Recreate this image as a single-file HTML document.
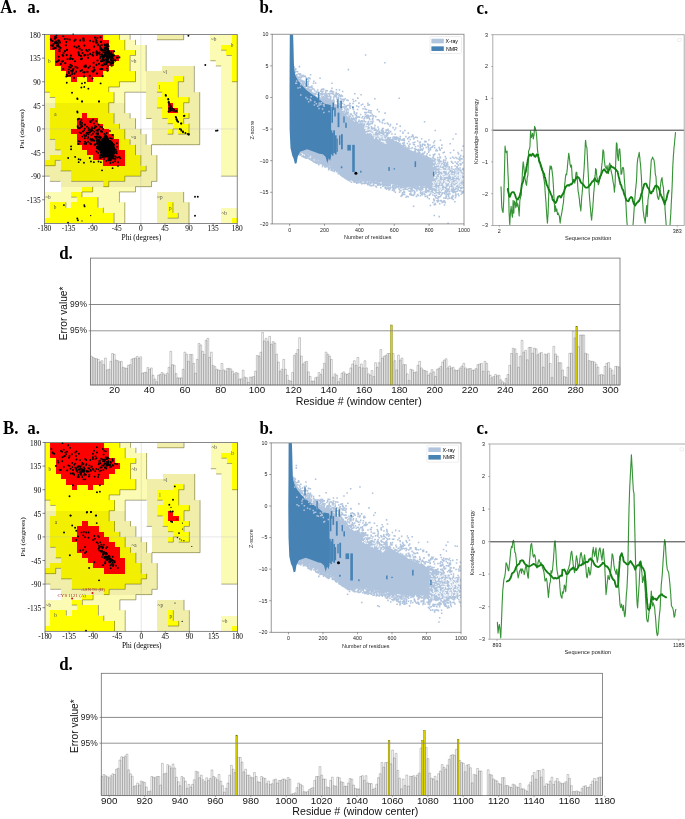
<!DOCTYPE html>
<html><head><meta charset="utf-8"><style>
html,body{margin:0;padding:0;background:#fff;width:685px;height:819px;overflow:hidden}
svg{display:block;will-change:transform}
</style></head><body>
<svg width="685" height="819" viewBox="0 0 685 819">
<rect width="685" height="819" fill="#fff"/>
<text transform="translate(0.20,13.40) scale(0.965,1.1)" font-size="17.5" font-family='"Liberation Serif", serif' font-weight="bold" fill="#000">A.</text>
<text transform="translate(27.20,13.30) scale(0.965,1.1)" font-size="17.5" font-family='"Liberation Serif", serif' font-weight="bold" fill="#000">a.</text>
<text transform="translate(259.40,13.10) scale(0.965,1.1)" font-size="17.5" font-family='"Liberation Serif", serif' font-weight="bold" fill="#000">b.</text>
<text transform="translate(476.60,13.50) scale(0.965,1.1)" font-size="17.5" font-family='"Liberation Serif", serif' font-weight="bold" fill="#000">c.</text>
<text transform="translate(59.20,258.80) scale(0.965,1.1)" font-size="17.5" font-family='"Liberation Serif", serif' font-weight="bold" fill="#000">d.</text>
<text transform="translate(3.00,433.80) scale(0.965,1.1)" font-size="17.5" font-family='"Liberation Serif", serif' font-weight="bold" fill="#000">B.</text>
<text transform="translate(27.20,433.80) scale(0.965,1.1)" font-size="17.5" font-family='"Liberation Serif", serif' font-weight="bold" fill="#000">a.</text>
<text transform="translate(259.40,433.60) scale(0.965,1.1)" font-size="17.5" font-family='"Liberation Serif", serif' font-weight="bold" fill="#000">b.</text>
<text transform="translate(476.60,433.70) scale(0.965,1.1)" font-size="17.5" font-family='"Liberation Serif", serif' font-weight="bold" fill="#000">c.</text>
<text transform="translate(59.20,669.90) scale(0.965,1.1)" font-size="17.5" font-family='"Liberation Serif", serif' font-weight="bold" fill="#000">d.</text>
<g transform="translate(44.50,34.50)">
<g shape-rendering="crispEdges">
<rect x="0.00" y="0.00" width="5.40" height="5.30" fill="#ffff00"/>
<rect x="5.35" y="0.00" width="53.58" height="5.30" fill="#ff0000"/>
<rect x="58.88" y="0.00" width="16.11" height="5.30" fill="#ffff00"/>
<rect x="74.94" y="0.00" width="10.76" height="5.30" fill="#fcfbb4"/>
<rect x="112.41" y="0.00" width="26.81" height="5.30" fill="#f0eea8"/>
<rect x="165.94" y="0.00" width="21.46" height="5.30" fill="#fcfbb4"/>
<rect x="187.35" y="0.00" width="5.40" height="5.30" fill="#ffff00"/>
<rect x="0.00" y="5.25" width="5.40" height="5.30" fill="#ffff00"/>
<rect x="5.35" y="5.25" width="58.93" height="5.30" fill="#ff0000"/>
<rect x="64.23" y="5.25" width="16.11" height="5.30" fill="#ffff00"/>
<rect x="80.29" y="5.25" width="10.76" height="5.30" fill="#fcfbb4"/>
<rect x="165.94" y="5.25" width="21.46" height="5.30" fill="#fcfbb4"/>
<rect x="187.35" y="5.25" width="5.40" height="5.30" fill="#ffff00"/>
<rect x="0.00" y="10.49" width="5.40" height="5.30" fill="#ffff00"/>
<rect x="5.35" y="10.49" width="58.93" height="5.30" fill="#ff0000"/>
<rect x="64.23" y="10.49" width="16.11" height="5.30" fill="#ffff00"/>
<rect x="80.29" y="10.49" width="21.46" height="5.30" fill="#fcfbb4"/>
<rect x="165.94" y="10.49" width="10.76" height="5.30" fill="#fcfbb4"/>
<rect x="176.64" y="10.49" width="16.11" height="5.30" fill="#ffff00"/>
<rect x="0.00" y="15.74" width="10.76" height="5.30" fill="#ffff00"/>
<rect x="10.71" y="15.74" width="58.93" height="5.30" fill="#ff0000"/>
<rect x="69.59" y="15.74" width="21.46" height="5.30" fill="#ffff00"/>
<rect x="91.00" y="15.74" width="10.76" height="5.30" fill="#fcfbb4"/>
<rect x="165.94" y="15.74" width="16.11" height="5.30" fill="#fcfbb4"/>
<rect x="181.99" y="15.74" width="10.76" height="5.30" fill="#ffff00"/>
<rect x="0.00" y="20.99" width="10.76" height="5.30" fill="#ffff00"/>
<rect x="10.71" y="20.99" width="64.28" height="5.30" fill="#ff0000"/>
<rect x="74.94" y="20.99" width="10.76" height="5.30" fill="#ffff00"/>
<rect x="85.64" y="20.99" width="16.11" height="5.30" fill="#fcfbb4"/>
<rect x="165.94" y="20.99" width="21.46" height="5.30" fill="#fcfbb4"/>
<rect x="187.35" y="20.99" width="5.40" height="5.30" fill="#ffff00"/>
<rect x="0.00" y="26.24" width="10.76" height="5.30" fill="#ffff00"/>
<rect x="10.71" y="26.24" width="58.93" height="5.30" fill="#ff0000"/>
<rect x="69.59" y="26.24" width="16.11" height="5.30" fill="#ffff00"/>
<rect x="85.64" y="26.24" width="16.11" height="5.30" fill="#fcfbb4"/>
<rect x="171.29" y="26.24" width="16.11" height="5.30" fill="#fcfbb4"/>
<rect x="187.35" y="26.24" width="5.40" height="5.30" fill="#ffff00"/>
<rect x="0.00" y="31.48" width="16.11" height="5.30" fill="#ffff00"/>
<rect x="16.06" y="31.48" width="48.22" height="5.30" fill="#ff0000"/>
<rect x="64.23" y="31.48" width="21.46" height="5.30" fill="#ffff00"/>
<rect x="85.64" y="31.48" width="16.11" height="5.30" fill="#fcfbb4"/>
<rect x="117.76" y="31.48" width="32.17" height="5.30" fill="#f0eea8"/>
<rect x="176.64" y="31.48" width="10.76" height="5.30" fill="#fcfbb4"/>
<rect x="187.35" y="31.48" width="5.40" height="5.30" fill="#ffff00"/>
<rect x="0.00" y="36.73" width="21.46" height="5.30" fill="#ffff00"/>
<rect x="21.41" y="36.73" width="37.52" height="5.30" fill="#ff0000"/>
<rect x="58.88" y="36.73" width="32.17" height="5.30" fill="#ffff00"/>
<rect x="91.00" y="36.73" width="10.76" height="5.30" fill="#fcfbb4"/>
<rect x="101.70" y="36.73" width="48.22" height="5.30" fill="#f0eea8"/>
<rect x="176.64" y="36.73" width="10.76" height="5.30" fill="#fcfbb4"/>
<rect x="187.35" y="36.73" width="5.40" height="5.30" fill="#ffff00"/>
<rect x="0.00" y="41.98" width="26.81" height="5.30" fill="#ffff00"/>
<rect x="26.76" y="41.98" width="5.40" height="5.30" fill="#ff0000"/>
<rect x="32.12" y="41.98" width="10.76" height="5.30" fill="#ffff00"/>
<rect x="42.82" y="41.98" width="5.40" height="5.30" fill="#ff0000"/>
<rect x="48.17" y="41.98" width="42.87" height="5.30" fill="#ffff00"/>
<rect x="91.00" y="41.98" width="10.76" height="5.30" fill="#fcfbb4"/>
<rect x="101.70" y="41.98" width="26.81" height="5.30" fill="#f0eea8"/>
<rect x="128.47" y="41.98" width="10.76" height="5.30" fill="#ffff00"/>
<rect x="139.17" y="41.98" width="10.76" height="5.30" fill="#f0eea8"/>
<rect x="176.64" y="41.98" width="10.76" height="5.30" fill="#fcfbb4"/>
<rect x="187.35" y="41.98" width="5.40" height="5.30" fill="#ffff00"/>
<rect x="0.00" y="47.23" width="74.99" height="5.30" fill="#ffff00"/>
<rect x="74.94" y="47.23" width="26.81" height="5.30" fill="#fcfbb4"/>
<rect x="101.70" y="47.23" width="10.76" height="5.30" fill="#f0eea8"/>
<rect x="112.41" y="47.23" width="21.46" height="5.30" fill="#ffff00"/>
<rect x="133.82" y="47.23" width="16.11" height="5.30" fill="#f0eea8"/>
<rect x="176.64" y="47.23" width="16.11" height="5.30" fill="#fcfbb4"/>
<rect x="0.00" y="52.47" width="64.28" height="5.30" fill="#ffff00"/>
<rect x="64.23" y="52.47" width="37.52" height="5.30" fill="#fcfbb4"/>
<rect x="101.70" y="52.47" width="10.76" height="5.30" fill="#f0eea8"/>
<rect x="112.41" y="52.47" width="21.46" height="5.30" fill="#ffff00"/>
<rect x="133.82" y="52.47" width="16.11" height="5.30" fill="#f0eea8"/>
<rect x="176.64" y="52.47" width="16.11" height="5.30" fill="#fcfbb4"/>
<rect x="0.00" y="57.72" width="5.40" height="5.30" fill="#fcfbb4"/>
<rect x="5.35" y="57.72" width="64.28" height="5.30" fill="#ffff00"/>
<rect x="69.59" y="57.72" width="10.76" height="5.30" fill="#fcfbb4"/>
<rect x="101.70" y="57.72" width="16.11" height="5.30" fill="#f0eea8"/>
<rect x="117.76" y="57.72" width="16.11" height="5.30" fill="#ffff00"/>
<rect x="133.82" y="57.72" width="21.46" height="5.30" fill="#f0eea8"/>
<rect x="176.64" y="57.72" width="16.11" height="5.30" fill="#fcfbb4"/>
<rect x="0.00" y="62.97" width="10.76" height="5.30" fill="#fcfbb4"/>
<rect x="10.71" y="62.97" width="58.93" height="5.30" fill="#ffff00"/>
<rect x="69.59" y="62.97" width="10.76" height="5.30" fill="#fcfbb4"/>
<rect x="101.70" y="62.97" width="10.76" height="5.30" fill="#f0eea8"/>
<rect x="112.41" y="62.97" width="32.17" height="5.30" fill="#ffff00"/>
<rect x="144.53" y="62.97" width="10.76" height="5.30" fill="#f0eea8"/>
<rect x="176.64" y="62.97" width="16.11" height="5.30" fill="#fcfbb4"/>
<rect x="0.00" y="68.21" width="10.76" height="5.30" fill="#f0eea8"/>
<rect x="10.71" y="68.21" width="53.58" height="5.30" fill="#f2f000"/>
<rect x="64.23" y="68.21" width="16.11" height="5.30" fill="#f0eea8"/>
<rect x="101.70" y="68.21" width="10.76" height="5.30" fill="#f0eea8"/>
<rect x="112.41" y="68.21" width="10.76" height="5.30" fill="#ffff00"/>
<rect x="123.11" y="68.21" width="5.40" height="5.30" fill="#ff0000"/>
<rect x="128.47" y="68.21" width="10.76" height="5.30" fill="#ffff00"/>
<rect x="139.17" y="68.21" width="16.11" height="5.30" fill="#f0eea8"/>
<rect x="176.64" y="68.21" width="16.11" height="5.30" fill="#fcfbb4"/>
<rect x="0.00" y="73.46" width="5.40" height="5.30" fill="#f0eea8"/>
<rect x="5.35" y="73.46" width="58.93" height="5.30" fill="#f2f000"/>
<rect x="64.23" y="73.46" width="16.11" height="5.30" fill="#f0eea8"/>
<rect x="101.70" y="73.46" width="16.11" height="5.30" fill="#f0eea8"/>
<rect x="117.76" y="73.46" width="5.40" height="5.30" fill="#ffff00"/>
<rect x="123.11" y="73.46" width="10.76" height="5.30" fill="#ff0000"/>
<rect x="133.82" y="73.46" width="5.40" height="5.30" fill="#ffff00"/>
<rect x="139.17" y="73.46" width="16.11" height="5.30" fill="#f0eea8"/>
<rect x="176.64" y="73.46" width="16.11" height="5.30" fill="#fcfbb4"/>
<rect x="0.00" y="78.71" width="5.40" height="5.30" fill="#f0eea8"/>
<rect x="5.35" y="78.71" width="32.17" height="5.30" fill="#f2f000"/>
<rect x="37.47" y="78.71" width="5.40" height="5.30" fill="#f80000"/>
<rect x="42.82" y="78.71" width="26.81" height="5.30" fill="#f2f000"/>
<rect x="69.59" y="78.71" width="16.11" height="5.30" fill="#f0eea8"/>
<rect x="101.70" y="78.71" width="16.11" height="5.30" fill="#f0eea8"/>
<rect x="117.76" y="78.71" width="26.81" height="5.30" fill="#ffff00"/>
<rect x="144.53" y="78.71" width="10.76" height="5.30" fill="#f0eea8"/>
<rect x="176.64" y="78.71" width="16.11" height="5.30" fill="#fcfbb4"/>
<rect x="0.00" y="83.96" width="5.40" height="5.30" fill="#f0eea8"/>
<rect x="5.35" y="83.96" width="26.81" height="5.30" fill="#f2f000"/>
<rect x="32.12" y="83.96" width="21.46" height="5.30" fill="#f80000"/>
<rect x="53.53" y="83.96" width="16.11" height="5.30" fill="#f2f000"/>
<rect x="69.59" y="83.96" width="21.46" height="5.30" fill="#f0eea8"/>
<rect x="107.06" y="83.96" width="16.11" height="5.30" fill="#f0eea8"/>
<rect x="123.11" y="83.96" width="16.11" height="5.30" fill="#ffff00"/>
<rect x="139.17" y="83.96" width="16.11" height="5.30" fill="#f0eea8"/>
<rect x="176.64" y="83.96" width="16.11" height="5.30" fill="#fcfbb4"/>
<rect x="0.00" y="89.20" width="5.40" height="5.30" fill="#f0eea8"/>
<rect x="5.35" y="89.20" width="26.81" height="5.30" fill="#f2f000"/>
<rect x="32.12" y="89.20" width="26.81" height="5.30" fill="#f80000"/>
<rect x="58.88" y="89.20" width="16.11" height="5.30" fill="#f2f000"/>
<rect x="74.94" y="89.20" width="16.11" height="5.30" fill="#f0eea8"/>
<rect x="107.06" y="89.20" width="21.46" height="5.30" fill="#f0eea8"/>
<rect x="128.47" y="89.20" width="16.11" height="5.30" fill="#ffff00"/>
<rect x="144.53" y="89.20" width="10.76" height="5.30" fill="#f0eea8"/>
<rect x="176.64" y="89.20" width="16.11" height="5.30" fill="#fcfbb4"/>
<rect x="0.00" y="94.45" width="5.40" height="5.30" fill="#f0eea8"/>
<rect x="5.35" y="94.45" width="21.46" height="5.30" fill="#f2f000"/>
<rect x="26.76" y="94.45" width="37.52" height="5.30" fill="#f80000"/>
<rect x="64.23" y="94.45" width="16.11" height="5.30" fill="#f2f000"/>
<rect x="80.29" y="94.45" width="16.11" height="5.30" fill="#f0eea8"/>
<rect x="107.06" y="94.45" width="16.11" height="5.30" fill="#f0eea8"/>
<rect x="123.11" y="94.45" width="5.40" height="5.30" fill="#ffff00"/>
<rect x="128.47" y="94.45" width="5.40" height="5.30" fill="#f0eea8"/>
<rect x="133.82" y="94.45" width="10.76" height="5.30" fill="#ffff00"/>
<rect x="144.53" y="94.45" width="10.76" height="5.30" fill="#f0eea8"/>
<rect x="176.64" y="94.45" width="16.11" height="5.30" fill="#fcfbb4"/>
<rect x="0.00" y="99.70" width="5.40" height="5.30" fill="#f0eea8"/>
<rect x="5.35" y="99.70" width="26.81" height="5.30" fill="#f2f000"/>
<rect x="32.12" y="99.70" width="37.52" height="5.30" fill="#f80000"/>
<rect x="69.59" y="99.70" width="10.76" height="5.30" fill="#f2f000"/>
<rect x="80.29" y="99.70" width="21.46" height="5.30" fill="#f0eea8"/>
<rect x="107.06" y="99.70" width="48.22" height="5.30" fill="#f0eea8"/>
<rect x="176.64" y="99.70" width="16.11" height="5.30" fill="#fcfbb4"/>
<rect x="0.00" y="104.94" width="10.76" height="5.30" fill="#f0eea8"/>
<rect x="10.71" y="104.94" width="21.46" height="5.30" fill="#f2f000"/>
<rect x="32.12" y="104.94" width="42.87" height="5.30" fill="#f80000"/>
<rect x="74.94" y="104.94" width="10.76" height="5.30" fill="#f2f000"/>
<rect x="85.64" y="104.94" width="16.11" height="5.30" fill="#f0eea8"/>
<rect x="107.06" y="104.94" width="48.22" height="5.30" fill="#f0eea8"/>
<rect x="176.64" y="104.94" width="16.11" height="5.30" fill="#fcfbb4"/>
<rect x="0.00" y="110.19" width="10.76" height="5.30" fill="#f0eea8"/>
<rect x="10.71" y="110.19" width="26.81" height="5.30" fill="#f2f000"/>
<rect x="37.47" y="110.19" width="37.52" height="5.30" fill="#f80000"/>
<rect x="74.94" y="110.19" width="16.11" height="5.30" fill="#f2f000"/>
<rect x="91.00" y="110.19" width="16.11" height="5.30" fill="#f0eea8"/>
<rect x="176.64" y="110.19" width="16.11" height="5.30" fill="#fcfbb4"/>
<rect x="0.00" y="115.44" width="16.11" height="5.30" fill="#f0eea8"/>
<rect x="16.06" y="115.44" width="26.81" height="5.30" fill="#f2f000"/>
<rect x="42.82" y="115.44" width="37.52" height="5.30" fill="#f80000"/>
<rect x="80.29" y="115.44" width="10.76" height="5.30" fill="#f2f000"/>
<rect x="91.00" y="115.44" width="16.11" height="5.30" fill="#f0eea8"/>
<rect x="176.64" y="115.44" width="16.11" height="5.30" fill="#fcfbb4"/>
<rect x="0.00" y="120.69" width="5.40" height="5.30" fill="#f0eea8"/>
<rect x="5.35" y="120.69" width="42.87" height="5.30" fill="#f2f000"/>
<rect x="48.17" y="120.69" width="32.17" height="5.30" fill="#f80000"/>
<rect x="80.29" y="120.69" width="16.11" height="5.30" fill="#f2f000"/>
<rect x="96.35" y="120.69" width="16.11" height="5.30" fill="#f0eea8"/>
<rect x="176.64" y="120.69" width="16.11" height="5.30" fill="#fcfbb4"/>
<rect x="0.00" y="125.93" width="10.76" height="5.30" fill="#f2f000"/>
<rect x="10.71" y="125.93" width="5.40" height="5.30" fill="#f0eea8"/>
<rect x="16.06" y="125.93" width="42.87" height="5.30" fill="#f2f000"/>
<rect x="58.88" y="125.93" width="21.46" height="5.30" fill="#f80000"/>
<rect x="80.29" y="125.93" width="16.11" height="5.30" fill="#f2f000"/>
<rect x="96.35" y="125.93" width="16.11" height="5.30" fill="#f0eea8"/>
<rect x="176.64" y="125.93" width="16.11" height="5.30" fill="#fcfbb4"/>
<rect x="0.00" y="131.18" width="16.11" height="5.30" fill="#f0eea8"/>
<rect x="16.06" y="131.18" width="85.69" height="5.30" fill="#f2f000"/>
<rect x="101.70" y="131.18" width="10.76" height="5.30" fill="#f0eea8"/>
<rect x="176.64" y="131.18" width="16.11" height="5.30" fill="#fcfbb4"/>
<rect x="0.00" y="136.43" width="26.81" height="5.30" fill="#f0eea8"/>
<rect x="26.76" y="136.43" width="69.64" height="5.30" fill="#f2f000"/>
<rect x="96.35" y="136.43" width="16.11" height="5.30" fill="#f0eea8"/>
<rect x="176.64" y="136.43" width="16.11" height="5.30" fill="#fcfbb4"/>
<rect x="5.35" y="141.68" width="21.46" height="5.30" fill="#f0eea8"/>
<rect x="26.76" y="141.68" width="53.58" height="5.30" fill="#f2f000"/>
<rect x="80.29" y="141.68" width="32.17" height="5.30" fill="#f0eea8"/>
<rect x="16.06" y="146.92" width="42.87" height="5.30" fill="#f0eea8"/>
<rect x="58.88" y="146.92" width="5.40" height="5.30" fill="#f2f000"/>
<rect x="64.23" y="146.92" width="42.87" height="5.30" fill="#f0eea8"/>
<rect x="16.06" y="152.17" width="21.46" height="5.30" fill="#fcfbb4"/>
<rect x="37.47" y="152.17" width="10.76" height="5.30" fill="#ffff00"/>
<rect x="48.17" y="152.17" width="42.87" height="5.30" fill="#fcfbb4"/>
<rect x="0.00" y="157.42" width="26.81" height="5.30" fill="#fcfbb4"/>
<rect x="26.76" y="157.42" width="10.76" height="5.30" fill="#ffff00"/>
<rect x="37.47" y="157.42" width="37.52" height="5.30" fill="#fcfbb4"/>
<rect x="112.41" y="157.42" width="26.81" height="5.30" fill="#f0eea8"/>
<rect x="0.00" y="162.66" width="32.17" height="5.30" fill="#fcfbb4"/>
<rect x="32.12" y="162.66" width="21.46" height="5.30" fill="#ffff00"/>
<rect x="53.53" y="162.66" width="21.46" height="5.30" fill="#fcfbb4"/>
<rect x="112.41" y="162.66" width="26.81" height="5.30" fill="#f0eea8"/>
<rect x="0.00" y="167.91" width="5.40" height="5.30" fill="#fcfbb4"/>
<rect x="5.35" y="167.91" width="16.11" height="5.30" fill="#ffff00"/>
<rect x="21.41" y="167.91" width="5.40" height="5.30" fill="#fcfbb4"/>
<rect x="26.76" y="167.91" width="26.81" height="5.30" fill="#ffff00"/>
<rect x="53.53" y="167.91" width="26.81" height="5.30" fill="#fcfbb4"/>
<rect x="112.41" y="167.91" width="10.76" height="5.30" fill="#f0eea8"/>
<rect x="123.11" y="167.91" width="5.40" height="5.30" fill="#ffff00"/>
<rect x="128.47" y="167.91" width="16.11" height="5.30" fill="#f0eea8"/>
<rect x="0.00" y="173.16" width="5.40" height="5.30" fill="#fcfbb4"/>
<rect x="5.35" y="173.16" width="53.58" height="5.30" fill="#ffff00"/>
<rect x="58.88" y="173.16" width="21.46" height="5.30" fill="#fcfbb4"/>
<rect x="112.41" y="173.16" width="10.76" height="5.30" fill="#f0eea8"/>
<rect x="123.11" y="173.16" width="5.40" height="5.30" fill="#ffff00"/>
<rect x="128.47" y="173.16" width="16.11" height="5.30" fill="#f0eea8"/>
<rect x="176.64" y="173.16" width="16.11" height="5.30" fill="#fcfbb4"/>
<rect x="0.00" y="178.41" width="5.40" height="5.30" fill="#fcfbb4"/>
<rect x="5.35" y="178.41" width="64.28" height="5.30" fill="#ffff00"/>
<rect x="69.59" y="178.41" width="10.76" height="5.30" fill="#fcfbb4"/>
<rect x="112.41" y="178.41" width="10.76" height="5.30" fill="#f0eea8"/>
<rect x="123.11" y="178.41" width="10.76" height="5.30" fill="#ffff00"/>
<rect x="133.82" y="178.41" width="10.76" height="5.30" fill="#f0eea8"/>
<rect x="176.64" y="178.41" width="16.11" height="5.30" fill="#fcfbb4"/>
<rect x="0.00" y="183.65" width="69.64" height="5.30" fill="#ffff00"/>
<rect x="69.59" y="183.65" width="10.76" height="5.30" fill="#fcfbb4"/>
<rect x="112.41" y="183.65" width="32.17" height="5.30" fill="#f0eea8"/>
<rect x="176.64" y="183.65" width="10.76" height="5.30" fill="#fcfbb4"/>
<rect x="187.35" y="183.65" width="5.40" height="5.30" fill="#ffff00"/>
</g>
<path d="M74.94 0.00V5.25M85.64 0.00V5.25M139.17 0.00V5.25M80.29 5.25V10.49M91.00 5.25V10.49M80.29 10.49V15.74M101.70 10.49V15.74M91.00 15.74V20.99M101.70 15.74V20.99M85.64 20.99V26.24M101.70 20.99V26.24M85.64 26.24V31.48M101.70 26.24V31.48M85.64 31.48V36.73M101.70 31.48V36.73M149.88 31.48V36.73M91.00 36.73V41.98M149.88 36.73V41.98M91.00 41.98V47.23M139.17 41.98V47.23M149.88 41.98V47.23M74.94 47.23V52.47M133.82 47.23V52.47M149.88 47.23V52.47M64.23 52.47V57.72M133.82 52.47V57.72M149.88 52.47V57.72M69.59 57.72V62.97M80.29 57.72V62.97M133.82 57.72V62.97M155.23 57.72V62.97M69.59 62.97V68.21M80.29 62.97V68.21M144.53 62.97V68.21M155.23 62.97V68.21M64.23 68.21V73.46M80.29 68.21V73.46M139.17 68.21V73.46M155.23 68.21V73.46M64.23 73.46V78.71M80.29 73.46V78.71M139.17 73.46V78.71M155.23 73.46V78.71M69.59 78.71V83.96M85.64 78.71V83.96M144.53 78.71V83.96M155.23 78.71V83.96M69.59 83.96V89.20M91.00 83.96V89.20M139.17 83.96V89.20M155.23 83.96V89.20M74.94 89.20V94.45M91.00 89.20V94.45M144.53 89.20V94.45M155.23 89.20V94.45M80.29 94.45V99.70M96.35 94.45V99.70M128.47 94.45V99.70M144.53 94.45V99.70M155.23 94.45V99.70M80.29 99.70V104.94M101.70 99.70V104.94M155.23 99.70V104.94M85.64 104.94V110.19M101.70 104.94V110.19M155.23 104.94V110.19M91.00 110.19V115.44M107.06 110.19V115.44M91.00 115.44V120.69M107.06 115.44V120.69M96.35 120.69V125.93M112.41 120.69V125.93M10.71 125.93V131.18M96.35 125.93V131.18M112.41 125.93V131.18M101.70 131.18V136.43M112.41 131.18V136.43M96.35 136.43V141.68M112.41 136.43V141.68M80.29 141.68V146.92M112.41 141.68V146.92M64.23 146.92V152.17M107.06 146.92V152.17M48.17 152.17V157.42M91.00 152.17V157.42M37.47 157.42V162.66M74.94 157.42V162.66M139.17 157.42V162.66M53.53 162.66V167.91M74.94 162.66V167.91M139.17 162.66V167.91M21.41 167.91V173.16M53.53 167.91V173.16M80.29 167.91V173.16M128.47 167.91V173.16M144.53 167.91V173.16M58.88 173.16V178.41M80.29 173.16V178.41M128.47 173.16V178.41M144.53 173.16V178.41M69.59 178.41V183.65M80.29 178.41V183.65M133.82 178.41V183.65M144.53 178.41V183.65M69.59 183.65V188.90M80.29 183.65V188.90M144.53 183.65V188.90M112.41 5.25H117.76M117.76 5.25H123.11M123.11 5.25H128.47M128.47 5.25H133.82M133.82 5.25H139.17M176.64 15.74H181.99M85.64 20.99H91.00M181.99 20.99H187.35M165.94 26.24H171.29M171.29 31.48H176.64M74.94 47.23H80.29M80.29 47.23H85.64M85.64 47.23H91.00M133.82 47.23H139.17M187.35 47.23H192.70M64.23 52.47H69.59M69.59 52.47H74.94M0.00 57.72H5.35M80.29 57.72H85.64M85.64 57.72H91.00M91.00 57.72H96.35M96.35 57.72H101.70M112.41 57.72H117.76M5.35 62.97H10.71M64.23 68.21H69.59M139.17 68.21H144.53M112.41 73.46H117.76M101.70 83.96H107.06M117.76 83.96H123.11M139.17 83.96H144.53M123.11 89.20H128.47M128.47 94.45H133.82M123.11 99.70H128.47M133.82 99.70H139.17M139.17 99.70H144.53M5.35 104.94H10.71M107.06 110.19H112.41M112.41 110.19H117.76M117.76 110.19H123.11M123.11 110.19H128.47M128.47 110.19H133.82M133.82 110.19H139.17M139.17 110.19H144.53M144.53 110.19H149.88M149.88 110.19H155.23M10.71 115.44H16.06M10.71 125.93H16.06M0.00 131.18H5.35M5.35 131.18H10.71M16.06 136.43H21.41M21.41 136.43H26.76M96.35 136.43H101.70M0.00 141.68H5.35M80.29 141.68H85.64M85.64 141.68H91.00M91.00 141.68H96.35M176.64 141.68H181.99M181.99 141.68H187.35M187.35 141.68H192.70M5.35 146.92H10.71M10.71 146.92H16.06M26.76 146.92H32.12M32.12 146.92H37.47M37.47 146.92H42.82M42.82 146.92H48.17M48.17 146.92H53.53M53.53 146.92H58.88M64.23 146.92H69.59M69.59 146.92H74.94M74.94 146.92H80.29M107.06 146.92H112.41M58.88 152.17H64.23M91.00 152.17H96.35M96.35 152.17H101.70M101.70 152.17H107.06M37.47 157.42H42.82M42.82 157.42H48.17M74.94 157.42H80.29M80.29 157.42H85.64M85.64 157.42H91.00M26.76 162.66H32.12M123.11 183.65H128.47M128.47 183.65H133.82" fill="none" stroke="#5a5826" stroke-width="0.60" stroke-opacity="0.85"/>
<text x="4.8" y="28.5" font-size="5.2" font-family='"Liberation Serif", serif' fill="#4a4a4a" text-anchor="middle">b</text>
<text x="89.2" y="28.8" font-size="5.2" font-family='"Liberation Serif", serif' fill="#4a4a4a" text-anchor="middle">~b</text>
<text x="10.8" y="81.3" font-size="5.2" font-family='"Liberation Serif", serif' fill="#4a4a4a" text-anchor="middle">a</text>
<text x="89.1" y="104.6" font-size="5.2" font-family='"Liberation Serif", serif' fill="#4a4a4a" text-anchor="middle">~a</text>
<text x="120.4" y="39.0" font-size="5.2" font-family='"Liberation Serif", serif' fill="#4a4a4a" text-anchor="middle">~l</text>
<text x="115.1" y="54.2" font-size="5.2" font-family='"Liberation Serif", serif' fill="#4a4a4a" text-anchor="middle">l</text>
<text x="115.3" y="164.9" font-size="5.2" font-family='"Liberation Serif", serif' fill="#4a4a4a" text-anchor="middle">~p</text>
<text x="125.9" y="175.4" font-size="5.2" font-family='"Liberation Serif", serif' fill="#4a4a4a" text-anchor="middle">p</text>
<text x="179.7" y="180.7" font-size="5.2" font-family='"Liberation Serif", serif' fill="#4a4a4a" text-anchor="middle">~b</text>
<text x="169.1" y="6.9" font-size="5.2" font-family='"Liberation Serif", serif' fill="#4a4a4a" text-anchor="middle">~b</text>
<text x="187.5" y="12.3" font-size="5.2" font-family='"Liberation Serif", serif' fill="#4a4a4a" text-anchor="middle">b</text>
<text x="3.5" y="164.8" font-size="5.2" font-family='"Liberation Serif", serif' fill="#4a4a4a" text-anchor="middle">~b</text>
<text x="10.5" y="174.8" font-size="5.2" font-family='"Liberation Serif", serif' fill="#4a4a4a" text-anchor="middle">b</text>
<text x="10.0" y="4.8" font-size="5.2" font-family='"Liberation Serif", serif' fill="#4a4a4a" text-anchor="middle">B</text>
<line x1="96.35" y1="0" x2="96.35" y2="188.90" stroke="#bdbdbd" stroke-width="0.5" stroke-opacity="0.7"/>
<line x1="0" y1="94.45" x2="192.70" y2="94.45" stroke="#bdbdbd" stroke-width="0.5" stroke-opacity="0.7"/>
<g shape-rendering="crispEdges"><rect x="5.35" y="0.00" width="53.58" height="5.30" fill="#ff0000"/>
<rect x="5.35" y="5.25" width="58.93" height="5.30" fill="#ff0000"/>
<rect x="5.35" y="10.49" width="58.93" height="5.30" fill="#ff0000"/>
<rect x="10.71" y="15.74" width="58.93" height="5.30" fill="#ff0000"/>
<rect x="10.71" y="20.99" width="64.28" height="5.30" fill="#ff0000"/>
<rect x="10.71" y="26.24" width="58.93" height="5.30" fill="#ff0000"/>
<rect x="16.06" y="31.48" width="48.22" height="5.30" fill="#ff0000"/>
<rect x="21.41" y="36.73" width="37.52" height="5.30" fill="#ff0000"/>
<rect x="26.76" y="41.98" width="5.40" height="5.30" fill="#ff0000"/>
<rect x="42.82" y="41.98" width="5.40" height="5.30" fill="#ff0000"/>
<rect x="123.11" y="68.21" width="5.40" height="5.30" fill="#ff0000"/>
<rect x="123.11" y="73.46" width="10.76" height="5.30" fill="#ff0000"/>
<rect x="37.47" y="78.71" width="5.40" height="5.30" fill="#f80000"/>
<rect x="32.12" y="83.96" width="21.46" height="5.30" fill="#f80000"/>
<rect x="32.12" y="89.20" width="26.81" height="5.30" fill="#f80000"/>
<rect x="26.76" y="94.45" width="37.52" height="5.30" fill="#f80000"/>
<rect x="32.12" y="99.70" width="37.52" height="5.30" fill="#f80000"/>
<rect x="32.12" y="104.94" width="42.87" height="5.30" fill="#f80000"/>
<rect x="37.47" y="110.19" width="37.52" height="5.30" fill="#f80000"/>
<rect x="42.82" y="115.44" width="37.52" height="5.30" fill="#f80000"/>
<rect x="48.17" y="120.69" width="32.17" height="5.30" fill="#f80000"/>
<rect x="58.88" y="125.93" width="21.46" height="5.30" fill="#f80000"/></g>
<polygon points="61.2,99.0 63.2,102.2 65.2,106.2 67.6,107.8 70.0,111.8 70.8,115.8 70.0,119.1 69.2,123.1 67.6,125.5 65.2,124.3 62.8,122.3 59.6,123.1 57.2,121.5 55.6,118.3 54.0,115.8 51.6,114.2 52.4,111.0 54.8,108.6 57.2,106.2 58.8,103.0 60.0,100.6" fill="#000"/>
<circle cx="22.27" cy="48.30" r="0.95" fill="#000"/>
<circle cx="37.46" cy="48.89" r="0.95" fill="#000"/>
<circle cx="40.38" cy="48.30" r="0.95" fill="#000"/>
<circle cx="36.87" cy="52.97" r="0.95" fill="#000"/>
<circle cx="39.79" cy="52.39" r="0.95" fill="#000"/>
<circle cx="43.88" cy="54.14" r="0.95" fill="#000"/>
<circle cx="56.14" cy="48.89" r="0.95" fill="#000"/>
<circle cx="27.53" cy="58.23" r="0.95" fill="#000"/>
<circle cx="32.78" cy="64.07" r="0.95" fill="#000"/>
<circle cx="37.46" cy="66.99" r="0.95" fill="#000"/>
<circle cx="54.39" cy="66.99" r="0.95" fill="#000"/>
<circle cx="28.70" cy="-0.16" r="0.95" fill="#000"/>
<circle cx="32.78" cy="76.92" r="0.95" fill="#000"/>
<circle cx="8.99" cy="9.70" r="1.08" fill="#000"/>
<circle cx="28.25" cy="24.58" r="1.08" fill="#000"/>
<circle cx="23.21" cy="41.35" r="1.08" fill="#000"/>
<circle cx="65.36" cy="19.56" r="1.08" fill="#000"/>
<circle cx="60.18" cy="10.15" r="1.08" fill="#000"/>
<circle cx="59.95" cy="20.99" r="1.08" fill="#000"/>
<circle cx="14.74" cy="7.42" r="1.08" fill="#000"/>
<circle cx="62.05" cy="29.57" r="1.08" fill="#000"/>
<circle cx="52.75" cy="18.47" r="1.08" fill="#000"/>
<circle cx="64.54" cy="27.58" r="1.08" fill="#000"/>
<circle cx="63.25" cy="31.54" r="1.08" fill="#000"/>
<circle cx="52.88" cy="3.54" r="1.08" fill="#000"/>
<circle cx="14.85" cy="15.02" r="1.08" fill="#000"/>
<circle cx="32.88" cy="33.40" r="1.08" fill="#000"/>
<circle cx="63.75" cy="19.09" r="1.08" fill="#000"/>
<circle cx="22.34" cy="40.25" r="1.08" fill="#000"/>
<circle cx="24.20" cy="37.47" r="1.08" fill="#000"/>
<circle cx="60.20" cy="19.98" r="1.08" fill="#000"/>
<circle cx="22.88" cy="4.62" r="1.08" fill="#000"/>
<circle cx="42.94" cy="37.39" r="1.08" fill="#000"/>
<circle cx="26.15" cy="33.03" r="1.08" fill="#000"/>
<circle cx="59.05" cy="15.75" r="1.08" fill="#000"/>
<circle cx="18.48" cy="26.74" r="1.08" fill="#000"/>
<circle cx="62.46" cy="18.04" r="1.08" fill="#000"/>
<circle cx="63.24" cy="11.99" r="1.08" fill="#000"/>
<circle cx="57.31" cy="19.75" r="1.08" fill="#000"/>
<circle cx="65.05" cy="21.36" r="1.08" fill="#000"/>
<circle cx="67.30" cy="21.16" r="1.08" fill="#000"/>
<circle cx="39.92" cy="11.10" r="1.08" fill="#000"/>
<circle cx="62.67" cy="23.17" r="1.08" fill="#000"/>
<circle cx="52.53" cy="18.04" r="1.08" fill="#000"/>
<circle cx="64.87" cy="20.28" r="1.08" fill="#000"/>
<circle cx="18.75" cy="1.76" r="1.08" fill="#000"/>
<circle cx="48.64" cy="21.22" r="1.08" fill="#000"/>
<circle cx="57.15" cy="26.82" r="1.08" fill="#000"/>
<circle cx="62.25" cy="25.57" r="1.08" fill="#000"/>
<circle cx="38.13" cy="18.50" r="1.08" fill="#000"/>
<circle cx="47.88" cy="20.44" r="1.08" fill="#000"/>
<circle cx="64.60" cy="16.81" r="1.08" fill="#000"/>
<circle cx="25.79" cy="23.91" r="1.08" fill="#000"/>
<circle cx="65.77" cy="18.98" r="1.08" fill="#000"/>
<circle cx="53.19" cy="18.88" r="1.08" fill="#000"/>
<circle cx="57.87" cy="21.78" r="1.08" fill="#000"/>
<circle cx="12.66" cy="8.13" r="1.08" fill="#000"/>
<circle cx="72.58" cy="23.18" r="1.08" fill="#000"/>
<circle cx="54.96" cy="17.77" r="1.08" fill="#000"/>
<circle cx="36.04" cy="36.48" r="1.08" fill="#000"/>
<circle cx="65.40" cy="22.56" r="1.08" fill="#000"/>
<circle cx="14.30" cy="25.88" r="1.08" fill="#000"/>
<circle cx="13.65" cy="11.83" r="1.08" fill="#000"/>
<circle cx="66.94" cy="17.56" r="1.08" fill="#000"/>
<circle cx="66.58" cy="25.71" r="1.08" fill="#000"/>
<circle cx="67.61" cy="20.81" r="1.08" fill="#000"/>
<circle cx="25.62" cy="40.98" r="1.08" fill="#000"/>
<circle cx="62.67" cy="34.03" r="1.08" fill="#000"/>
<circle cx="68.68" cy="25.80" r="1.08" fill="#000"/>
<circle cx="24.76" cy="32.40" r="1.08" fill="#000"/>
<circle cx="74.85" cy="22.93" r="1.08" fill="#000"/>
<circle cx="6.84" cy="6.03" r="1.08" fill="#000"/>
<circle cx="65.61" cy="23.02" r="1.08" fill="#000"/>
<circle cx="59.86" cy="21.29" r="1.08" fill="#000"/>
<circle cx="21.40" cy="10.83" r="1.08" fill="#000"/>
<circle cx="48.86" cy="7.12" r="1.08" fill="#000"/>
<circle cx="43.09" cy="16.78" r="1.08" fill="#000"/>
<circle cx="62.11" cy="28.41" r="1.08" fill="#000"/>
<circle cx="49.82" cy="35.81" r="1.08" fill="#000"/>
<circle cx="64.63" cy="22.57" r="1.08" fill="#000"/>
<circle cx="28.56" cy="35.37" r="1.08" fill="#000"/>
<circle cx="25.54" cy="24.39" r="1.08" fill="#000"/>
<circle cx="66.80" cy="25.44" r="1.08" fill="#000"/>
<circle cx="61.61" cy="18.49" r="1.08" fill="#000"/>
<circle cx="62.34" cy="12.14" r="1.08" fill="#000"/>
<circle cx="57.25" cy="30.71" r="1.08" fill="#000"/>
<circle cx="41.32" cy="32.21" r="1.08" fill="#000"/>
<circle cx="14.70" cy="6.26" r="1.08" fill="#000"/>
<circle cx="13.18" cy="26.80" r="1.08" fill="#000"/>
<circle cx="62.67" cy="14.10" r="1.08" fill="#000"/>
<circle cx="67.57" cy="28.12" r="1.08" fill="#000"/>
<circle cx="62.62" cy="10.07" r="1.08" fill="#000"/>
<circle cx="21.84" cy="41.97" r="1.08" fill="#000"/>
<circle cx="56.21" cy="22.44" r="1.08" fill="#000"/>
<circle cx="55.28" cy="20.23" r="1.08" fill="#000"/>
<circle cx="36.60" cy="24.65" r="1.08" fill="#000"/>
<circle cx="63.26" cy="25.85" r="1.08" fill="#000"/>
<circle cx="49.89" cy="35.13" r="1.08" fill="#000"/>
<circle cx="62.56" cy="11.29" r="1.08" fill="#000"/>
<circle cx="45.47" cy="31.74" r="1.08" fill="#000"/>
<circle cx="62.13" cy="21.58" r="1.08" fill="#000"/>
<circle cx="52.13" cy="16.77" r="1.08" fill="#000"/>
<circle cx="66.73" cy="28.03" r="1.08" fill="#000"/>
<circle cx="51.94" cy="30.41" r="1.08" fill="#000"/>
<circle cx="57.79" cy="34.47" r="1.08" fill="#000"/>
<circle cx="66.43" cy="19.67" r="1.08" fill="#000"/>
<circle cx="52.51" cy="39.05" r="1.08" fill="#000"/>
<circle cx="56.51" cy="26.74" r="1.08" fill="#000"/>
<circle cx="66.26" cy="22.10" r="1.08" fill="#000"/>
<circle cx="25.12" cy="5.13" r="1.08" fill="#000"/>
<circle cx="51.29" cy="5.29" r="1.08" fill="#000"/>
<circle cx="60.30" cy="18.06" r="1.08" fill="#000"/>
<circle cx="55.45" cy="11.93" r="1.08" fill="#000"/>
<circle cx="56.05" cy="2.75" r="1.08" fill="#000"/>
<circle cx="27.55" cy="39.49" r="1.08" fill="#000"/>
<circle cx="31.03" cy="32.33" r="1.08" fill="#000"/>
<circle cx="10.90" cy="7.52" r="1.08" fill="#000"/>
<circle cx="56.27" cy="7.31" r="1.08" fill="#000"/>
<circle cx="65.47" cy="22.02" r="1.08" fill="#000"/>
<circle cx="15.03" cy="16.65" r="1.08" fill="#000"/>
<circle cx="13.77" cy="9.54" r="1.08" fill="#000"/>
<circle cx="11.76" cy="8.66" r="1.08" fill="#000"/>
<circle cx="61.64" cy="14.49" r="1.08" fill="#000"/>
<circle cx="64.13" cy="20.46" r="1.08" fill="#000"/>
<circle cx="22.44" cy="15.44" r="1.08" fill="#000"/>
<circle cx="28.24" cy="36.34" r="1.08" fill="#000"/>
<circle cx="47.88" cy="36.73" r="1.08" fill="#000"/>
<circle cx="26.64" cy="36.22" r="1.08" fill="#000"/>
<circle cx="62.97" cy="36.18" r="1.08" fill="#000"/>
<circle cx="52.02" cy="18.33" r="1.08" fill="#000"/>
<circle cx="31.59" cy="37.14" r="1.08" fill="#000"/>
<circle cx="39.15" cy="6.36" r="1.08" fill="#000"/>
<circle cx="58.89" cy="22.10" r="1.08" fill="#000"/>
<circle cx="60.91" cy="15.13" r="1.08" fill="#000"/>
<circle cx="59.03" cy="22.95" r="1.08" fill="#000"/>
<circle cx="64.29" cy="19.44" r="1.08" fill="#000"/>
<circle cx="54.43" cy="29.26" r="1.08" fill="#000"/>
<circle cx="57.46" cy="16.25" r="1.08" fill="#000"/>
<circle cx="57.13" cy="10.49" r="1.08" fill="#000"/>
<circle cx="12.84" cy="10.80" r="1.08" fill="#000"/>
<circle cx="58.85" cy="23.68" r="1.08" fill="#000"/>
<circle cx="27.34" cy="31.41" r="1.08" fill="#000"/>
<circle cx="40.13" cy="37.86" r="1.08" fill="#000"/>
<circle cx="50.44" cy="3.10" r="1.08" fill="#000"/>
<circle cx="54.81" cy="19.00" r="1.08" fill="#000"/>
<circle cx="64.66" cy="17.98" r="1.08" fill="#000"/>
<circle cx="45.49" cy="6.25" r="1.08" fill="#000"/>
<circle cx="14.60" cy="12.14" r="1.08" fill="#000"/>
<circle cx="57.73" cy="26.38" r="1.08" fill="#000"/>
<circle cx="61.02" cy="18.22" r="1.08" fill="#000"/>
<circle cx="62.45" cy="11.77" r="1.08" fill="#000"/>
<circle cx="61.43" cy="24.92" r="1.08" fill="#000"/>
<circle cx="43.15" cy="20.61" r="1.08" fill="#000"/>
<circle cx="24.30" cy="34.99" r="1.08" fill="#000"/>
<circle cx="26.35" cy="23.97" r="1.08" fill="#000"/>
<circle cx="29.99" cy="39.08" r="1.08" fill="#000"/>
<circle cx="34.22" cy="11.83" r="1.08" fill="#000"/>
<circle cx="66.66" cy="28.66" r="1.08" fill="#000"/>
<circle cx="68.03" cy="20.18" r="1.08" fill="#000"/>
<circle cx="30.48" cy="26.75" r="1.08" fill="#000"/>
<circle cx="61.55" cy="12.89" r="1.08" fill="#000"/>
<circle cx="11.97" cy="27.37" r="1.08" fill="#000"/>
<circle cx="8.05" cy="6.46" r="1.08" fill="#000"/>
<circle cx="68.17" cy="21.49" r="1.08" fill="#000"/>
<circle cx="15.61" cy="13.54" r="1.08" fill="#000"/>
<circle cx="55.79" cy="13.53" r="1.08" fill="#000"/>
<circle cx="40.87" cy="31.93" r="1.08" fill="#000"/>
<circle cx="62.75" cy="10.03" r="1.08" fill="#000"/>
<circle cx="6.98" cy="10.93" r="1.08" fill="#000"/>
<circle cx="58.24" cy="26.04" r="1.08" fill="#000"/>
<circle cx="25.92" cy="30.41" r="1.08" fill="#000"/>
<circle cx="34.36" cy="19.68" r="1.08" fill="#000"/>
<circle cx="38.87" cy="37.72" r="1.08" fill="#000"/>
<circle cx="59.39" cy="28.77" r="1.08" fill="#000"/>
<circle cx="60.62" cy="20.45" r="1.08" fill="#000"/>
<circle cx="60.92" cy="19.73" r="1.08" fill="#000"/>
<circle cx="30.98" cy="5.19" r="1.08" fill="#000"/>
<circle cx="39.04" cy="4.89" r="1.08" fill="#000"/>
<circle cx="15.95" cy="13.42" r="1.08" fill="#000"/>
<circle cx="15.50" cy="7.98" r="1.08" fill="#000"/>
<circle cx="63.58" cy="24.47" r="1.08" fill="#000"/>
<circle cx="58.88" cy="21.21" r="1.08" fill="#000"/>
<circle cx="63.68" cy="17.31" r="1.08" fill="#000"/>
<circle cx="52.31" cy="8.04" r="1.08" fill="#000"/>
<circle cx="63.09" cy="24.28" r="1.08" fill="#000"/>
<circle cx="49.24" cy="32.90" r="1.08" fill="#000"/>
<circle cx="43.51" cy="23.35" r="1.08" fill="#000"/>
<circle cx="11.67" cy="2.99" r="1.08" fill="#000"/>
<circle cx="32.14" cy="12.96" r="1.08" fill="#000"/>
<circle cx="68.24" cy="21.52" r="1.08" fill="#000"/>
<circle cx="11.24" cy="13.52" r="1.08" fill="#000"/>
<circle cx="62.57" cy="23.13" r="1.08" fill="#000"/>
<circle cx="22.20" cy="20.61" r="1.08" fill="#000"/>
<circle cx="45.68" cy="19.45" r="1.08" fill="#000"/>
<circle cx="63.75" cy="20.97" r="1.08" fill="#000"/>
<circle cx="59.23" cy="25.82" r="1.08" fill="#000"/>
<circle cx="62.11" cy="22.18" r="1.08" fill="#000"/>
<circle cx="61.38" cy="18.43" r="1.08" fill="#000"/>
<circle cx="11.85" cy="1.02" r="1.08" fill="#000"/>
<circle cx="18.71" cy="21.32" r="1.08" fill="#000"/>
<circle cx="13.80" cy="5.92" r="1.08" fill="#000"/>
<circle cx="63.76" cy="18.52" r="1.08" fill="#000"/>
<circle cx="44.01" cy="33.29" r="1.08" fill="#000"/>
<circle cx="35.64" cy="5.89" r="1.08" fill="#000"/>
<circle cx="21.84" cy="7.62" r="1.08" fill="#000"/>
<circle cx="58.34" cy="22.36" r="1.08" fill="#000"/>
<circle cx="69.57" cy="16.74" r="1.08" fill="#000"/>
<circle cx="52.96" cy="26.09" r="1.08" fill="#000"/>
<circle cx="49.61" cy="12.18" r="1.08" fill="#000"/>
<circle cx="61.31" cy="15.62" r="1.08" fill="#000"/>
<circle cx="68.38" cy="28.63" r="1.08" fill="#000"/>
<circle cx="37.16" cy="15.70" r="1.08" fill="#000"/>
<circle cx="66.38" cy="19.50" r="1.08" fill="#000"/>
<circle cx="53.40" cy="10.58" r="1.08" fill="#000"/>
<circle cx="23.08" cy="24.55" r="1.08" fill="#000"/>
<circle cx="59.99" cy="25.92" r="1.08" fill="#000"/>
<circle cx="55.66" cy="34.75" r="1.08" fill="#000"/>
<circle cx="63.17" cy="21.81" r="1.08" fill="#000"/>
<circle cx="63.24" cy="9.77" r="1.08" fill="#000"/>
<circle cx="57.00" cy="34.23" r="1.08" fill="#000"/>
<circle cx="27.50" cy="37.58" r="1.08" fill="#000"/>
<circle cx="48.85" cy="18.07" r="1.08" fill="#000"/>
<circle cx="53.57" cy="9.96" r="1.08" fill="#000"/>
<circle cx="55.48" cy="23.80" r="1.08" fill="#000"/>
<circle cx="64.04" cy="11.74" r="1.08" fill="#000"/>
<circle cx="64.65" cy="23.02" r="1.08" fill="#000"/>
<circle cx="11.52" cy="6.89" r="1.08" fill="#000"/>
<circle cx="60.49" cy="30.04" r="1.08" fill="#000"/>
<circle cx="29.96" cy="11.97" r="1.08" fill="#000"/>
<circle cx="63.20" cy="17.79" r="1.08" fill="#000"/>
<circle cx="67.14" cy="31.18" r="1.08" fill="#000"/>
<circle cx="62.58" cy="20.97" r="1.08" fill="#000"/>
<circle cx="64.20" cy="19.17" r="1.08" fill="#000"/>
<circle cx="18.77" cy="34.53" r="1.08" fill="#000"/>
<circle cx="61.75" cy="27.37" r="1.08" fill="#000"/>
<circle cx="67.57" cy="22.80" r="1.08" fill="#000"/>
<circle cx="47.97" cy="44.06" r="1.08" fill="#000"/>
<circle cx="35.12" cy="14.17" r="1.08" fill="#000"/>
<circle cx="8.84" cy="14.13" r="1.08" fill="#000"/>
<circle cx="63.84" cy="23.26" r="1.08" fill="#000"/>
<circle cx="57.66" cy="20.53" r="1.08" fill="#000"/>
<circle cx="17.32" cy="27.19" r="1.08" fill="#000"/>
<circle cx="12.75" cy="11.42" r="1.08" fill="#000"/>
<circle cx="24.33" cy="38.47" r="1.08" fill="#000"/>
<circle cx="39.49" cy="41.94" r="1.08" fill="#000"/>
<circle cx="10.00" cy="13.44" r="1.08" fill="#000"/>
<circle cx="59.88" cy="21.14" r="1.08" fill="#000"/>
<circle cx="6.34" cy="4.81" r="1.08" fill="#000"/>
<circle cx="10.37" cy="8.39" r="1.08" fill="#000"/>
<circle cx="63.54" cy="15.86" r="1.08" fill="#000"/>
<circle cx="39.69" cy="32.11" r="1.08" fill="#000"/>
<circle cx="20.79" cy="28.66" r="1.08" fill="#000"/>
<circle cx="57.59" cy="15.16" r="1.08" fill="#000"/>
<circle cx="28.91" cy="34.23" r="1.08" fill="#000"/>
<circle cx="66.11" cy="29.37" r="1.08" fill="#000"/>
<circle cx="16.26" cy="29.61" r="1.08" fill="#000"/>
<circle cx="45.20" cy="41.45" r="1.08" fill="#000"/>
<circle cx="60.51" cy="10.91" r="1.08" fill="#000"/>
<circle cx="60.22" cy="13.64" r="1.08" fill="#000"/>
<circle cx="61.32" cy="17.09" r="1.08" fill="#000"/>
<circle cx="60.45" cy="16.12" r="1.08" fill="#000"/>
<circle cx="18.14" cy="20.67" r="1.08" fill="#000"/>
<circle cx="63.78" cy="14.48" r="1.08" fill="#000"/>
<circle cx="56.53" cy="13.83" r="1.08" fill="#000"/>
<circle cx="39.64" cy="20.93" r="1.08" fill="#000"/>
<circle cx="14.30" cy="22.26" r="1.08" fill="#000"/>
<circle cx="56.63" cy="7.39" r="1.08" fill="#000"/>
<circle cx="44.84" cy="15.35" r="1.08" fill="#000"/>
<circle cx="20.43" cy="16.65" r="1.08" fill="#000"/>
<circle cx="58.97" cy="17.72" r="1.08" fill="#000"/>
<circle cx="52.30" cy="20.50" r="1.08" fill="#000"/>
<circle cx="26.40" cy="21.12" r="1.08" fill="#000"/>
<circle cx="56.08" cy="15.22" r="1.08" fill="#000"/>
<circle cx="48.77" cy="37.18" r="1.08" fill="#000"/>
<circle cx="36.44" cy="21.43" r="1.08" fill="#000"/>
<circle cx="51.99" cy="6.25" r="1.08" fill="#000"/>
<circle cx="58.43" cy="30.76" r="1.08" fill="#000"/>
<circle cx="38.89" cy="3.95" r="1.08" fill="#000"/>
<circle cx="60.19" cy="22.08" r="1.08" fill="#000"/>
<circle cx="70.74" cy="26.10" r="1.08" fill="#000"/>
<circle cx="57.86" cy="24.83" r="1.08" fill="#000"/>
<circle cx="40.47" cy="20.61" r="1.08" fill="#000"/>
<circle cx="41.14" cy="30.81" r="1.08" fill="#000"/>
<circle cx="19.13" cy="18.47" r="1.08" fill="#000"/>
<circle cx="58.17" cy="41.56" r="1.08" fill="#000"/>
<circle cx="29.40" cy="43.44" r="1.08" fill="#000"/>
<circle cx="62.06" cy="20.33" r="1.08" fill="#000"/>
<circle cx="34.00" cy="17.81" r="1.08" fill="#000"/>
<circle cx="10.34" cy="4.15" r="1.08" fill="#000"/>
<circle cx="70.69" cy="25.75" r="1.08" fill="#000"/>
<circle cx="63.99" cy="27.44" r="1.08" fill="#000"/>
<circle cx="49.10" cy="28.30" r="1.08" fill="#000"/>
<circle cx="20.25" cy="4.51" r="1.08" fill="#000"/>
<circle cx="37.36" cy="35.50" r="1.08" fill="#000"/>
<circle cx="13.13" cy="11.16" r="1.08" fill="#000"/>
<circle cx="13.20" cy="11.21" r="1.08" fill="#000"/>
<circle cx="10.58" cy="2.34" r="1.08" fill="#000"/>
<circle cx="69.48" cy="20.80" r="1.08" fill="#000"/>
<circle cx="62.74" cy="15.21" r="1.08" fill="#000"/>
<circle cx="34.56" cy="20.70" r="1.08" fill="#000"/>
<circle cx="29.89" cy="6.33" r="1.08" fill="#000"/>
<circle cx="8.31" cy="11.45" r="1.08" fill="#000"/>
<circle cx="68.60" cy="23.96" r="1.08" fill="#000"/>
<circle cx="64.54" cy="18.73" r="1.08" fill="#000"/>
<circle cx="63.28" cy="27.19" r="1.08" fill="#000"/>
<circle cx="68.88" cy="27.84" r="1.08" fill="#000"/>
<circle cx="67.17" cy="26.89" r="1.08" fill="#000"/>
<circle cx="51.51" cy="8.11" r="1.08" fill="#000"/>
<circle cx="41.79" cy="15.70" r="1.08" fill="#000"/>
<circle cx="66.65" cy="24.49" r="1.08" fill="#000"/>
<circle cx="62.86" cy="17.27" r="1.08" fill="#000"/>
<circle cx="57.61" cy="20.55" r="1.08" fill="#000"/>
<circle cx="37.35" cy="24.15" r="1.08" fill="#000"/>
<circle cx="33.02" cy="64.59" r="0.95" fill="#000"/>
<circle cx="37.69" cy="66.92" r="0.95" fill="#000"/>
<circle cx="54.62" cy="66.92" r="0.95" fill="#000"/>
<circle cx="33.02" cy="78.02" r="0.95" fill="#000"/>
<circle cx="26.59" cy="111.89" r="0.95" fill="#000"/>
<circle cx="26.59" cy="114.81" r="0.95" fill="#000"/>
<circle cx="23.68" cy="123.57" r="0.95" fill="#000"/>
<circle cx="30.68" cy="122.40" r="0.95" fill="#000"/>
<circle cx="34.19" cy="124.73" r="0.95" fill="#000"/>
<circle cx="35.94" cy="125.32" r="0.95" fill="#000"/>
<circle cx="34.19" cy="127.65" r="0.95" fill="#000"/>
<circle cx="39.44" cy="128.24" r="0.95" fill="#000"/>
<circle cx="45.28" cy="123.57" r="0.95" fill="#000"/>
<circle cx="46.45" cy="127.07" r="0.95" fill="#000"/>
<circle cx="49.37" cy="127.65" r="0.95" fill="#000"/>
<circle cx="54.04" cy="127.07" r="0.95" fill="#000"/>
<circle cx="56.38" cy="127.65" r="0.95" fill="#000"/>
<circle cx="57.54" cy="135.83" r="0.95" fill="#000"/>
<circle cx="40.61" cy="107.22" r="0.95" fill="#000"/>
<circle cx="34.19" cy="109.55" r="0.95" fill="#000"/>
<circle cx="51.95" cy="109.16" r="0.95" fill="#000"/>
<circle cx="62.69" cy="107.11" r="0.95" fill="#000"/>
<circle cx="62.54" cy="115.64" r="0.95" fill="#000"/>
<circle cx="54.49" cy="108.60" r="0.95" fill="#000"/>
<circle cx="66.88" cy="121.41" r="0.95" fill="#000"/>
<circle cx="50.08" cy="109.98" r="0.95" fill="#000"/>
<circle cx="68.09" cy="100.38" r="0.95" fill="#000"/>
<circle cx="58.03" cy="105.65" r="0.95" fill="#000"/>
<circle cx="61.77" cy="114.60" r="0.95" fill="#000"/>
<circle cx="55.20" cy="113.25" r="0.95" fill="#000"/>
<circle cx="65.74" cy="103.63" r="0.95" fill="#000"/>
<circle cx="63.08" cy="106.82" r="0.95" fill="#000"/>
<circle cx="55.57" cy="102.40" r="0.95" fill="#000"/>
<circle cx="66.94" cy="113.14" r="0.95" fill="#000"/>
<circle cx="60.93" cy="104.81" r="0.95" fill="#000"/>
<circle cx="59.86" cy="116.62" r="0.95" fill="#000"/>
<circle cx="59.46" cy="117.45" r="0.95" fill="#000"/>
<circle cx="59.33" cy="107.85" r="0.95" fill="#000"/>
<circle cx="53.20" cy="95.52" r="0.95" fill="#000"/>
<circle cx="52.66" cy="108.69" r="0.95" fill="#000"/>
<circle cx="63.73" cy="109.09" r="0.95" fill="#000"/>
<circle cx="65.90" cy="108.47" r="0.95" fill="#000"/>
<circle cx="52.81" cy="107.43" r="0.95" fill="#000"/>
<circle cx="68.13" cy="122.48" r="0.95" fill="#000"/>
<circle cx="61.16" cy="120.38" r="0.95" fill="#000"/>
<circle cx="65.30" cy="117.84" r="0.95" fill="#000"/>
<circle cx="63.85" cy="117.18" r="0.95" fill="#000"/>
<circle cx="62.69" cy="121.81" r="0.95" fill="#000"/>
<circle cx="52.70" cy="108.95" r="0.95" fill="#000"/>
<circle cx="62.18" cy="121.65" r="0.95" fill="#000"/>
<circle cx="54.72" cy="107.63" r="0.95" fill="#000"/>
<circle cx="55.13" cy="112.01" r="0.95" fill="#000"/>
<circle cx="58.29" cy="112.05" r="0.95" fill="#000"/>
<circle cx="56.12" cy="110.86" r="0.95" fill="#000"/>
<circle cx="59.97" cy="113.93" r="0.95" fill="#000"/>
<circle cx="63.19" cy="113.37" r="0.95" fill="#000"/>
<circle cx="53.63" cy="118.50" r="0.95" fill="#000"/>
<circle cx="56.85" cy="110.71" r="0.95" fill="#000"/>
<circle cx="57.50" cy="120.40" r="0.95" fill="#000"/>
<circle cx="58.42" cy="108.80" r="0.95" fill="#000"/>
<circle cx="64.95" cy="109.33" r="0.95" fill="#000"/>
<circle cx="64.52" cy="108.68" r="0.95" fill="#000"/>
<circle cx="49.79" cy="106.19" r="0.95" fill="#000"/>
<circle cx="67.29" cy="120.27" r="0.95" fill="#000"/>
<circle cx="63.78" cy="115.99" r="0.95" fill="#000"/>
<circle cx="58.15" cy="117.97" r="0.95" fill="#000"/>
<circle cx="62.41" cy="119.96" r="0.95" fill="#000"/>
<circle cx="65.13" cy="119.28" r="0.95" fill="#000"/>
<circle cx="50.47" cy="102.10" r="0.95" fill="#000"/>
<circle cx="64.61" cy="120.54" r="0.95" fill="#000"/>
<circle cx="61.63" cy="110.07" r="0.95" fill="#000"/>
<circle cx="58.24" cy="111.05" r="0.95" fill="#000"/>
<circle cx="62.71" cy="113.45" r="0.95" fill="#000"/>
<circle cx="66.54" cy="122.79" r="0.95" fill="#000"/>
<circle cx="75.01" cy="122.51" r="0.95" fill="#000"/>
<circle cx="71.41" cy="122.57" r="0.95" fill="#000"/>
<circle cx="62.77" cy="113.64" r="0.95" fill="#000"/>
<circle cx="58.30" cy="113.17" r="0.95" fill="#000"/>
<circle cx="58.91" cy="113.53" r="0.95" fill="#000"/>
<circle cx="68.96" cy="122.86" r="0.95" fill="#000"/>
<circle cx="52.41" cy="112.97" r="0.95" fill="#000"/>
<circle cx="59.89" cy="113.28" r="0.95" fill="#000"/>
<circle cx="53.77" cy="107.65" r="0.95" fill="#000"/>
<circle cx="57.44" cy="97.52" r="0.95" fill="#000"/>
<circle cx="72.44" cy="108.70" r="0.95" fill="#000"/>
<circle cx="61.08" cy="113.02" r="0.95" fill="#000"/>
<circle cx="66.70" cy="122.19" r="0.95" fill="#000"/>
<circle cx="60.74" cy="114.65" r="0.95" fill="#000"/>
<circle cx="66.28" cy="106.82" r="0.95" fill="#000"/>
<circle cx="72.01" cy="116.93" r="0.95" fill="#000"/>
<circle cx="60.88" cy="110.68" r="0.95" fill="#000"/>
<circle cx="63.22" cy="105.82" r="0.95" fill="#000"/>
<circle cx="59.99" cy="103.10" r="0.95" fill="#000"/>
<circle cx="71.01" cy="118.01" r="0.95" fill="#000"/>
<circle cx="63.56" cy="105.26" r="0.95" fill="#000"/>
<circle cx="56.48" cy="109.50" r="0.95" fill="#000"/>
<circle cx="62.68" cy="102.67" r="0.95" fill="#000"/>
<circle cx="64.25" cy="124.61" r="0.95" fill="#000"/>
<circle cx="58.10" cy="108.57" r="0.95" fill="#000"/>
<circle cx="73.54" cy="127.79" r="0.95" fill="#000"/>
<circle cx="52.64" cy="112.16" r="0.95" fill="#000"/>
<circle cx="64.77" cy="106.85" r="0.95" fill="#000"/>
<circle cx="66.28" cy="125.54" r="0.95" fill="#000"/>
<circle cx="57.58" cy="109.27" r="0.95" fill="#000"/>
<circle cx="59.96" cy="99.38" r="0.95" fill="#000"/>
<circle cx="63.01" cy="104.35" r="0.95" fill="#000"/>
<circle cx="51.34" cy="103.81" r="0.95" fill="#000"/>
<circle cx="59.46" cy="116.02" r="0.95" fill="#000"/>
<circle cx="64.18" cy="118.07" r="0.95" fill="#000"/>
<circle cx="60.89" cy="104.43" r="0.95" fill="#000"/>
<circle cx="56.29" cy="121.34" r="0.95" fill="#000"/>
<circle cx="69.37" cy="124.12" r="0.95" fill="#000"/>
<circle cx="56.27" cy="120.73" r="0.95" fill="#000"/>
<circle cx="58.17" cy="108.85" r="0.95" fill="#000"/>
<circle cx="58.90" cy="122.19" r="0.95" fill="#000"/>
<circle cx="50.62" cy="110.30" r="0.95" fill="#000"/>
<circle cx="62.53" cy="110.91" r="0.95" fill="#000"/>
<circle cx="54.26" cy="102.93" r="0.95" fill="#000"/>
<circle cx="69.99" cy="113.94" r="0.95" fill="#000"/>
<circle cx="62.52" cy="117.77" r="0.95" fill="#000"/>
<circle cx="54.33" cy="106.75" r="0.95" fill="#000"/>
<circle cx="60.42" cy="108.46" r="0.95" fill="#000"/>
<circle cx="68.65" cy="110.18" r="0.95" fill="#000"/>
<circle cx="58.16" cy="116.47" r="0.95" fill="#000"/>
<circle cx="70.42" cy="121.61" r="0.95" fill="#000"/>
<circle cx="59.07" cy="114.74" r="0.95" fill="#000"/>
<circle cx="51.89" cy="102.37" r="0.95" fill="#000"/>
<circle cx="61.16" cy="120.13" r="0.95" fill="#000"/>
<circle cx="58.66" cy="104.13" r="0.95" fill="#000"/>
<circle cx="65.08" cy="113.68" r="0.95" fill="#000"/>
<circle cx="69.68" cy="115.15" r="0.95" fill="#000"/>
<circle cx="63.39" cy="106.08" r="0.95" fill="#000"/>
<circle cx="61.75" cy="105.54" r="0.95" fill="#000"/>
<circle cx="63.36" cy="113.80" r="0.95" fill="#000"/>
<circle cx="64.63" cy="119.32" r="0.95" fill="#000"/>
<circle cx="68.81" cy="118.92" r="0.95" fill="#000"/>
<circle cx="59.83" cy="114.73" r="0.95" fill="#000"/>
<circle cx="57.32" cy="108.89" r="0.95" fill="#000"/>
<circle cx="61.09" cy="111.72" r="0.95" fill="#000"/>
<circle cx="73.42" cy="131.42" r="0.95" fill="#000"/>
<circle cx="60.49" cy="119.29" r="0.95" fill="#000"/>
<circle cx="58.33" cy="108.86" r="0.95" fill="#000"/>
<circle cx="58.03" cy="115.80" r="0.95" fill="#000"/>
<circle cx="64.27" cy="124.32" r="0.95" fill="#000"/>
<circle cx="55.22" cy="123.51" r="0.95" fill="#000"/>
<circle cx="62.95" cy="112.54" r="0.95" fill="#000"/>
<circle cx="64.90" cy="113.34" r="0.95" fill="#000"/>
<circle cx="63.32" cy="114.58" r="0.95" fill="#000"/>
<circle cx="53.13" cy="101.77" r="0.95" fill="#000"/>
<circle cx="57.41" cy="96.83" r="0.95" fill="#000"/>
<circle cx="61.90" cy="115.29" r="0.95" fill="#000"/>
<circle cx="56.89" cy="108.53" r="0.95" fill="#000"/>
<circle cx="74.61" cy="122.40" r="0.95" fill="#000"/>
<circle cx="67.03" cy="110.69" r="0.95" fill="#000"/>
<circle cx="48.91" cy="105.58" r="0.95" fill="#000"/>
<circle cx="56.68" cy="111.17" r="0.95" fill="#000"/>
<circle cx="60.91" cy="109.08" r="0.95" fill="#000"/>
<circle cx="68.10" cy="133.65" r="0.95" fill="#000"/>
<circle cx="63.11" cy="112.91" r="0.95" fill="#000"/>
<circle cx="65.61" cy="111.38" r="0.95" fill="#000"/>
<circle cx="61.90" cy="126.41" r="0.95" fill="#000"/>
<circle cx="61.17" cy="114.45" r="0.95" fill="#000"/>
<circle cx="56.44" cy="117.61" r="0.95" fill="#000"/>
<circle cx="46.80" cy="105.05" r="0.95" fill="#000"/>
<circle cx="64.18" cy="116.13" r="0.95" fill="#000"/>
<circle cx="52.08" cy="117.03" r="0.95" fill="#000"/>
<circle cx="57.51" cy="111.70" r="0.95" fill="#000"/>
<circle cx="53.71" cy="105.18" r="0.95" fill="#000"/>
<circle cx="66.18" cy="116.72" r="0.95" fill="#000"/>
<circle cx="63.89" cy="112.08" r="0.95" fill="#000"/>
<circle cx="60.29" cy="108.97" r="0.95" fill="#000"/>
<circle cx="64.25" cy="112.43" r="0.95" fill="#000"/>
<circle cx="60.99" cy="112.76" r="0.95" fill="#000"/>
<circle cx="58.69" cy="113.09" r="0.95" fill="#000"/>
<circle cx="70.66" cy="126.75" r="0.95" fill="#000"/>
<circle cx="72.71" cy="112.35" r="0.95" fill="#000"/>
<circle cx="59.47" cy="124.45" r="0.95" fill="#000"/>
<circle cx="67.41" cy="116.26" r="0.95" fill="#000"/>
<circle cx="72.98" cy="123.28" r="0.95" fill="#000"/>
<circle cx="59.17" cy="119.77" r="0.95" fill="#000"/>
<circle cx="60.32" cy="106.94" r="0.95" fill="#000"/>
<circle cx="59.02" cy="117.81" r="0.95" fill="#000"/>
<circle cx="58.97" cy="111.10" r="0.95" fill="#000"/>
<circle cx="63.39" cy="112.89" r="0.95" fill="#000"/>
<circle cx="55.74" cy="112.99" r="0.95" fill="#000"/>
<circle cx="72.23" cy="118.68" r="0.95" fill="#000"/>
<circle cx="65.79" cy="110.77" r="0.95" fill="#000"/>
<circle cx="65.90" cy="114.90" r="0.95" fill="#000"/>
<circle cx="60.04" cy="117.27" r="0.95" fill="#000"/>
<circle cx="67.77" cy="115.21" r="0.95" fill="#000"/>
<circle cx="67.37" cy="104.22" r="0.95" fill="#000"/>
<circle cx="75.73" cy="123.85" r="0.95" fill="#000"/>
<circle cx="70.89" cy="124.82" r="0.95" fill="#000"/>
<circle cx="58.27" cy="111.70" r="0.95" fill="#000"/>
<circle cx="59.85" cy="107.54" r="0.95" fill="#000"/>
<circle cx="64.52" cy="111.78" r="0.95" fill="#000"/>
<circle cx="65.45" cy="96.40" r="0.95" fill="#000"/>
<circle cx="68.51" cy="127.84" r="0.95" fill="#000"/>
<circle cx="65.83" cy="116.68" r="0.95" fill="#000"/>
<circle cx="61.74" cy="115.09" r="0.95" fill="#000"/>
<circle cx="57.97" cy="113.44" r="0.95" fill="#000"/>
<circle cx="62.23" cy="114.19" r="0.95" fill="#000"/>
<circle cx="59.17" cy="116.36" r="0.95" fill="#000"/>
<circle cx="62.12" cy="113.19" r="0.95" fill="#000"/>
<circle cx="59.15" cy="118.52" r="0.95" fill="#000"/>
<circle cx="67.19" cy="114.25" r="0.95" fill="#000"/>
<circle cx="62.04" cy="117.43" r="0.95" fill="#000"/>
<circle cx="59.33" cy="110.16" r="0.95" fill="#000"/>
<circle cx="70.51" cy="115.41" r="0.95" fill="#000"/>
<circle cx="58.63" cy="112.94" r="0.95" fill="#000"/>
<circle cx="63.79" cy="115.14" r="0.95" fill="#000"/>
<circle cx="55.98" cy="108.20" r="0.95" fill="#000"/>
<circle cx="64.32" cy="111.33" r="0.95" fill="#000"/>
<circle cx="53.94" cy="106.77" r="0.95" fill="#000"/>
<circle cx="58.15" cy="118.08" r="0.95" fill="#000"/>
<circle cx="63.61" cy="113.18" r="0.95" fill="#000"/>
<circle cx="57.19" cy="113.81" r="0.95" fill="#000"/>
<circle cx="60.23" cy="113.11" r="0.95" fill="#000"/>
<circle cx="59.29" cy="116.44" r="0.95" fill="#000"/>
<circle cx="58.04" cy="122.61" r="0.95" fill="#000"/>
<circle cx="61.30" cy="111.84" r="0.95" fill="#000"/>
<circle cx="62.13" cy="120.16" r="0.95" fill="#000"/>
<circle cx="61.06" cy="117.40" r="0.95" fill="#000"/>
<circle cx="71.31" cy="115.19" r="0.95" fill="#000"/>
<circle cx="62.46" cy="109.73" r="0.95" fill="#000"/>
<circle cx="63.11" cy="105.51" r="0.95" fill="#000"/>
<circle cx="65.58" cy="120.82" r="0.95" fill="#000"/>
<circle cx="60.09" cy="105.02" r="0.95" fill="#000"/>
<circle cx="69.82" cy="118.83" r="0.95" fill="#000"/>
<circle cx="56.55" cy="121.03" r="0.95" fill="#000"/>
<circle cx="65.73" cy="106.45" r="0.95" fill="#000"/>
<circle cx="62.87" cy="103.33" r="0.95" fill="#000"/>
<circle cx="70.65" cy="124.09" r="0.95" fill="#000"/>
<circle cx="63.76" cy="120.78" r="0.95" fill="#000"/>
<circle cx="57.69" cy="105.19" r="0.95" fill="#000"/>
<circle cx="61.00" cy="111.78" r="0.95" fill="#000"/>
<circle cx="63.28" cy="117.75" r="0.95" fill="#000"/>
<circle cx="64.16" cy="113.61" r="0.95" fill="#000"/>
<circle cx="69.53" cy="110.20" r="0.95" fill="#000"/>
<circle cx="63.48" cy="115.75" r="0.95" fill="#000"/>
<circle cx="58.55" cy="112.59" r="0.95" fill="#000"/>
<circle cx="66.46" cy="121.51" r="0.95" fill="#000"/>
<circle cx="56.20" cy="106.83" r="0.95" fill="#000"/>
<circle cx="59.52" cy="112.78" r="0.95" fill="#000"/>
<circle cx="60.17" cy="121.79" r="0.95" fill="#000"/>
<circle cx="63.88" cy="115.98" r="0.95" fill="#000"/>
<circle cx="58.47" cy="105.27" r="0.95" fill="#000"/>
<circle cx="63.62" cy="111.63" r="0.95" fill="#000"/>
<circle cx="61.72" cy="109.62" r="0.95" fill="#000"/>
<circle cx="52.25" cy="103.80" r="0.95" fill="#000"/>
<circle cx="68.53" cy="116.54" r="0.95" fill="#000"/>
<circle cx="59.25" cy="113.81" r="0.95" fill="#000"/>
<circle cx="56.26" cy="123.18" r="0.95" fill="#000"/>
<circle cx="62.22" cy="106.79" r="0.95" fill="#000"/>
<circle cx="59.42" cy="118.79" r="0.95" fill="#000"/>
<circle cx="62.24" cy="98.55" r="0.95" fill="#000"/>
<circle cx="58.49" cy="115.34" r="0.95" fill="#000"/>
<circle cx="65.75" cy="112.00" r="0.95" fill="#000"/>
<circle cx="58.69" cy="94.49" r="0.95" fill="#000"/>
<circle cx="55.28" cy="120.93" r="0.95" fill="#000"/>
<circle cx="56.64" cy="120.68" r="0.95" fill="#000"/>
<circle cx="66.89" cy="119.81" r="0.95" fill="#000"/>
<circle cx="65.99" cy="128.56" r="0.95" fill="#000"/>
<circle cx="66.21" cy="111.46" r="0.95" fill="#000"/>
<circle cx="56.92" cy="109.90" r="0.95" fill="#000"/>
<circle cx="60.38" cy="110.69" r="0.95" fill="#000"/>
<circle cx="60.59" cy="105.24" r="0.95" fill="#000"/>
<circle cx="63.73" cy="116.42" r="0.95" fill="#000"/>
<circle cx="65.52" cy="124.54" r="0.95" fill="#000"/>
<circle cx="63.42" cy="122.31" r="0.95" fill="#000"/>
<circle cx="55.94" cy="120.81" r="0.95" fill="#000"/>
<circle cx="61.66" cy="114.55" r="0.95" fill="#000"/>
<circle cx="57.75" cy="110.70" r="0.95" fill="#000"/>
<circle cx="57.73" cy="111.82" r="0.95" fill="#000"/>
<circle cx="52.72" cy="99.64" r="0.95" fill="#000"/>
<circle cx="57.95" cy="110.21" r="0.95" fill="#000"/>
<circle cx="58.06" cy="106.33" r="0.95" fill="#000"/>
<circle cx="63.10" cy="118.47" r="0.95" fill="#000"/>
<circle cx="66.02" cy="107.76" r="0.95" fill="#000"/>
<circle cx="68.60" cy="117.97" r="0.95" fill="#000"/>
<circle cx="56.47" cy="97.06" r="0.95" fill="#000"/>
<circle cx="39.60" cy="95.84" r="0.95" fill="#000"/>
<circle cx="46.11" cy="87.67" r="0.95" fill="#000"/>
<circle cx="36.06" cy="87.23" r="0.95" fill="#000"/>
<circle cx="40.22" cy="94.30" r="0.95" fill="#000"/>
<circle cx="40.09" cy="90.11" r="0.95" fill="#000"/>
<circle cx="35.17" cy="97.89" r="0.95" fill="#000"/>
<circle cx="53.61" cy="99.53" r="0.95" fill="#000"/>
<circle cx="47.00" cy="100.57" r="0.95" fill="#000"/>
<circle cx="37.95" cy="102.11" r="0.95" fill="#000"/>
<circle cx="44.32" cy="97.94" r="0.95" fill="#000"/>
<circle cx="48.05" cy="95.91" r="0.95" fill="#000"/>
<circle cx="40.63" cy="90.08" r="0.95" fill="#000"/>
<circle cx="38.45" cy="97.02" r="0.95" fill="#000"/>
<circle cx="42.42" cy="98.91" r="0.95" fill="#000"/>
<circle cx="33.31" cy="92.92" r="0.95" fill="#000"/>
<circle cx="54.16" cy="89.99" r="0.95" fill="#000"/>
<circle cx="46.67" cy="96.48" r="0.95" fill="#000"/>
<circle cx="40.00" cy="109.23" r="0.95" fill="#000"/>
<circle cx="40.27" cy="103.70" r="0.95" fill="#000"/>
<circle cx="36.91" cy="85.57" r="0.95" fill="#000"/>
<circle cx="54.39" cy="95.16" r="0.95" fill="#000"/>
<circle cx="34.54" cy="93.82" r="0.95" fill="#000"/>
<circle cx="43.81" cy="102.75" r="0.95" fill="#000"/>
<circle cx="35.70" cy="89.64" r="0.95" fill="#000"/>
<circle cx="56.55" cy="102.84" r="0.95" fill="#000"/>
<circle cx="36.81" cy="92.52" r="0.95" fill="#000"/>
<circle cx="41.66" cy="101.21" r="0.95" fill="#000"/>
<circle cx="48.13" cy="105.70" r="0.95" fill="#000"/>
<circle cx="53.16" cy="97.16" r="0.95" fill="#000"/>
<circle cx="51.14" cy="102.96" r="0.95" fill="#000"/>
<circle cx="51.65" cy="96.07" r="0.95" fill="#000"/>
<circle cx="52.27" cy="102.06" r="0.95" fill="#000"/>
<circle cx="51.80" cy="98.91" r="0.95" fill="#000"/>
<circle cx="45.23" cy="108.59" r="0.95" fill="#000"/>
<circle cx="47.05" cy="94.60" r="0.95" fill="#000"/>
<circle cx="52.24" cy="106.28" r="0.95" fill="#000"/>
<circle cx="47.91" cy="93.61" r="0.95" fill="#000"/>
<circle cx="44.11" cy="95.62" r="0.95" fill="#000"/>
<circle cx="50.75" cy="91.38" r="0.95" fill="#000"/>
<circle cx="42.60" cy="98.13" r="0.95" fill="#000"/>
<circle cx="42.45" cy="92.13" r="0.95" fill="#000"/>
<circle cx="52.32" cy="105.69" r="0.95" fill="#000"/>
<circle cx="45.27" cy="95.27" r="0.95" fill="#000"/>
<circle cx="37.54" cy="91.67" r="0.95" fill="#000"/>
<circle cx="36.57" cy="98.64" r="0.95" fill="#000"/>
<circle cx="47.28" cy="86.12" r="0.95" fill="#000"/>
<circle cx="55.59" cy="92.18" r="0.95" fill="#000"/>
<circle cx="53.70" cy="105.39" r="0.95" fill="#000"/>
<circle cx="43.48" cy="107.25" r="0.95" fill="#000"/>
<circle cx="33.28" cy="85.08" r="0.95" fill="#000"/>
<circle cx="46.87" cy="96.64" r="0.95" fill="#000"/>
<circle cx="55.59" cy="103.73" r="0.95" fill="#000"/>
<circle cx="46.23" cy="109.51" r="0.95" fill="#000"/>
<circle cx="45.71" cy="97.15" r="0.95" fill="#000"/>
<circle cx="49.82" cy="93.87" r="0.95" fill="#000"/>
<circle cx="41.79" cy="99.14" r="0.95" fill="#000"/>
<circle cx="41.63" cy="108.21" r="0.95" fill="#000"/>
<circle cx="49.61" cy="97.35" r="0.95" fill="#000"/>
<circle cx="35.45" cy="93.48" r="0.95" fill="#000"/>
<circle cx="42.85" cy="98.28" r="0.95" fill="#000"/>
<circle cx="47.10" cy="106.46" r="0.95" fill="#000"/>
<circle cx="56.67" cy="96.36" r="0.95" fill="#000"/>
<circle cx="43.81" cy="99.91" r="0.95" fill="#000"/>
<circle cx="57.45" cy="92.68" r="0.95" fill="#000"/>
<circle cx="46.02" cy="104.82" r="0.95" fill="#000"/>
<circle cx="37.21" cy="92.03" r="0.95" fill="#000"/>
<circle cx="57.01" cy="105.08" r="0.95" fill="#000"/>
<circle cx="45.59" cy="86.70" r="0.95" fill="#000"/>
<circle cx="54.96" cy="101.58" r="0.95" fill="#000"/>
<circle cx="53.14" cy="109.30" r="0.95" fill="#000"/>
<circle cx="54.80" cy="94.67" r="0.95" fill="#000"/>
<circle cx="36.85" cy="91.31" r="0.95" fill="#000"/>
<circle cx="45.57" cy="96.83" r="0.95" fill="#000"/>
<circle cx="37.63" cy="88.54" r="0.95" fill="#000"/>
<circle cx="48.47" cy="99.35" r="0.95" fill="#000"/>
<circle cx="41.68" cy="109.39" r="0.95" fill="#000"/>
<circle cx="48.63" cy="84.94" r="0.95" fill="#000"/>
<circle cx="43.11" cy="104.09" r="0.95" fill="#000"/>
<circle cx="40.54" cy="101.60" r="0.95" fill="#000"/>
<circle cx="33.11" cy="91.68" r="0.95" fill="#000"/>
<circle cx="53.67" cy="98.92" r="0.95" fill="#000"/>
<circle cx="49.40" cy="88.91" r="0.95" fill="#000"/>
<circle cx="45.23" cy="98.07" r="0.95" fill="#000"/>
<circle cx="39.54" cy="100.48" r="0.95" fill="#000"/>
<circle cx="46.05" cy="109.48" r="0.95" fill="#000"/>
<circle cx="47.11" cy="94.42" r="0.95" fill="#000"/>
<circle cx="36.00" cy="87.89" r="0.95" fill="#000"/>
<circle cx="51.65" cy="86.60" r="0.95" fill="#000"/>
<circle cx="35.47" cy="88.24" r="0.95" fill="#000"/>
<circle cx="45.83" cy="105.01" r="0.95" fill="#000"/>
<circle cx="48.05" cy="104.58" r="0.95" fill="#000"/>
<circle cx="34.54" cy="84.18" r="0.95" fill="#000"/>
<circle cx="51.92" cy="92.15" r="0.95" fill="#000"/>
<circle cx="50.57" cy="92.95" r="0.95" fill="#000"/>
<circle cx="37.17" cy="90.71" r="0.95" fill="#000"/>
<circle cx="35.46" cy="107.08" r="0.95" fill="#000"/>
<circle cx="47.30" cy="92.82" r="0.95" fill="#000"/>
<circle cx="44.05" cy="93.77" r="0.95" fill="#000"/>
<circle cx="34.36" cy="106.74" r="0.95" fill="#000"/>
<circle cx="121.40" cy="61.18" r="0.95" fill="#000"/>
<circle cx="123.85" cy="65.09" r="0.95" fill="#000"/>
<circle cx="124.34" cy="67.53" r="0.95" fill="#000"/>
<circle cx="124.83" cy="69.00" r="0.95" fill="#000"/>
<circle cx="125.31" cy="70.47" r="0.95" fill="#000"/>
<circle cx="125.80" cy="72.42" r="0.95" fill="#000"/>
<circle cx="126.29" cy="74.38" r="0.95" fill="#000"/>
<circle cx="127.27" cy="75.84" r="0.95" fill="#000"/>
<circle cx="128.74" cy="76.33" r="0.95" fill="#000"/>
<circle cx="130.69" cy="76.82" r="0.95" fill="#000"/>
<circle cx="131.67" cy="83.17" r="0.95" fill="#000"/>
<circle cx="132.16" cy="84.64" r="0.95" fill="#000"/>
<circle cx="132.65" cy="86.11" r="0.95" fill="#000"/>
<circle cx="133.62" cy="87.08" r="0.95" fill="#000"/>
<circle cx="136.56" cy="89.04" r="0.95" fill="#000"/>
<circle cx="136.56" cy="94.90" r="0.95" fill="#000"/>
<circle cx="138.51" cy="97.84" r="0.95" fill="#000"/>
<circle cx="144.38" cy="99.79" r="0.95" fill="#000"/>
<circle cx="139.98" cy="81.22" r="0.95" fill="#000"/>
<circle cx="125.80" cy="76.33" r="0.95" fill="#000"/>
<circle cx="124.83" cy="75.35" r="0.95" fill="#000"/>
<circle cx="121.15" cy="60.51" r="0.95" fill="#000"/>
<circle cx="123.72" cy="64.52" r="0.95" fill="#000"/>
<circle cx="124.04" cy="68.06" r="0.95" fill="#000"/>
<circle cx="124.84" cy="70.47" r="0.95" fill="#000"/>
<circle cx="125.65" cy="72.87" r="0.95" fill="#000"/>
<circle cx="127.57" cy="73.68" r="0.95" fill="#000"/>
<circle cx="129.66" cy="75.28" r="0.95" fill="#000"/>
<circle cx="132.07" cy="76.57" r="0.95" fill="#000"/>
<circle cx="125.65" cy="75.28" r="0.95" fill="#000"/>
<circle cx="124.04" cy="76.89" r="0.95" fill="#000"/>
<circle cx="126.61" cy="71.75" r="0.95" fill="#000"/>
<circle cx="128.54" cy="74.48" r="0.95" fill="#000"/>
<circle cx="124.68" cy="73.68" r="0.95" fill="#000"/>
<circle cx="131.27" cy="82.51" r="0.95" fill="#000"/>
<circle cx="132.07" cy="84.92" r="0.95" fill="#000"/>
<circle cx="132.87" cy="86.52" r="0.95" fill="#000"/>
<circle cx="133.68" cy="87.33" r="0.95" fill="#000"/>
<circle cx="136.89" cy="88.93" r="0.95" fill="#000"/>
<circle cx="139.30" cy="81.39" r="0.95" fill="#000"/>
<circle cx="135.28" cy="94.55" r="0.95" fill="#000"/>
<circle cx="136.89" cy="96.16" r="0.95" fill="#000"/>
<circle cx="138.50" cy="96.96" r="0.95" fill="#000"/>
<circle cx="140.90" cy="98.57" r="0.95" fill="#000"/>
<circle cx="144.12" cy="100.17" r="0.95" fill="#000"/>
<circle cx="143.31" cy="99.37" r="0.95" fill="#000"/>
<circle cx="143.90" cy="1.20" r="0.95" fill="#000"/>
<circle cx="160.80" cy="30.50" r="0.95" fill="#000"/>
<circle cx="173.00" cy="96.00" r="0.95" fill="#000"/>
<circle cx="171.50" cy="96.30" r="0.95" fill="#000"/>
<circle cx="150.50" cy="162.20" r="0.95" fill="#000"/>
<circle cx="153.30" cy="162.20" r="0.95" fill="#000"/>
<circle cx="150.50" cy="181.20" r="0.95" fill="#000"/>
<circle cx="19.40" cy="170.60" r="0.95" fill="#000"/>
<circle cx="39.80" cy="170.60" r="0.95" fill="#000"/>
<circle cx="40.10" cy="171.90" r="0.95" fill="#000"/>
<circle cx="32.80" cy="184.00" r="0.95" fill="#000"/>
<circle cx="33.40" cy="185.80" r="0.95" fill="#000"/>
<circle cx="37.50" cy="186.40" r="0.60" fill="#000"/>
<circle cx="46.20" cy="181.10" r="0.70" fill="#000"/>
<circle cx="23.50" cy="188.10" r="0.95" fill="#000"/>
<circle cx="53.88" cy="107.21" r="1.26" fill="#000"/>
<circle cx="59.81" cy="110.90" r="1.03" fill="#000"/>
<circle cx="68.21" cy="109.36" r="1.19" fill="#000"/>
<circle cx="67.13" cy="108.04" r="1.18" fill="#000"/>
<circle cx="54.50" cy="105.88" r="1.30" fill="#000"/>
<circle cx="64.35" cy="112.34" r="1.23" fill="#000"/>
<circle cx="61.30" cy="110.03" r="1.19" fill="#000"/>
<circle cx="64.74" cy="109.44" r="1.48" fill="#000"/>
<circle cx="61.89" cy="116.58" r="1.22" fill="#000"/>
<circle cx="65.53" cy="125.79" r="1.17" fill="#000"/>
<circle cx="60.15" cy="112.57" r="1.32" fill="#000"/>
<circle cx="59.05" cy="116.85" r="1.04" fill="#000"/>
<circle cx="66.61" cy="120.04" r="1.21" fill="#000"/>
<circle cx="61.87" cy="116.76" r="1.17" fill="#000"/>
<circle cx="61.88" cy="114.83" r="1.40" fill="#000"/>
<circle cx="60.66" cy="115.94" r="1.42" fill="#000"/>
<circle cx="64.18" cy="115.68" r="1.50" fill="#000"/>
<circle cx="64.51" cy="117.39" r="1.50" fill="#000"/>
<circle cx="62.52" cy="110.73" r="1.21" fill="#000"/>
<circle cx="61.20" cy="108.71" r="1.58" fill="#000"/>
<circle cx="64.10" cy="125.35" r="1.30" fill="#000"/>
<circle cx="62.36" cy="118.93" r="1.08" fill="#000"/>
<circle cx="61.04" cy="109.76" r="1.54" fill="#000"/>
<circle cx="58.86" cy="111.00" r="1.15" fill="#000"/>
<circle cx="59.86" cy="111.33" r="1.52" fill="#000"/>
<circle cx="64.90" cy="117.68" r="1.33" fill="#000"/>
<circle cx="61.01" cy="122.02" r="1.23" fill="#000"/>
<circle cx="59.24" cy="108.09" r="1.19" fill="#000"/>
<circle cx="60.62" cy="114.85" r="1.11" fill="#000"/>
<circle cx="63.68" cy="109.96" r="1.40" fill="#000"/>
<circle cx="65.38" cy="117.56" r="1.22" fill="#000"/>
<circle cx="58.78" cy="113.49" r="1.04" fill="#000"/>
<circle cx="60.83" cy="116.82" r="1.08" fill="#000"/>
<circle cx="61.19" cy="109.52" r="1.24" fill="#000"/>
<circle cx="67.03" cy="108.82" r="1.53" fill="#000"/>
<circle cx="63.03" cy="111.46" r="1.17" fill="#000"/>
<circle cx="67.14" cy="114.89" r="1.40" fill="#000"/>
<circle cx="59.59" cy="117.65" r="1.40" fill="#000"/>
<circle cx="60.95" cy="109.91" r="1.51" fill="#000"/>
<circle cx="58.77" cy="119.14" r="1.11" fill="#000"/>
<circle cx="67.76" cy="120.81" r="1.44" fill="#000"/>
<circle cx="61.56" cy="112.10" r="1.02" fill="#000"/>
<circle cx="63.06" cy="116.33" r="1.18" fill="#000"/>
<circle cx="61.05" cy="114.46" r="1.19" fill="#000"/>
<circle cx="60.34" cy="111.10" r="1.50" fill="#000"/>
<circle cx="56.63" cy="110.11" r="1.15" fill="#000"/>
<circle cx="56.78" cy="116.52" r="1.21" fill="#000"/>
<circle cx="68.63" cy="113.56" r="1.47" fill="#000"/>
<circle cx="61.56" cy="114.94" r="1.51" fill="#000"/>
<circle cx="60.92" cy="112.53" r="1.15" fill="#000"/>

<rect x="0" y="0" width="192.70" height="188.90" fill="none" stroke="#555" stroke-width="0.7"/>
<line x1="-2.5" y1="0.00" x2="0" y2="0.00" stroke="#333" stroke-width="0.6"/>
<text transform="translate(-3.90,3.30) scale(1,1.100)" font-size="7.40" text-anchor="end" font-family='"Liberation Serif", serif' font-weight="normal" fill="#000" >180</text>
<line x1="-2.5" y1="23.61" x2="0" y2="23.61" stroke="#333" stroke-width="0.6"/>
<text transform="translate(-3.90,26.91) scale(1,1.100)" font-size="7.40" text-anchor="end" font-family='"Liberation Serif", serif' font-weight="normal" fill="#000" >135</text>
<line x1="-2.5" y1="47.23" x2="0" y2="47.23" stroke="#333" stroke-width="0.6"/>
<text transform="translate(-3.90,50.52) scale(1,1.100)" font-size="7.40" text-anchor="end" font-family='"Liberation Serif", serif' font-weight="normal" fill="#000" >90</text>
<line x1="-2.5" y1="70.84" x2="0" y2="70.84" stroke="#333" stroke-width="0.6"/>
<text transform="translate(-3.90,74.14) scale(1,1.100)" font-size="7.40" text-anchor="end" font-family='"Liberation Serif", serif' font-weight="normal" fill="#000" >45</text>
<line x1="-2.5" y1="94.45" x2="0" y2="94.45" stroke="#333" stroke-width="0.6"/>
<text transform="translate(-3.90,97.75) scale(1,1.100)" font-size="7.40" text-anchor="end" font-family='"Liberation Serif", serif' font-weight="normal" fill="#000" >0</text>
<line x1="-2.5" y1="118.06" x2="0" y2="118.06" stroke="#333" stroke-width="0.6"/>
<text transform="translate(-3.90,121.36) scale(1,1.100)" font-size="7.40" text-anchor="end" font-family='"Liberation Serif", serif' font-weight="normal" fill="#000" >-45</text>
<line x1="-2.5" y1="141.68" x2="0" y2="141.68" stroke="#333" stroke-width="0.6"/>
<text transform="translate(-3.90,144.98) scale(1,1.100)" font-size="7.40" text-anchor="end" font-family='"Liberation Serif", serif' font-weight="normal" fill="#000" >-90</text>
<line x1="-2.5" y1="165.29" x2="0" y2="165.29" stroke="#333" stroke-width="0.6"/>
<text transform="translate(-3.90,168.59) scale(1,1.100)" font-size="7.40" text-anchor="end" font-family='"Liberation Serif", serif' font-weight="normal" fill="#000" >-135</text>
<line x1="0.00" y1="188.90" x2="0.00" y2="191.40" stroke="#333" stroke-width="0.6"/>
<text transform="translate(0.00,196.30) scale(1,1.100)" font-size="7.40" text-anchor="middle" font-family='"Liberation Serif", serif' font-weight="normal" fill="#000" >-180</text>
<line x1="24.09" y1="188.90" x2="24.09" y2="191.40" stroke="#333" stroke-width="0.6"/>
<text transform="translate(24.09,196.30) scale(1,1.100)" font-size="7.40" text-anchor="middle" font-family='"Liberation Serif", serif' font-weight="normal" fill="#000" >-135</text>
<line x1="48.17" y1="188.90" x2="48.17" y2="191.40" stroke="#333" stroke-width="0.6"/>
<text transform="translate(48.17,196.30) scale(1,1.100)" font-size="7.40" text-anchor="middle" font-family='"Liberation Serif", serif' font-weight="normal" fill="#000" >-90</text>
<line x1="72.26" y1="188.90" x2="72.26" y2="191.40" stroke="#333" stroke-width="0.6"/>
<text transform="translate(72.26,196.30) scale(1,1.100)" font-size="7.40" text-anchor="middle" font-family='"Liberation Serif", serif' font-weight="normal" fill="#000" >-45</text>
<line x1="96.35" y1="188.90" x2="96.35" y2="191.40" stroke="#333" stroke-width="0.6"/>
<text transform="translate(96.35,196.30) scale(1,1.100)" font-size="7.40" text-anchor="middle" font-family='"Liberation Serif", serif' font-weight="normal" fill="#000" >0</text>
<line x1="120.44" y1="188.90" x2="120.44" y2="191.40" stroke="#333" stroke-width="0.6"/>
<text transform="translate(120.44,196.30) scale(1,1.100)" font-size="7.40" text-anchor="middle" font-family='"Liberation Serif", serif' font-weight="normal" fill="#000" >45</text>
<line x1="144.52" y1="188.90" x2="144.52" y2="191.40" stroke="#333" stroke-width="0.6"/>
<text transform="translate(144.52,196.30) scale(1,1.100)" font-size="7.40" text-anchor="middle" font-family='"Liberation Serif", serif' font-weight="normal" fill="#000" >90</text>
<line x1="168.61" y1="188.90" x2="168.61" y2="191.40" stroke="#333" stroke-width="0.6"/>
<text transform="translate(168.61,196.30) scale(1,1.100)" font-size="7.40" text-anchor="middle" font-family='"Liberation Serif", serif' font-weight="normal" fill="#000" >135</text>
<line x1="192.70" y1="188.90" x2="192.70" y2="191.40" stroke="#333" stroke-width="0.6"/>
<text transform="translate(192.70,196.30) scale(1,1.100)" font-size="7.40" text-anchor="middle" font-family='"Liberation Serif", serif' font-weight="normal" fill="#000" >180</text>
<text transform="translate(96.85,205.80) scale(1,1.100)" font-size="7.50" text-anchor="middle" font-family='"Liberation Serif", serif' font-weight="normal" fill="#000" >Phi (degrees)</text>
<text transform="translate(-20.3,94.45) rotate(-90) scale(1.15,1)" font-size="6.6" text-anchor="middle" font-family='"Liberation Serif", serif'>Psi (degrees)</text>
</g>
<g transform="translate(45.00,442.50)">
<g shape-rendering="crispEdges">
<rect x="0.00" y="0.00" width="5.40" height="5.29" fill="#ffff00"/>
<rect x="5.35" y="0.00" width="53.52" height="5.29" fill="#ff0000"/>
<rect x="58.82" y="0.00" width="16.09" height="5.29" fill="#ffff00"/>
<rect x="74.86" y="0.00" width="10.74" height="5.29" fill="#fcfbb4"/>
<rect x="112.29" y="0.00" width="26.79" height="5.29" fill="#f0eea8"/>
<rect x="165.76" y="0.00" width="21.44" height="5.29" fill="#fcfbb4"/>
<rect x="187.15" y="0.00" width="5.40" height="5.29" fill="#ffff00"/>
<rect x="0.00" y="5.24" width="5.40" height="5.29" fill="#ffff00"/>
<rect x="5.35" y="5.24" width="58.87" height="5.29" fill="#ff0000"/>
<rect x="64.17" y="5.24" width="16.09" height="5.29" fill="#ffff00"/>
<rect x="80.21" y="5.24" width="10.74" height="5.29" fill="#fcfbb4"/>
<rect x="165.76" y="5.24" width="21.44" height="5.29" fill="#fcfbb4"/>
<rect x="187.15" y="5.24" width="5.40" height="5.29" fill="#ffff00"/>
<rect x="0.00" y="10.49" width="5.40" height="5.29" fill="#ffff00"/>
<rect x="5.35" y="10.49" width="58.87" height="5.29" fill="#ff0000"/>
<rect x="64.17" y="10.49" width="16.09" height="5.29" fill="#ffff00"/>
<rect x="80.21" y="10.49" width="21.44" height="5.29" fill="#fcfbb4"/>
<rect x="165.76" y="10.49" width="10.74" height="5.29" fill="#fcfbb4"/>
<rect x="176.46" y="10.49" width="16.09" height="5.29" fill="#ffff00"/>
<rect x="0.00" y="15.73" width="10.74" height="5.29" fill="#ffff00"/>
<rect x="10.69" y="15.73" width="58.87" height="5.29" fill="#ff0000"/>
<rect x="69.51" y="15.73" width="21.44" height="5.29" fill="#ffff00"/>
<rect x="90.90" y="15.73" width="10.74" height="5.29" fill="#fcfbb4"/>
<rect x="165.76" y="15.73" width="16.09" height="5.29" fill="#fcfbb4"/>
<rect x="181.81" y="15.73" width="10.74" height="5.29" fill="#ffff00"/>
<rect x="0.00" y="20.98" width="10.74" height="5.29" fill="#ffff00"/>
<rect x="10.69" y="20.98" width="64.22" height="5.29" fill="#ff0000"/>
<rect x="74.86" y="20.98" width="10.74" height="5.29" fill="#ffff00"/>
<rect x="85.56" y="20.98" width="16.09" height="5.29" fill="#fcfbb4"/>
<rect x="165.76" y="20.98" width="21.44" height="5.29" fill="#fcfbb4"/>
<rect x="187.15" y="20.98" width="5.40" height="5.29" fill="#ffff00"/>
<rect x="0.00" y="26.22" width="10.74" height="5.29" fill="#ffff00"/>
<rect x="10.69" y="26.22" width="58.87" height="5.29" fill="#ff0000"/>
<rect x="69.51" y="26.22" width="16.09" height="5.29" fill="#ffff00"/>
<rect x="85.56" y="26.22" width="16.09" height="5.29" fill="#fcfbb4"/>
<rect x="171.11" y="26.22" width="16.09" height="5.29" fill="#fcfbb4"/>
<rect x="187.15" y="26.22" width="5.40" height="5.29" fill="#ffff00"/>
<rect x="0.00" y="31.47" width="16.09" height="5.29" fill="#ffff00"/>
<rect x="16.04" y="31.47" width="48.17" height="5.29" fill="#ff0000"/>
<rect x="64.17" y="31.47" width="21.44" height="5.29" fill="#ffff00"/>
<rect x="85.56" y="31.47" width="16.09" height="5.29" fill="#fcfbb4"/>
<rect x="117.64" y="31.47" width="32.13" height="5.29" fill="#f0eea8"/>
<rect x="176.46" y="31.47" width="10.74" height="5.29" fill="#fcfbb4"/>
<rect x="187.15" y="31.47" width="5.40" height="5.29" fill="#ffff00"/>
<rect x="0.00" y="36.71" width="21.44" height="5.29" fill="#ffff00"/>
<rect x="21.39" y="36.71" width="37.48" height="5.29" fill="#ff0000"/>
<rect x="58.82" y="36.71" width="32.13" height="5.29" fill="#ffff00"/>
<rect x="90.90" y="36.71" width="10.74" height="5.29" fill="#fcfbb4"/>
<rect x="101.60" y="36.71" width="48.17" height="5.29" fill="#f0eea8"/>
<rect x="176.46" y="36.71" width="10.74" height="5.29" fill="#fcfbb4"/>
<rect x="187.15" y="36.71" width="5.40" height="5.29" fill="#ffff00"/>
<rect x="0.00" y="41.96" width="26.79" height="5.29" fill="#ffff00"/>
<rect x="26.74" y="41.96" width="5.40" height="5.29" fill="#ff0000"/>
<rect x="32.08" y="41.96" width="10.74" height="5.29" fill="#ffff00"/>
<rect x="42.78" y="41.96" width="5.40" height="5.29" fill="#ff0000"/>
<rect x="48.12" y="41.96" width="42.83" height="5.29" fill="#ffff00"/>
<rect x="90.90" y="41.96" width="10.74" height="5.29" fill="#fcfbb4"/>
<rect x="101.60" y="41.96" width="26.79" height="5.29" fill="#f0eea8"/>
<rect x="128.33" y="41.96" width="10.74" height="5.29" fill="#ffff00"/>
<rect x="139.03" y="41.96" width="10.74" height="5.29" fill="#f0eea8"/>
<rect x="176.46" y="41.96" width="10.74" height="5.29" fill="#fcfbb4"/>
<rect x="187.15" y="41.96" width="5.40" height="5.29" fill="#ffff00"/>
<rect x="0.00" y="47.20" width="74.91" height="5.29" fill="#ffff00"/>
<rect x="74.86" y="47.20" width="26.79" height="5.29" fill="#fcfbb4"/>
<rect x="101.60" y="47.20" width="10.74" height="5.29" fill="#f0eea8"/>
<rect x="112.29" y="47.20" width="21.44" height="5.29" fill="#ffff00"/>
<rect x="133.68" y="47.20" width="16.09" height="5.29" fill="#f0eea8"/>
<rect x="176.46" y="47.20" width="16.09" height="5.29" fill="#fcfbb4"/>
<rect x="0.00" y="52.44" width="64.22" height="5.29" fill="#ffff00"/>
<rect x="64.17" y="52.44" width="37.48" height="5.29" fill="#fcfbb4"/>
<rect x="101.60" y="52.44" width="10.74" height="5.29" fill="#f0eea8"/>
<rect x="112.29" y="52.44" width="21.44" height="5.29" fill="#ffff00"/>
<rect x="133.68" y="52.44" width="16.09" height="5.29" fill="#f0eea8"/>
<rect x="176.46" y="52.44" width="16.09" height="5.29" fill="#fcfbb4"/>
<rect x="0.00" y="57.69" width="5.40" height="5.29" fill="#fcfbb4"/>
<rect x="5.35" y="57.69" width="64.22" height="5.29" fill="#ffff00"/>
<rect x="69.51" y="57.69" width="10.74" height="5.29" fill="#fcfbb4"/>
<rect x="101.60" y="57.69" width="16.09" height="5.29" fill="#f0eea8"/>
<rect x="117.64" y="57.69" width="16.09" height="5.29" fill="#ffff00"/>
<rect x="133.68" y="57.69" width="21.44" height="5.29" fill="#f0eea8"/>
<rect x="176.46" y="57.69" width="16.09" height="5.29" fill="#fcfbb4"/>
<rect x="0.00" y="62.93" width="10.74" height="5.29" fill="#fcfbb4"/>
<rect x="10.69" y="62.93" width="58.87" height="5.29" fill="#ffff00"/>
<rect x="69.51" y="62.93" width="10.74" height="5.29" fill="#fcfbb4"/>
<rect x="101.60" y="62.93" width="10.74" height="5.29" fill="#f0eea8"/>
<rect x="112.29" y="62.93" width="32.13" height="5.29" fill="#ffff00"/>
<rect x="144.38" y="62.93" width="10.74" height="5.29" fill="#f0eea8"/>
<rect x="176.46" y="62.93" width="16.09" height="5.29" fill="#fcfbb4"/>
<rect x="0.00" y="68.18" width="10.74" height="5.29" fill="#f0eea8"/>
<rect x="10.69" y="68.18" width="53.52" height="5.29" fill="#f2f000"/>
<rect x="64.17" y="68.18" width="16.09" height="5.29" fill="#f0eea8"/>
<rect x="101.60" y="68.18" width="10.74" height="5.29" fill="#f0eea8"/>
<rect x="112.29" y="68.18" width="10.74" height="5.29" fill="#ffff00"/>
<rect x="122.99" y="68.18" width="5.40" height="5.29" fill="#ff0000"/>
<rect x="128.33" y="68.18" width="10.74" height="5.29" fill="#ffff00"/>
<rect x="139.03" y="68.18" width="16.09" height="5.29" fill="#f0eea8"/>
<rect x="176.46" y="68.18" width="16.09" height="5.29" fill="#fcfbb4"/>
<rect x="0.00" y="73.42" width="5.40" height="5.29" fill="#f0eea8"/>
<rect x="5.35" y="73.42" width="58.87" height="5.29" fill="#f2f000"/>
<rect x="64.17" y="73.42" width="16.09" height="5.29" fill="#f0eea8"/>
<rect x="101.60" y="73.42" width="16.09" height="5.29" fill="#f0eea8"/>
<rect x="117.64" y="73.42" width="5.40" height="5.29" fill="#ffff00"/>
<rect x="122.99" y="73.42" width="10.74" height="5.29" fill="#ff0000"/>
<rect x="133.68" y="73.42" width="5.40" height="5.29" fill="#ffff00"/>
<rect x="139.03" y="73.42" width="16.09" height="5.29" fill="#f0eea8"/>
<rect x="176.46" y="73.42" width="16.09" height="5.29" fill="#fcfbb4"/>
<rect x="0.00" y="78.67" width="5.40" height="5.29" fill="#f0eea8"/>
<rect x="5.35" y="78.67" width="32.13" height="5.29" fill="#f2f000"/>
<rect x="37.43" y="78.67" width="5.40" height="5.29" fill="#f80000"/>
<rect x="42.78" y="78.67" width="26.79" height="5.29" fill="#f2f000"/>
<rect x="69.51" y="78.67" width="16.09" height="5.29" fill="#f0eea8"/>
<rect x="101.60" y="78.67" width="16.09" height="5.29" fill="#f0eea8"/>
<rect x="117.64" y="78.67" width="26.79" height="5.29" fill="#ffff00"/>
<rect x="144.38" y="78.67" width="10.74" height="5.29" fill="#f0eea8"/>
<rect x="176.46" y="78.67" width="16.09" height="5.29" fill="#fcfbb4"/>
<rect x="0.00" y="83.91" width="5.40" height="5.29" fill="#f0eea8"/>
<rect x="5.35" y="83.91" width="26.79" height="5.29" fill="#f2f000"/>
<rect x="32.08" y="83.91" width="21.44" height="5.29" fill="#f80000"/>
<rect x="53.47" y="83.91" width="16.09" height="5.29" fill="#f2f000"/>
<rect x="69.51" y="83.91" width="21.44" height="5.29" fill="#f0eea8"/>
<rect x="106.94" y="83.91" width="16.09" height="5.29" fill="#f0eea8"/>
<rect x="122.99" y="83.91" width="16.09" height="5.29" fill="#ffff00"/>
<rect x="139.03" y="83.91" width="16.09" height="5.29" fill="#f0eea8"/>
<rect x="176.46" y="83.91" width="16.09" height="5.29" fill="#fcfbb4"/>
<rect x="0.00" y="89.16" width="5.40" height="5.29" fill="#f0eea8"/>
<rect x="5.35" y="89.16" width="26.79" height="5.29" fill="#f2f000"/>
<rect x="32.08" y="89.16" width="26.79" height="5.29" fill="#f80000"/>
<rect x="58.82" y="89.16" width="16.09" height="5.29" fill="#f2f000"/>
<rect x="74.86" y="89.16" width="16.09" height="5.29" fill="#f0eea8"/>
<rect x="106.94" y="89.16" width="21.44" height="5.29" fill="#f0eea8"/>
<rect x="128.33" y="89.16" width="16.09" height="5.29" fill="#ffff00"/>
<rect x="144.38" y="89.16" width="10.74" height="5.29" fill="#f0eea8"/>
<rect x="176.46" y="89.16" width="16.09" height="5.29" fill="#fcfbb4"/>
<rect x="0.00" y="94.40" width="5.40" height="5.29" fill="#f0eea8"/>
<rect x="5.35" y="94.40" width="21.44" height="5.29" fill="#f2f000"/>
<rect x="26.74" y="94.40" width="37.48" height="5.29" fill="#f80000"/>
<rect x="64.17" y="94.40" width="16.09" height="5.29" fill="#f2f000"/>
<rect x="80.21" y="94.40" width="16.09" height="5.29" fill="#f0eea8"/>
<rect x="106.94" y="94.40" width="16.09" height="5.29" fill="#f0eea8"/>
<rect x="122.99" y="94.40" width="5.40" height="5.29" fill="#ffff00"/>
<rect x="128.33" y="94.40" width="5.40" height="5.29" fill="#f0eea8"/>
<rect x="133.68" y="94.40" width="10.74" height="5.29" fill="#ffff00"/>
<rect x="144.38" y="94.40" width="10.74" height="5.29" fill="#f0eea8"/>
<rect x="176.46" y="94.40" width="16.09" height="5.29" fill="#fcfbb4"/>
<rect x="0.00" y="99.64" width="5.40" height="5.29" fill="#f0eea8"/>
<rect x="5.35" y="99.64" width="26.79" height="5.29" fill="#f2f000"/>
<rect x="32.08" y="99.64" width="37.48" height="5.29" fill="#f80000"/>
<rect x="69.51" y="99.64" width="10.74" height="5.29" fill="#f2f000"/>
<rect x="80.21" y="99.64" width="21.44" height="5.29" fill="#f0eea8"/>
<rect x="106.94" y="99.64" width="48.17" height="5.29" fill="#f0eea8"/>
<rect x="176.46" y="99.64" width="16.09" height="5.29" fill="#fcfbb4"/>
<rect x="0.00" y="104.89" width="10.74" height="5.29" fill="#f0eea8"/>
<rect x="10.69" y="104.89" width="21.44" height="5.29" fill="#f2f000"/>
<rect x="32.08" y="104.89" width="42.83" height="5.29" fill="#f80000"/>
<rect x="74.86" y="104.89" width="10.74" height="5.29" fill="#f2f000"/>
<rect x="85.56" y="104.89" width="16.09" height="5.29" fill="#f0eea8"/>
<rect x="106.94" y="104.89" width="48.17" height="5.29" fill="#f0eea8"/>
<rect x="176.46" y="104.89" width="16.09" height="5.29" fill="#fcfbb4"/>
<rect x="0.00" y="110.13" width="10.74" height="5.29" fill="#f0eea8"/>
<rect x="10.69" y="110.13" width="26.79" height="5.29" fill="#f2f000"/>
<rect x="37.43" y="110.13" width="37.48" height="5.29" fill="#f80000"/>
<rect x="74.86" y="110.13" width="16.09" height="5.29" fill="#f2f000"/>
<rect x="90.90" y="110.13" width="16.09" height="5.29" fill="#f0eea8"/>
<rect x="176.46" y="110.13" width="16.09" height="5.29" fill="#fcfbb4"/>
<rect x="0.00" y="115.38" width="16.09" height="5.29" fill="#f0eea8"/>
<rect x="16.04" y="115.38" width="26.79" height="5.29" fill="#f2f000"/>
<rect x="42.78" y="115.38" width="37.48" height="5.29" fill="#f80000"/>
<rect x="80.21" y="115.38" width="10.74" height="5.29" fill="#f2f000"/>
<rect x="90.90" y="115.38" width="16.09" height="5.29" fill="#f0eea8"/>
<rect x="176.46" y="115.38" width="16.09" height="5.29" fill="#fcfbb4"/>
<rect x="0.00" y="120.62" width="5.40" height="5.29" fill="#f0eea8"/>
<rect x="5.35" y="120.62" width="42.83" height="5.29" fill="#f2f000"/>
<rect x="48.12" y="120.62" width="32.13" height="5.29" fill="#f80000"/>
<rect x="80.21" y="120.62" width="16.09" height="5.29" fill="#f2f000"/>
<rect x="96.25" y="120.62" width="16.09" height="5.29" fill="#f0eea8"/>
<rect x="176.46" y="120.62" width="16.09" height="5.29" fill="#fcfbb4"/>
<rect x="0.00" y="125.87" width="10.74" height="5.29" fill="#f2f000"/>
<rect x="10.69" y="125.87" width="5.40" height="5.29" fill="#f0eea8"/>
<rect x="16.04" y="125.87" width="42.83" height="5.29" fill="#f2f000"/>
<rect x="58.82" y="125.87" width="21.44" height="5.29" fill="#f80000"/>
<rect x="80.21" y="125.87" width="16.09" height="5.29" fill="#f2f000"/>
<rect x="96.25" y="125.87" width="16.09" height="5.29" fill="#f0eea8"/>
<rect x="176.46" y="125.87" width="16.09" height="5.29" fill="#fcfbb4"/>
<rect x="0.00" y="131.11" width="16.09" height="5.29" fill="#f0eea8"/>
<rect x="16.04" y="131.11" width="85.61" height="5.29" fill="#f2f000"/>
<rect x="101.60" y="131.11" width="10.74" height="5.29" fill="#f0eea8"/>
<rect x="176.46" y="131.11" width="16.09" height="5.29" fill="#fcfbb4"/>
<rect x="0.00" y="136.36" width="26.79" height="5.29" fill="#f0eea8"/>
<rect x="26.74" y="136.36" width="69.56" height="5.29" fill="#f2f000"/>
<rect x="96.25" y="136.36" width="16.09" height="5.29" fill="#f0eea8"/>
<rect x="176.46" y="136.36" width="16.09" height="5.29" fill="#fcfbb4"/>
<rect x="5.35" y="141.60" width="21.44" height="5.29" fill="#f0eea8"/>
<rect x="26.74" y="141.60" width="53.52" height="5.29" fill="#f2f000"/>
<rect x="80.21" y="141.60" width="32.13" height="5.29" fill="#f0eea8"/>
<rect x="16.04" y="146.84" width="42.83" height="5.29" fill="#f0eea8"/>
<rect x="58.82" y="146.84" width="5.40" height="5.29" fill="#f2f000"/>
<rect x="64.17" y="146.84" width="42.83" height="5.29" fill="#f0eea8"/>
<rect x="16.04" y="152.09" width="21.44" height="5.29" fill="#fcfbb4"/>
<rect x="37.43" y="152.09" width="10.74" height="5.29" fill="#ffff00"/>
<rect x="48.12" y="152.09" width="42.83" height="5.29" fill="#fcfbb4"/>
<rect x="0.00" y="157.33" width="26.79" height="5.29" fill="#fcfbb4"/>
<rect x="26.74" y="157.33" width="10.74" height="5.29" fill="#ffff00"/>
<rect x="37.43" y="157.33" width="37.48" height="5.29" fill="#fcfbb4"/>
<rect x="112.29" y="157.33" width="26.79" height="5.29" fill="#f0eea8"/>
<rect x="0.00" y="162.58" width="32.13" height="5.29" fill="#fcfbb4"/>
<rect x="32.08" y="162.58" width="21.44" height="5.29" fill="#ffff00"/>
<rect x="53.47" y="162.58" width="21.44" height="5.29" fill="#fcfbb4"/>
<rect x="112.29" y="162.58" width="26.79" height="5.29" fill="#f0eea8"/>
<rect x="0.00" y="167.82" width="5.40" height="5.29" fill="#fcfbb4"/>
<rect x="5.35" y="167.82" width="16.09" height="5.29" fill="#ffff00"/>
<rect x="21.39" y="167.82" width="5.40" height="5.29" fill="#fcfbb4"/>
<rect x="26.74" y="167.82" width="26.79" height="5.29" fill="#ffff00"/>
<rect x="53.47" y="167.82" width="26.79" height="5.29" fill="#fcfbb4"/>
<rect x="112.29" y="167.82" width="10.74" height="5.29" fill="#f0eea8"/>
<rect x="122.99" y="167.82" width="5.40" height="5.29" fill="#ffff00"/>
<rect x="128.33" y="167.82" width="16.09" height="5.29" fill="#f0eea8"/>
<rect x="0.00" y="173.07" width="5.40" height="5.29" fill="#fcfbb4"/>
<rect x="5.35" y="173.07" width="53.52" height="5.29" fill="#ffff00"/>
<rect x="58.82" y="173.07" width="21.44" height="5.29" fill="#fcfbb4"/>
<rect x="112.29" y="173.07" width="10.74" height="5.29" fill="#f0eea8"/>
<rect x="122.99" y="173.07" width="5.40" height="5.29" fill="#ffff00"/>
<rect x="128.33" y="173.07" width="16.09" height="5.29" fill="#f0eea8"/>
<rect x="176.46" y="173.07" width="16.09" height="5.29" fill="#fcfbb4"/>
<rect x="0.00" y="178.31" width="5.40" height="5.29" fill="#fcfbb4"/>
<rect x="5.35" y="178.31" width="64.22" height="5.29" fill="#ffff00"/>
<rect x="69.51" y="178.31" width="10.74" height="5.29" fill="#fcfbb4"/>
<rect x="112.29" y="178.31" width="10.74" height="5.29" fill="#f0eea8"/>
<rect x="122.99" y="178.31" width="10.74" height="5.29" fill="#ffff00"/>
<rect x="133.68" y="178.31" width="10.74" height="5.29" fill="#f0eea8"/>
<rect x="176.46" y="178.31" width="16.09" height="5.29" fill="#fcfbb4"/>
<rect x="0.00" y="183.56" width="69.56" height="5.29" fill="#ffff00"/>
<rect x="69.51" y="183.56" width="10.74" height="5.29" fill="#fcfbb4"/>
<rect x="112.29" y="183.56" width="32.13" height="5.29" fill="#f0eea8"/>
<rect x="176.46" y="183.56" width="10.74" height="5.29" fill="#fcfbb4"/>
<rect x="187.15" y="183.56" width="5.40" height="5.29" fill="#ffff00"/>
</g>
<path d="M74.86 0.00V5.24M85.56 0.00V5.24M139.03 0.00V5.24M80.21 5.24V10.49M90.90 5.24V10.49M80.21 10.49V15.73M101.60 10.49V15.73M90.90 15.73V20.98M101.60 15.73V20.98M85.56 20.98V26.22M101.60 20.98V26.22M85.56 26.22V31.47M101.60 26.22V31.47M85.56 31.47V36.71M101.60 31.47V36.71M149.72 31.47V36.71M90.90 36.71V41.96M149.72 36.71V41.96M90.90 41.96V47.20M139.03 41.96V47.20M149.72 41.96V47.20M74.86 47.20V52.44M133.68 47.20V52.44M149.72 47.20V52.44M64.17 52.44V57.69M133.68 52.44V57.69M149.72 52.44V57.69M69.51 57.69V62.93M80.21 57.69V62.93M133.68 57.69V62.93M155.07 57.69V62.93M69.51 62.93V68.18M80.21 62.93V68.18M144.38 62.93V68.18M155.07 62.93V68.18M64.17 68.18V73.42M80.21 68.18V73.42M139.03 68.18V73.42M155.07 68.18V73.42M64.17 73.42V78.67M80.21 73.42V78.67M139.03 73.42V78.67M155.07 73.42V78.67M69.51 78.67V83.91M85.56 78.67V83.91M144.38 78.67V83.91M155.07 78.67V83.91M69.51 83.91V89.16M90.90 83.91V89.16M139.03 83.91V89.16M155.07 83.91V89.16M74.86 89.16V94.40M90.90 89.16V94.40M144.38 89.16V94.40M155.07 89.16V94.40M80.21 94.40V99.64M96.25 94.40V99.64M128.33 94.40V99.64M144.38 94.40V99.64M155.07 94.40V99.64M80.21 99.64V104.89M101.60 99.64V104.89M155.07 99.64V104.89M85.56 104.89V110.13M101.60 104.89V110.13M155.07 104.89V110.13M90.90 110.13V115.38M106.94 110.13V115.38M90.90 115.38V120.62M106.94 115.38V120.62M96.25 120.62V125.87M112.29 120.62V125.87M10.69 125.87V131.11M96.25 125.87V131.11M112.29 125.87V131.11M101.60 131.11V136.36M112.29 131.11V136.36M96.25 136.36V141.60M112.29 136.36V141.60M80.21 141.60V146.84M112.29 141.60V146.84M64.17 146.84V152.09M106.94 146.84V152.09M48.12 152.09V157.33M90.90 152.09V157.33M37.43 157.33V162.58M74.86 157.33V162.58M139.03 157.33V162.58M53.47 162.58V167.82M74.86 162.58V167.82M139.03 162.58V167.82M21.39 167.82V173.07M53.47 167.82V173.07M80.21 167.82V173.07M128.33 167.82V173.07M144.38 167.82V173.07M58.82 173.07V178.31M80.21 173.07V178.31M128.33 173.07V178.31M144.38 173.07V178.31M69.51 178.31V183.56M80.21 178.31V183.56M133.68 178.31V183.56M144.38 178.31V183.56M69.51 183.56V188.80M80.21 183.56V188.80M144.38 183.56V188.80M112.29 5.24H117.64M117.64 5.24H122.99M122.99 5.24H128.33M128.33 5.24H133.68M133.68 5.24H139.03M176.46 15.73H181.81M85.56 20.98H90.90M181.81 20.98H187.15M165.76 26.22H171.11M171.11 31.47H176.46M74.86 47.20H80.21M80.21 47.20H85.56M85.56 47.20H90.90M133.68 47.20H139.03M187.15 47.20H192.50M64.17 52.44H69.51M69.51 52.44H74.86M0.00 57.69H5.35M80.21 57.69H85.56M85.56 57.69H90.90M90.90 57.69H96.25M96.25 57.69H101.60M112.29 57.69H117.64M5.35 62.93H10.69M64.17 68.18H69.51M139.03 68.18H144.38M112.29 73.42H117.64M101.60 83.91H106.94M117.64 83.91H122.99M139.03 83.91H144.38M122.99 89.16H128.33M128.33 94.40H133.68M122.99 99.64H128.33M133.68 99.64H139.03M139.03 99.64H144.38M5.35 104.89H10.69M106.94 110.13H112.29M112.29 110.13H117.64M117.64 110.13H122.99M122.99 110.13H128.33M128.33 110.13H133.68M133.68 110.13H139.03M139.03 110.13H144.38M144.38 110.13H149.72M149.72 110.13H155.07M10.69 115.38H16.04M10.69 125.87H16.04M0.00 131.11H5.35M5.35 131.11H10.69M16.04 136.36H21.39M21.39 136.36H26.74M96.25 136.36H101.60M0.00 141.60H5.35M80.21 141.60H85.56M85.56 141.60H90.90M90.90 141.60H96.25M176.46 141.60H181.81M181.81 141.60H187.15M187.15 141.60H192.50M5.35 146.84H10.69M10.69 146.84H16.04M26.74 146.84H32.08M32.08 146.84H37.43M37.43 146.84H42.78M42.78 146.84H48.12M48.12 146.84H53.47M53.47 146.84H58.82M64.17 146.84H69.51M69.51 146.84H74.86M74.86 146.84H80.21M106.94 146.84H112.29M58.82 152.09H64.17M90.90 152.09H96.25M96.25 152.09H101.60M101.60 152.09H106.94M37.43 157.33H42.78M42.78 157.33H48.12M74.86 157.33H80.21M80.21 157.33H85.56M85.56 157.33H90.90M26.74 162.58H32.08M122.99 183.56H128.33M128.33 183.56H133.68" fill="none" stroke="#5a5826" stroke-width="0.60" stroke-opacity="0.85"/>
<text x="4.8" y="28.5" font-size="5.2" font-family='"Liberation Serif", serif' fill="#4a4a4a" text-anchor="middle">b</text>
<text x="89.2" y="28.8" font-size="5.2" font-family='"Liberation Serif", serif' fill="#4a4a4a" text-anchor="middle">~b</text>
<text x="10.8" y="81.3" font-size="5.2" font-family='"Liberation Serif", serif' fill="#4a4a4a" text-anchor="middle">a</text>
<text x="89.1" y="104.6" font-size="5.2" font-family='"Liberation Serif", serif' fill="#4a4a4a" text-anchor="middle">~a</text>
<text x="120.4" y="39.0" font-size="5.2" font-family='"Liberation Serif", serif' fill="#4a4a4a" text-anchor="middle">~l</text>
<text x="115.1" y="54.2" font-size="5.2" font-family='"Liberation Serif", serif' fill="#4a4a4a" text-anchor="middle">l</text>
<text x="115.3" y="164.9" font-size="5.2" font-family='"Liberation Serif", serif' fill="#4a4a4a" text-anchor="middle">~p</text>
<text x="125.9" y="175.4" font-size="5.2" font-family='"Liberation Serif", serif' fill="#4a4a4a" text-anchor="middle">p</text>
<text x="179.7" y="180.7" font-size="5.2" font-family='"Liberation Serif", serif' fill="#4a4a4a" text-anchor="middle">~b</text>
<text x="169.1" y="6.9" font-size="5.2" font-family='"Liberation Serif", serif' fill="#4a4a4a" text-anchor="middle">~b</text>
<text x="187.5" y="12.3" font-size="5.2" font-family='"Liberation Serif", serif' fill="#4a4a4a" text-anchor="middle">b</text>
<text x="3.5" y="164.8" font-size="5.2" font-family='"Liberation Serif", serif' fill="#4a4a4a" text-anchor="middle">~b</text>
<text x="10.5" y="174.8" font-size="5.2" font-family='"Liberation Serif", serif' fill="#4a4a4a" text-anchor="middle">b</text>
<text x="10.0" y="4.8" font-size="5.2" font-family='"Liberation Serif", serif' fill="#4a4a4a" text-anchor="middle">B</text>
<line x1="96.25" y1="0" x2="96.25" y2="188.80" stroke="#bdbdbd" stroke-width="0.5" stroke-opacity="0.7"/>
<line x1="0" y1="94.40" x2="192.50" y2="94.40" stroke="#bdbdbd" stroke-width="0.5" stroke-opacity="0.7"/>
<g shape-rendering="crispEdges"><rect x="5.35" y="0.00" width="53.52" height="5.29" fill="#ff0000"/>
<rect x="5.35" y="5.24" width="58.87" height="5.29" fill="#ff0000"/>
<rect x="5.35" y="10.49" width="58.87" height="5.29" fill="#ff0000"/>
<rect x="10.69" y="15.73" width="58.87" height="5.29" fill="#ff0000"/>
<rect x="10.69" y="20.98" width="64.22" height="5.29" fill="#ff0000"/>
<rect x="10.69" y="26.22" width="58.87" height="5.29" fill="#ff0000"/>
<rect x="16.04" y="31.47" width="48.17" height="5.29" fill="#ff0000"/>
<rect x="21.39" y="36.71" width="37.48" height="5.29" fill="#ff0000"/>
<rect x="26.74" y="41.96" width="5.40" height="5.29" fill="#ff0000"/>
<rect x="42.78" y="41.96" width="5.40" height="5.29" fill="#ff0000"/>
<rect x="122.99" y="68.18" width="5.40" height="5.29" fill="#ff0000"/>
<rect x="122.99" y="73.42" width="10.74" height="5.29" fill="#ff0000"/>
<rect x="37.43" y="78.67" width="5.40" height="5.29" fill="#f80000"/>
<rect x="32.08" y="83.91" width="21.44" height="5.29" fill="#f80000"/>
<rect x="32.08" y="89.16" width="26.79" height="5.29" fill="#f80000"/>
<rect x="26.74" y="94.40" width="37.48" height="5.29" fill="#f80000"/>
<rect x="32.08" y="99.64" width="37.48" height="5.29" fill="#f80000"/>
<rect x="32.08" y="104.89" width="42.83" height="5.29" fill="#f80000"/>
<rect x="37.43" y="110.13" width="37.48" height="5.29" fill="#f80000"/>
<rect x="42.78" y="115.38" width="37.48" height="5.29" fill="#f80000"/>
<rect x="48.12" y="120.62" width="32.13" height="5.29" fill="#f80000"/>
<rect x="58.82" y="125.87" width="21.44" height="5.29" fill="#f80000"/></g>
<circle cx="17.52" cy="0.67" r="0.95" fill="#000"/>
<circle cx="6.42" cy="6.51" r="0.95" fill="#000"/>
<circle cx="7.59" cy="10.01" r="0.95" fill="#000"/>
<circle cx="9.34" cy="11.18" r="0.95" fill="#000"/>
<circle cx="18.69" cy="7.09" r="0.95" fill="#000"/>
<circle cx="20.44" cy="10.01" r="0.95" fill="#000"/>
<circle cx="21.02" cy="11.76" r="0.95" fill="#000"/>
<circle cx="25.11" cy="5.34" r="0.95" fill="#000"/>
<circle cx="24.53" cy="13.51" r="0.95" fill="#000"/>
<circle cx="23.94" cy="15.27" r="0.95" fill="#000"/>
<circle cx="26.86" cy="11.76" r="0.95" fill="#000"/>
<circle cx="30.36" cy="10.01" r="0.95" fill="#000"/>
<circle cx="31.53" cy="8.84" r="0.95" fill="#000"/>
<circle cx="33.87" cy="11.18" r="0.95" fill="#000"/>
<circle cx="30.95" cy="13.51" r="0.95" fill="#000"/>
<circle cx="31.53" cy="17.02" r="0.95" fill="#000"/>
<circle cx="35.04" cy="17.60" r="0.95" fill="#000"/>
<circle cx="40.29" cy="16.43" r="0.95" fill="#000"/>
<circle cx="40.88" cy="22.86" r="0.95" fill="#000"/>
<circle cx="47.88" cy="11.18" r="0.95" fill="#000"/>
<circle cx="49.05" cy="8.26" r="0.95" fill="#000"/>
<circle cx="51.97" cy="10.01" r="0.95" fill="#000"/>
<circle cx="47.88" cy="14.68" r="0.95" fill="#000"/>
<circle cx="57.81" cy="6.51" r="0.95" fill="#000"/>
<circle cx="58.98" cy="8.26" r="0.95" fill="#000"/>
<circle cx="60.73" cy="8.84" r="0.95" fill="#000"/>
<circle cx="54.89" cy="18.19" r="0.95" fill="#000"/>
<circle cx="53.72" cy="21.69" r="0.95" fill="#000"/>
<circle cx="60.73" cy="14.68" r="0.95" fill="#000"/>
<circle cx="61.90" cy="16.43" r="0.95" fill="#000"/>
<circle cx="63.07" cy="15.85" r="0.95" fill="#000"/>
<circle cx="60.73" cy="21.11" r="0.95" fill="#000"/>
<circle cx="63.65" cy="22.27" r="0.95" fill="#000"/>
<circle cx="67.74" cy="18.19" r="0.95" fill="#000"/>
<circle cx="64.82" cy="24.61" r="0.95" fill="#000"/>
<circle cx="58.39" cy="27.53" r="0.95" fill="#000"/>
<circle cx="56.06" cy="28.11" r="0.95" fill="#000"/>
<circle cx="51.39" cy="26.36" r="0.95" fill="#000"/>
<circle cx="50.22" cy="28.70" r="0.95" fill="#000"/>
<circle cx="46.72" cy="24.03" r="0.95" fill="#000"/>
<circle cx="44.38" cy="22.86" r="0.95" fill="#000"/>
<circle cx="45.55" cy="27.53" r="0.95" fill="#000"/>
<circle cx="42.04" cy="28.70" r="0.95" fill="#000"/>
<circle cx="38.54" cy="27.53" r="0.95" fill="#000"/>
<circle cx="35.04" cy="26.36" r="0.95" fill="#000"/>
<circle cx="32.70" cy="24.03" r="0.95" fill="#000"/>
<circle cx="30.36" cy="25.19" r="0.95" fill="#000"/>
<circle cx="28.03" cy="27.53" r="0.95" fill="#000"/>
<circle cx="29.20" cy="32.20" r="0.95" fill="#000"/>
<circle cx="25.69" cy="31.03" r="0.95" fill="#000"/>
<circle cx="23.36" cy="22.86" r="0.95" fill="#000"/>
<circle cx="24.53" cy="23.44" r="0.95" fill="#000"/>
<circle cx="15.77" cy="27.53" r="0.95" fill="#000"/>
<circle cx="12.85" cy="18.19" r="0.95" fill="#000"/>
<circle cx="13.43" cy="19.94" r="0.95" fill="#000"/>
<circle cx="19.85" cy="13.51" r="0.95" fill="#000"/>
<circle cx="17.52" cy="14.68" r="0.95" fill="#000"/>
<circle cx="36.20" cy="31.62" r="0.95" fill="#000"/>
<circle cx="37.37" cy="34.54" r="0.95" fill="#000"/>
<circle cx="38.54" cy="36.87" r="0.95" fill="#000"/>
<circle cx="40.29" cy="36.87" r="0.95" fill="#000"/>
<circle cx="33.87" cy="34.54" r="0.95" fill="#000"/>
<circle cx="32.70" cy="29.86" r="0.95" fill="#000"/>
<circle cx="36.20" cy="29.86" r="0.95" fill="#000"/>
<circle cx="44.38" cy="32.20" r="0.95" fill="#000"/>
<circle cx="40.88" cy="32.20" r="0.95" fill="#000"/>
<circle cx="53.72" cy="32.20" r="0.95" fill="#000"/>
<circle cx="53.14" cy="34.54" r="0.95" fill="#000"/>
<circle cx="54.89" cy="42.71" r="0.95" fill="#000"/>
<circle cx="51.97" cy="49.72" r="0.95" fill="#000"/>
<circle cx="54.89" cy="49.14" r="0.95" fill="#000"/>
<circle cx="24.53" cy="53.81" r="0.95" fill="#000"/>
<circle cx="28.03" cy="42.71" r="0.95" fill="#000"/>
<circle cx="42.04" cy="69.57" r="0.95" fill="#000"/>
<circle cx="46.13" cy="69.57" r="0.95" fill="#000"/>
<circle cx="25.69" cy="73.08" r="0.95" fill="#000"/>
<circle cx="50.80" cy="73.08" r="0.95" fill="#000"/>
<circle cx="37.37" cy="20.52" r="0.95" fill="#000"/>
<circle cx="35.04" cy="24.03" r="0.95" fill="#000"/>
<circle cx="38.54" cy="24.61" r="0.95" fill="#000"/>
<circle cx="30.36" cy="21.11" r="0.95" fill="#000"/>
<circle cx="27.45" cy="24.61" r="0.95" fill="#000"/>
<circle cx="41.46" cy="21.69" r="0.95" fill="#000"/>
<circle cx="29.20" cy="22.27" r="0.95" fill="#000"/>
<circle cx="33.87" cy="26.95" r="0.95" fill="#000"/>
<circle cx="36.79" cy="26.36" r="0.95" fill="#000"/>
<circle cx="39.71" cy="26.36" r="0.95" fill="#000"/>
<circle cx="61.90" cy="19.35" r="0.95" fill="#000"/>
<circle cx="63.65" cy="20.52" r="0.95" fill="#000"/>
<circle cx="60.15" cy="17.02" r="0.95" fill="#000"/>
<circle cx="35.04" cy="28.70" r="0.95" fill="#000"/>
<circle cx="37.37" cy="28.70" r="0.95" fill="#000"/>
<circle cx="31.53" cy="27.53" r="0.95" fill="#000"/>
<circle cx="47.88" cy="26.36" r="0.95" fill="#000"/>
<circle cx="43.21" cy="25.78" r="0.95" fill="#000"/>
<circle cx="34.86" cy="29.62" r="0.95" fill="#000"/>
<circle cx="35.02" cy="26.24" r="0.95" fill="#000"/>
<circle cx="31.32" cy="26.66" r="0.95" fill="#000"/>
<circle cx="42.05" cy="29.26" r="0.95" fill="#000"/>
<circle cx="41.65" cy="28.55" r="0.95" fill="#000"/>
<circle cx="38.28" cy="28.29" r="0.95" fill="#000"/>
<circle cx="27.45" cy="31.03" r="0.95" fill="#000"/>
<circle cx="38.87" cy="29.57" r="0.95" fill="#000"/>
<circle cx="27.32" cy="20.40" r="0.95" fill="#000"/>
<circle cx="31.53" cy="25.62" r="0.95" fill="#000"/>
<circle cx="37.81" cy="27.34" r="0.95" fill="#000"/>
<circle cx="38.94" cy="24.90" r="0.95" fill="#000"/>
<circle cx="37.83" cy="29.14" r="0.95" fill="#000"/>
<circle cx="32.73" cy="34.55" r="0.95" fill="#000"/>
<circle cx="39.13" cy="32.42" r="0.95" fill="#000"/>
<circle cx="32.94" cy="24.51" r="0.95" fill="#000"/>
<circle cx="34.40" cy="27.09" r="0.95" fill="#000"/>
<circle cx="39.53" cy="28.54" r="0.95" fill="#000"/>
<circle cx="33.85" cy="23.62" r="0.95" fill="#000"/>
<circle cx="33.47" cy="32.52" r="0.95" fill="#000"/>
<circle cx="31.96" cy="28.53" r="0.95" fill="#000"/>
<circle cx="38.45" cy="21.44" r="0.95" fill="#000"/>
<circle cx="36.46" cy="32.87" r="0.95" fill="#000"/>
<circle cx="25.62" cy="26.21" r="0.95" fill="#000"/>
<circle cx="35.65" cy="24.19" r="0.95" fill="#000"/>
<circle cx="38.82" cy="27.27" r="0.95" fill="#000"/>
<circle cx="28.51" cy="30.91" r="0.95" fill="#000"/>
<circle cx="39.72" cy="31.40" r="0.95" fill="#000"/>
<circle cx="43.78" cy="29.01" r="0.95" fill="#000"/>
<circle cx="36.83" cy="22.22" r="0.95" fill="#000"/>
<circle cx="63.60" cy="15.78" r="0.95" fill="#000"/>
<circle cx="58.62" cy="11.97" r="0.95" fill="#000"/>
<circle cx="56.21" cy="16.25" r="0.95" fill="#000"/>
<circle cx="53.92" cy="20.75" r="0.95" fill="#000"/>
<circle cx="67.47" cy="22.73" r="0.95" fill="#000"/>
<circle cx="51.85" cy="4.65" r="0.95" fill="#000"/>
<circle cx="62.40" cy="15.05" r="0.95" fill="#000"/>
<circle cx="55.50" cy="25.06" r="0.95" fill="#000"/>
<circle cx="65.88" cy="20.27" r="0.95" fill="#000"/>
<circle cx="61.88" cy="21.89" r="0.95" fill="#000"/>
<circle cx="68.18" cy="22.97" r="0.95" fill="#000"/>
<circle cx="63.15" cy="22.55" r="0.95" fill="#000"/>
<circle cx="53.40" cy="26.84" r="0.95" fill="#000"/>
<circle cx="65.19" cy="22.45" r="0.95" fill="#000"/>
<circle cx="51.51" cy="15.65" r="0.95" fill="#000"/>
<circle cx="59.87" cy="25.31" r="0.95" fill="#000"/>
<circle cx="54.60" cy="28.76" r="0.95" fill="#000"/>
<circle cx="63.31" cy="18.48" r="0.95" fill="#000"/>
<circle cx="62.25" cy="23.15" r="0.95" fill="#000"/>
<circle cx="61.29" cy="26.04" r="0.95" fill="#000"/>
<circle cx="57.64" cy="16.93" r="0.95" fill="#000"/>
<circle cx="65.60" cy="19.51" r="0.95" fill="#000"/>
<circle cx="56.62" cy="24.88" r="0.95" fill="#000"/>
<circle cx="67.58" cy="16.76" r="0.95" fill="#000"/>
<circle cx="54.28" cy="18.57" r="0.95" fill="#000"/>
<circle cx="60.03" cy="17.61" r="0.95" fill="#000"/>
<circle cx="57.05" cy="23.04" r="0.95" fill="#000"/>
<circle cx="66.00" cy="24.37" r="0.95" fill="#000"/>
<circle cx="62.34" cy="20.19" r="0.95" fill="#000"/>
<circle cx="61.44" cy="22.71" r="0.95" fill="#000"/>
<circle cx="59.91" cy="20.97" r="0.95" fill="#000"/>
<circle cx="63.41" cy="19.36" r="0.95" fill="#000"/>
<circle cx="64.30" cy="22.66" r="0.95" fill="#000"/>
<circle cx="70.12" cy="21.25" r="0.95" fill="#000"/>
<circle cx="58.73" cy="17.18" r="0.95" fill="#000"/>
<circle cx="60.67" cy="24.75" r="0.95" fill="#000"/>
<circle cx="59.16" cy="21.61" r="0.95" fill="#000"/>
<circle cx="55.48" cy="20.78" r="0.95" fill="#000"/>
<circle cx="62.59" cy="20.75" r="0.95" fill="#000"/>
<circle cx="58.72" cy="23.18" r="0.95" fill="#000"/>
<circle cx="62.05" cy="16.31" r="0.95" fill="#000"/>
<circle cx="72.08" cy="21.43" r="0.95" fill="#000"/>
<circle cx="58.14" cy="18.77" r="0.95" fill="#000"/>
<circle cx="59.68" cy="18.99" r="0.95" fill="#000"/>
<circle cx="47.99" cy="16.51" r="0.95" fill="#000"/>
<circle cx="46.33" cy="24.60" r="0.95" fill="#000"/>
<circle cx="18.90" cy="13.83" r="0.95" fill="#000"/>
<circle cx="14.62" cy="27.08" r="0.95" fill="#000"/>
<circle cx="31.27" cy="27.31" r="0.95" fill="#000"/>
<circle cx="22.02" cy="9.13" r="0.95" fill="#000"/>
<circle cx="43.97" cy="34.04" r="0.95" fill="#000"/>
<circle cx="45.84" cy="28.20" r="0.95" fill="#000"/>
<circle cx="44.28" cy="26.03" r="0.95" fill="#000"/>
<circle cx="17.33" cy="18.76" r="0.95" fill="#000"/>
<circle cx="23.20" cy="2.78" r="0.95" fill="#000"/>
<circle cx="8.28" cy="10.97" r="0.95" fill="#000"/>
<circle cx="18.81" cy="24.48" r="0.95" fill="#000"/>
<circle cx="50.57" cy="16.46" r="0.95" fill="#000"/>
<circle cx="49.69" cy="34.15" r="0.95" fill="#000"/>
<circle cx="50.51" cy="13.76" r="0.95" fill="#000"/>
<circle cx="17.05" cy="9.25" r="0.95" fill="#000"/>
<circle cx="15.97" cy="8.52" r="0.95" fill="#000"/>
<circle cx="35.43" cy="31.28" r="0.95" fill="#000"/>
<circle cx="45.29" cy="17.51" r="0.95" fill="#000"/>
<circle cx="36.75" cy="27.98" r="0.95" fill="#000"/>
<circle cx="10.87" cy="23.44" r="0.95" fill="#000"/>
<circle cx="48.45" cy="27.42" r="0.95" fill="#000"/>
<circle cx="41.17" cy="17.47" r="0.95" fill="#000"/>
<circle cx="15.14" cy="27.64" r="0.95" fill="#000"/>
<circle cx="22.15" cy="28.02" r="0.95" fill="#000"/>
<circle cx="25.44" cy="73.01" r="0.95" fill="#000"/>
<circle cx="41.79" cy="70.09" r="0.95" fill="#000"/>
<circle cx="45.88" cy="69.51" r="0.95" fill="#000"/>
<circle cx="51.13" cy="73.01" r="0.95" fill="#000"/>
<circle cx="51.72" cy="80.60" r="0.95" fill="#000"/>
<circle cx="27.19" cy="82.94" r="0.95" fill="#000"/>
<circle cx="30.11" cy="85.27" r="0.95" fill="#000"/>
<circle cx="31.28" cy="88.19" r="0.95" fill="#000"/>
<circle cx="19.01" cy="89.95" r="0.95" fill="#000"/>
<circle cx="36.53" cy="89.95" r="0.95" fill="#000"/>
<circle cx="38.87" cy="89.36" r="0.95" fill="#000"/>
<circle cx="41.20" cy="89.95" r="0.95" fill="#000"/>
<circle cx="43.54" cy="89.95" r="0.95" fill="#000"/>
<circle cx="38.28" cy="92.86" r="0.95" fill="#000"/>
<circle cx="40.04" cy="94.62" r="0.95" fill="#000"/>
<circle cx="43.54" cy="95.20" r="0.95" fill="#000"/>
<circle cx="49.38" cy="93.45" r="0.95" fill="#000"/>
<circle cx="49.96" cy="96.37" r="0.95" fill="#000"/>
<circle cx="52.88" cy="93.45" r="0.95" fill="#000"/>
<circle cx="54.05" cy="94.62" r="0.95" fill="#000"/>
<circle cx="31.28" cy="97.54" r="0.95" fill="#000"/>
<circle cx="33.03" cy="94.03" r="0.95" fill="#000"/>
<circle cx="48.21" cy="97.54" r="0.95" fill="#000"/>
<circle cx="51.72" cy="99.87" r="0.95" fill="#000"/>
<circle cx="52.88" cy="101.04" r="0.95" fill="#000"/>
<circle cx="55.22" cy="99.87" r="0.95" fill="#000"/>
<circle cx="56.39" cy="102.21" r="0.95" fill="#000"/>
<circle cx="54.05" cy="103.38" r="0.95" fill="#000"/>
<circle cx="56.97" cy="103.96" r="0.95" fill="#000"/>
<circle cx="58.72" cy="102.21" r="0.95" fill="#000"/>
<circle cx="61.06" cy="105.71" r="0.95" fill="#000"/>
<circle cx="62.23" cy="104.54" r="0.95" fill="#000"/>
<circle cx="40.04" cy="104.54" r="0.95" fill="#000"/>
<circle cx="38.28" cy="107.46" r="0.95" fill="#000"/>
<circle cx="35.36" cy="108.05" r="0.95" fill="#000"/>
<circle cx="40.04" cy="110.38" r="0.95" fill="#000"/>
<circle cx="41.20" cy="109.22" r="0.95" fill="#000"/>
<circle cx="24.85" cy="112.72" r="0.95" fill="#000"/>
<circle cx="49.38" cy="119.73" r="0.95" fill="#000"/>
<circle cx="44.12" cy="125.57" r="0.95" fill="#000"/>
<circle cx="58.14" cy="122.65" r="0.95" fill="#000"/>
<circle cx="54.05" cy="137.83" r="0.95" fill="#000"/>
<circle cx="65.17" cy="119.65" r="0.95" fill="#000"/>
<circle cx="58.08" cy="104.66" r="0.95" fill="#000"/>
<circle cx="60.93" cy="115.33" r="0.95" fill="#000"/>
<circle cx="64.20" cy="116.35" r="0.95" fill="#000"/>
<circle cx="65.46" cy="122.89" r="0.95" fill="#000"/>
<circle cx="68.37" cy="118.36" r="0.95" fill="#000"/>
<circle cx="66.68" cy="121.71" r="0.95" fill="#000"/>
<circle cx="61.46" cy="110.56" r="0.95" fill="#000"/>
<circle cx="62.81" cy="115.42" r="0.95" fill="#000"/>
<circle cx="66.45" cy="121.68" r="0.95" fill="#000"/>
<circle cx="54.08" cy="105.31" r="0.95" fill="#000"/>
<circle cx="57.50" cy="105.87" r="0.95" fill="#000"/>
<circle cx="62.26" cy="117.18" r="0.95" fill="#000"/>
<circle cx="63.56" cy="114.04" r="0.95" fill="#000"/>
<circle cx="64.65" cy="113.86" r="0.95" fill="#000"/>
<circle cx="63.73" cy="113.57" r="0.95" fill="#000"/>
<circle cx="69.74" cy="119.79" r="0.95" fill="#000"/>
<circle cx="61.47" cy="111.05" r="0.95" fill="#000"/>
<circle cx="54.32" cy="107.99" r="0.95" fill="#000"/>
<circle cx="57.56" cy="105.10" r="0.95" fill="#000"/>
<circle cx="58.18" cy="109.60" r="0.95" fill="#000"/>
<circle cx="61.55" cy="114.24" r="0.95" fill="#000"/>
<circle cx="60.67" cy="112.16" r="0.95" fill="#000"/>
<circle cx="68.16" cy="122.95" r="0.95" fill="#000"/>
<circle cx="65.60" cy="116.24" r="0.95" fill="#000"/>
<circle cx="59.52" cy="115.65" r="0.95" fill="#000"/>
<circle cx="62.17" cy="111.34" r="0.95" fill="#000"/>
<circle cx="55.87" cy="108.45" r="0.95" fill="#000"/>
<circle cx="66.82" cy="118.60" r="0.95" fill="#000"/>
<circle cx="63.57" cy="114.15" r="0.95" fill="#000"/>
<circle cx="60.84" cy="117.17" r="0.95" fill="#000"/>
<circle cx="56.07" cy="108.86" r="0.95" fill="#000"/>
<circle cx="64.32" cy="119.81" r="0.95" fill="#000"/>
<circle cx="58.01" cy="111.95" r="0.95" fill="#000"/>
<circle cx="57.03" cy="108.39" r="0.95" fill="#000"/>
<circle cx="58.96" cy="109.39" r="0.95" fill="#000"/>
<circle cx="55.04" cy="104.20" r="0.95" fill="#000"/>
<circle cx="56.95" cy="114.48" r="0.95" fill="#000"/>
<circle cx="64.15" cy="118.59" r="0.95" fill="#000"/>
<circle cx="53.50" cy="106.18" r="0.95" fill="#000"/>
<circle cx="62.43" cy="116.88" r="0.95" fill="#000"/>
<circle cx="66.00" cy="117.64" r="0.95" fill="#000"/>
<circle cx="64.94" cy="117.63" r="0.95" fill="#000"/>
<circle cx="67.67" cy="120.20" r="0.95" fill="#000"/>
<circle cx="60.29" cy="119.49" r="0.95" fill="#000"/>
<circle cx="67.30" cy="117.50" r="0.95" fill="#000"/>
<circle cx="60.49" cy="114.29" r="0.95" fill="#000"/>
<circle cx="65.70" cy="125.72" r="0.95" fill="#000"/>
<circle cx="67.72" cy="114.30" r="0.95" fill="#000"/>
<circle cx="60.32" cy="110.13" r="0.95" fill="#000"/>
<circle cx="68.20" cy="123.57" r="0.95" fill="#000"/>
<circle cx="65.54" cy="116.49" r="0.95" fill="#000"/>
<circle cx="59.12" cy="111.14" r="0.95" fill="#000"/>
<circle cx="64.53" cy="115.39" r="0.95" fill="#000"/>
<circle cx="61.79" cy="115.13" r="0.95" fill="#000"/>
<circle cx="58.32" cy="110.96" r="0.95" fill="#000"/>
<circle cx="65.31" cy="118.89" r="0.95" fill="#000"/>
<circle cx="58.06" cy="112.25" r="0.95" fill="#000"/>
<circle cx="72.81" cy="125.56" r="0.95" fill="#000"/>
<circle cx="60.07" cy="120.91" r="0.95" fill="#000"/>
<circle cx="65.04" cy="117.25" r="0.95" fill="#000"/>
<circle cx="68.43" cy="122.03" r="0.95" fill="#000"/>
<circle cx="62.86" cy="114.15" r="0.95" fill="#000"/>
<circle cx="57.56" cy="105.22" r="0.95" fill="#000"/>
<circle cx="62.14" cy="117.32" r="0.95" fill="#000"/>
<circle cx="69.52" cy="118.82" r="0.95" fill="#000"/>
<circle cx="56.55" cy="109.61" r="0.95" fill="#000"/>
<circle cx="63.48" cy="116.13" r="0.95" fill="#000"/>
<circle cx="59.33" cy="114.42" r="0.95" fill="#000"/>
<circle cx="70.86" cy="123.25" r="0.95" fill="#000"/>
<circle cx="129.80" cy="43.90" r="0.95" fill="#000"/>
<circle cx="128.00" cy="57.30" r="0.95" fill="#000"/>
<circle cx="124.30" cy="62.30" r="0.95" fill="#000"/>
<circle cx="126.00" cy="64.90" r="0.60" fill="#000"/>
<circle cx="125.40" cy="69.00" r="0.95" fill="#000"/>
<circle cx="127.80" cy="69.00" r="0.95" fill="#000"/>
<circle cx="126.00" cy="78.90" r="0.95" fill="#000"/>
<circle cx="127.20" cy="79.50" r="0.95" fill="#000"/>
<circle cx="131.90" cy="76.50" r="0.60" fill="#000"/>
<circle cx="137.50" cy="80.60" r="0.60" fill="#000"/>
<circle cx="137.50" cy="86.50" r="0.60" fill="#000"/>
<circle cx="134.00" cy="90.60" r="0.95" fill="#000"/>
<circle cx="132.40" cy="95.20" r="0.60" fill="#000"/>
<circle cx="134.80" cy="96.40" r="0.60" fill="#000"/>
<circle cx="136.50" cy="97.50" r="0.60" fill="#000"/>
<circle cx="138.90" cy="98.20" r="0.60" fill="#000"/>
<circle cx="146.80" cy="104.00" r="0.60" fill="#000"/>
<circle cx="130.00" cy="160.50" r="0.60" fill="#000"/>
<circle cx="137.20" cy="178.90" r="0.60" fill="#000"/>
<circle cx="41.00" cy="188.20" r="0.95" fill="#000"/>
<circle cx="47.5" cy="150.4" r="1.0" fill="#d01010"/><circle cx="27.1" cy="156.1" r="1.0" fill="#d01010"/><text x="36.3" y="148.7" font-size="4.9" font-family='"Liberation Serif", serif' fill="#b03020">ASN 91 (B)</text><text x="12.6" y="154.8" font-size="4.9" font-family='"Liberation Serif", serif' fill="#9a2530">CYS 1121 (A)</text>
<rect x="0" y="0" width="192.50" height="188.80" fill="none" stroke="#555" stroke-width="0.7"/>
<line x1="-2.5" y1="0.00" x2="0" y2="0.00" stroke="#333" stroke-width="0.6"/>
<text transform="translate(-3.90,3.30) scale(1,1.100)" font-size="7.40" text-anchor="end" font-family='"Liberation Serif", serif' font-weight="normal" fill="#000" >180</text>
<line x1="-2.5" y1="23.60" x2="0" y2="23.60" stroke="#333" stroke-width="0.6"/>
<text transform="translate(-3.90,26.90) scale(1,1.100)" font-size="7.40" text-anchor="end" font-family='"Liberation Serif", serif' font-weight="normal" fill="#000" >135</text>
<line x1="-2.5" y1="47.20" x2="0" y2="47.20" stroke="#333" stroke-width="0.6"/>
<text transform="translate(-3.90,50.50) scale(1,1.100)" font-size="7.40" text-anchor="end" font-family='"Liberation Serif", serif' font-weight="normal" fill="#000" >90</text>
<line x1="-2.5" y1="70.80" x2="0" y2="70.80" stroke="#333" stroke-width="0.6"/>
<text transform="translate(-3.90,74.10) scale(1,1.100)" font-size="7.40" text-anchor="end" font-family='"Liberation Serif", serif' font-weight="normal" fill="#000" >45</text>
<line x1="-2.5" y1="94.40" x2="0" y2="94.40" stroke="#333" stroke-width="0.6"/>
<text transform="translate(-3.90,97.70) scale(1,1.100)" font-size="7.40" text-anchor="end" font-family='"Liberation Serif", serif' font-weight="normal" fill="#000" >0</text>
<line x1="-2.5" y1="118.00" x2="0" y2="118.00" stroke="#333" stroke-width="0.6"/>
<text transform="translate(-3.90,121.30) scale(1,1.100)" font-size="7.40" text-anchor="end" font-family='"Liberation Serif", serif' font-weight="normal" fill="#000" >-45</text>
<line x1="-2.5" y1="141.60" x2="0" y2="141.60" stroke="#333" stroke-width="0.6"/>
<text transform="translate(-3.90,144.90) scale(1,1.100)" font-size="7.40" text-anchor="end" font-family='"Liberation Serif", serif' font-weight="normal" fill="#000" >-90</text>
<line x1="-2.5" y1="165.20" x2="0" y2="165.20" stroke="#333" stroke-width="0.6"/>
<text transform="translate(-3.90,168.50) scale(1,1.100)" font-size="7.40" text-anchor="end" font-family='"Liberation Serif", serif' font-weight="normal" fill="#000" >-135</text>
<line x1="0.00" y1="188.80" x2="0.00" y2="191.30" stroke="#333" stroke-width="0.6"/>
<text transform="translate(0.00,196.20) scale(1,1.100)" font-size="7.40" text-anchor="middle" font-family='"Liberation Serif", serif' font-weight="normal" fill="#000" >-180</text>
<line x1="24.06" y1="188.80" x2="24.06" y2="191.30" stroke="#333" stroke-width="0.6"/>
<text transform="translate(24.06,196.20) scale(1,1.100)" font-size="7.40" text-anchor="middle" font-family='"Liberation Serif", serif' font-weight="normal" fill="#000" >-135</text>
<line x1="48.12" y1="188.80" x2="48.12" y2="191.30" stroke="#333" stroke-width="0.6"/>
<text transform="translate(48.12,196.20) scale(1,1.100)" font-size="7.40" text-anchor="middle" font-family='"Liberation Serif", serif' font-weight="normal" fill="#000" >-90</text>
<line x1="72.19" y1="188.80" x2="72.19" y2="191.30" stroke="#333" stroke-width="0.6"/>
<text transform="translate(72.19,196.20) scale(1,1.100)" font-size="7.40" text-anchor="middle" font-family='"Liberation Serif", serif' font-weight="normal" fill="#000" >-45</text>
<line x1="96.25" y1="188.80" x2="96.25" y2="191.30" stroke="#333" stroke-width="0.6"/>
<text transform="translate(96.25,196.20) scale(1,1.100)" font-size="7.40" text-anchor="middle" font-family='"Liberation Serif", serif' font-weight="normal" fill="#000" >0</text>
<line x1="120.31" y1="188.80" x2="120.31" y2="191.30" stroke="#333" stroke-width="0.6"/>
<text transform="translate(120.31,196.20) scale(1,1.100)" font-size="7.40" text-anchor="middle" font-family='"Liberation Serif", serif' font-weight="normal" fill="#000" >45</text>
<line x1="144.38" y1="188.80" x2="144.38" y2="191.30" stroke="#333" stroke-width="0.6"/>
<text transform="translate(144.38,196.20) scale(1,1.100)" font-size="7.40" text-anchor="middle" font-family='"Liberation Serif", serif' font-weight="normal" fill="#000" >90</text>
<line x1="168.44" y1="188.80" x2="168.44" y2="191.30" stroke="#333" stroke-width="0.6"/>
<text transform="translate(168.44,196.20) scale(1,1.100)" font-size="7.40" text-anchor="middle" font-family='"Liberation Serif", serif' font-weight="normal" fill="#000" >135</text>
<line x1="192.50" y1="188.80" x2="192.50" y2="191.30" stroke="#333" stroke-width="0.6"/>
<text transform="translate(192.50,196.20) scale(1,1.100)" font-size="7.40" text-anchor="middle" font-family='"Liberation Serif", serif' font-weight="normal" fill="#000" >180</text>
<text transform="translate(96.75,205.70) scale(1,1.100)" font-size="7.50" text-anchor="middle" font-family='"Liberation Serif", serif' font-weight="normal" fill="#000" >Phi (degrees)</text>
<text transform="translate(-20.3,94.40) rotate(-90) scale(1.15,1)" font-size="6.6" text-anchor="middle" font-family='"Liberation Serif", serif'>Psi (degrees)</text>
</g>
<g transform="translate(272.20,34.25)">
<defs><clipPath id="cp3"><rect x="0" y="0" width="191.80" height="189.65"/></clipPath></defs>
<g clip-path="url(#cp3)">
<polygon points="20.9,50.6 34.9,60.1 47.8,65.1 58.2,65.7 62.8,69.5 68.0,74.6 72.9,79.7 77.6,84.1 82.3,87.2 92.8,91.7 107.4,99.3 122.1,106.2 136.5,115.1 151.2,121.4 165.8,128.3 173.1,131.5 180.5,135.9 191.8,135.9 191.8,151.7 180.5,153.6 173.1,154.9 165.8,156.8 151.2,151.7 136.5,153.0 122.1,150.5 107.4,147.9 92.8,145.4 80.0,144.8 71.3,142.9 65.6,135.9 58.2,132.1 50.9,129.0 43.6,124.5 36.3,120.1 24.6,116.3 20.9,115.1" fill="#b0c4de"/>
<path d="M60.8 63.9h1.55v1.55h-1.55zM83.4 78.6h1.55v1.55h-1.55zM22.4 42.5h1.55v1.55h-1.55zM64.5 70.2h1.55v1.55h-1.55zM190.3 121.4h1.55v1.55h-1.55zM101.5 95.2h1.55v1.55h-1.55zM128.6 105.0h1.55v1.55h-1.55zM146.8 118.9h1.55v1.55h-1.55zM149.7 118.5h1.55v1.55h-1.55zM25.4 44.7h1.55v1.55h-1.55zM100.9 80.8h1.55v1.55h-1.55zM142.2 114.0h1.55v1.55h-1.55zM157.0 110.0h1.55v1.55h-1.55zM43.4 62.3h1.55v1.55h-1.55zM185.1 127.0h1.55v1.55h-1.55zM71.6 73.0h1.55v1.55h-1.55zM86.1 85.2h1.55v1.55h-1.55zM120.1 92.6h1.55v1.55h-1.55zM136.7 101.9h1.55v1.55h-1.55zM189.5 134.4h1.55v1.55h-1.55zM167.2 115.1h1.55v1.55h-1.55zM117.4 102.7h1.55v1.55h-1.55zM162.2 124.6h1.55v1.55h-1.55zM31.0 48.9h1.55v1.55h-1.55zM156.9 123.2h1.55v1.55h-1.55zM70.4 66.4h1.55v1.55h-1.55zM170.7 125.1h1.55v1.55h-1.55zM33.3 54.3h1.55v1.55h-1.55zM25.5 52.8h1.55v1.55h-1.55zM89.9 81.4h1.55v1.55h-1.55zM46.8 64.2h1.55v1.55h-1.55zM184.0 131.8h1.55v1.55h-1.55zM98.8 88.5h1.55v1.55h-1.55zM130.2 105.2h1.55v1.55h-1.55zM126.1 103.8h1.55v1.55h-1.55zM93.8 80.5h1.55v1.55h-1.55zM60.7 66.4h1.55v1.55h-1.55zM187.2 128.7h1.55v1.55h-1.55zM22.1 48.6h1.55v1.55h-1.55zM125.4 107.8h1.55v1.55h-1.55zM127.3 101.4h1.55v1.55h-1.55zM80.4 74.4h1.55v1.55h-1.55zM30.5 51.5h1.55v1.55h-1.55zM98.1 86.5h1.55v1.55h-1.55zM74.8 78.3h1.55v1.55h-1.55zM73.6 77.1h1.55v1.55h-1.55zM84.6 74.4h1.55v1.55h-1.55zM24.7 48.7h1.55v1.55h-1.55zM58.2 58.5h1.55v1.55h-1.55zM60.9 67.3h1.55v1.55h-1.55zM94.5 81.6h1.55v1.55h-1.55zM37.5 59.2h1.55v1.55h-1.55zM77.2 68.7h1.55v1.55h-1.55zM95.1 77.3h1.55v1.55h-1.55zM49.1 63.0h1.55v1.55h-1.55zM131.3 107.6h1.55v1.55h-1.55zM58.6 65.7h1.55v1.55h-1.55zM158.0 123.5h1.55v1.55h-1.55zM67.7 63.8h1.55v1.55h-1.55zM129.8 108.3h1.55v1.55h-1.55zM42.3 61.4h1.55v1.55h-1.55zM79.3 80.6h1.55v1.55h-1.55zM91.9 86.7h1.55v1.55h-1.55zM20.9 39.1h1.55v1.55h-1.55zM170.5 126.2h1.55v1.55h-1.55zM182.5 133.9h1.55v1.55h-1.55zM147.5 111.9h1.55v1.55h-1.55zM78.4 82.9h1.55v1.55h-1.55zM31.8 53.5h1.55v1.55h-1.55zM69.2 64.6h1.55v1.55h-1.55zM27.8 46.1h1.55v1.55h-1.55zM138.7 101.8h1.55v1.55h-1.55zM173.9 131.6h1.55v1.55h-1.55zM71.4 69.6h1.55v1.55h-1.55zM109.8 85.3h1.55v1.55h-1.55zM63.3 60.1h1.55v1.55h-1.55zM101.7 93.1h1.55v1.55h-1.55zM53.9 61.4h1.55v1.55h-1.55zM155.4 112.5h1.55v1.55h-1.55zM127.6 109.2h1.55v1.55h-1.55zM66.5 71.8h1.55v1.55h-1.55zM110.2 95.9h1.55v1.55h-1.55zM29.5 55.9h1.55v1.55h-1.55zM41.4 62.1h1.55v1.55h-1.55zM186.7 134.9h1.55v1.55h-1.55zM73.9 77.6h1.55v1.55h-1.55zM130.7 108.6h1.55v1.55h-1.55zM52.8 63.3h1.55v1.55h-1.55zM41.3 58.6h1.55v1.55h-1.55zM142.5 117.0h1.55v1.55h-1.55zM50.7 62.8h1.55v1.55h-1.55zM123.4 104.1h1.55v1.55h-1.55zM157.0 120.3h1.55v1.55h-1.55zM83.8 81.4h1.55v1.55h-1.55zM140.2 107.7h1.55v1.55h-1.55zM98.9 92.9h1.55v1.55h-1.55zM111.7 100.7h1.55v1.55h-1.55zM92.7 86.8h1.55v1.55h-1.55zM170.5 127.1h1.55v1.55h-1.55zM173.6 129.9h1.55v1.55h-1.55zM99.5 94.3h1.55v1.55h-1.55zM159.1 112.2h1.55v1.55h-1.55zM155.6 114.2h1.55v1.55h-1.55zM44.7 57.0h1.55v1.55h-1.55zM27.7 54.8h1.55v1.55h-1.55zM37.1 51.9h1.55v1.55h-1.55zM50.8 64.5h1.55v1.55h-1.55zM164.4 115.8h1.55v1.55h-1.55zM182.9 122.5h1.55v1.55h-1.55zM26.3 47.1h1.55v1.55h-1.55zM107.5 98.6h1.55v1.55h-1.55zM148.1 119.5h1.55v1.55h-1.55zM75.5 75.0h1.55v1.55h-1.55zM50.9 63.7h1.55v1.55h-1.55zM125.4 105.1h1.55v1.55h-1.55zM82.9 83.0h1.55v1.55h-1.55zM80.0 81.0h1.55v1.55h-1.55zM34.4 56.2h1.55v1.55h-1.55zM186.4 123.9h1.55v1.55h-1.55zM47.6 58.8h1.55v1.55h-1.55zM149.3 115.5h1.55v1.55h-1.55zM102.8 81.6h1.55v1.55h-1.55zM45.7 63.7h1.55v1.55h-1.55zM148.0 114.8h1.55v1.55h-1.55zM95.9 81.9h1.55v1.55h-1.55zM51.9 63.7h1.55v1.55h-1.55zM54.2 60.8h1.55v1.55h-1.55zM73.9 79.2h1.55v1.55h-1.55zM138.2 113.5h1.55v1.55h-1.55zM140.7 104.0h1.55v1.55h-1.55zM57.3 64.9h1.55v1.55h-1.55zM102.1 95.3h1.55v1.55h-1.55zM81.7 83.8h1.55v1.55h-1.55zM189.5 127.6h1.55v1.55h-1.55zM100.1 81.6h1.55v1.55h-1.55zM160.5 121.2h1.55v1.55h-1.55zM143.3 114.4h1.55v1.55h-1.55zM145.5 114.5h1.55v1.55h-1.55zM59.4 65.8h1.55v1.55h-1.55zM142.8 102.3h1.55v1.55h-1.55zM52.5 63.8h1.55v1.55h-1.55zM52.1 59.1h1.55v1.55h-1.55zM166.9 127.0h1.55v1.55h-1.55zM92.5 79.4h1.55v1.55h-1.55zM34.8 59.4h1.55v1.55h-1.55zM81.1 78.2h1.55v1.55h-1.55zM77.4 79.0h1.55v1.55h-1.55zM120.1 102.2h1.55v1.55h-1.55zM67.1 66.4h1.55v1.55h-1.55zM39.4 53.0h1.55v1.55h-1.55zM181.0 123.2h1.55v1.55h-1.55zM135.6 102.6h1.55v1.55h-1.55zM65.5 63.6h1.55v1.55h-1.55zM184.4 129.0h1.55v1.55h-1.55zM39.5 58.5h1.55v1.55h-1.55zM80.3 74.0h1.55v1.55h-1.55zM136.1 113.6h1.55v1.55h-1.55zM130.5 110.3h1.55v1.55h-1.55zM172.2 130.3h1.55v1.55h-1.55zM76.8 71.9h1.55v1.55h-1.55zM122.2 99.3h1.55v1.55h-1.55zM98.4 91.8h1.55v1.55h-1.55zM50.3 64.4h1.55v1.55h-1.55zM142.5 111.8h1.55v1.55h-1.55zM146.5 117.5h1.55v1.55h-1.55zM85.7 71.7h1.55v1.55h-1.55zM27.3 51.5h1.55v1.55h-1.55zM62.4 61.4h1.55v1.55h-1.55zM80.7 82.9h1.55v1.55h-1.55zM89.1 82.7h1.55v1.55h-1.55zM152.0 110.1h1.55v1.55h-1.55zM39.3 60.3h1.55v1.55h-1.55zM37.2 60.3h1.55v1.55h-1.55zM153.3 121.2h1.55v1.55h-1.55zM52.5 62.5h1.55v1.55h-1.55zM147.2 109.9h1.55v1.55h-1.55zM88.2 88.2h1.55v1.55h-1.55zM110.3 99.3h1.55v1.55h-1.55zM62.9 61.5h1.55v1.55h-1.55zM25.3 45.6h1.55v1.55h-1.55zM172.4 127.8h1.55v1.55h-1.55zM114.6 95.3h1.55v1.55h-1.55zM187.1 133.0h1.55v1.55h-1.55zM167.1 122.0h1.55v1.55h-1.55zM151.8 117.0h1.55v1.55h-1.55zM109.6 99.0h1.55v1.55h-1.55zM105.7 93.9h1.55v1.55h-1.55zM116.9 90.9h1.55v1.55h-1.55zM43.3 56.4h1.55v1.55h-1.55zM81.6 85.0h1.55v1.55h-1.55zM33.4 55.2h1.55v1.55h-1.55zM168.9 128.8h1.55v1.55h-1.55zM166.8 114.3h1.55v1.55h-1.55zM142.5 114.8h1.55v1.55h-1.55zM158.0 112.4h1.55v1.55h-1.55zM94.8 80.2h1.55v1.55h-1.55zM27.4 54.6h1.55v1.55h-1.55zM54.4 64.4h1.55v1.55h-1.55zM105.1 92.0h1.55v1.55h-1.55zM92.3 81.5h1.55v1.55h-1.55zM72.2 74.3h1.55v1.55h-1.55zM149.5 119.5h1.55v1.55h-1.55zM173.8 128.8h1.55v1.55h-1.55zM83.5 80.5h1.55v1.55h-1.55zM20.6 49.4h1.55v1.55h-1.55zM98.7 93.4h1.55v1.55h-1.55zM55.9 64.4h1.55v1.55h-1.55zM89.1 88.8h1.55v1.55h-1.55zM24.8 52.8h1.55v1.55h-1.55zM48.9 61.5h1.55v1.55h-1.55zM30.3 56.7h1.55v1.55h-1.55zM96.7 89.4h1.55v1.55h-1.55zM89.1 85.7h1.55v1.55h-1.55zM24.7 42.1h1.55v1.55h-1.55zM57.6 64.9h1.55v1.55h-1.55zM41.3 62.1h1.55v1.55h-1.55zM154.8 109.1h1.55v1.55h-1.55zM71.5 76.8h1.55v1.55h-1.55zM65.6 62.4h1.55v1.55h-1.55zM36.2 54.6h1.55v1.55h-1.55zM185.8 135.1h1.55v1.55h-1.55zM25.3 53.2h1.55v1.55h-1.55zM49.2 64.4h1.55v1.55h-1.55zM29.4 51.1h1.55v1.55h-1.55zM186.6 122.3h1.55v1.55h-1.55zM176.9 133.4h1.55v1.55h-1.55zM72.2 71.5h1.55v1.55h-1.55zM70.3 64.2h1.55v1.55h-1.55zM39.7 59.6h1.55v1.55h-1.55zM77.2 73.3h1.55v1.55h-1.55zM146.6 107.6h1.55v1.55h-1.55zM114.7 99.8h1.55v1.55h-1.55zM91.0 89.0h1.55v1.55h-1.55zM153.3 120.5h1.55v1.55h-1.55zM49.1 58.5h1.55v1.55h-1.55zM123.6 104.2h1.55v1.55h-1.55zM99.9 83.6h1.55v1.55h-1.55zM60.7 59.1h1.55v1.55h-1.55zM129.9 98.2h1.55v1.55h-1.55zM97.0 77.4h1.55v1.55h-1.55zM83.4 87.1h1.55v1.55h-1.55zM88.4 70.0h1.55v1.55h-1.55zM38.1 57.0h1.55v1.55h-1.55zM39.0 61.1h1.55v1.55h-1.55zM28.5 55.1h1.55v1.55h-1.55zM130.3 110.9h1.55v1.55h-1.55zM59.4 56.3h1.55v1.55h-1.55zM57.8 61.6h1.55v1.55h-1.55zM91.8 77.4h1.55v1.55h-1.55zM123.4 101.9h1.55v1.55h-1.55zM52.3 64.2h1.55v1.55h-1.55zM33.7 51.0h1.55v1.55h-1.55zM39.4 61.3h1.55v1.55h-1.55zM99.6 93.6h1.55v1.55h-1.55zM161.9 119.0h1.55v1.55h-1.55zM150.2 118.3h1.55v1.55h-1.55zM123.2 106.3h1.55v1.55h-1.55zM162.9 115.7h1.55v1.55h-1.55zM55.3 61.5h1.55v1.55h-1.55zM99.5 84.1h1.55v1.55h-1.55zM33.3 57.1h1.55v1.55h-1.55zM114.6 98.9h1.55v1.55h-1.55zM130.9 110.3h1.55v1.55h-1.55zM80.0 64.5h1.55v1.55h-1.55zM77.4 79.2h1.55v1.55h-1.55zM34.5 58.7h1.55v1.55h-1.55zM48.4 55.0h1.55v1.55h-1.55zM144.3 102.4h1.55v1.55h-1.55zM124.7 102.6h1.55v1.55h-1.55zM91.7 71.8h1.55v1.55h-1.55zM174.5 127.3h1.55v1.55h-1.55zM152.3 106.3h1.55v1.55h-1.55zM36.5 54.2h1.55v1.55h-1.55zM70.4 71.8h1.55v1.55h-1.55zM94.0 89.0h1.55v1.55h-1.55zM146.9 117.5h1.55v1.55h-1.55zM37.8 59.5h1.55v1.55h-1.55zM90.4 90.0h1.55v1.55h-1.55zM46.3 57.5h1.55v1.55h-1.55zM139.8 100.1h1.55v1.55h-1.55zM169.9 129.0h1.55v1.55h-1.55zM73.4 75.4h1.55v1.55h-1.55zM110.0 97.5h1.55v1.55h-1.55zM99.3 79.4h1.55v1.55h-1.55zM61.6 60.3h1.55v1.55h-1.55zM21.9 50.6h1.55v1.55h-1.55zM110.9 99.8h1.55v1.55h-1.55zM28.7 55.0h1.55v1.55h-1.55zM151.7 106.6h1.55v1.55h-1.55zM154.4 122.4h1.55v1.55h-1.55zM51.8 64.6h1.55v1.55h-1.55zM94.0 89.1h1.55v1.55h-1.55zM28.9 52.2h1.55v1.55h-1.55zM36.2 58.8h1.55v1.55h-1.55zM62.4 60.8h1.55v1.55h-1.55zM91.6 88.9h1.55v1.55h-1.55zM27.7 52.5h1.55v1.55h-1.55zM127.4 95.9h1.55v1.55h-1.55zM43.3 56.9h1.55v1.55h-1.55zM155.1 111.8h1.55v1.55h-1.55zM49.0 64.4h1.55v1.55h-1.55zM130.0 97.3h1.55v1.55h-1.55zM100.0 86.0h1.55v1.55h-1.55zM178.8 127.1h1.55v1.55h-1.55zM91.0 84.0h1.55v1.55h-1.55zM49.3 64.0h1.55v1.55h-1.55zM137.0 109.1h1.55v1.55h-1.55zM89.9 86.8h1.55v1.55h-1.55zM97.9 80.9h1.55v1.55h-1.55zM97.5 75.7h1.55v1.55h-1.55zM46.7 62.9h1.55v1.55h-1.55zM109.3 87.3h1.55v1.55h-1.55zM161.6 119.4h1.55v1.55h-1.55zM25.4 49.2h1.55v1.55h-1.55zM114.1 100.4h1.55v1.55h-1.55zM141.4 116.4h1.55v1.55h-1.55zM134.4 108.4h1.55v1.55h-1.55zM173.2 123.5h1.55v1.55h-1.55zM53.5 55.8h1.55v1.55h-1.55zM51.1 62.7h1.55v1.55h-1.55zM66.4 59.6h1.55v1.55h-1.55zM87.2 86.7h1.55v1.55h-1.55zM42.6 61.8h1.55v1.55h-1.55zM59.4 66.0h1.55v1.55h-1.55zM33.7 55.5h1.55v1.55h-1.55zM147.1 112.4h1.55v1.55h-1.55zM68.4 60.2h1.55v1.55h-1.55zM32.0 56.8h1.55v1.55h-1.55zM60.5 56.9h1.55v1.55h-1.55zM44.8 54.9h1.55v1.55h-1.55zM50.5 54.1h1.55v1.55h-1.55zM135.4 113.6h1.55v1.55h-1.55zM29.5 49.6h1.55v1.55h-1.55zM50.2 64.0h1.55v1.55h-1.55zM160.7 125.4h1.55v1.55h-1.55zM184.3 131.8h1.55v1.55h-1.55zM38.4 59.1h1.55v1.55h-1.55zM42.6 62.3h1.55v1.55h-1.55zM41.8 60.8h1.55v1.55h-1.55zM52.9 55.4h1.55v1.55h-1.55zM190.5 133.6h1.55v1.55h-1.55zM80.7 66.5h1.55v1.55h-1.55zM103.0 94.4h1.55v1.55h-1.55zM23.8 50.5h1.55v1.55h-1.55zM148.0 113.9h1.55v1.55h-1.55zM99.4 88.5h1.55v1.55h-1.55zM95.7 86.4h1.55v1.55h-1.55zM121.7 94.8h1.55v1.55h-1.55zM50.8 54.7h1.55v1.55h-1.55zM65.6 71.4h1.55v1.55h-1.55zM29.2 45.6h1.55v1.55h-1.55zM90.1 73.7h1.55v1.55h-1.55zM39.7 61.5h1.55v1.55h-1.55zM168.8 113.1h1.55v1.55h-1.55zM137.3 104.5h1.55v1.55h-1.55zM36.0 56.4h1.55v1.55h-1.55zM95.5 92.1h1.55v1.55h-1.55zM106.7 96.3h1.55v1.55h-1.55zM81.4 77.8h1.55v1.55h-1.55zM187.7 120.6h1.55v1.55h-1.55zM41.2 59.2h1.55v1.55h-1.55zM185.4 130.1h1.55v1.55h-1.55zM111.0 84.6h1.55v1.55h-1.55zM110.4 93.4h1.55v1.55h-1.55zM32.0 55.5h1.55v1.55h-1.55zM165.0 127.4h1.55v1.55h-1.55zM166.2 112.6h1.55v1.55h-1.55zM82.8 85.7h1.55v1.55h-1.55zM113.9 98.4h1.55v1.55h-1.55zM168.4 126.4h1.55v1.55h-1.55zM71.5 73.0h1.55v1.55h-1.55zM88.3 85.8h1.55v1.55h-1.55zM131.5 105.5h1.55v1.55h-1.55zM45.1 62.9h1.55v1.55h-1.55zM83.5 78.4h1.55v1.55h-1.55zM44.0 63.0h1.55v1.55h-1.55zM74.9 79.5h1.55v1.55h-1.55zM25.2 49.5h1.55v1.55h-1.55zM177.6 123.3h1.55v1.55h-1.55zM161.7 112.7h1.55v1.55h-1.55zM95.6 82.7h1.55v1.55h-1.55zM40.8 53.9h1.55v1.55h-1.55zM84.8 82.3h1.55v1.55h-1.55zM52.6 57.3h1.55v1.55h-1.55zM24.9 51.3h1.55v1.55h-1.55zM21.4 41.8h1.55v1.55h-1.55zM51.5 63.6h1.55v1.55h-1.55zM86.6 82.3h1.55v1.55h-1.55zM94.0 83.1h1.55v1.55h-1.55zM132.9 112.3h1.55v1.55h-1.55zM187.5 134.9h1.55v1.55h-1.55zM95.6 80.8h1.55v1.55h-1.55zM21.8 47.6h1.55v1.55h-1.55zM92.3 74.0h1.55v1.55h-1.55zM91.7 82.9h1.55v1.55h-1.55zM87.1 88.6h1.55v1.55h-1.55zM179.9 128.2h1.55v1.55h-1.55zM34.7 58.7h1.55v1.55h-1.55zM100.2 81.0h1.55v1.55h-1.55zM188.0 129.1h1.55v1.55h-1.55zM54.7 63.6h1.55v1.55h-1.55zM111.0 98.0h1.55v1.55h-1.55zM151.5 109.6h1.55v1.55h-1.55zM30.4 54.3h1.55v1.55h-1.55zM73.5 79.2h1.55v1.55h-1.55zM160.7 125.2h1.55v1.55h-1.55zM176.3 132.0h1.55v1.55h-1.55zM52.0 64.6h1.55v1.55h-1.55zM105.4 84.8h1.55v1.55h-1.55zM88.7 85.7h1.55v1.55h-1.55zM50.5 63.7h1.55v1.55h-1.55zM65.1 64.6h1.55v1.55h-1.55zM78.3 83.9h1.55v1.55h-1.55zM57.8 62.9h1.55v1.55h-1.55zM134.8 112.9h1.55v1.55h-1.55zM148.5 114.7h1.55v1.55h-1.55zM122.3 102.7h1.55v1.55h-1.55zM29.7 49.3h1.55v1.55h-1.55zM167.0 122.4h1.55v1.55h-1.55zM66.0 60.7h1.55v1.55h-1.55zM159.8 122.8h1.55v1.55h-1.55zM190.3 134.3h1.55v1.55h-1.55zM145.3 118.1h1.55v1.55h-1.55zM110.4 95.9h1.55v1.55h-1.55zM112.3 97.4h1.55v1.55h-1.55zM104.3 84.8h1.55v1.55h-1.55zM54.9 64.7h1.55v1.55h-1.55zM150.2 118.7h1.55v1.55h-1.55zM172.6 125.3h1.55v1.55h-1.55zM189.0 123.9h1.55v1.55h-1.55zM69.9 76.6h1.55v1.55h-1.55zM136.1 111.8h1.55v1.55h-1.55zM102.0 94.5h1.55v1.55h-1.55zM139.4 112.8h1.55v1.55h-1.55zM38.9 57.5h1.55v1.55h-1.55zM74.8 70.4h1.55v1.55h-1.55zM49.6 62.5h1.55v1.55h-1.55zM53.7 62.7h1.55v1.55h-1.55zM29.5 53.3h1.55v1.55h-1.55zM54.6 61.8h1.55v1.55h-1.55zM48.7 64.3h1.55v1.55h-1.55zM112.0 88.5h1.55v1.55h-1.55zM108.2 99.1h1.55v1.55h-1.55zM67.4 72.1h1.55v1.55h-1.55zM182.1 130.9h1.55v1.55h-1.55zM65.0 58.7h1.55v1.55h-1.55zM51.9 60.8h1.55v1.55h-1.55zM58.2 55.4h1.55v1.55h-1.55zM155.3 110.1h1.55v1.55h-1.55zM37.0 54.7h1.55v1.55h-1.55zM98.2 75.8h1.55v1.55h-1.55zM76.0 70.2h1.55v1.55h-1.55zM48.4 59.2h1.55v1.55h-1.55zM66.2 68.5h1.55v1.55h-1.55zM83.8 70.9h1.55v1.55h-1.55zM147.4 111.4h1.55v1.55h-1.55zM93.2 77.6h1.55v1.55h-1.55zM64.1 66.4h1.55v1.55h-1.55zM120.2 104.9h1.55v1.55h-1.55zM49.2 59.7h1.55v1.55h-1.55zM56.3 58.7h1.55v1.55h-1.55zM106.4 85.6h1.55v1.55h-1.55zM144.4 118.0h1.55v1.55h-1.55zM115.3 89.1h1.55v1.55h-1.55zM54.8 64.4h1.55v1.55h-1.55zM187.7 130.0h1.55v1.55h-1.55zM113.1 95.1h1.55v1.55h-1.55zM47.7 64.1h1.55v1.55h-1.55zM126.9 108.4h1.55v1.55h-1.55zM21.4 50.5h1.55v1.55h-1.55zM154.3 118.7h1.55v1.55h-1.55zM190.0 133.4h1.55v1.55h-1.55zM68.3 66.6h1.55v1.55h-1.55zM49.3 64.5h1.55v1.55h-1.55zM157.2 113.4h1.55v1.55h-1.55zM96.2 83.5h1.55v1.55h-1.55zM76.0 81.1h1.55v1.55h-1.55zM97.5 80.7h1.55v1.55h-1.55zM79.1 83.4h1.55v1.55h-1.55zM91.2 90.2h1.55v1.55h-1.55zM74.1 73.7h1.55v1.55h-1.55zM113.4 100.0h1.55v1.55h-1.55zM24.4 52.7h1.55v1.55h-1.55zM78.1 83.0h1.55v1.55h-1.55zM150.3 113.3h1.55v1.55h-1.55zM145.8 115.2h1.55v1.55h-1.55zM72.8 79.4h1.55v1.55h-1.55zM155.9 123.0h1.55v1.55h-1.55zM178.5 126.5h1.55v1.55h-1.55zM95.1 92.0h1.55v1.55h-1.55zM82.7 65.7h1.55v1.55h-1.55zM41.0 59.1h1.55v1.55h-1.55zM178.1 134.2h1.55v1.55h-1.55zM141.2 102.9h1.55v1.55h-1.55zM28.3 50.1h1.55v1.55h-1.55zM72.2 74.2h1.55v1.55h-1.55zM71.5 76.1h1.55v1.55h-1.55zM42.8 58.5h1.55v1.55h-1.55zM35.3 49.4h1.55v1.55h-1.55zM27.6 44.8h1.55v1.55h-1.55zM52.9 64.6h1.55v1.55h-1.55zM147.4 109.6h1.55v1.55h-1.55zM107.0 98.5h1.55v1.55h-1.55zM135.3 98.1h1.55v1.55h-1.55zM21.2 50.4h1.55v1.55h-1.55zM135.7 110.6h1.55v1.55h-1.55zM141.6 113.8h1.55v1.55h-1.55zM99.7 87.3h1.55v1.55h-1.55zM25.1 51.8h1.55v1.55h-1.55zM81.3 76.4h1.55v1.55h-1.55zM147.2 115.1h1.55v1.55h-1.55zM54.8 63.4h1.55v1.55h-1.55zM30.1 55.8h1.55v1.55h-1.55zM120.0 103.7h1.55v1.55h-1.55zM51.2 64.4h1.55v1.55h-1.55zM50.7 61.5h1.55v1.55h-1.55zM63.7 59.9h1.55v1.55h-1.55zM93.8 91.8h1.55v1.55h-1.55zM145.4 115.9h1.55v1.55h-1.55zM57.7 64.4h1.55v1.55h-1.55zM53.8 60.5h1.55v1.55h-1.55zM129.9 110.4h1.55v1.55h-1.55zM151.1 118.3h1.55v1.55h-1.55zM106.1 97.3h1.55v1.55h-1.55zM87.6 79.5h1.55v1.55h-1.55zM142.4 116.3h1.55v1.55h-1.55zM172.4 121.6h1.55v1.55h-1.55zM152.8 121.4h1.55v1.55h-1.55zM121.8 104.1h1.55v1.55h-1.55zM166.3 124.5h1.55v1.55h-1.55zM45.0 62.9h1.55v1.55h-1.55zM161.9 124.1h1.55v1.55h-1.55zM95.8 75.5h1.55v1.55h-1.55zM63.5 70.2h1.55v1.55h-1.55zM86.0 68.1h1.55v1.55h-1.55zM68.3 74.8h1.55v1.55h-1.55zM58.0 56.2h1.55v1.55h-1.55zM59.3 57.5h1.55v1.55h-1.55zM77.1 81.1h1.55v1.55h-1.55zM57.0 61.6h1.55v1.55h-1.55zM115.9 98.3h1.55v1.55h-1.55zM71.1 65.0h1.55v1.55h-1.55zM179.7 121.9h1.55v1.55h-1.55zM32.2 57.1h1.55v1.55h-1.55zM55.0 64.5h1.55v1.55h-1.55zM185.6 119.0h1.55v1.55h-1.55zM93.1 91.4h1.55v1.55h-1.55zM69.4 61.1h1.55v1.55h-1.55zM54.4 55.8h1.55v1.55h-1.55zM73.3 70.9h1.55v1.55h-1.55zM38.4 52.3h1.55v1.55h-1.55zM88.3 86.2h1.55v1.55h-1.55zM132.0 110.6h1.55v1.55h-1.55zM41.4 58.4h1.55v1.55h-1.55zM24.4 43.6h1.55v1.55h-1.55zM78.9 83.8h1.55v1.55h-1.55zM76.2 82.3h1.55v1.55h-1.55zM74.3 74.4h1.55v1.55h-1.55zM89.7 87.0h1.55v1.55h-1.55zM69.8 71.9h1.55v1.55h-1.55zM153.2 112.4h1.55v1.55h-1.55zM49.2 56.5h1.55v1.55h-1.55zM102.0 90.6h1.55v1.55h-1.55zM164.7 124.9h1.55v1.55h-1.55zM82.7 86.9h1.55v1.55h-1.55zM113.2 97.1h1.55v1.55h-1.55zM97.3 88.6h1.55v1.55h-1.55zM33.5 55.2h1.55v1.55h-1.55zM163.5 114.4h1.55v1.55h-1.55zM84.9 87.5h1.55v1.55h-1.55zM149.2 111.1h1.55v1.55h-1.55zM156.1 115.7h1.55v1.55h-1.55zM169.7 129.4h1.55v1.55h-1.55zM34.8 51.6h1.55v1.55h-1.55zM68.1 67.2h1.55v1.55h-1.55zM25.0 52.4h1.55v1.55h-1.55zM107.4 97.8h1.55v1.55h-1.55zM140.6 109.4h1.55v1.55h-1.55zM151.1 120.9h1.55v1.55h-1.55zM52.9 61.3h1.55v1.55h-1.55zM164.8 122.6h1.55v1.55h-1.55zM144.7 106.0h1.55v1.55h-1.55zM68.2 73.7h1.55v1.55h-1.55zM48.3 55.5h1.55v1.55h-1.55zM95.0 88.8h1.55v1.55h-1.55zM109.1 97.5h1.55v1.55h-1.55zM77.6 71.0h1.55v1.55h-1.55zM32.7 48.6h1.55v1.55h-1.55zM144.8 115.1h1.55v1.55h-1.55zM184.0 133.9h1.55v1.55h-1.55zM37.3 58.9h1.55v1.55h-1.55zM122.8 92.9h1.55v1.55h-1.55zM131.2 103.8h1.55v1.55h-1.55zM123.0 102.3h1.55v1.55h-1.55zM109.5 88.0h1.55v1.55h-1.55zM52.9 57.9h1.55v1.55h-1.55zM71.1 64.7h1.55v1.55h-1.55zM32.6 55.2h1.55v1.55h-1.55zM95.8 82.1h1.55v1.55h-1.55zM54.7 63.9h1.55v1.55h-1.55zM42.9 59.3h1.55v1.55h-1.55zM50.5 64.0h1.55v1.55h-1.55zM183.7 128.3h1.55v1.55h-1.55zM69.6 68.4h1.55v1.55h-1.55zM159.1 124.7h1.55v1.55h-1.55zM95.2 87.1h1.55v1.55h-1.55zM27.8 47.9h1.55v1.55h-1.55zM74.6 79.1h1.55v1.55h-1.55zM127.0 104.5h1.55v1.55h-1.55zM167.0 126.0h1.55v1.55h-1.55zM31.1 53.5h1.55v1.55h-1.55zM82.3 79.8h1.55v1.55h-1.55zM79.5 85.1h1.55v1.55h-1.55zM26.6 53.8h1.55v1.55h-1.55zM36.2 51.9h1.55v1.55h-1.55zM141.6 116.7h1.55v1.55h-1.55zM69.0 74.3h1.55v1.55h-1.55zM167.5 122.6h1.55v1.55h-1.55zM45.6 61.5h1.55v1.55h-1.55zM177.5 117.7h1.55v1.55h-1.55zM139.5 100.1h1.55v1.55h-1.55zM65.8 70.7h1.55v1.55h-1.55zM41.2 61.6h1.55v1.55h-1.55zM147.3 106.9h1.55v1.55h-1.55zM149.9 109.2h1.55v1.55h-1.55zM27.4 53.7h1.55v1.55h-1.55zM83.1 82.5h1.55v1.55h-1.55zM134.7 103.8h1.55v1.55h-1.55zM178.8 131.7h1.55v1.55h-1.55zM106.9 86.8h1.55v1.55h-1.55zM83.4 83.9h1.55v1.55h-1.55zM131.0 110.5h1.55v1.55h-1.55zM117.6 89.5h1.55v1.55h-1.55zM171.3 117.3h1.55v1.55h-1.55zM161.5 110.5h1.55v1.55h-1.55zM149.9 119.5h1.55v1.55h-1.55zM149.5 109.4h1.55v1.55h-1.55zM81.1 83.7h1.55v1.55h-1.55zM174.7 129.1h1.55v1.55h-1.55zM115.9 95.9h1.55v1.55h-1.55zM187.5 123.6h1.55v1.55h-1.55zM67.7 73.5h1.55v1.55h-1.55zM145.1 110.9h1.55v1.55h-1.55zM56.6 59.3h1.55v1.55h-1.55zM109.5 93.5h1.55v1.55h-1.55zM96.8 84.4h1.55v1.55h-1.55zM148.6 119.5h1.55v1.55h-1.55zM117.7 96.6h1.55v1.55h-1.55zM119.2 104.4h1.55v1.55h-1.55zM155.6 117.2h1.55v1.55h-1.55zM73.2 72.0h1.55v1.55h-1.55zM41.6 59.1h1.55v1.55h-1.55zM64.2 59.1h1.55v1.55h-1.55zM157.6 114.7h1.55v1.55h-1.55zM85.9 81.7h1.55v1.55h-1.55zM47.7 56.2h1.55v1.55h-1.55zM150.7 120.6h1.55v1.55h-1.55zM116.7 103.2h1.55v1.55h-1.55zM92.2 74.2h1.55v1.55h-1.55zM159.3 112.0h1.55v1.55h-1.55zM88.6 89.3h1.55v1.55h-1.55zM63.4 62.0h1.55v1.55h-1.55zM39.8 58.1h1.55v1.55h-1.55zM166.9 126.0h1.55v1.55h-1.55zM149.7 114.6h1.55v1.55h-1.55zM89.8 69.3h1.55v1.55h-1.55zM53.7 64.0h1.55v1.55h-1.55zM49.1 57.8h1.55v1.55h-1.55zM49.0 54.2h1.55v1.55h-1.55zM98.0 78.0h1.55v1.55h-1.55zM154.4 121.5h1.55v1.55h-1.55zM28.0 49.5h1.55v1.55h-1.55zM96.1 92.8h1.55v1.55h-1.55zM80.0 68.5h1.55v1.55h-1.55zM60.6 62.3h1.55v1.55h-1.55zM67.6 61.8h1.55v1.55h-1.55zM30.5 48.4h1.55v1.55h-1.55zM126.4 106.2h1.55v1.55h-1.55zM32.0 57.4h1.55v1.55h-1.55zM39.0 54.5h1.55v1.55h-1.55zM170.2 117.8h1.55v1.55h-1.55zM115.0 94.3h1.55v1.55h-1.55zM115.4 102.6h1.55v1.55h-1.55zM35.5 58.9h1.55v1.55h-1.55zM98.9 94.0h1.55v1.55h-1.55zM186.0 124.1h1.55v1.55h-1.55zM171.6 128.8h1.55v1.55h-1.55zM41.6 55.6h1.55v1.55h-1.55zM172.2 127.3h1.55v1.55h-1.55zM60.2 64.9h1.55v1.55h-1.55zM160.1 110.9h1.55v1.55h-1.55zM100.5 93.3h1.55v1.55h-1.55zM171.2 130.1h1.55v1.55h-1.55zM31.8 56.7h1.55v1.55h-1.55zM24.8 51.8h1.55v1.55h-1.55zM141.5 109.6h1.55v1.55h-1.55zM166.1 119.3h1.55v1.55h-1.55zM85.8 86.5h1.55v1.55h-1.55zM46.8 60.6h1.55v1.55h-1.55zM55.0 58.8h1.55v1.55h-1.55zM74.9 74.2h1.55v1.55h-1.55zM113.5 101.2h1.55v1.55h-1.55zM63.9 63.9h1.55v1.55h-1.55zM56.6 59.9h1.55v1.55h-1.55zM185.0 117.5h1.55v1.55h-1.55zM125.1 103.0h1.55v1.55h-1.55zM148.8 119.1h1.55v1.55h-1.55zM108.6 95.2h1.55v1.55h-1.55zM132.9 101.6h1.55v1.55h-1.55zM140.3 101.5h1.55v1.55h-1.55zM20.6 49.6h1.55v1.55h-1.55zM186.9 125.0h1.55v1.55h-1.55zM121.3 102.1h1.55v1.55h-1.55zM116.2 98.0h1.55v1.55h-1.55zM141.8 107.3h1.55v1.55h-1.55zM185.4 133.5h1.55v1.55h-1.55zM99.5 94.5h1.55v1.55h-1.55zM59.6 58.7h1.55v1.55h-1.55zM141.7 116.2h1.55v1.55h-1.55zM38.6 59.2h1.55v1.55h-1.55zM104.9 95.6h1.55v1.55h-1.55zM146.1 117.1h1.55v1.55h-1.55zM27.4 51.9h1.55v1.55h-1.55zM109.0 96.7h1.55v1.55h-1.55zM179.0 134.1h1.55v1.55h-1.55zM21.0 38.8h1.55v1.55h-1.55zM90.4 89.8h1.55v1.55h-1.55zM50.5 59.0h1.55v1.55h-1.55zM50.3 62.7h1.55v1.55h-1.55zM135.8 106.4h1.55v1.55h-1.55zM182.2 126.9h1.55v1.55h-1.55zM129.6 104.4h1.55v1.55h-1.55zM104.0 96.1h1.55v1.55h-1.55zM142.1 117.0h1.55v1.55h-1.55zM63.2 57.4h1.55v1.55h-1.55zM34.2 51.5h1.55v1.55h-1.55zM178.0 133.6h1.55v1.55h-1.55zM89.0 88.9h1.55v1.55h-1.55zM32.7 58.1h1.55v1.55h-1.55zM75.3 77.3h1.55v1.55h-1.55zM114.4 87.9h1.55v1.55h-1.55zM78.3 78.9h1.55v1.55h-1.55zM49.9 56.8h1.55v1.55h-1.55zM74.1 65.1h1.55v1.55h-1.55zM160.6 123.3h1.55v1.55h-1.55zM37.5 52.2h1.55v1.55h-1.55zM95.8 90.0h1.55v1.55h-1.55zM50.3 63.8h1.55v1.55h-1.55zM114.9 97.6h1.55v1.55h-1.55zM106.0 97.3h1.55v1.55h-1.55zM160.4 119.8h1.55v1.55h-1.55zM63.1 59.0h1.55v1.55h-1.55zM54.6 64.4h1.55v1.55h-1.55zM127.1 103.3h1.55v1.55h-1.55zM38.9 51.1h1.55v1.55h-1.55zM46.8 62.7h1.55v1.55h-1.55zM189.0 123.7h1.55v1.55h-1.55zM33.1 50.2h1.55v1.55h-1.55zM88.5 89.4h1.55v1.55h-1.55zM155.0 122.7h1.55v1.55h-1.55zM97.7 77.8h1.55v1.55h-1.55zM77.0 81.0h1.55v1.55h-1.55zM153.2 106.7h1.55v1.55h-1.55zM166.4 119.6h1.55v1.55h-1.55zM53.4 59.4h1.55v1.55h-1.55zM119.0 99.0h1.55v1.55h-1.55zM72.3 78.1h1.55v1.55h-1.55zM176.0 132.6h1.55v1.55h-1.55zM187.0 125.8h1.55v1.55h-1.55zM78.1 83.5h1.55v1.55h-1.55zM76.9 68.6h1.55v1.55h-1.55zM66.9 60.8h1.55v1.55h-1.55zM72.2 63.8h1.55v1.55h-1.55zM50.7 62.1h1.55v1.55h-1.55zM42.2 62.1h1.55v1.55h-1.55zM109.4 94.4h1.55v1.55h-1.55zM57.1 63.7h1.55v1.55h-1.55zM75.1 65.5h1.55v1.55h-1.55zM34.0 56.9h1.55v1.55h-1.55zM166.1 126.7h1.55v1.55h-1.55zM43.5 63.0h1.55v1.55h-1.55zM95.2 77.3h1.55v1.55h-1.55zM68.4 73.4h1.55v1.55h-1.55zM23.1 46.1h1.55v1.55h-1.55zM35.2 56.2h1.55v1.55h-1.55zM44.9 59.4h1.55v1.55h-1.55zM165.6 126.3h1.55v1.55h-1.55zM126.7 108.6h1.55v1.55h-1.55zM61.1 66.0h1.55v1.55h-1.55zM174.8 131.0h1.55v1.55h-1.55zM33.5 58.6h1.55v1.55h-1.55zM57.0 56.8h1.55v1.55h-1.55zM91.3 85.8h1.55v1.55h-1.55zM184.1 123.4h1.55v1.55h-1.55zM61.2 66.5h1.55v1.55h-1.55zM79.5 83.8h1.55v1.55h-1.55zM61.4 61.2h1.55v1.55h-1.55zM123.2 102.8h1.55v1.55h-1.55zM125.0 107.7h1.55v1.55h-1.55zM164.3 124.9h1.55v1.55h-1.55zM183.9 132.3h1.55v1.55h-1.55zM24.3 50.0h1.55v1.55h-1.55zM95.3 89.2h1.55v1.55h-1.55zM36.8 56.4h1.55v1.55h-1.55zM63.7 62.3h1.55v1.55h-1.55zM161.3 125.6h1.55v1.55h-1.55zM68.0 74.5h1.55v1.55h-1.55zM93.6 74.5h1.55v1.55h-1.55zM180.8 134.5h1.55v1.55h-1.55zM61.1 67.3h1.55v1.55h-1.55zM83.8 78.0h1.55v1.55h-1.55zM23.9 49.1h1.55v1.55h-1.55zM92.9 81.5h1.55v1.55h-1.55zM161.4 119.5h1.55v1.55h-1.55zM66.6 69.6h1.55v1.55h-1.55zM108.0 98.3h1.55v1.55h-1.55zM62.7 60.6h1.55v1.55h-1.55zM79.8 84.2h1.55v1.55h-1.55zM68.8 140.3h1.55v1.55h-1.55zM88.3 145.3h1.55v1.55h-1.55zM75.3 143.3h1.55v1.55h-1.55zM106.4 149.6h1.55v1.55h-1.55zM35.4 121.5h1.55v1.55h-1.55zM72.7 143.5h1.55v1.55h-1.55zM180.4 153.1h1.55v1.55h-1.55zM139.1 153.9h1.55v1.55h-1.55zM39.2 125.4h1.55v1.55h-1.55zM175.4 161.7h1.55v1.55h-1.55zM128.9 160.0h1.55v1.55h-1.55zM115.1 152.0h1.55v1.55h-1.55zM131.7 159.4h1.55v1.55h-1.55zM166.4 157.7h1.55v1.55h-1.55zM55.7 132.0h1.55v1.55h-1.55zM120.9 150.9h1.55v1.55h-1.55zM167.2 165.8h1.55v1.55h-1.55zM137.5 156.2h1.55v1.55h-1.55zM139.0 152.7h1.55v1.55h-1.55zM158.2 154.1h1.55v1.55h-1.55zM174.5 159.4h1.55v1.55h-1.55zM67.5 138.6h1.55v1.55h-1.55zM122.6 152.1h1.55v1.55h-1.55zM139.2 152.2h1.55v1.55h-1.55zM169.7 158.2h1.55v1.55h-1.55zM95.3 148.4h1.55v1.55h-1.55zM123.7 152.2h1.55v1.55h-1.55zM70.2 141.7h1.55v1.55h-1.55zM25.5 116.5h1.55v1.55h-1.55zM161.3 155.1h1.55v1.55h-1.55zM34.8 123.0h1.55v1.55h-1.55zM84.0 145.8h1.55v1.55h-1.55zM120.5 153.6h1.55v1.55h-1.55zM74.6 144.1h1.55v1.55h-1.55zM20.2 116.3h1.55v1.55h-1.55zM73.1 143.2h1.55v1.55h-1.55zM72.0 142.8h1.55v1.55h-1.55zM84.4 146.2h1.55v1.55h-1.55zM75.0 144.5h1.55v1.55h-1.55zM152.9 152.6h1.55v1.55h-1.55zM149.4 159.8h1.55v1.55h-1.55zM60.7 133.3h1.55v1.55h-1.55zM179.2 163.1h1.55v1.55h-1.55zM42.3 126.4h1.55v1.55h-1.55zM179.1 154.2h1.55v1.55h-1.55zM153.5 153.5h1.55v1.55h-1.55zM154.7 156.1h1.55v1.55h-1.55zM100.9 146.3h1.55v1.55h-1.55zM131.6 157.2h1.55v1.55h-1.55zM69.8 141.2h1.55v1.55h-1.55zM35.6 120.0h1.55v1.55h-1.55zM190.4 157.0h1.55v1.55h-1.55zM173.2 161.8h1.55v1.55h-1.55zM43.0 124.8h1.55v1.55h-1.55zM182.5 160.4h1.55v1.55h-1.55zM189.6 158.2h1.55v1.55h-1.55zM141.6 158.6h1.55v1.55h-1.55zM176.5 156.4h1.55v1.55h-1.55zM25.8 116.8h1.55v1.55h-1.55zM22.4 115.5h1.55v1.55h-1.55zM120.9 150.5h1.55v1.55h-1.55zM62.5 134.1h1.55v1.55h-1.55zM81.4 145.5h1.55v1.55h-1.55zM121.1 156.0h1.55v1.55h-1.55zM32.2 118.8h1.55v1.55h-1.55zM33.3 122.9h1.55v1.55h-1.55zM128.1 155.5h1.55v1.55h-1.55zM159.2 154.0h1.55v1.55h-1.55zM174.5 155.8h1.55v1.55h-1.55zM127.6 152.9h1.55v1.55h-1.55zM147.6 152.6h1.55v1.55h-1.55zM67.6 138.7h1.55v1.55h-1.55zM144.0 154.4h1.55v1.55h-1.55zM46.7 126.9h1.55v1.55h-1.55zM117.2 150.3h1.55v1.55h-1.55zM121.4 155.0h1.55v1.55h-1.55zM129.5 157.8h1.55v1.55h-1.55zM72.0 142.9h1.55v1.55h-1.55zM180.9 156.5h1.55v1.55h-1.55zM24.1 115.7h1.55v1.55h-1.55zM149.6 158.7h1.55v1.55h-1.55zM143.9 155.0h1.55v1.55h-1.55zM112.5 148.3h1.55v1.55h-1.55zM122.4 157.2h1.55v1.55h-1.55zM55.3 132.1h1.55v1.55h-1.55zM165.5 162.8h1.55v1.55h-1.55zM80.1 144.4h1.55v1.55h-1.55zM145.3 160.4h1.55v1.55h-1.55zM170.1 157.7h1.55v1.55h-1.55zM147.4 158.3h1.55v1.55h-1.55zM84.3 147.0h1.55v1.55h-1.55zM86.1 144.7h1.55v1.55h-1.55zM20.2 115.8h1.55v1.55h-1.55zM148.7 151.1h1.55v1.55h-1.55zM30.7 118.5h1.55v1.55h-1.55zM55.7 132.9h1.55v1.55h-1.55zM52.6 130.9h1.55v1.55h-1.55zM114.3 149.6h1.55v1.55h-1.55zM166.2 159.3h1.55v1.55h-1.55zM107.6 150.3h1.55v1.55h-1.55zM89.3 144.8h1.55v1.55h-1.55zM183.0 158.9h1.55v1.55h-1.55zM113.4 150.4h1.55v1.55h-1.55zM125.6 151.6h1.55v1.55h-1.55zM32.6 120.2h1.55v1.55h-1.55zM173.9 154.1h1.55v1.55h-1.55zM187.8 153.5h1.55v1.55h-1.55zM190.7 157.2h1.55v1.55h-1.55zM66.7 137.6h1.55v1.55h-1.55zM171.9 166.5h1.55v1.55h-1.55zM157.7 158.4h1.55v1.55h-1.55zM113.0 152.5h1.55v1.55h-1.55zM160.7 163.9h1.55v1.55h-1.55zM69.4 141.2h1.55v1.55h-1.55zM183.1 156.5h1.55v1.55h-1.55zM21.7 115.0h1.55v1.55h-1.55zM131.4 154.0h1.55v1.55h-1.55zM177.0 158.9h1.55v1.55h-1.55zM139.7 152.4h1.55v1.55h-1.55zM109.8 151.1h1.55v1.55h-1.55zM176.8 163.1h1.55v1.55h-1.55zM65.2 136.7h1.55v1.55h-1.55zM187.4 151.8h1.55v1.55h-1.55zM32.2 118.6h1.55v1.55h-1.55zM145.1 153.1h1.55v1.55h-1.55zM141.1 159.6h1.55v1.55h-1.55zM158.3 153.7h1.55v1.55h-1.55zM137.8 159.8h1.55v1.55h-1.55zM140.2 160.4h1.55v1.55h-1.55zM159.9 159.9h1.55v1.55h-1.55zM168.1 160.3h1.55v1.55h-1.55zM38.6 121.9h1.55v1.55h-1.55zM179.5 154.8h1.55v1.55h-1.55zM100.7 150.5h1.55v1.55h-1.55zM137.3 159.8h1.55v1.55h-1.55zM100.5 147.9h1.55v1.55h-1.55zM33.3 119.0h1.55v1.55h-1.55zM47.2 127.9h1.55v1.55h-1.55zM110.1 147.8h1.55v1.55h-1.55zM128.6 151.2h1.55v1.55h-1.55zM86.1 144.3h1.55v1.55h-1.55zM101.3 146.5h1.55v1.55h-1.55zM180.8 154.7h1.55v1.55h-1.55zM161.8 158.4h1.55v1.55h-1.55zM76.0 145.1h1.55v1.55h-1.55zM67.1 138.6h1.55v1.55h-1.55zM129.4 160.4h1.55v1.55h-1.55zM140.4 151.9h1.55v1.55h-1.55zM98.1 150.6h1.55v1.55h-1.55zM166.2 158.5h1.55v1.55h-1.55zM42.1 123.9h1.55v1.55h-1.55zM149.5 151.6h1.55v1.55h-1.55zM172.5 155.6h1.55v1.55h-1.55zM137.9 158.2h1.55v1.55h-1.55zM61.5 134.7h1.55v1.55h-1.55zM127.5 151.9h1.55v1.55h-1.55zM111.1 150.8h1.55v1.55h-1.55zM183.7 153.5h1.55v1.55h-1.55zM49.8 129.3h1.55v1.55h-1.55zM122.1 152.1h1.55v1.55h-1.55zM176.1 154.4h1.55v1.55h-1.55zM107.0 148.9h1.55v1.55h-1.55zM54.0 130.9h1.55v1.55h-1.55zM97.5 146.7h1.55v1.55h-1.55zM152.3 161.4h1.55v1.55h-1.55zM185.7 152.7h1.55v1.55h-1.55zM83.7 148.1h1.55v1.55h-1.55zM34.3 119.1h1.55v1.55h-1.55zM31.2 122.3h1.55v1.55h-1.55zM106.5 148.6h1.55v1.55h-1.55zM37.0 124.3h1.55v1.55h-1.55zM189.8 156.4h1.55v1.55h-1.55zM176.0 158.2h1.55v1.55h-1.55zM73.3 142.8h1.55v1.55h-1.55zM72.1 142.5h1.55v1.55h-1.55zM83.1 144.2h1.55v1.55h-1.55zM27.1 120.1h1.55v1.55h-1.55zM165.1 166.0h1.55v1.55h-1.55zM80.3 145.1h1.55v1.55h-1.55zM112.9 152.5h1.55v1.55h-1.55zM72.0 142.6h1.55v1.55h-1.55zM114.0 153.2h1.55v1.55h-1.55zM79.8 144.0h1.55v1.55h-1.55zM89.2 148.4h1.55v1.55h-1.55zM50.0 129.9h1.55v1.55h-1.55zM42.8 124.3h1.55v1.55h-1.55zM126.9 150.9h1.55v1.55h-1.55zM97.7 147.9h1.55v1.55h-1.55zM86.5 147.2h1.55v1.55h-1.55zM164.8 157.7h1.55v1.55h-1.55zM150.1 157.0h1.55v1.55h-1.55zM122.0 152.9h1.55v1.55h-1.55zM117.2 153.0h1.55v1.55h-1.55zM138.2 153.4h1.55v1.55h-1.55zM131.2 157.2h1.55v1.55h-1.55zM99.1 150.4h1.55v1.55h-1.55zM73.9 143.4h1.55v1.55h-1.55zM117.3 151.9h1.55v1.55h-1.55zM51.6 130.8h1.55v1.55h-1.55zM40.0 123.8h1.55v1.55h-1.55zM97.2 148.5h1.55v1.55h-1.55zM166.7 168.8h1.55v1.55h-1.55zM59.4 135.5h1.55v1.55h-1.55zM100.8 148.0h1.55v1.55h-1.55zM27.1 119.9h1.55v1.55h-1.55zM59.2 132.7h1.55v1.55h-1.55zM72.3 142.5h1.55v1.55h-1.55zM69.5 140.9h1.55v1.55h-1.55zM111.2 149.1h1.55v1.55h-1.55zM149.4 159.6h1.55v1.55h-1.55zM179.4 155.1h1.55v1.55h-1.55zM136.8 158.9h1.55v1.55h-1.55zM144.0 153.9h1.55v1.55h-1.55zM53.0 131.9h1.55v1.55h-1.55zM132.3 153.5h1.55v1.55h-1.55zM134.0 152.0h1.55v1.55h-1.55zM154.1 161.1h1.55v1.55h-1.55zM186.0 152.1h1.55v1.55h-1.55zM138.3 159.4h1.55v1.55h-1.55zM44.3 126.6h1.55v1.55h-1.55zM52.5 129.5h1.55v1.55h-1.55zM24.9 116.4h1.55v1.55h-1.55zM165.3 161.8h1.55v1.55h-1.55zM156.3 163.7h1.55v1.55h-1.55zM46.0 128.9h1.55v1.55h-1.55zM173.2 160.2h1.55v1.55h-1.55zM77.2 143.7h1.55v1.55h-1.55zM95.2 146.2h1.55v1.55h-1.55zM64.7 136.8h1.55v1.55h-1.55zM128.7 152.0h1.55v1.55h-1.55zM49.6 129.1h1.55v1.55h-1.55zM141.6 157.2h1.55v1.55h-1.55zM129.7 159.1h1.55v1.55h-1.55zM149.6 153.6h1.55v1.55h-1.55zM147.6 156.3h1.55v1.55h-1.55zM78.4 144.0h1.55v1.55h-1.55zM84.6 146.8h1.55v1.55h-1.55zM148.4 152.6h1.55v1.55h-1.55zM112.7 148.3h1.55v1.55h-1.55zM122.3 151.9h1.55v1.55h-1.55zM151.3 159.0h1.55v1.55h-1.55zM29.1 121.4h1.55v1.55h-1.55zM49.5 131.4h1.55v1.55h-1.55zM188.5 152.2h1.55v1.55h-1.55zM70.0 141.4h1.55v1.55h-1.55zM175.7 161.1h1.55v1.55h-1.55zM185.2 159.1h1.55v1.55h-1.55zM81.6 146.8h1.55v1.55h-1.55zM81.0 144.7h1.55v1.55h-1.55zM92.9 147.7h1.55v1.55h-1.55zM74.2 143.5h1.55v1.55h-1.55zM117.1 153.5h1.55v1.55h-1.55zM100.5 147.4h1.55v1.55h-1.55zM115.1 150.5h1.55v1.55h-1.55zM145.1 151.7h1.55v1.55h-1.55zM50.5 128.4h1.55v1.55h-1.55zM90.7 148.3h1.55v1.55h-1.55zM122.6 153.5h1.55v1.55h-1.55zM180.0 160.6h1.55v1.55h-1.55zM70.2 141.7h1.55v1.55h-1.55zM112.0 148.7h1.55v1.55h-1.55zM122.0 149.9h1.55v1.55h-1.55zM86.9 147.1h1.55v1.55h-1.55zM63.7 134.7h1.55v1.55h-1.55zM148.0 151.8h1.55v1.55h-1.55zM174.2 159.4h1.55v1.55h-1.55zM172.0 158.8h1.55v1.55h-1.55zM103.7 147.3h1.55v1.55h-1.55zM30.1 121.7h1.55v1.55h-1.55zM57.6 131.5h1.55v1.55h-1.55zM179.5 156.9h1.55v1.55h-1.55zM119.4 155.3h1.55v1.55h-1.55zM145.2 152.6h1.55v1.55h-1.55zM68.5 140.2h1.55v1.55h-1.55zM136.4 153.2h1.55v1.55h-1.55zM62.8 135.2h1.55v1.55h-1.55zM30.3 120.8h1.55v1.55h-1.55zM132.5 152.1h1.55v1.55h-1.55zM119.2 152.2h1.55v1.55h-1.55zM35.3 120.6h1.55v1.55h-1.55zM155.5 155.8h1.55v1.55h-1.55zM144.4 152.5h1.55v1.55h-1.55zM190.7 156.0h1.55v1.55h-1.55zM115.5 148.7h1.55v1.55h-1.55zM80.9 144.1h1.55v1.55h-1.55zM95.2 145.5h1.55v1.55h-1.55zM61.9 134.2h1.55v1.55h-1.55zM44.8 125.5h1.55v1.55h-1.55zM106.2 147.3h1.55v1.55h-1.55zM115.9 154.7h1.55v1.55h-1.55zM143.4 161.2h1.55v1.55h-1.55zM38.7 123.7h1.55v1.55h-1.55zM61.3 136.4h1.55v1.55h-1.55zM104.9 150.2h1.55v1.55h-1.55zM152.8 152.2h1.55v1.55h-1.55zM37.3 123.9h1.55v1.55h-1.55zM160.1 157.6h1.55v1.55h-1.55zM24.3 115.7h1.55v1.55h-1.55zM157.0 159.6h1.55v1.55h-1.55zM84.0 146.5h1.55v1.55h-1.55zM158.2 153.6h1.55v1.55h-1.55zM147.5 160.7h1.55v1.55h-1.55zM168.7 166.0h1.55v1.55h-1.55zM95.3 147.5h1.55v1.55h-1.55zM39.6 125.1h1.55v1.55h-1.55zM132.9 154.2h1.55v1.55h-1.55zM28.6 117.4h1.55v1.55h-1.55zM88.8 148.6h1.55v1.55h-1.55zM100.7 150.4h1.55v1.55h-1.55zM52.1 129.5h1.55v1.55h-1.55zM60.5 133.4h1.55v1.55h-1.55zM156.0 155.1h1.55v1.55h-1.55zM74.8 144.0h1.55v1.55h-1.55zM96.5 149.7h1.55v1.55h-1.55zM139.0 160.1h1.55v1.55h-1.55zM93.2 146.0h1.55v1.55h-1.55zM97.4 150.7h1.55v1.55h-1.55zM181.5 156.8h1.55v1.55h-1.55zM104.5 146.9h1.55v1.55h-1.55zM166.7 161.7h1.55v1.55h-1.55zM90.5 144.8h1.55v1.55h-1.55zM100.6 149.2h1.55v1.55h-1.55zM66.1 137.0h1.55v1.55h-1.55zM107.5 149.2h1.55v1.55h-1.55zM21.3 114.7h1.55v1.55h-1.55zM84.1 146.7h1.55v1.55h-1.55zM85.4 144.3h1.55v1.55h-1.55zM61.7 133.8h1.55v1.55h-1.55zM150.7 152.0h1.55v1.55h-1.55zM187.8 152.8h1.55v1.55h-1.55zM50.9 128.5h1.55v1.55h-1.55zM104.1 148.6h1.55v1.55h-1.55zM153.6 157.5h1.55v1.55h-1.55zM112.9 148.3h1.55v1.55h-1.55zM178.6 154.2h1.55v1.55h-1.55zM60.2 133.0h1.55v1.55h-1.55zM120.6 153.1h1.55v1.55h-1.55zM74.1 143.0h1.55v1.55h-1.55zM22.0 116.3h1.55v1.55h-1.55zM141.8 152.0h1.55v1.55h-1.55zM61.3 135.5h1.55v1.55h-1.55zM141.5 152.2h1.55v1.55h-1.55zM189.0 157.0h1.55v1.55h-1.55zM142.4 153.3h1.55v1.55h-1.55zM185.3 154.6h1.55v1.55h-1.55zM129.0 160.1h1.55v1.55h-1.55zM162.8 156.0h1.55v1.55h-1.55zM42.4 123.9h1.55v1.55h-1.55zM40.6 126.2h1.55v1.55h-1.55zM112.9 150.1h1.55v1.55h-1.55zM83.2 145.5h1.55v1.55h-1.55zM94.8 148.2h1.55v1.55h-1.55zM91.2 148.5h1.55v1.55h-1.55zM164.7 166.9h1.55v1.55h-1.55zM148.3 151.7h1.55v1.55h-1.55zM92.2 148.5h1.55v1.55h-1.55zM81.0 145.7h1.55v1.55h-1.55zM56.3 133.6h1.55v1.55h-1.55zM77.1 144.1h1.55v1.55h-1.55zM159.8 154.4h1.55v1.55h-1.55zM21.3 115.4h1.55v1.55h-1.55zM96.2 145.5h1.55v1.55h-1.55zM87.2 147.4h1.55v1.55h-1.55zM171.1 165.7h1.55v1.55h-1.55zM156.0 153.0h1.55v1.55h-1.55zM82.6 145.3h1.55v1.55h-1.55zM24.9 118.5h1.55v1.55h-1.55zM67.7 139.7h1.55v1.55h-1.55zM135.6 153.5h1.55v1.55h-1.55zM78.6 144.8h1.55v1.55h-1.55zM53.5 129.6h1.55v1.55h-1.55zM92.2 145.1h1.55v1.55h-1.55zM63.6 136.8h1.55v1.55h-1.55zM147.0 153.6h1.55v1.55h-1.55zM24.4 118.2h1.55v1.55h-1.55zM65.1 135.6h1.55v1.55h-1.55zM148.7 159.4h1.55v1.55h-1.55zM63.9 135.9h1.55v1.55h-1.55zM171.8 158.7h1.55v1.55h-1.55zM79.8 144.2h1.55v1.55h-1.55zM24.9 119.1h1.55v1.55h-1.55zM158.8 154.6h1.55v1.55h-1.55zM130.4 152.0h1.55v1.55h-1.55zM147.8 153.2h1.55v1.55h-1.55zM139.1 155.9h1.55v1.55h-1.55zM34.2 120.9h1.55v1.55h-1.55zM131.9 151.6h1.55v1.55h-1.55zM26.4 116.9h1.55v1.55h-1.55zM143.5 161.5h1.55v1.55h-1.55zM96.5 149.5h1.55v1.55h-1.55zM141.5 153.0h1.55v1.55h-1.55zM96.3 149.4h1.55v1.55h-1.55zM102.6 148.3h1.55v1.55h-1.55zM143.5 152.0h1.55v1.55h-1.55zM98.7 147.7h1.55v1.55h-1.55zM117.1 152.6h1.55v1.55h-1.55zM66.5 137.8h1.55v1.55h-1.55zM98.9 145.9h1.55v1.55h-1.55zM154.6 162.5h1.55v1.55h-1.55zM115.8 150.3h1.55v1.55h-1.55zM83.3 145.4h1.55v1.55h-1.55zM83.4 144.7h1.55v1.55h-1.55zM182.2 154.5h1.55v1.55h-1.55zM56.5 132.9h1.55v1.55h-1.55zM21.1 115.1h1.55v1.55h-1.55zM116.0 153.5h1.55v1.55h-1.55zM71.9 142.4h1.55v1.55h-1.55zM185.5 151.9h1.55v1.55h-1.55zM91.6 146.3h1.55v1.55h-1.55zM188.9 153.2h1.55v1.55h-1.55zM61.5 133.9h1.55v1.55h-1.55zM84.3 144.4h1.55v1.55h-1.55zM173.9 158.1h1.55v1.55h-1.55zM145.6 152.6h1.55v1.55h-1.55zM134.0 161.3h1.55v1.55h-1.55zM59.5 135.8h1.55v1.55h-1.55zM68.8 140.6h1.55v1.55h-1.55zM181.1 155.7h1.55v1.55h-1.55zM179.3 155.4h1.55v1.55h-1.55zM94.8 149.7h1.55v1.55h-1.55zM123.1 150.1h1.55v1.55h-1.55zM45.7 127.1h1.55v1.55h-1.55zM78.2 143.8h1.55v1.55h-1.55zM159.3 156.0h1.55v1.55h-1.55zM174.6 156.1h1.55v1.55h-1.55zM51.5 129.7h1.55v1.55h-1.55zM161.4 165.6h1.55v1.55h-1.55zM116.3 149.5h1.55v1.55h-1.55zM110.3 148.5h1.55v1.55h-1.55zM81.9 144.1h1.55v1.55h-1.55zM23.3 118.6h1.55v1.55h-1.55zM151.2 152.3h1.55v1.55h-1.55zM125.3 150.4h1.55v1.55h-1.55zM161.7 160.7h1.55v1.55h-1.55zM143.2 154.3h1.55v1.55h-1.55zM94.4 148.8h1.55v1.55h-1.55zM74.5 143.0h1.55v1.55h-1.55zM39.8 126.0h1.55v1.55h-1.55zM67.6 138.6h1.55v1.55h-1.55zM116.8 149.1h1.55v1.55h-1.55zM93.0 148.2h1.55v1.55h-1.55zM60.0 133.6h1.55v1.55h-1.55zM179.4 161.5h1.55v1.55h-1.55zM168.6 155.2h1.55v1.55h-1.55zM186.4 155.7h1.55v1.55h-1.55zM45.8 129.6h1.55v1.55h-1.55zM41.2 127.2h1.55v1.55h-1.55zM25.4 116.1h1.55v1.55h-1.55zM100.9 148.6h1.55v1.55h-1.55zM120.2 154.4h1.55v1.55h-1.55zM38.6 124.1h1.55v1.55h-1.55zM75.0 144.8h1.55v1.55h-1.55zM127.1 155.5h1.55v1.55h-1.55zM42.8 127.6h1.55v1.55h-1.55zM69.6 141.0h1.55v1.55h-1.55zM92.0 148.0h1.55v1.55h-1.55zM75.3 143.7h1.55v1.55h-1.55zM123.4 150.9h1.55v1.55h-1.55zM40.4 123.4h1.55v1.55h-1.55zM141.9 157.4h1.55v1.55h-1.55zM56.4 132.8h1.55v1.55h-1.55zM163.0 162.9h1.55v1.55h-1.55zM51.4 128.8h1.55v1.55h-1.55zM188.6 157.0h1.55v1.55h-1.55zM66.9 138.9h1.55v1.55h-1.55zM119.3 152.6h1.55v1.55h-1.55zM81.5 146.2h1.55v1.55h-1.55zM85.5 145.3h1.55v1.55h-1.55zM75.6 144.5h1.55v1.55h-1.55zM167.1 157.3h1.55v1.55h-1.55zM32.9 119.0h1.55v1.55h-1.55zM149.3 152.9h1.55v1.55h-1.55zM22.0 117.3h1.55v1.55h-1.55zM94.4 145.1h1.55v1.55h-1.55zM147.8 154.5h1.55v1.55h-1.55zM165.0 166.4h1.55v1.55h-1.55zM160.9 164.9h1.55v1.55h-1.55zM85.8 147.5h1.55v1.55h-1.55zM104.7 149.6h1.55v1.55h-1.55zM57.2 133.0h1.55v1.55h-1.55zM32.7 122.2h1.55v1.55h-1.55zM50.6 129.9h1.55v1.55h-1.55zM164.0 165.7h1.55v1.55h-1.55zM166.3 159.2h1.55v1.55h-1.55zM32.2 122.8h1.55v1.55h-1.55zM72.3 143.1h1.55v1.55h-1.55zM90.2 145.8h1.55v1.55h-1.55zM112.7 150.6h1.55v1.55h-1.55zM153.4 156.4h1.55v1.55h-1.55zM48.8 128.8h1.55v1.55h-1.55zM36.3 123.7h1.55v1.55h-1.55zM50.2 129.0h1.55v1.55h-1.55zM121.0 150.9h1.55v1.55h-1.55zM173.0 162.6h1.55v1.55h-1.55zM77.0 144.2h1.55v1.55h-1.55zM146.3 154.7h1.55v1.55h-1.55zM128.9 152.6h1.55v1.55h-1.55zM117.4 151.9h1.55v1.55h-1.55zM173.9 156.1h1.55v1.55h-1.55zM156.9 154.2h1.55v1.55h-1.55zM69.8 141.2h1.55v1.55h-1.55zM178.9 153.2h1.55v1.55h-1.55zM69.3 140.8h1.55v1.55h-1.55zM141.5 157.2h1.55v1.55h-1.55zM40.9 123.6h1.55v1.55h-1.55zM143.2 152.0h1.55v1.55h-1.55zM41.0 126.0h1.55v1.55h-1.55zM20.2 114.3h1.55v1.55h-1.55zM52.2 131.9h1.55v1.55h-1.55zM79.7 145.0h1.55v1.55h-1.55zM112.6 153.3h1.55v1.55h-1.55zM27.1 116.9h1.55v1.55h-1.55zM88.8 146.8h1.55v1.55h-1.55zM42.9 125.0h1.55v1.55h-1.55zM117.3 149.1h1.55v1.55h-1.55zM76.8 143.5h1.55v1.55h-1.55zM175.8 153.5h1.55v1.55h-1.55zM47.4 128.4h1.55v1.55h-1.55zM59.5 133.9h1.55v1.55h-1.55zM78.5 147.2h1.55v1.55h-1.55zM117.3 150.2h1.55v1.55h-1.55zM51.0 129.7h1.55v1.55h-1.55zM152.3 157.5h1.55v1.55h-1.55zM140.7 155.5h1.55v1.55h-1.55zM179.9 155.3h1.55v1.55h-1.55zM113.6 154.2h1.55v1.55h-1.55zM155.1 155.9h1.55v1.55h-1.55zM156.1 160.3h1.55v1.55h-1.55zM70.3 141.9h1.55v1.55h-1.55zM149.5 153.0h1.55v1.55h-1.55zM80.1 145.5h1.55v1.55h-1.55zM33.2 119.1h1.55v1.55h-1.55zM188.8 152.4h1.55v1.55h-1.55zM158.0 153.6h1.55v1.55h-1.55zM72.7 142.9h1.55v1.55h-1.55zM73.6 144.0h1.55v1.55h-1.55zM183.8 153.6h1.55v1.55h-1.55zM43.6 128.1h1.55v1.55h-1.55zM156.0 156.8h1.55v1.55h-1.55zM30.2 117.6h1.55v1.55h-1.55zM137.8 158.1h1.55v1.55h-1.55zM99.8 146.9h1.55v1.55h-1.55zM67.3 138.5h1.55v1.55h-1.55zM91.6 146.9h1.55v1.55h-1.55zM90.9 145.4h1.55v1.55h-1.55zM58.6 133.8h1.55v1.55h-1.55zM180.2 153.5h1.55v1.55h-1.55zM152.1 156.5h1.55v1.55h-1.55zM59.7 132.7h1.55v1.55h-1.55zM163.0 155.9h1.55v1.55h-1.55zM40.4 122.4h1.55v1.55h-1.55zM159.3 156.6h1.55v1.55h-1.55zM20.3 114.7h1.55v1.55h-1.55zM108.8 149.3h1.55v1.55h-1.55zM45.3 128.5h1.55v1.55h-1.55zM139.1 153.3h1.55v1.55h-1.55zM74.6 143.2h1.55v1.55h-1.55zM23.8 117.3h1.55v1.55h-1.55zM67.0 138.8h1.55v1.55h-1.55zM163.3 157.6h1.55v1.55h-1.55zM69.0 140.4h1.55v1.55h-1.55zM101.4 146.3h1.55v1.55h-1.55zM86.7 145.1h1.55v1.55h-1.55zM39.1 125.1h1.55v1.55h-1.55zM139.1 155.4h1.55v1.55h-1.55zM32.7 121.3h1.55v1.55h-1.55zM85.0 147.8h1.55v1.55h-1.55zM130.7 152.3h1.55v1.55h-1.55zM148.6 155.3h1.55v1.55h-1.55zM80.7 146.8h1.55v1.55h-1.55zM76.5 143.5h1.55v1.55h-1.55zM27.6 118.7h1.55v1.55h-1.55zM66.9 137.8h1.55v1.55h-1.55zM28.3 119.8h1.55v1.55h-1.55zM67.8 140.0h1.55v1.55h-1.55zM172.8 163.1h1.55v1.55h-1.55zM58.5 135.2h1.55v1.55h-1.55zM126.6 157.2h1.55v1.55h-1.55zM175.3 155.5h1.55v1.55h-1.55zM84.3 147.8h1.55v1.55h-1.55zM69.7 141.1h1.55v1.55h-1.55zM26.6 118.1h1.55v1.55h-1.55zM72.6 143.3h1.55v1.55h-1.55zM21.9 115.6h1.55v1.55h-1.55zM141.8 156.5h1.55v1.55h-1.55zM162.5 161.7h1.55v1.55h-1.55zM169.2 167.4h1.55v1.55h-1.55zM167.5 161.4h1.55v1.55h-1.55zM88.3 146.1h1.55v1.55h-1.55zM57.8 131.9h1.55v1.55h-1.55zM108.9 149.1h1.55v1.55h-1.55zM86.4 144.4h1.55v1.55h-1.55zM187.8 153.2h1.55v1.55h-1.55zM102.2 147.4h1.55v1.55h-1.55zM115.1 152.9h1.55v1.55h-1.55zM180.4 157.5h1.55v1.55h-1.55zM180.4 154.9h1.55v1.55h-1.55zM101.0 147.1h1.55v1.55h-1.55zM185.1 152.3h1.55v1.55h-1.55zM58.6 134.3h1.55v1.55h-1.55zM60.9 133.2h1.55v1.55h-1.55zM83.1 145.4h1.55v1.55h-1.55zM97.8 146.1h1.55v1.55h-1.55zM79.6 144.5h1.55v1.55h-1.55zM50.1 129.4h1.55v1.55h-1.55zM59.1 132.4h1.55v1.55h-1.55zM178.9 162.0h1.55v1.55h-1.55zM85.0 145.9h1.55v1.55h-1.55zM36.8 120.1h1.55v1.55h-1.55zM107.8 152.6h1.55v1.55h-1.55zM33.6 120.1h1.55v1.55h-1.55zM155.7 152.8h1.55v1.55h-1.55zM120.4 150.3h1.55v1.55h-1.55zM149.0 158.1h1.55v1.55h-1.55zM171.0 163.1h1.55v1.55h-1.55zM35.1 121.8h1.55v1.55h-1.55zM115.8 149.7h1.55v1.55h-1.55zM54.5 131.2h1.55v1.55h-1.55zM92.3 145.9h1.55v1.55h-1.55zM183.0 153.3h1.55v1.55h-1.55zM166.4 156.3h1.55v1.55h-1.55zM138.0 155.0h1.55v1.55h-1.55zM87.5 145.8h1.55v1.55h-1.55zM42.9 124.2h1.55v1.55h-1.55zM90.5 144.9h1.55v1.55h-1.55zM164.6 163.5h1.55v1.55h-1.55zM127.7 155.8h1.55v1.55h-1.55zM47.9 126.9h1.55v1.55h-1.55zM33.7 122.8h1.55v1.55h-1.55zM103.5 151.9h1.55v1.55h-1.55zM75.5 143.6h1.55v1.55h-1.55zM131.0 159.0h1.55v1.55h-1.55zM93.2 146.4h1.55v1.55h-1.55zM80.9 144.5h1.55v1.55h-1.55zM175.0 163.8h1.55v1.55h-1.55zM94.7 145.3h1.55v1.55h-1.55zM168.9 158.9h1.55v1.55h-1.55zM147.8 153.6h1.55v1.55h-1.55zM33.9 121.9h1.55v1.55h-1.55zM38.2 125.3h1.55v1.55h-1.55zM49.1 128.2h1.55v1.55h-1.55zM20.7 114.7h1.55v1.55h-1.55zM131.2 151.6h1.55v1.55h-1.55zM39.6 121.9h1.55v1.55h-1.55zM22.5 116.2h1.55v1.55h-1.55zM58.7 134.3h1.55v1.55h-1.55zM136.1 156.0h1.55v1.55h-1.55zM178.7 163.5h1.55v1.55h-1.55zM72.7 143.2h1.55v1.55h-1.55zM138.7 152.7h1.55v1.55h-1.55zM154.2 152.3h1.55v1.55h-1.55zM135.2 161.7h1.55v1.55h-1.55zM131.4 157.1h1.55v1.55h-1.55zM132.7 154.2h1.55v1.55h-1.55zM39.1 122.5h1.55v1.55h-1.55zM73.3 143.6h1.55v1.55h-1.55zM170.4 166.9h1.55v1.55h-1.55zM77.0 145.9h1.55v1.55h-1.55zM174.5 153.8h1.55v1.55h-1.55zM113.6 148.5h1.55v1.55h-1.55zM33.8 120.1h1.55v1.55h-1.55zM140.7 152.5h1.55v1.55h-1.55zM75.1 143.7h1.55v1.55h-1.55zM113.2 148.5h1.55v1.55h-1.55zM49.8 128.0h1.55v1.55h-1.55zM75.1 145.0h1.55v1.55h-1.55zM51.9 131.4h1.55v1.55h-1.55zM130.9 159.1h1.55v1.55h-1.55zM157.5 153.5h1.55v1.55h-1.55zM76.5 145.3h1.55v1.55h-1.55zM130.5 158.9h1.55v1.55h-1.55zM25.6 119.2h1.55v1.55h-1.55zM87.8 147.6h1.55v1.55h-1.55zM119.8 150.7h1.55v1.55h-1.55zM110.0 147.7h1.55v1.55h-1.55zM180.0 161.4h1.55v1.55h-1.55zM131.0 156.3h1.55v1.55h-1.55zM145.9 154.0h1.55v1.55h-1.55zM61.7 135.2h1.55v1.55h-1.55zM188.3 159.2h1.55v1.55h-1.55zM156.5 153.7h1.55v1.55h-1.55zM73.4 142.9h1.55v1.55h-1.55zM116.6 154.4h1.55v1.55h-1.55zM126.2 154.1h1.55v1.55h-1.55zM93.1 145.1h1.55v1.55h-1.55zM65.4 138.6h1.55v1.55h-1.55zM175.3 159.6h1.55v1.55h-1.55zM137.5 153.1h1.55v1.55h-1.55zM24.1 115.6h1.55v1.55h-1.55zM23.2 115.6h1.55v1.55h-1.55zM187.8 155.6h1.55v1.55h-1.55zM57.8 131.6h1.55v1.55h-1.55zM23.1 115.3h1.55v1.55h-1.55zM43.3 124.8h1.55v1.55h-1.55zM46.8 126.5h1.55v1.55h-1.55zM127.0 151.0h1.55v1.55h-1.55zM43.4 127.0h1.55v1.55h-1.55zM68.1 139.8h1.55v1.55h-1.55zM68.8 140.5h1.55v1.55h-1.55zM21.8 115.2h1.55v1.55h-1.55zM167.8 157.2h1.55v1.55h-1.55zM128.9 151.8h1.55v1.55h-1.55zM38.4 122.3h1.55v1.55h-1.55zM98.4 145.7h1.55v1.55h-1.55zM110.4 149.3h1.55v1.55h-1.55zM81.5 146.7h1.55v1.55h-1.55zM171.9 157.2h1.55v1.55h-1.55zM72.2 142.9h1.55v1.55h-1.55zM149.8 154.3h1.55v1.55h-1.55zM125.0 151.8h1.55v1.55h-1.55zM144.0 155.8h1.55v1.55h-1.55zM166.9 157.5h1.55v1.55h-1.55zM31.5 121.7h1.55v1.55h-1.55zM120.3 154.3h1.55v1.55h-1.55zM147.7 157.7h1.55v1.55h-1.55zM81.8 147.3h1.55v1.55h-1.55zM125.6 152.4h1.55v1.55h-1.55zM48.8 127.5h1.55v1.55h-1.55zM59.5 133.0h1.55v1.55h-1.55zM76.7 144.7h1.55v1.55h-1.55zM184.2 156.2h1.55v1.55h-1.55zM133.7 151.9h1.55v1.55h-1.55zM139.1 155.9h1.55v1.55h-1.55zM153.0 153.8h1.55v1.55h-1.55zM130.2 154.5h1.55v1.55h-1.55zM153.7 154.8h1.55v1.55h-1.55zM161.1 164.8h1.55v1.55h-1.55zM110.6 149.8h1.55v1.55h-1.55zM140.8 155.5h1.55v1.55h-1.55zM185.9 160.8h1.55v1.55h-1.55zM105.2 150.0h1.55v1.55h-1.55zM38.2 125.1h1.55v1.55h-1.55zM125.9 150.5h1.55v1.55h-1.55zM21.9 117.3h1.55v1.55h-1.55zM153.7 156.9h1.55v1.55h-1.55zM89.3 145.0h1.55v1.55h-1.55zM102.8 151.2h1.55v1.55h-1.55zM127.8 150.9h1.55v1.55h-1.55zM55.5 130.6h1.55v1.55h-1.55zM168.0 165.5h1.55v1.55h-1.55zM178.4 155.9h1.55v1.55h-1.55zM74.1 142.9h1.55v1.55h-1.55zM63.7 135.2h1.55v1.55h-1.55zM86.6 145.2h1.55v1.55h-1.55zM144.6 159.5h1.55v1.55h-1.55zM84.9 147.4h1.55v1.55h-1.55zM70.1 141.6h1.55v1.55h-1.55zM156.3 153.2h1.55v1.55h-1.55zM33.0 123.3h1.55v1.55h-1.55zM100.6 147.4h1.55v1.55h-1.55zM152.0 159.8h1.55v1.55h-1.55zM83.5 147.2h1.55v1.55h-1.55zM42.2 127.1h1.55v1.55h-1.55zM90.9 145.6h1.55v1.55h-1.55zM22.7 115.2h1.55v1.55h-1.55zM86.9 144.5h1.55v1.55h-1.55zM133.0 162.2h1.55v1.55h-1.55zM69.5 141.2h1.55v1.55h-1.55zM120.0 152.6h1.55v1.55h-1.55zM152.9 155.0h1.55v1.55h-1.55zM161.8 155.5h1.55v1.55h-1.55zM136.7 156.2h1.55v1.55h-1.55zM54.0 130.2h1.55v1.55h-1.55zM182.1 157.5h1.55v1.55h-1.55zM105.1 148.7h1.55v1.55h-1.55zM165.2 162.6h1.55v1.55h-1.55zM58.1 135.0h1.55v1.55h-1.55zM165.3 165.3h1.55v1.55h-1.55zM141.4 157.4h1.55v1.55h-1.55zM75.4 145.2h1.55v1.55h-1.55zM141.9 152.3h1.55v1.55h-1.55zM158.5 156.8h1.55v1.55h-1.55zM30.5 121.4h1.55v1.55h-1.55zM58.7 132.9h1.55v1.55h-1.55zM36.3 121.6h1.55v1.55h-1.55zM112.1 152.6h1.55v1.55h-1.55zM183.1 160.8h1.55v1.55h-1.55zM134.5 154.5h1.55v1.55h-1.55zM180.5 153.7h1.55v1.55h-1.55zM74.2 143.5h1.55v1.55h-1.55zM83.0 145.9h1.55v1.55h-1.55zM40.1 122.6h1.55v1.55h-1.55zM23.7 116.5h1.55v1.55h-1.55zM61.2 135.8h1.55v1.55h-1.55zM63.8 134.9h1.55v1.55h-1.55zM142.6 152.4h1.55v1.55h-1.55zM163.5 160.3h1.55v1.55h-1.55zM44.7 127.3h1.55v1.55h-1.55zM190.6 152.5h1.55v1.55h-1.55zM115.0 151.0h1.55v1.55h-1.55zM182.5 162.6h1.55v1.55h-1.55zM30.6 118.7h1.55v1.55h-1.55zM158.1 156.5h1.55v1.55h-1.55zM107.2 149.6h1.55v1.55h-1.55zM22.2 115.0h1.55v1.55h-1.55zM173.4 156.7h1.55v1.55h-1.55zM96.0 147.4h1.55v1.55h-1.55zM148.6 159.2h1.55v1.55h-1.55zM34.4 121.4h1.55v1.55h-1.55zM20.8 115.5h1.55v1.55h-1.55zM35.9 52.2h1.55v1.55h-1.55zM27.4 39.9h1.55v1.55h-1.55zM33.5 43.1h1.55v1.55h-1.55zM30.7 50.1h1.55v1.55h-1.55zM33.5 50.4h1.55v1.55h-1.55zM22.9 33.9h1.55v1.55h-1.55zM32.6 54.1h1.55v1.55h-1.55zM34.7 46.8h1.55v1.55h-1.55zM21.4 32.0h1.55v1.55h-1.55zM23.8 39.7h1.55v1.55h-1.55zM33.9 50.7h1.55v1.55h-1.55zM27.0 44.5h1.55v1.55h-1.55zM32.4 41.6h1.55v1.55h-1.55zM37.1 43.6h1.55v1.55h-1.55zM35.7 52.1h1.55v1.55h-1.55zM27.2 38.8h1.55v1.55h-1.55zM37.8 55.9h1.55v1.55h-1.55zM35.3 53.6h1.55v1.55h-1.55zM21.5 34.7h1.55v1.55h-1.55zM37.4 52.4h1.55v1.55h-1.55zM35.8 45.9h1.55v1.55h-1.55zM35.5 54.3h1.55v1.55h-1.55zM37.6 57.8h1.55v1.55h-1.55zM30.0 51.2h1.55v1.55h-1.55zM27.7 39.6h1.55v1.55h-1.55zM35.8 42.8h1.55v1.55h-1.55zM31.1 47.8h1.55v1.55h-1.55zM23.6 39.7h1.55v1.55h-1.55zM37.6 55.3h1.55v1.55h-1.55zM36.6 55.0h1.55v1.55h-1.55zM35.6 55.5h1.55v1.55h-1.55zM38.6 58.3h1.55v1.55h-1.55zM22.0 35.6h1.55v1.55h-1.55zM35.1 47.9h1.55v1.55h-1.55zM28.1 42.6h1.55v1.55h-1.55zM24.3 42.2h1.55v1.55h-1.55zM25.9 45.5h1.55v1.55h-1.55zM21.3 34.7h1.55v1.55h-1.55zM30.7 46.3h1.55v1.55h-1.55zM26.8 42.6h1.55v1.55h-1.55zM26.7 39.8h1.55v1.55h-1.55zM35.0 44.3h1.55v1.55h-1.55zM31.4 46.4h1.55v1.55h-1.55zM39.0 58.3h1.55v1.55h-1.55zM22.3 36.8h1.55v1.55h-1.55zM34.1 50.2h1.55v1.55h-1.55zM29.6 47.7h1.55v1.55h-1.55zM29.2 41.0h1.55v1.55h-1.55zM21.8 34.6h1.55v1.55h-1.55zM22.2 34.1h1.55v1.55h-1.55zM25.4 38.7h1.55v1.55h-1.55zM26.5 42.0h1.55v1.55h-1.55zM30.1 40.2h1.55v1.55h-1.55zM29.4 46.5h1.55v1.55h-1.55zM29.9 49.9h1.55v1.55h-1.55zM38.2 55.7h1.55v1.55h-1.55zM23.3 41.3h1.55v1.55h-1.55zM34.0 43.6h1.55v1.55h-1.55zM31.6 41.1h1.55v1.55h-1.55zM24.7 36.7h1.55v1.55h-1.55zM35.0 54.8h1.55v1.55h-1.55zM22.2 37.1h1.55v1.55h-1.55zM28.4 45.8h1.55v1.55h-1.55zM34.1 54.1h1.55v1.55h-1.55zM25.3 43.9h1.55v1.55h-1.55zM23.5 40.0h1.55v1.55h-1.55zM31.8 51.5h1.55v1.55h-1.55zM23.1 36.5h1.55v1.55h-1.55zM22.1 33.8h1.55v1.55h-1.55zM32.1 52.2h1.55v1.55h-1.55zM36.4 57.2h1.55v1.55h-1.55zM34.7 50.6h1.55v1.55h-1.55zM33.5 53.8h1.55v1.55h-1.55zM34.3 53.9h1.55v1.55h-1.55zM31.6 40.9h1.55v1.55h-1.55zM31.7 52.4h1.55v1.55h-1.55zM25.1 42.8h1.55v1.55h-1.55zM162.2 95.4h1.55v1.55h-1.55zM88.1 59.8h1.55v1.55h-1.55zM81.8 58.8h1.55v1.55h-1.55zM75.4 34.6h1.55v1.55h-1.55zM84.9 63.1h1.55v1.55h-1.55zM127.2 91.1h1.55v1.55h-1.55zM40.9 46.3h1.55v1.55h-1.55zM161.7 106.0h1.55v1.55h-1.55zM69.7 56.4h1.55v1.55h-1.55zM123.9 89.1h1.55v1.55h-1.55zM112.1 78.1h1.55v1.55h-1.55zM28.5 41.2h1.55v1.55h-1.55zM160.7 107.6h1.55v1.55h-1.55zM148.7 103.8h1.55v1.55h-1.55zM104.5 74.6h1.55v1.55h-1.55zM131.9 95.5h1.55v1.55h-1.55zM42.6 47.9h1.55v1.55h-1.55zM177.2 108.8h1.55v1.55h-1.55zM167.5 105.3h1.55v1.55h-1.55zM188.7 115.4h1.55v1.55h-1.55zM168.9 110.1h1.55v1.55h-1.55zM58.9 48.3h1.55v1.55h-1.55zM92.6 20.0h1.55v1.55h-1.55zM180.1 104.0h1.55v1.55h-1.55zM63.5 54.7h1.55v1.55h-1.55zM96.4 69.8h1.55v1.55h-1.55zM59.0 53.3h1.55v1.55h-1.55zM66.5 55.0h1.55v1.55h-1.55zM40.5 48.2h1.55v1.55h-1.55zM182.9 99.0h1.55v1.55h-1.55zM126.3 63.3h1.55v1.55h-1.55zM180.7 115.3h1.55v1.55h-1.55zM29.9 41.8h1.55v1.55h-1.55zM111.9 27.7h1.55v1.55h-1.55zM26.4 31.6h1.55v1.55h-1.55zM155.9 104.9h1.55v1.55h-1.55zM151.6 86.8h1.55v1.55h-1.55zM37.6 39.8h1.55v1.55h-1.55zM101.9 63.7h1.55v1.55h-1.55zM47.1 43.2h1.55v1.55h-1.55zM23.9 40.3h1.55v1.55h-1.55zM94.9 68.3h1.55v1.55h-1.55zM95.0 70.1h1.55v1.55h-1.55zM190.2 111.1h1.55v1.55h-1.55zM106.1 76.8h1.55v1.55h-1.55zM172.3 167.7h1.55v1.55h-1.55zM180.2 164.5h1.55v1.55h-1.55zM171.5 169.9h1.55v1.55h-1.55zM128.1 161.3h1.55v1.55h-1.55zM162.5 169.5h1.55v1.55h-1.55zM157.4 170.4h1.55v1.55h-1.55zM175.1 188.3h1.55v1.55h-1.55zM159.9 167.5h1.55v1.55h-1.55zM162.1 168.6h1.55v1.55h-1.55zM161.3 180.4h1.55v1.55h-1.55zM55.7 134.6h1.55v1.55h-1.55zM161.3 169.6h1.55v1.55h-1.55zM140.6 171.2h1.55v1.55h-1.55zM181.9 166.7h1.55v1.55h-1.55zM166.3 181.6h1.55v1.55h-1.55z" fill="#b0c4de"/>
<path d="M184.0 141.6h1.2v1.2h-1.2zM188.6 142.2h1.2v1.2h-1.2zM188.1 141.6h1.2v1.2h-1.2zM175.1 133.2h1.2v1.2h-1.2zM163.1 153.4h1.2v1.2h-1.2zM174.1 148.0h1.2v1.2h-1.2zM174.7 148.0h1.2v1.2h-1.2zM176.2 136.1h1.2v1.2h-1.2zM169.7 145.8h1.2v1.2h-1.2zM164.7 154.4h1.2v1.2h-1.2zM161.7 142.4h1.2v1.2h-1.2zM187.2 147.4h1.2v1.2h-1.2zM164.4 130.4h1.2v1.2h-1.2zM182.0 142.4h1.2v1.2h-1.2zM162.9 130.2h1.2v1.2h-1.2zM180.7 135.8h1.2v1.2h-1.2zM168.9 153.7h1.2v1.2h-1.2zM167.7 151.5h1.2v1.2h-1.2zM160.6 131.4h1.2v1.2h-1.2zM161.4 147.1h1.2v1.2h-1.2zM177.6 148.9h1.2v1.2h-1.2zM185.4 147.4h1.2v1.2h-1.2zM163.2 139.9h1.2v1.2h-1.2zM160.9 148.8h1.2v1.2h-1.2zM171.6 141.6h1.2v1.2h-1.2zM187.8 151.5h1.2v1.2h-1.2zM178.8 141.8h1.2v1.2h-1.2zM187.2 149.2h1.2v1.2h-1.2zM166.6 140.8h1.2v1.2h-1.2zM189.6 151.1h1.2v1.2h-1.2zM188.5 143.2h1.2v1.2h-1.2zM164.9 153.0h1.2v1.2h-1.2zM166.3 144.9h1.2v1.2h-1.2zM172.0 150.8h1.2v1.2h-1.2zM171.3 139.5h1.2v1.2h-1.2zM186.4 147.4h1.2v1.2h-1.2zM191.1 137.2h1.2v1.2h-1.2zM163.9 146.5h1.2v1.2h-1.2zM175.4 151.5h1.2v1.2h-1.2zM174.4 133.0h1.2v1.2h-1.2zM174.8 137.6h1.2v1.2h-1.2zM184.9 148.9h1.2v1.2h-1.2zM186.9 137.1h1.2v1.2h-1.2zM177.5 137.8h1.2v1.2h-1.2zM190.5 137.7h1.2v1.2h-1.2zM180.2 148.0h1.2v1.2h-1.2zM166.1 144.3h1.2v1.2h-1.2zM163.6 128.5h1.2v1.2h-1.2zM168.7 131.3h1.2v1.2h-1.2zM173.6 146.8h1.2v1.2h-1.2zM188.8 139.5h1.2v1.2h-1.2zM174.8 147.2h1.2v1.2h-1.2zM169.7 137.5h1.2v1.2h-1.2zM171.4 150.6h1.2v1.2h-1.2zM171.2 149.0h1.2v1.2h-1.2zM164.4 136.2h1.2v1.2h-1.2zM168.9 135.2h1.2v1.2h-1.2zM164.8 138.8h1.2v1.2h-1.2zM185.4 146.4h1.2v1.2h-1.2zM191.0 140.3h1.2v1.2h-1.2zM169.4 135.7h1.2v1.2h-1.2zM175.3 135.2h1.2v1.2h-1.2zM185.0 142.4h1.2v1.2h-1.2zM161.1 140.4h1.2v1.2h-1.2zM173.3 135.8h1.2v1.2h-1.2zM169.3 146.7h1.2v1.2h-1.2zM191.1 144.9h1.2v1.2h-1.2zM167.9 129.7h1.2v1.2h-1.2zM170.0 135.8h1.2v1.2h-1.2zM173.1 141.5h1.2v1.2h-1.2zM168.6 133.5h1.2v1.2h-1.2zM189.0 150.6h1.2v1.2h-1.2zM182.6 151.3h1.2v1.2h-1.2zM177.6 148.4h1.2v1.2h-1.2zM173.7 146.5h1.2v1.2h-1.2zM186.4 147.0h1.2v1.2h-1.2zM184.8 145.6h1.2v1.2h-1.2zM170.6 149.9h1.2v1.2h-1.2zM188.0 139.1h1.2v1.2h-1.2zM165.0 127.8h1.2v1.2h-1.2zM167.5 133.6h1.2v1.2h-1.2zM166.1 132.7h1.2v1.2h-1.2zM169.8 134.0h1.2v1.2h-1.2zM190.0 136.4h1.2v1.2h-1.2zM160.2 152.2h1.2v1.2h-1.2zM171.8 148.5h1.2v1.2h-1.2zM169.8 130.1h1.2v1.2h-1.2zM161.0 152.5h1.2v1.2h-1.2zM161.4 138.8h1.2v1.2h-1.2zM168.1 146.0h1.2v1.2h-1.2zM171.6 149.9h1.2v1.2h-1.2zM166.5 143.1h1.2v1.2h-1.2zM190.6 143.8h1.2v1.2h-1.2zM189.7 136.1h1.2v1.2h-1.2zM187.4 141.7h1.2v1.2h-1.2zM191.1 146.4h1.2v1.2h-1.2zM167.8 149.3h1.2v1.2h-1.2zM165.1 142.7h1.2v1.2h-1.2zM183.1 138.2h1.2v1.2h-1.2zM161.6 150.3h1.2v1.2h-1.2zM165.7 149.3h1.2v1.2h-1.2zM174.6 136.4h1.2v1.2h-1.2zM186.8 141.5h1.2v1.2h-1.2zM168.1 152.7h1.2v1.2h-1.2zM190.8 140.6h1.2v1.2h-1.2zM190.4 137.1h1.2v1.2h-1.2zM184.7 145.2h1.2v1.2h-1.2zM167.5 139.4h1.2v1.2h-1.2zM169.8 146.7h1.2v1.2h-1.2zM173.1 141.0h1.2v1.2h-1.2zM180.7 141.4h1.2v1.2h-1.2zM162.4 140.6h1.2v1.2h-1.2zM187.0 139.3h1.2v1.2h-1.2zM168.3 153.1h1.2v1.2h-1.2zM164.9 154.9h1.2v1.2h-1.2zM169.3 134.9h1.2v1.2h-1.2zM182.5 150.7h1.2v1.2h-1.2zM174.5 138.0h1.2v1.2h-1.2zM163.9 127.3h1.2v1.2h-1.2zM181.9 148.2h1.2v1.2h-1.2zM169.7 141.7h1.2v1.2h-1.2zM183.8 147.2h1.2v1.2h-1.2zM181.2 151.4h1.2v1.2h-1.2zM167.4 154.9h1.2v1.2h-1.2zM179.5 140.8h1.2v1.2h-1.2zM181.2 140.6h1.2v1.2h-1.2zM172.7 150.1h1.2v1.2h-1.2zM185.1 145.4h1.2v1.2h-1.2zM185.1 149.9h1.2v1.2h-1.2zM172.0 132.5h1.2v1.2h-1.2zM189.3 136.3h1.2v1.2h-1.2zM173.8 133.9h1.2v1.2h-1.2zM176.7 149.1h1.2v1.2h-1.2zM160.9 140.1h1.2v1.2h-1.2zM172.5 146.6h1.2v1.2h-1.2zM188.0 146.3h1.2v1.2h-1.2zM161.7 136.3h1.2v1.2h-1.2zM174.4 135.6h1.2v1.2h-1.2zM186.8 141.3h1.2v1.2h-1.2zM171.1 135.5h1.2v1.2h-1.2zM176.7 149.7h1.2v1.2h-1.2zM163.3 141.1h1.2v1.2h-1.2zM169.1 131.0h1.2v1.2h-1.2zM172.3 145.8h1.2v1.2h-1.2zM179.1 153.1h1.2v1.2h-1.2zM181.9 151.5h1.2v1.2h-1.2zM182.6 147.1h1.2v1.2h-1.2zM188.0 149.4h1.2v1.2h-1.2zM183.5 140.9h1.2v1.2h-1.2zM168.7 151.8h1.2v1.2h-1.2zM160.6 136.9h1.2v1.2h-1.2zM186.1 140.2h1.2v1.2h-1.2zM175.4 140.0h1.2v1.2h-1.2zM179.9 150.0h1.2v1.2h-1.2zM161.7 137.9h1.2v1.2h-1.2zM186.7 142.2h1.2v1.2h-1.2zM190.5 139.6h1.2v1.2h-1.2zM175.6 136.4h1.2v1.2h-1.2zM187.1 143.2h1.2v1.2h-1.2zM185.7 146.8h1.2v1.2h-1.2zM168.1 151.6h1.2v1.2h-1.2zM161.9 152.9h1.2v1.2h-1.2zM184.4 139.5h1.2v1.2h-1.2zM177.9 140.8h1.2v1.2h-1.2zM174.5 152.8h1.2v1.2h-1.2zM174.0 144.7h1.2v1.2h-1.2zM161.2 127.5h1.2v1.2h-1.2zM174.8 141.4h1.2v1.2h-1.2zM189.1 144.5h1.2v1.2h-1.2zM187.7 144.7h1.2v1.2h-1.2zM189.0 140.5h1.2v1.2h-1.2zM160.6 147.4h1.2v1.2h-1.2zM180.4 138.8h1.2v1.2h-1.2zM166.6 141.3h1.2v1.2h-1.2zM188.0 146.2h1.2v1.2h-1.2zM173.4 144.4h1.2v1.2h-1.2zM170.7 139.8h1.2v1.2h-1.2zM165.6 147.5h1.2v1.2h-1.2zM160.6 140.8h1.2v1.2h-1.2zM162.6 130.6h1.2v1.2h-1.2zM183.6 150.0h1.2v1.2h-1.2zM175.8 152.9h1.2v1.2h-1.2zM182.1 144.7h1.2v1.2h-1.2zM178.9 134.9h1.2v1.2h-1.2zM162.9 148.1h1.2v1.2h-1.2zM171.6 153.7h1.2v1.2h-1.2zM167.9 136.4h1.2v1.2h-1.2zM166.5 153.9h1.2v1.2h-1.2zM177.0 138.7h1.2v1.2h-1.2zM161.8 143.0h1.2v1.2h-1.2zM160.3 150.5h1.2v1.2h-1.2zM164.8 149.3h1.2v1.2h-1.2zM186.9 140.1h1.2v1.2h-1.2zM178.2 147.4h1.2v1.2h-1.2zM174.1 141.0h1.2v1.2h-1.2zM187.6 139.5h1.2v1.2h-1.2zM177.6 134.1h1.2v1.2h-1.2zM177.7 152.8h1.2v1.2h-1.2zM172.2 148.1h1.2v1.2h-1.2zM170.1 139.3h1.2v1.2h-1.2zM172.2 151.5h1.2v1.2h-1.2zM170.0 130.9h1.2v1.2h-1.2zM177.0 145.2h1.2v1.2h-1.2zM178.8 143.4h1.2v1.2h-1.2zM169.1 147.9h1.2v1.2h-1.2zM167.6 135.8h1.2v1.2h-1.2zM165.4 129.5h1.2v1.2h-1.2zM166.3 146.9h1.2v1.2h-1.2zM172.3 141.6h1.2v1.2h-1.2zM167.1 135.5h1.2v1.2h-1.2zM181.4 151.7h1.2v1.2h-1.2zM164.2 147.0h1.2v1.2h-1.2zM190.0 144.0h1.2v1.2h-1.2zM187.9 138.3h1.2v1.2h-1.2zM184.4 137.2h1.2v1.2h-1.2zM166.6 131.0h1.2v1.2h-1.2zM159.9 147.3h1.2v1.2h-1.2zM170.8 139.1h1.2v1.2h-1.2zM182.8 139.7h1.2v1.2h-1.2zM186.8 138.4h1.2v1.2h-1.2zM190.4 149.2h1.2v1.2h-1.2zM175.5 152.4h1.2v1.2h-1.2zM186.3 151.1h1.2v1.2h-1.2zM169.1 140.1h1.2v1.2h-1.2zM169.3 140.9h1.2v1.2h-1.2zM177.2 150.7h1.2v1.2h-1.2zM170.1 143.8h1.2v1.2h-1.2zM168.5 140.8h1.2v1.2h-1.2zM161.4 141.6h1.2v1.2h-1.2zM179.2 145.7h1.2v1.2h-1.2zM187.1 143.9h1.2v1.2h-1.2zM168.5 154.0h1.2v1.2h-1.2zM172.4 135.4h1.2v1.2h-1.2zM175.8 147.5h1.2v1.2h-1.2zM168.2 135.2h1.2v1.2h-1.2zM162.5 142.5h1.2v1.2h-1.2zM171.6 149.6h1.2v1.2h-1.2zM164.8 145.0h1.2v1.2h-1.2zM164.5 133.1h1.2v1.2h-1.2zM163.4 145.4h1.2v1.2h-1.2zM182.8 142.8h1.2v1.2h-1.2zM185.7 148.7h1.2v1.2h-1.2zM187.0 145.9h1.2v1.2h-1.2zM173.9 141.0h1.2v1.2h-1.2zM184.8 140.3h1.2v1.2h-1.2zM167.5 155.5h1.2v1.2h-1.2zM189.2 145.9h1.2v1.2h-1.2zM185.9 136.2h1.2v1.2h-1.2zM184.1 145.4h1.2v1.2h-1.2zM169.1 136.6h1.2v1.2h-1.2zM181.1 151.3h1.2v1.2h-1.2zM183.2 136.1h1.2v1.2h-1.2zM178.2 140.7h1.2v1.2h-1.2zM166.9 130.0h1.2v1.2h-1.2zM178.0 139.3h1.2v1.2h-1.2zM170.4 142.4h1.2v1.2h-1.2zM188.0 139.8h1.2v1.2h-1.2zM177.9 146.6h1.2v1.2h-1.2zM183.5 149.8h1.2v1.2h-1.2zM166.9 152.0h1.2v1.2h-1.2zM93.5 95.2h1.2v1.2h-1.2zM108.5 106.3h1.2v1.2h-1.2zM99.7 100.1h1.2v1.2h-1.2zM107.7 99.4h1.2v1.2h-1.2zM108.8 106.0h1.2v1.2h-1.2zM95.0 95.0h1.2v1.2h-1.2zM101.6 103.1h1.2v1.2h-1.2zM113.5 103.2h1.2v1.2h-1.2zM100.8 96.5h1.2v1.2h-1.2zM93.0 93.1h1.2v1.2h-1.2zM113.0 108.5h1.2v1.2h-1.2zM96.3 98.0h1.2v1.2h-1.2zM106.3 101.8h1.2v1.2h-1.2zM111.0 101.3h1.2v1.2h-1.2zM98.0 95.0h1.2v1.2h-1.2zM112.4 107.4h1.2v1.2h-1.2zM102.0 96.8h1.2v1.2h-1.2zM111.1 106.6h1.2v1.2h-1.2zM111.5 108.0h1.2v1.2h-1.2zM106.9 102.4h1.2v1.2h-1.2zM110.0 101.2h1.2v1.2h-1.2zM110.8 102.9h1.2v1.2h-1.2zM101.8 102.7h1.2v1.2h-1.2zM92.0 93.5h1.2v1.2h-1.2zM110.3 103.3h1.2v1.2h-1.2zM112.3 106.7h1.2v1.2h-1.2zM97.0 97.3h1.2v1.2h-1.2zM99.9 100.1h1.2v1.2h-1.2zM108.0 103.0h1.2v1.2h-1.2zM93.5 98.3h1.2v1.2h-1.2zM95.9 97.8h1.2v1.2h-1.2zM110.5 103.9h1.2v1.2h-1.2zM92.9 95.6h1.2v1.2h-1.2zM94.1 93.3h1.2v1.2h-1.2zM96.5 94.6h1.2v1.2h-1.2zM104.9 103.4h1.2v1.2h-1.2zM101.8 103.3h1.2v1.2h-1.2zM93.5 94.2h1.2v1.2h-1.2zM99.1 98.8h1.2v1.2h-1.2zM107.0 100.8h1.2v1.2h-1.2zM101.5 98.8h1.2v1.2h-1.2zM99.5 95.3h1.2v1.2h-1.2zM108.8 99.8h1.2v1.2h-1.2zM101.4 97.6h1.2v1.2h-1.2zM101.3 101.1h1.2v1.2h-1.2zM109.9 106.7h1.2v1.2h-1.2zM106.0 100.4h1.2v1.2h-1.2zM92.0 92.1h1.2v1.2h-1.2zM111.9 103.9h1.2v1.2h-1.2zM100.4 98.0h1.2v1.2h-1.2zM99.4 96.3h1.2v1.2h-1.2zM98.2 97.8h1.2v1.2h-1.2zM102.2 96.7h1.2v1.2h-1.2zM94.3 92.4h1.2v1.2h-1.2zM102.4 101.3h1.2v1.2h-1.2zM111.8 104.0h1.2v1.2h-1.2zM105.5 104.0h1.2v1.2h-1.2zM104.0 101.3h1.2v1.2h-1.2zM95.2 97.8h1.2v1.2h-1.2zM108.3 101.7h1.2v1.2h-1.2z" fill="#ffffff" fill-opacity="0.85"/>
<polygon points="17.6,0.0 20.9,0.0 21.3,12.6 21.6,25.3 22.0,35.4 23.5,41.7 26.2,46.8 30.3,51.8 34.7,56.3 39.1,59.4 43.6,62.6 47.8,65.7 52.3,69.5 58.6,70.8 58.9,82.2 58.9,122.6 57.9,126.4 56.5,123.9 55.1,129.0 53.4,122.6 50.6,120.1 47.1,119.5 41.8,117.6 34.9,115.1 27.9,117.6 25.5,122.6 24.4,129.0 22.7,129.6 21.3,123.9 20.1,121.4 18.3,113.8 17.4,94.8 17.3,63.2 17.4,31.6 17.6,0.0" fill="#4682b4"/>
<path d="M50.4 69.8h1.5v1.5h-1.5zM38.2 61.8h1.5v1.5h-1.5zM47.9 69.4h1.5v1.5h-1.5zM41.4 70.0h1.5v1.5h-1.5zM51.2 71.2h1.5v1.5h-1.5zM37.4 64.8h1.5v1.5h-1.5zM56.1 76.5h1.5v1.5h-1.5zM50.9 77.4h1.5v1.5h-1.5zM51.1 69.6h1.5v1.5h-1.5zM46.2 68.1h1.5v1.5h-1.5zM48.6 67.8h1.5v1.5h-1.5zM49.6 73.9h1.5v1.5h-1.5zM41.8 67.1h1.5v1.5h-1.5zM43.4 68.7h1.5v1.5h-1.5zM46.1 73.4h1.5v1.5h-1.5zM46.1 64.7h1.5v1.5h-1.5zM37.4 64.5h1.5v1.5h-1.5zM37.9 65.6h1.5v1.5h-1.5zM46.7 68.1h1.5v1.5h-1.5zM44.8 71.3h1.5v1.5h-1.5zM47.7 69.5h1.5v1.5h-1.5zM46.2 69.9h1.5v1.5h-1.5zM27.8 60.1h1.5v1.5h-1.5zM27.1 52.6h1.5v1.5h-1.5zM22.8 48.2h1.5v1.5h-1.5zM23.7 45.9h1.5v1.5h-1.5zM23.6 48.2h1.5v1.5h-1.5zM34.5 64.0h1.5v1.5h-1.5zM25.1 53.0h1.5v1.5h-1.5zM27.8 49.8h1.5v1.5h-1.5zM33.0 62.6h1.5v1.5h-1.5zM35.7 66.8h1.5v1.5h-1.5z" fill="#b0c4de"/>
<rect x="33.5" y="44.3" width="1.4" height="8.2" fill="#4682b4"/>
<rect x="45.7" y="58.2" width="1.4" height="10.1" fill="#4682b4"/>
<rect x="62.0" y="73.3" width="1.6" height="8.9" fill="#4682b4"/>
<rect x="58.5" y="96.1" width="1.6" height="24.0" fill="#4682b4"/>
<rect x="59.7" y="98.6" width="1.6" height="22.8" fill="#4682b4"/>
<rect x="61.0" y="96.1" width="1.8" height="22.8" fill="#4682b4"/>
<rect x="62.8" y="101.1" width="1.6" height="19.0" fill="#4682b4"/>
<rect x="64.2" y="104.3" width="1.4" height="13.3" fill="#4682b4"/>
<rect x="65.4" y="78.4" width="1.8" height="14.5" fill="#4682b4"/>
<rect x="68.1" y="66.4" width="1.6" height="7.6" fill="#4682b4"/>
<rect x="68.8" y="99.9" width="1.8" height="15.2" fill="#4682b4"/>
<rect x="73.0" y="88.5" width="1.6" height="5.1" fill="#4682b4"/>
<rect x="75.1" y="110.6" width="3.6" height="5.7" fill="#4682b4"/>
<rect x="80.0" y="110.6" width="2.6" height="27.2" fill="#4682b4"/>
<rect x="79.9" y="72.1" width="1.6" height="1.9" fill="#4682b4"/>
<rect x="68.6" y="132.1" width="1.6" height="1.9" fill="#4682b4"/>
<rect x="87.9" y="136.5" width="1.4" height="1.9" fill="#4682b4"/>
<rect x="59.2" y="72.7" width="1.6" height="15.8" fill="#4682b4"/>
<rect x="60.3" y="68.3" width="1.5" height="7.6" fill="#4682b4"/>
<rect x="65.0" y="65.1" width="1.4" height="8.9" fill="#4682b4"/>
<rect x="116.1" y="132.8" width="1.5" height="3.8" fill="#4682b4"/>
<rect x="142.4" y="127.1" width="1.5" height="5.7" fill="#4682b4"/>
<rect x="160.7" y="137.2" width="1.5" height="5.1" fill="#4682b4"/>
<rect x="121.4" y="134.0" width="1.4" height="1.3" fill="#4682b4"/>
<rect x="66.8" y="101.1" width="1.4" height="9.5" fill="#4682b4"/>
<rect x="71.1" y="82.2" width="1.4" height="6.3" fill="#4682b4"/>
<circle cx="83.69" cy="139.08" r="1.5" fill="#000"/>
</g>
<rect x="157.8" y="2.3" width="31.5" height="17" fill="#fff" stroke="#ddd" stroke-width="0.5" rx="1"/>
<rect x="159.2" y="4.5" width="12.4" height="4.6" fill="#b0c4de"/>
<rect x="159.2" y="12.1" width="12.4" height="4.6" fill="#4682b4"/>
<text x="173.3" y="8.9" font-size="5.2" font-family='"Liberation Sans", sans-serif'>X-ray</text>
<text x="173.8" y="16.5" font-size="5.2" font-family='"Liberation Sans", sans-serif'>NMR</text>
<rect x="0" y="0" width="191.80" height="189.65" fill="none" stroke="#858585" stroke-width="0.85"/>
<line x1="-2" y1="0.00" x2="0" y2="0.00" stroke="#444" stroke-width="0.5"/>
<text x="-3.8" y="1.90" font-size="5.3" text-anchor="end" font-family='"Liberation Sans", sans-serif' fill="#222">10</text>
<line x1="-2" y1="31.61" x2="0" y2="31.61" stroke="#444" stroke-width="0.5"/>
<text x="-3.8" y="33.51" font-size="5.3" text-anchor="end" font-family='"Liberation Sans", sans-serif' fill="#222">5</text>
<line x1="-2" y1="63.22" x2="0" y2="63.22" stroke="#444" stroke-width="0.5"/>
<text x="-3.8" y="65.12" font-size="5.3" text-anchor="end" font-family='"Liberation Sans", sans-serif' fill="#222">0</text>
<line x1="-2" y1="94.83" x2="0" y2="94.83" stroke="#444" stroke-width="0.5"/>
<text x="-3.8" y="96.73" font-size="5.3" text-anchor="end" font-family='"Liberation Sans", sans-serif' fill="#222">−5</text>
<line x1="-2" y1="126.43" x2="0" y2="126.43" stroke="#444" stroke-width="0.5"/>
<text x="-3.8" y="128.33" font-size="5.3" text-anchor="end" font-family='"Liberation Sans", sans-serif' fill="#222">−10</text>
<line x1="-2" y1="158.04" x2="0" y2="158.04" stroke="#444" stroke-width="0.5"/>
<text x="-3.8" y="159.94" font-size="5.3" text-anchor="end" font-family='"Liberation Sans", sans-serif' fill="#222">−15</text>
<line x1="-2" y1="189.65" x2="0" y2="189.65" stroke="#444" stroke-width="0.5"/>
<text x="-3.8" y="191.55" font-size="5.3" text-anchor="end" font-family='"Liberation Sans", sans-serif' fill="#222">−20</text>
<line x1="17.44" y1="189.65" x2="17.44" y2="191.65" stroke="#444" stroke-width="0.5"/>
<text x="17.44" y="197.85" font-size="5.3" text-anchor="middle" font-family='"Liberation Sans", sans-serif' fill="#222">0</text>
<line x1="52.31" y1="189.65" x2="52.31" y2="191.65" stroke="#444" stroke-width="0.5"/>
<text x="52.31" y="197.85" font-size="5.3" text-anchor="middle" font-family='"Liberation Sans", sans-serif' fill="#222">200</text>
<line x1="87.18" y1="189.65" x2="87.18" y2="191.65" stroke="#444" stroke-width="0.5"/>
<text x="87.18" y="197.85" font-size="5.3" text-anchor="middle" font-family='"Liberation Sans", sans-serif' fill="#222">400</text>
<line x1="122.05" y1="189.65" x2="122.05" y2="191.65" stroke="#444" stroke-width="0.5"/>
<text x="122.05" y="197.85" font-size="5.3" text-anchor="middle" font-family='"Liberation Sans", sans-serif' fill="#222">600</text>
<line x1="156.93" y1="189.65" x2="156.93" y2="191.65" stroke="#444" stroke-width="0.5"/>
<text x="156.93" y="197.85" font-size="5.3" text-anchor="middle" font-family='"Liberation Sans", sans-serif' fill="#222">800</text>
<line x1="191.80" y1="189.65" x2="191.80" y2="191.65" stroke="#444" stroke-width="0.5"/>
<text x="191.80" y="197.85" font-size="5.3" text-anchor="middle" font-family='"Liberation Sans", sans-serif' fill="#222">1000</text>
<text x="95.50" y="205.05" font-size="5.45" text-anchor="middle" font-family='"Liberation Sans", sans-serif' fill="#222">Number of residues</text>
<text transform="translate(-17.9,95.83) rotate(-90)" font-size="5.6" text-anchor="middle" font-family='"Liberation Sans", sans-serif' fill="#222">Z-score</text>
</g>
<g transform="translate(271.20,442.90)">
<defs><clipPath id="cp4"><rect x="0" y="0" width="189.80" height="189.40"/></clipPath></defs>
<g clip-path="url(#cp4)">
<polygon points="20.7,50.5 34.5,60.0 47.3,65.0 57.6,65.7 62.1,69.4 67.3,74.5 72.1,79.5 76.8,84.0 81.4,87.1 91.8,91.5 106.3,99.1 120.8,106.1 135.1,114.9 149.6,121.2 164.1,128.2 171.3,131.3 178.6,135.7 189.8,135.7 189.8,151.5 178.6,153.4 171.3,154.7 164.1,156.6 149.6,151.5 135.1,152.8 120.8,150.3 106.3,147.7 91.8,145.2 79.2,144.6 70.6,142.7 64.9,135.7 57.6,131.9 50.4,128.8 43.1,124.4 35.9,120.0 24.3,116.2 20.7,114.9" fill="#b0c4de"/>
<path d="M59.8 67.2h1.55v1.55h-1.55zM86.9 88.3h1.55v1.55h-1.55zM31.2 55.3h1.55v1.55h-1.55zM175.1 122.1h1.55v1.55h-1.55zM57.5 62.0h1.55v1.55h-1.55zM66.7 73.3h1.55v1.55h-1.55zM37.9 60.2h1.55v1.55h-1.55zM176.8 121.7h1.55v1.55h-1.55zM72.3 71.6h1.55v1.55h-1.55zM143.7 105.6h1.55v1.55h-1.55zM34.6 55.0h1.55v1.55h-1.55zM133.5 112.9h1.55v1.55h-1.55zM178.0 128.5h1.55v1.55h-1.55zM70.7 63.0h1.55v1.55h-1.55zM116.7 92.5h1.55v1.55h-1.55zM105.9 91.8h1.55v1.55h-1.55zM92.8 90.9h1.55v1.55h-1.55zM71.5 66.3h1.55v1.55h-1.55zM27.2 54.7h1.55v1.55h-1.55zM110.3 98.3h1.55v1.55h-1.55zM89.7 89.0h1.55v1.55h-1.55zM80.1 73.4h1.55v1.55h-1.55zM74.1 74.6h1.55v1.55h-1.55zM30.3 56.1h1.55v1.55h-1.55zM149.3 119.5h1.55v1.55h-1.55zM75.9 82.2h1.55v1.55h-1.55zM97.5 94.1h1.55v1.55h-1.55zM137.8 100.4h1.55v1.55h-1.55zM144.2 118.4h1.55v1.55h-1.55zM68.8 60.5h1.55v1.55h-1.55zM151.0 107.8h1.55v1.55h-1.55zM124.9 106.6h1.55v1.55h-1.55zM52.3 62.2h1.55v1.55h-1.55zM43.0 61.1h1.55v1.55h-1.55zM21.5 50.8h1.55v1.55h-1.55zM48.6 57.5h1.55v1.55h-1.55zM81.3 84.3h1.55v1.55h-1.55zM36.3 49.8h1.55v1.55h-1.55zM91.6 89.9h1.55v1.55h-1.55zM30.0 56.6h1.55v1.55h-1.55zM48.4 59.1h1.55v1.55h-1.55zM45.2 63.7h1.55v1.55h-1.55zM109.4 96.9h1.55v1.55h-1.55zM186.9 133.5h1.55v1.55h-1.55zM89.4 90.0h1.55v1.55h-1.55zM91.2 89.1h1.55v1.55h-1.55zM170.3 125.7h1.55v1.55h-1.55zM25.3 52.4h1.55v1.55h-1.55zM60.9 67.6h1.55v1.55h-1.55zM59.1 58.1h1.55v1.55h-1.55zM43.9 63.2h1.55v1.55h-1.55zM176.9 116.0h1.55v1.55h-1.55zM88.1 72.1h1.55v1.55h-1.55zM130.5 102.1h1.55v1.55h-1.55zM55.6 56.8h1.55v1.55h-1.55zM172.1 129.0h1.55v1.55h-1.55zM131.0 104.7h1.55v1.55h-1.55zM157.7 117.4h1.55v1.55h-1.55zM176.0 133.7h1.55v1.55h-1.55zM184.1 125.8h1.55v1.55h-1.55zM27.5 46.0h1.55v1.55h-1.55zM41.5 52.9h1.55v1.55h-1.55zM48.2 59.6h1.55v1.55h-1.55zM116.2 90.2h1.55v1.55h-1.55zM56.9 64.9h1.55v1.55h-1.55zM156.9 112.0h1.55v1.55h-1.55zM113.0 101.1h1.55v1.55h-1.55zM170.7 126.3h1.55v1.55h-1.55zM25.7 49.3h1.55v1.55h-1.55zM102.6 89.5h1.55v1.55h-1.55zM43.4 61.4h1.55v1.55h-1.55zM149.7 120.9h1.55v1.55h-1.55zM161.6 126.4h1.55v1.55h-1.55zM111.8 91.0h1.55v1.55h-1.55zM72.5 78.5h1.55v1.55h-1.55zM102.2 96.4h1.55v1.55h-1.55zM39.3 57.0h1.55v1.55h-1.55zM169.6 126.4h1.55v1.55h-1.55zM165.0 128.0h1.55v1.55h-1.55zM71.0 65.3h1.55v1.55h-1.55zM91.4 77.1h1.55v1.55h-1.55zM48.2 55.9h1.55v1.55h-1.55zM49.7 64.1h1.55v1.55h-1.55zM111.6 92.6h1.55v1.55h-1.55zM20.9 48.9h1.55v1.55h-1.55zM112.1 92.8h1.55v1.55h-1.55zM61.4 59.7h1.55v1.55h-1.55zM80.3 72.9h1.55v1.55h-1.55zM186.6 125.6h1.55v1.55h-1.55zM174.3 117.7h1.55v1.55h-1.55zM71.6 64.7h1.55v1.55h-1.55zM153.0 118.9h1.55v1.55h-1.55zM43.7 56.8h1.55v1.55h-1.55zM81.2 76.4h1.55v1.55h-1.55zM42.5 62.5h1.55v1.55h-1.55zM44.3 56.4h1.55v1.55h-1.55zM50.0 55.7h1.55v1.55h-1.55zM82.8 79.4h1.55v1.55h-1.55zM79.2 76.4h1.55v1.55h-1.55zM35.7 57.9h1.55v1.55h-1.55zM70.8 78.1h1.55v1.55h-1.55zM23.3 41.3h1.55v1.55h-1.55zM160.2 115.3h1.55v1.55h-1.55zM118.7 99.2h1.55v1.55h-1.55zM178.5 117.1h1.55v1.55h-1.55zM39.7 56.8h1.55v1.55h-1.55zM134.1 106.9h1.55v1.55h-1.55zM176.8 126.9h1.55v1.55h-1.55zM171.6 129.1h1.55v1.55h-1.55zM58.9 65.1h1.55v1.55h-1.55zM125.9 96.1h1.55v1.55h-1.55zM87.6 85.3h1.55v1.55h-1.55zM89.5 90.1h1.55v1.55h-1.55zM51.0 61.1h1.55v1.55h-1.55zM137.2 112.6h1.55v1.55h-1.55zM180.7 134.3h1.55v1.55h-1.55zM31.4 47.1h1.55v1.55h-1.55zM187.0 127.3h1.55v1.55h-1.55zM72.7 79.8h1.55v1.55h-1.55zM63.5 69.9h1.55v1.55h-1.55zM176.9 122.5h1.55v1.55h-1.55zM45.1 62.9h1.55v1.55h-1.55zM70.5 61.8h1.55v1.55h-1.55zM47.5 57.3h1.55v1.55h-1.55zM135.0 98.7h1.55v1.55h-1.55zM64.3 67.2h1.55v1.55h-1.55zM46.6 64.1h1.55v1.55h-1.55zM25.3 52.0h1.55v1.55h-1.55zM40.5 61.8h1.55v1.55h-1.55zM170.5 121.0h1.55v1.55h-1.55zM130.7 98.9h1.55v1.55h-1.55zM141.6 108.9h1.55v1.55h-1.55zM142.3 113.0h1.55v1.55h-1.55zM46.0 56.2h1.55v1.55h-1.55zM48.3 56.0h1.55v1.55h-1.55zM63.2 68.1h1.55v1.55h-1.55zM135.3 112.3h1.55v1.55h-1.55zM85.3 83.9h1.55v1.55h-1.55zM24.7 43.9h1.55v1.55h-1.55zM23.1 40.9h1.55v1.55h-1.55zM45.7 63.6h1.55v1.55h-1.55zM163.4 126.3h1.55v1.55h-1.55zM113.5 93.5h1.55v1.55h-1.55zM51.2 57.1h1.55v1.55h-1.55zM188.4 118.6h1.55v1.55h-1.55zM178.4 120.9h1.55v1.55h-1.55zM160.9 125.9h1.55v1.55h-1.55zM124.6 106.3h1.55v1.55h-1.55zM129.3 104.6h1.55v1.55h-1.55zM26.2 49.2h1.55v1.55h-1.55zM63.2 60.4h1.55v1.55h-1.55zM171.4 128.6h1.55v1.55h-1.55zM161.0 113.5h1.55v1.55h-1.55zM169.3 121.3h1.55v1.55h-1.55zM122.2 92.1h1.55v1.55h-1.55zM79.6 85.4h1.55v1.55h-1.55zM140.6 111.4h1.55v1.55h-1.55zM53.9 64.6h1.55v1.55h-1.55zM152.1 114.0h1.55v1.55h-1.55zM39.7 51.7h1.55v1.55h-1.55zM159.7 125.7h1.55v1.55h-1.55zM162.6 120.3h1.55v1.55h-1.55zM23.0 45.1h1.55v1.55h-1.55zM25.7 50.7h1.55v1.55h-1.55zM44.4 61.8h1.55v1.55h-1.55zM170.4 118.9h1.55v1.55h-1.55zM70.3 74.5h1.55v1.55h-1.55zM89.6 70.2h1.55v1.55h-1.55zM147.4 118.1h1.55v1.55h-1.55zM136.7 106.3h1.55v1.55h-1.55zM93.9 91.4h1.55v1.55h-1.55zM23.0 42.2h1.55v1.55h-1.55zM147.7 113.3h1.55v1.55h-1.55zM64.5 70.3h1.55v1.55h-1.55zM35.5 59.2h1.55v1.55h-1.55zM177.7 119.5h1.55v1.55h-1.55zM77.5 79.2h1.55v1.55h-1.55zM61.2 59.7h1.55v1.55h-1.55zM39.2 51.6h1.55v1.55h-1.55zM70.1 71.1h1.55v1.55h-1.55zM131.6 112.3h1.55v1.55h-1.55zM54.8 64.7h1.55v1.55h-1.55zM74.8 79.4h1.55v1.55h-1.55zM186.1 131.9h1.55v1.55h-1.55zM56.3 55.5h1.55v1.55h-1.55zM180.8 116.7h1.55v1.55h-1.55zM29.6 47.4h1.55v1.55h-1.55zM139.0 104.1h1.55v1.55h-1.55zM37.6 60.1h1.55v1.55h-1.55zM43.2 60.3h1.55v1.55h-1.55zM112.3 99.0h1.55v1.55h-1.55zM145.7 109.6h1.55v1.55h-1.55zM26.3 53.7h1.55v1.55h-1.55zM57.0 64.2h1.55v1.55h-1.55zM81.4 75.2h1.55v1.55h-1.55zM78.8 64.8h1.55v1.55h-1.55zM55.9 64.8h1.55v1.55h-1.55zM52.2 57.2h1.55v1.55h-1.55zM143.6 113.7h1.55v1.55h-1.55zM26.9 53.2h1.55v1.55h-1.55zM141.5 116.8h1.55v1.55h-1.55zM83.5 82.2h1.55v1.55h-1.55zM80.1 81.0h1.55v1.55h-1.55zM43.0 62.8h1.55v1.55h-1.55zM152.4 119.0h1.55v1.55h-1.55zM39.4 60.3h1.55v1.55h-1.55zM114.3 98.4h1.55v1.55h-1.55zM184.6 134.1h1.55v1.55h-1.55zM123.9 101.7h1.55v1.55h-1.55zM93.8 78.8h1.55v1.55h-1.55zM43.3 62.9h1.55v1.55h-1.55zM50.9 63.4h1.55v1.55h-1.55zM93.5 89.6h1.55v1.55h-1.55zM78.4 74.4h1.55v1.55h-1.55zM112.0 87.3h1.55v1.55h-1.55zM63.6 69.0h1.55v1.55h-1.55zM110.8 98.3h1.55v1.55h-1.55zM169.3 113.8h1.55v1.55h-1.55zM44.2 57.8h1.55v1.55h-1.55zM158.6 125.0h1.55v1.55h-1.55zM179.2 127.3h1.55v1.55h-1.55zM29.6 53.5h1.55v1.55h-1.55zM136.8 101.7h1.55v1.55h-1.55zM68.6 72.5h1.55v1.55h-1.55zM20.4 46.1h1.55v1.55h-1.55zM164.3 127.7h1.55v1.55h-1.55zM93.2 91.7h1.55v1.55h-1.55zM91.7 73.6h1.55v1.55h-1.55zM67.9 63.3h1.55v1.55h-1.55zM181.5 133.9h1.55v1.55h-1.55zM175.2 115.3h1.55v1.55h-1.55zM21.7 51.0h1.55v1.55h-1.55zM69.2 71.4h1.55v1.55h-1.55zM91.6 90.8h1.55v1.55h-1.55zM128.2 103.4h1.55v1.55h-1.55zM106.3 90.0h1.55v1.55h-1.55zM30.8 54.7h1.55v1.55h-1.55zM42.8 62.6h1.55v1.55h-1.55zM77.3 82.0h1.55v1.55h-1.55zM149.7 117.6h1.55v1.55h-1.55zM71.4 75.9h1.55v1.55h-1.55zM148.2 115.2h1.55v1.55h-1.55zM61.8 63.8h1.55v1.55h-1.55zM48.8 61.5h1.55v1.55h-1.55zM130.1 105.4h1.55v1.55h-1.55zM181.9 124.3h1.55v1.55h-1.55zM181.4 132.3h1.55v1.55h-1.55zM71.3 76.5h1.55v1.55h-1.55zM70.7 75.8h1.55v1.55h-1.55zM55.3 62.0h1.55v1.55h-1.55zM69.3 73.8h1.55v1.55h-1.55zM165.9 126.3h1.55v1.55h-1.55zM36.1 49.4h1.55v1.55h-1.55zM25.5 53.5h1.55v1.55h-1.55zM130.7 110.8h1.55v1.55h-1.55zM61.4 57.3h1.55v1.55h-1.55zM86.5 87.2h1.55v1.55h-1.55zM94.6 81.3h1.55v1.55h-1.55zM69.1 76.2h1.55v1.55h-1.55zM29.3 56.2h1.55v1.55h-1.55zM187.9 124.0h1.55v1.55h-1.55zM114.2 100.3h1.55v1.55h-1.55zM79.0 74.7h1.55v1.55h-1.55zM20.0 47.8h1.55v1.55h-1.55zM148.3 116.0h1.55v1.55h-1.55zM178.3 124.2h1.55v1.55h-1.55zM86.3 88.5h1.55v1.55h-1.55zM85.5 87.1h1.55v1.55h-1.55zM24.5 51.7h1.55v1.55h-1.55zM41.3 59.8h1.55v1.55h-1.55zM144.7 106.1h1.55v1.55h-1.55zM73.7 71.5h1.55v1.55h-1.55zM170.3 116.2h1.55v1.55h-1.55zM37.3 51.5h1.55v1.55h-1.55zM168.9 118.0h1.55v1.55h-1.55zM140.1 107.7h1.55v1.55h-1.55zM168.5 122.6h1.55v1.55h-1.55zM76.6 83.5h1.55v1.55h-1.55zM168.4 121.5h1.55v1.55h-1.55zM60.2 67.1h1.55v1.55h-1.55zM100.9 93.1h1.55v1.55h-1.55zM91.3 86.6h1.55v1.55h-1.55zM138.1 111.5h1.55v1.55h-1.55zM43.8 61.6h1.55v1.55h-1.55zM64.8 64.2h1.55v1.55h-1.55zM115.3 88.4h1.55v1.55h-1.55zM150.7 106.9h1.55v1.55h-1.55zM177.0 131.7h1.55v1.55h-1.55zM105.9 87.5h1.55v1.55h-1.55zM172.1 123.1h1.55v1.55h-1.55zM62.9 64.7h1.55v1.55h-1.55zM51.5 59.8h1.55v1.55h-1.55zM49.7 64.4h1.55v1.55h-1.55zM181.5 132.7h1.55v1.55h-1.55zM27.5 47.4h1.55v1.55h-1.55zM158.1 119.1h1.55v1.55h-1.55zM66.2 73.4h1.55v1.55h-1.55zM30.6 54.6h1.55v1.55h-1.55zM141.9 116.3h1.55v1.55h-1.55zM20.8 49.7h1.55v1.55h-1.55zM22.3 48.1h1.55v1.55h-1.55zM78.9 77.4h1.55v1.55h-1.55zM117.5 91.4h1.55v1.55h-1.55zM77.1 74.8h1.55v1.55h-1.55zM40.0 60.8h1.55v1.55h-1.55zM36.2 51.9h1.55v1.55h-1.55zM77.0 72.7h1.55v1.55h-1.55zM168.3 128.6h1.55v1.55h-1.55zM61.9 65.8h1.55v1.55h-1.55zM85.4 88.2h1.55v1.55h-1.55zM163.7 115.2h1.55v1.55h-1.55zM162.9 116.0h1.55v1.55h-1.55zM138.9 104.7h1.55v1.55h-1.55zM44.3 63.0h1.55v1.55h-1.55zM97.0 79.1h1.55v1.55h-1.55zM109.0 97.3h1.55v1.55h-1.55zM21.2 48.2h1.55v1.55h-1.55zM115.2 101.4h1.55v1.55h-1.55zM176.6 133.6h1.55v1.55h-1.55zM151.6 107.5h1.55v1.55h-1.55zM136.9 109.7h1.55v1.55h-1.55zM130.0 110.6h1.55v1.55h-1.55zM169.5 129.9h1.55v1.55h-1.55zM71.7 78.9h1.55v1.55h-1.55zM97.9 94.1h1.55v1.55h-1.55zM159.8 124.9h1.55v1.55h-1.55zM157.1 123.0h1.55v1.55h-1.55zM87.4 80.9h1.55v1.55h-1.55zM47.4 61.3h1.55v1.55h-1.55zM184.9 134.2h1.55v1.55h-1.55zM25.3 52.7h1.55v1.55h-1.55zM143.2 112.9h1.55v1.55h-1.55zM41.6 61.9h1.55v1.55h-1.55zM81.7 80.4h1.55v1.55h-1.55zM158.7 123.1h1.55v1.55h-1.55zM174.4 122.1h1.55v1.55h-1.55zM156.1 122.6h1.55v1.55h-1.55zM38.9 56.4h1.55v1.55h-1.55zM146.5 106.1h1.55v1.55h-1.55zM105.1 82.0h1.55v1.55h-1.55zM34.4 57.6h1.55v1.55h-1.55zM112.2 95.0h1.55v1.55h-1.55zM46.7 61.1h1.55v1.55h-1.55zM49.7 62.5h1.55v1.55h-1.55zM50.2 63.1h1.55v1.55h-1.55zM125.9 108.3h1.55v1.55h-1.55zM99.2 85.9h1.55v1.55h-1.55zM70.9 76.5h1.55v1.55h-1.55zM93.7 81.7h1.55v1.55h-1.55zM26.1 48.5h1.55v1.55h-1.55zM29.2 47.4h1.55v1.55h-1.55zM52.3 57.2h1.55v1.55h-1.55zM25.7 50.5h1.55v1.55h-1.55zM63.4 62.2h1.55v1.55h-1.55zM28.6 49.6h1.55v1.55h-1.55zM90.8 87.1h1.55v1.55h-1.55zM78.8 81.7h1.55v1.55h-1.55zM117.4 103.7h1.55v1.55h-1.55zM99.6 83.8h1.55v1.55h-1.55zM141.4 113.5h1.55v1.55h-1.55zM81.2 72.5h1.55v1.55h-1.55zM37.3 54.0h1.55v1.55h-1.55zM45.0 59.2h1.55v1.55h-1.55zM106.8 98.8h1.55v1.55h-1.55zM133.5 113.6h1.55v1.55h-1.55zM145.8 119.1h1.55v1.55h-1.55zM88.7 83.8h1.55v1.55h-1.55zM185.8 134.9h1.55v1.55h-1.55zM43.0 60.9h1.55v1.55h-1.55zM155.9 118.5h1.55v1.55h-1.55zM175.7 119.2h1.55v1.55h-1.55zM144.1 104.6h1.55v1.55h-1.55zM48.8 64.4h1.55v1.55h-1.55zM77.6 82.5h1.55v1.55h-1.55zM85.4 88.2h1.55v1.55h-1.55zM123.2 105.9h1.55v1.55h-1.55zM37.1 56.6h1.55v1.55h-1.55zM36.7 52.2h1.55v1.55h-1.55zM66.8 61.4h1.55v1.55h-1.55zM40.9 60.2h1.55v1.55h-1.55zM151.5 118.1h1.55v1.55h-1.55zM163.9 126.0h1.55v1.55h-1.55zM79.1 83.2h1.55v1.55h-1.55zM126.9 104.7h1.55v1.55h-1.55zM129.7 102.8h1.55v1.55h-1.55zM69.9 68.9h1.55v1.55h-1.55zM137.0 112.3h1.55v1.55h-1.55zM109.9 98.2h1.55v1.55h-1.55zM75.1 73.8h1.55v1.55h-1.55zM83.1 71.6h1.55v1.55h-1.55zM78.6 83.6h1.55v1.55h-1.55zM123.0 92.4h1.55v1.55h-1.55zM179.3 130.5h1.55v1.55h-1.55zM130.1 105.3h1.55v1.55h-1.55zM87.8 73.4h1.55v1.55h-1.55zM170.8 120.7h1.55v1.55h-1.55zM37.0 57.5h1.55v1.55h-1.55zM46.7 63.3h1.55v1.55h-1.55zM87.2 85.7h1.55v1.55h-1.55zM106.1 98.0h1.55v1.55h-1.55zM78.5 81.5h1.55v1.55h-1.55zM80.5 78.8h1.55v1.55h-1.55zM114.0 98.9h1.55v1.55h-1.55zM122.9 106.7h1.55v1.55h-1.55zM130.9 99.7h1.55v1.55h-1.55zM42.3 59.3h1.55v1.55h-1.55zM70.6 70.2h1.55v1.55h-1.55zM158.2 119.3h1.55v1.55h-1.55zM188.3 126.6h1.55v1.55h-1.55zM41.9 62.4h1.55v1.55h-1.55zM46.8 60.7h1.55v1.55h-1.55zM60.5 60.2h1.55v1.55h-1.55zM46.1 59.0h1.55v1.55h-1.55zM172.1 116.6h1.55v1.55h-1.55zM159.2 125.4h1.55v1.55h-1.55zM94.1 81.1h1.55v1.55h-1.55zM48.8 64.3h1.55v1.55h-1.55zM145.0 118.6h1.55v1.55h-1.55zM43.0 62.6h1.55v1.55h-1.55zM117.3 103.4h1.55v1.55h-1.55zM128.4 109.9h1.55v1.55h-1.55zM171.6 114.7h1.55v1.55h-1.55zM120.6 98.8h1.55v1.55h-1.55zM29.7 56.4h1.55v1.55h-1.55zM187.7 122.5h1.55v1.55h-1.55zM161.7 118.2h1.55v1.55h-1.55zM111.0 95.4h1.55v1.55h-1.55zM90.2 84.3h1.55v1.55h-1.55zM113.8 98.0h1.55v1.55h-1.55zM115.7 95.7h1.55v1.55h-1.55zM117.9 102.7h1.55v1.55h-1.55zM166.0 119.8h1.55v1.55h-1.55zM65.8 58.6h1.55v1.55h-1.55zM56.5 62.7h1.55v1.55h-1.55zM82.3 70.2h1.55v1.55h-1.55zM61.1 61.4h1.55v1.55h-1.55zM95.4 92.2h1.55v1.55h-1.55zM39.6 55.9h1.55v1.55h-1.55zM131.7 112.3h1.55v1.55h-1.55zM58.8 62.7h1.55v1.55h-1.55zM47.7 57.2h1.55v1.55h-1.55zM48.1 63.4h1.55v1.55h-1.55zM70.4 66.4h1.55v1.55h-1.55zM115.1 91.0h1.55v1.55h-1.55zM86.4 83.7h1.55v1.55h-1.55zM68.4 63.0h1.55v1.55h-1.55zM86.6 70.5h1.55v1.55h-1.55zM31.8 55.3h1.55v1.55h-1.55zM126.2 104.9h1.55v1.55h-1.55zM80.1 84.8h1.55v1.55h-1.55zM51.9 61.7h1.55v1.55h-1.55zM102.5 79.5h1.55v1.55h-1.55zM103.2 95.9h1.55v1.55h-1.55zM45.6 59.2h1.55v1.55h-1.55zM109.6 93.3h1.55v1.55h-1.55zM78.7 75.1h1.55v1.55h-1.55zM87.0 81.0h1.55v1.55h-1.55zM148.6 105.5h1.55v1.55h-1.55zM30.5 54.6h1.55v1.55h-1.55zM47.7 63.9h1.55v1.55h-1.55zM99.8 94.9h1.55v1.55h-1.55zM154.4 108.6h1.55v1.55h-1.55zM141.3 115.6h1.55v1.55h-1.55zM162.0 123.8h1.55v1.55h-1.55zM42.8 56.0h1.55v1.55h-1.55zM46.5 64.0h1.55v1.55h-1.55zM64.0 68.7h1.55v1.55h-1.55zM73.4 80.6h1.55v1.55h-1.55zM63.3 62.8h1.55v1.55h-1.55zM128.0 97.1h1.55v1.55h-1.55zM25.1 52.1h1.55v1.55h-1.55zM127.3 94.6h1.55v1.55h-1.55zM57.7 55.9h1.55v1.55h-1.55zM143.8 104.1h1.55v1.55h-1.55zM93.3 89.1h1.55v1.55h-1.55zM93.7 80.6h1.55v1.55h-1.55zM158.8 115.0h1.55v1.55h-1.55zM132.5 112.6h1.55v1.55h-1.55zM160.3 123.8h1.55v1.55h-1.55zM41.8 58.4h1.55v1.55h-1.55zM57.1 63.4h1.55v1.55h-1.55zM59.1 66.7h1.55v1.55h-1.55zM78.9 70.2h1.55v1.55h-1.55zM61.2 67.5h1.55v1.55h-1.55zM42.7 58.8h1.55v1.55h-1.55zM39.7 61.4h1.55v1.55h-1.55zM70.4 77.5h1.55v1.55h-1.55zM157.1 110.8h1.55v1.55h-1.55zM137.2 111.3h1.55v1.55h-1.55zM115.1 88.4h1.55v1.55h-1.55zM57.1 64.7h1.55v1.55h-1.55zM188.8 126.7h1.55v1.55h-1.55zM99.2 95.1h1.55v1.55h-1.55zM57.7 58.5h1.55v1.55h-1.55zM65.8 67.1h1.55v1.55h-1.55zM29.4 56.2h1.55v1.55h-1.55zM106.3 88.4h1.55v1.55h-1.55zM46.9 61.9h1.55v1.55h-1.55zM147.7 115.9h1.55v1.55h-1.55zM128.2 97.7h1.55v1.55h-1.55zM41.8 57.7h1.55v1.55h-1.55zM134.9 105.5h1.55v1.55h-1.55zM56.7 63.0h1.55v1.55h-1.55zM84.3 75.3h1.55v1.55h-1.55zM36.8 58.6h1.55v1.55h-1.55zM166.4 128.6h1.55v1.55h-1.55zM76.8 78.3h1.55v1.55h-1.55zM171.2 127.2h1.55v1.55h-1.55zM184.6 119.4h1.55v1.55h-1.55zM156.9 116.5h1.55v1.55h-1.55zM151.9 114.3h1.55v1.55h-1.55zM178.5 119.3h1.55v1.55h-1.55zM134.2 110.5h1.55v1.55h-1.55zM86.1 69.4h1.55v1.55h-1.55zM132.6 105.0h1.55v1.55h-1.55zM37.0 58.0h1.55v1.55h-1.55zM79.1 65.4h1.55v1.55h-1.55zM136.2 109.9h1.55v1.55h-1.55zM170.9 121.7h1.55v1.55h-1.55zM81.2 82.0h1.55v1.55h-1.55zM134.2 97.2h1.55v1.55h-1.55zM109.3 84.0h1.55v1.55h-1.55zM154.1 118.1h1.55v1.55h-1.55zM42.3 55.7h1.55v1.55h-1.55zM35.9 54.1h1.55v1.55h-1.55zM69.2 65.0h1.55v1.55h-1.55zM128.4 106.2h1.55v1.55h-1.55zM70.4 60.1h1.55v1.55h-1.55zM114.0 102.1h1.55v1.55h-1.55zM24.1 52.1h1.55v1.55h-1.55zM74.0 62.2h1.55v1.55h-1.55zM41.6 59.3h1.55v1.55h-1.55zM69.2 75.5h1.55v1.55h-1.55zM29.1 52.0h1.55v1.55h-1.55zM114.8 94.8h1.55v1.55h-1.55zM61.2 67.7h1.55v1.55h-1.55zM168.1 119.5h1.55v1.55h-1.55zM78.0 76.7h1.55v1.55h-1.55zM84.1 77.2h1.55v1.55h-1.55zM181.6 130.4h1.55v1.55h-1.55zM138.5 113.2h1.55v1.55h-1.55zM23.7 44.2h1.55v1.55h-1.55zM106.1 96.1h1.55v1.55h-1.55zM169.4 128.8h1.55v1.55h-1.55zM128.9 101.9h1.55v1.55h-1.55zM69.1 73.9h1.55v1.55h-1.55zM50.7 55.8h1.55v1.55h-1.55zM119.9 101.2h1.55v1.55h-1.55zM93.1 73.6h1.55v1.55h-1.55zM178.2 126.2h1.55v1.55h-1.55zM74.0 68.6h1.55v1.55h-1.55zM134.0 104.6h1.55v1.55h-1.55zM87.8 88.9h1.55v1.55h-1.55zM150.7 116.5h1.55v1.55h-1.55zM73.7 66.7h1.55v1.55h-1.55zM51.8 64.0h1.55v1.55h-1.55zM117.5 95.0h1.55v1.55h-1.55zM22.5 40.9h1.55v1.55h-1.55zM67.4 70.1h1.55v1.55h-1.55zM24.4 50.8h1.55v1.55h-1.55zM105.5 97.5h1.55v1.55h-1.55zM41.6 54.7h1.55v1.55h-1.55zM175.7 128.1h1.55v1.55h-1.55zM168.8 125.9h1.55v1.55h-1.55zM93.1 90.3h1.55v1.55h-1.55zM66.4 71.1h1.55v1.55h-1.55zM31.1 54.6h1.55v1.55h-1.55zM151.8 121.5h1.55v1.55h-1.55zM81.5 70.1h1.55v1.55h-1.55zM50.0 56.7h1.55v1.55h-1.55zM69.9 69.1h1.55v1.55h-1.55zM69.9 70.9h1.55v1.55h-1.55zM34.2 56.1h1.55v1.55h-1.55zM117.4 95.3h1.55v1.55h-1.55zM132.7 101.5h1.55v1.55h-1.55zM44.1 62.8h1.55v1.55h-1.55zM67.9 74.4h1.55v1.55h-1.55zM171.7 117.2h1.55v1.55h-1.55zM86.1 72.9h1.55v1.55h-1.55zM177.9 121.0h1.55v1.55h-1.55zM75.4 80.8h1.55v1.55h-1.55zM109.5 86.3h1.55v1.55h-1.55zM63.9 58.1h1.55v1.55h-1.55zM45.7 57.1h1.55v1.55h-1.55zM73.4 73.9h1.55v1.55h-1.55zM117.7 102.9h1.55v1.55h-1.55zM35.7 55.6h1.55v1.55h-1.55zM63.9 70.6h1.55v1.55h-1.55zM60.7 63.8h1.55v1.55h-1.55zM99.2 91.7h1.55v1.55h-1.55zM39.8 60.9h1.55v1.55h-1.55zM123.7 106.9h1.55v1.55h-1.55zM158.2 122.6h1.55v1.55h-1.55zM184.2 134.3h1.55v1.55h-1.55zM162.9 127.0h1.55v1.55h-1.55zM43.1 58.0h1.55v1.55h-1.55zM99.2 88.3h1.55v1.55h-1.55zM178.0 127.9h1.55v1.55h-1.55zM26.4 51.0h1.55v1.55h-1.55zM115.1 101.0h1.55v1.55h-1.55zM179.4 124.4h1.55v1.55h-1.55zM185.2 134.5h1.55v1.55h-1.55zM171.8 124.4h1.55v1.55h-1.55zM23.5 52.1h1.55v1.55h-1.55zM154.6 108.2h1.55v1.55h-1.55zM179.9 127.6h1.55v1.55h-1.55zM120.6 95.6h1.55v1.55h-1.55zM90.2 86.6h1.55v1.55h-1.55zM33.2 58.4h1.55v1.55h-1.55zM50.6 58.3h1.55v1.55h-1.55zM50.5 60.3h1.55v1.55h-1.55zM185.0 116.0h1.55v1.55h-1.55zM62.2 67.6h1.55v1.55h-1.55zM44.1 62.9h1.55v1.55h-1.55zM88.8 76.6h1.55v1.55h-1.55zM30.9 57.2h1.55v1.55h-1.55zM75.9 76.1h1.55v1.55h-1.55zM20.1 49.6h1.55v1.55h-1.55zM27.4 47.5h1.55v1.55h-1.55zM32.6 51.9h1.55v1.55h-1.55zM28.8 47.7h1.55v1.55h-1.55zM55.8 57.7h1.55v1.55h-1.55zM90.4 83.2h1.55v1.55h-1.55zM74.2 80.6h1.55v1.55h-1.55zM72.1 77.9h1.55v1.55h-1.55zM145.3 109.0h1.55v1.55h-1.55zM69.8 74.7h1.55v1.55h-1.55zM179.5 127.9h1.55v1.55h-1.55zM28.7 49.0h1.55v1.55h-1.55zM94.9 91.5h1.55v1.55h-1.55zM79.5 82.2h1.55v1.55h-1.55zM93.7 89.3h1.55v1.55h-1.55zM48.4 56.7h1.55v1.55h-1.55zM109.7 93.2h1.55v1.55h-1.55zM36.8 59.2h1.55v1.55h-1.55zM80.2 80.3h1.55v1.55h-1.55zM165.8 125.3h1.55v1.55h-1.55zM121.7 104.4h1.55v1.55h-1.55zM134.7 114.3h1.55v1.55h-1.55zM32.4 58.2h1.55v1.55h-1.55zM86.3 87.3h1.55v1.55h-1.55zM115.1 99.2h1.55v1.55h-1.55zM51.9 57.2h1.55v1.55h-1.55zM80.5 69.2h1.55v1.55h-1.55zM30.3 48.7h1.55v1.55h-1.55zM39.2 53.3h1.55v1.55h-1.55zM66.5 70.9h1.55v1.55h-1.55zM121.8 95.5h1.55v1.55h-1.55zM57.1 61.3h1.55v1.55h-1.55zM120.0 100.6h1.55v1.55h-1.55zM64.0 58.4h1.55v1.55h-1.55zM126.3 108.0h1.55v1.55h-1.55zM74.1 73.9h1.55v1.55h-1.55zM151.4 121.5h1.55v1.55h-1.55zM95.1 80.6h1.55v1.55h-1.55zM86.2 70.9h1.55v1.55h-1.55zM144.1 117.7h1.55v1.55h-1.55zM103.5 92.2h1.55v1.55h-1.55zM157.2 123.7h1.55v1.55h-1.55zM41.4 58.5h1.55v1.55h-1.55zM23.3 41.9h1.55v1.55h-1.55zM178.4 134.9h1.55v1.55h-1.55zM66.8 68.5h1.55v1.55h-1.55zM131.5 100.9h1.55v1.55h-1.55zM50.1 60.9h1.55v1.55h-1.55zM37.2 54.9h1.55v1.55h-1.55zM92.1 81.8h1.55v1.55h-1.55zM31.4 54.5h1.55v1.55h-1.55zM93.7 92.1h1.55v1.55h-1.55zM131.5 102.6h1.55v1.55h-1.55zM128.1 106.5h1.55v1.55h-1.55zM155.6 123.5h1.55v1.55h-1.55zM127.1 107.0h1.55v1.55h-1.55zM185.1 134.9h1.55v1.55h-1.55zM128.6 105.8h1.55v1.55h-1.55zM33.5 52.7h1.55v1.55h-1.55zM29.8 55.8h1.55v1.55h-1.55zM158.1 119.9h1.55v1.55h-1.55zM128.6 100.8h1.55v1.55h-1.55zM105.4 86.1h1.55v1.55h-1.55zM71.2 62.6h1.55v1.55h-1.55zM49.2 58.8h1.55v1.55h-1.55zM63.7 66.5h1.55v1.55h-1.55zM98.0 78.8h1.55v1.55h-1.55zM49.1 56.7h1.55v1.55h-1.55zM145.6 116.8h1.55v1.55h-1.55zM67.5 64.0h1.55v1.55h-1.55zM39.1 57.9h1.55v1.55h-1.55zM34.2 51.8h1.55v1.55h-1.55zM169.1 122.4h1.55v1.55h-1.55zM33.0 50.7h1.55v1.55h-1.55zM138.1 115.6h1.55v1.55h-1.55zM153.3 120.0h1.55v1.55h-1.55zM95.8 91.3h1.55v1.55h-1.55zM105.9 92.5h1.55v1.55h-1.55zM85.5 77.5h1.55v1.55h-1.55zM114.7 97.4h1.55v1.55h-1.55zM59.9 66.9h1.55v1.55h-1.55zM139.3 116.1h1.55v1.55h-1.55zM37.8 59.6h1.55v1.55h-1.55zM113.1 100.3h1.55v1.55h-1.55zM61.4 64.0h1.55v1.55h-1.55zM152.9 118.6h1.55v1.55h-1.55zM138.0 105.3h1.55v1.55h-1.55zM20.2 48.8h1.55v1.55h-1.55zM26.8 49.9h1.55v1.55h-1.55zM114.8 91.3h1.55v1.55h-1.55zM74.4 65.1h1.55v1.55h-1.55zM165.2 126.3h1.55v1.55h-1.55zM30.8 50.2h1.55v1.55h-1.55zM52.4 64.5h1.55v1.55h-1.55zM142.2 109.8h1.55v1.55h-1.55zM38.4 55.3h1.55v1.55h-1.55zM61.2 65.1h1.55v1.55h-1.55zM134.3 111.4h1.55v1.55h-1.55zM160.8 114.9h1.55v1.55h-1.55zM28.5 48.8h1.55v1.55h-1.55zM51.6 63.2h1.55v1.55h-1.55zM129.7 104.0h1.55v1.55h-1.55zM105.5 91.5h1.55v1.55h-1.55zM55.9 63.1h1.55v1.55h-1.55zM92.9 91.4h1.55v1.55h-1.55zM92.8 81.2h1.55v1.55h-1.55zM21.3 48.9h1.55v1.55h-1.55zM177.5 134.3h1.55v1.55h-1.55zM173.6 124.7h1.55v1.55h-1.55zM55.8 62.2h1.55v1.55h-1.55zM44.8 60.0h1.55v1.55h-1.55zM36.7 58.4h1.55v1.55h-1.55zM43.8 58.1h1.55v1.55h-1.55zM79.0 69.6h1.55v1.55h-1.55zM143.5 116.6h1.55v1.55h-1.55zM74.0 71.3h1.55v1.55h-1.55zM156.2 118.5h1.55v1.55h-1.55zM143.4 104.1h1.55v1.55h-1.55zM75.2 77.8h1.55v1.55h-1.55zM150.4 121.0h1.55v1.55h-1.55zM173.7 131.8h1.55v1.55h-1.55zM76.4 83.4h1.55v1.55h-1.55zM20.0 38.1h1.55v1.55h-1.55zM72.0 71.4h1.55v1.55h-1.55zM82.1 83.9h1.55v1.55h-1.55zM176.3 131.5h1.55v1.55h-1.55zM159.7 113.6h1.55v1.55h-1.55zM91.3 86.4h1.55v1.55h-1.55zM172.2 128.8h1.55v1.55h-1.55zM124.6 103.4h1.55v1.55h-1.55zM32.7 47.6h1.55v1.55h-1.55zM50.6 60.5h1.55v1.55h-1.55zM75.3 82.5h1.55v1.55h-1.55zM59.4 64.7h1.55v1.55h-1.55zM27.7 54.9h1.55v1.55h-1.55zM107.3 99.1h1.55v1.55h-1.55zM73.2 79.2h1.55v1.55h-1.55zM164.9 115.5h1.55v1.55h-1.55zM171.4 129.9h1.55v1.55h-1.55zM118.5 104.3h1.55v1.55h-1.55zM143.6 109.9h1.55v1.55h-1.55zM111.6 100.9h1.55v1.55h-1.55zM57.3 60.1h1.55v1.55h-1.55zM35.6 57.8h1.55v1.55h-1.55zM88.0 78.4h1.55v1.55h-1.55zM54.8 63.5h1.55v1.55h-1.55zM107.1 94.0h1.55v1.55h-1.55zM163.9 127.4h1.55v1.55h-1.55zM171.2 130.5h1.55v1.55h-1.55zM115.7 103.2h1.55v1.55h-1.55zM71.2 78.2h1.55v1.55h-1.55zM87.1 86.4h1.55v1.55h-1.55zM70.3 77.6h1.55v1.55h-1.55zM84.2 84.6h1.55v1.55h-1.55zM74.3 80.6h1.55v1.55h-1.55zM73.0 66.5h1.55v1.55h-1.55zM172.7 125.4h1.55v1.55h-1.55zM61.7 57.7h1.55v1.55h-1.55zM23.7 48.9h1.55v1.55h-1.55zM109.0 85.6h1.55v1.55h-1.55zM38.2 56.9h1.55v1.55h-1.55zM22.7 49.5h1.55v1.55h-1.55zM151.6 106.7h1.55v1.55h-1.55zM99.1 92.3h1.55v1.55h-1.55zM34.9 57.0h1.55v1.55h-1.55zM90.9 79.3h1.55v1.55h-1.55zM118.7 100.8h1.55v1.55h-1.55zM91.1 90.4h1.55v1.55h-1.55zM98.4 85.7h1.55v1.55h-1.55zM173.7 115.2h1.55v1.55h-1.55zM101.3 89.6h1.55v1.55h-1.55zM83.9 87.5h1.55v1.55h-1.55zM114.4 90.6h1.55v1.55h-1.55zM143.5 104.1h1.55v1.55h-1.55zM166.7 128.1h1.55v1.55h-1.55zM67.2 64.8h1.55v1.55h-1.55zM150.3 117.5h1.55v1.55h-1.55zM58.5 65.4h1.55v1.55h-1.55zM60.2 59.0h1.55v1.55h-1.55zM145.8 117.7h1.55v1.55h-1.55zM171.6 131.1h1.55v1.55h-1.55zM87.2 86.1h1.55v1.55h-1.55zM53.0 60.2h1.55v1.55h-1.55zM92.1 72.6h1.55v1.55h-1.55zM96.0 86.3h1.55v1.55h-1.55zM72.8 64.3h1.55v1.55h-1.55zM130.6 111.7h1.55v1.55h-1.55zM73.3 77.7h1.55v1.55h-1.55zM109.0 92.2h1.55v1.55h-1.55zM138.3 104.0h1.55v1.55h-1.55zM86.3 78.6h1.55v1.55h-1.55zM54.9 58.8h1.55v1.55h-1.55zM35.3 56.4h1.55v1.55h-1.55zM24.1 41.7h1.55v1.55h-1.55zM158.6 116.0h1.55v1.55h-1.55zM156.5 111.0h1.55v1.55h-1.55zM181.8 124.1h1.55v1.55h-1.55zM28.8 55.3h1.55v1.55h-1.55zM113.1 102.0h1.55v1.55h-1.55zM170.9 130.7h1.55v1.55h-1.55zM142.1 115.7h1.55v1.55h-1.55zM92.1 74.3h1.55v1.55h-1.55zM90.6 84.8h1.55v1.55h-1.55zM75.3 144.4h1.55v1.55h-1.55zM105.2 148.1h1.55v1.55h-1.55zM109.7 150.5h1.55v1.55h-1.55zM177.3 154.3h1.55v1.55h-1.55zM51.7 129.3h1.55v1.55h-1.55zM62.6 135.4h1.55v1.55h-1.55zM40.3 122.6h1.55v1.55h-1.55zM96.2 145.3h1.55v1.55h-1.55zM85.3 147.9h1.55v1.55h-1.55zM67.1 139.3h1.55v1.55h-1.55zM134.1 158.3h1.55v1.55h-1.55zM182.7 155.3h1.55v1.55h-1.55zM53.4 132.0h1.55v1.55h-1.55zM43.8 125.6h1.55v1.55h-1.55zM29.2 117.6h1.55v1.55h-1.55zM67.4 139.5h1.55v1.55h-1.55zM170.2 154.2h1.55v1.55h-1.55zM181.1 153.7h1.55v1.55h-1.55zM68.4 140.2h1.55v1.55h-1.55zM70.5 142.1h1.55v1.55h-1.55zM82.0 146.4h1.55v1.55h-1.55zM109.9 148.3h1.55v1.55h-1.55zM182.9 160.2h1.55v1.55h-1.55zM124.1 151.2h1.55v1.55h-1.55zM84.6 144.2h1.55v1.55h-1.55zM145.9 155.7h1.55v1.55h-1.55zM136.6 157.5h1.55v1.55h-1.55zM99.7 147.7h1.55v1.55h-1.55zM82.1 144.5h1.55v1.55h-1.55zM32.9 120.5h1.55v1.55h-1.55zM115.5 154.4h1.55v1.55h-1.55zM92.9 149.8h1.55v1.55h-1.55zM32.4 119.8h1.55v1.55h-1.55zM104.0 149.1h1.55v1.55h-1.55zM167.7 159.9h1.55v1.55h-1.55zM133.2 160.3h1.55v1.55h-1.55zM185.1 151.7h1.55v1.55h-1.55zM159.4 157.3h1.55v1.55h-1.55zM140.8 158.9h1.55v1.55h-1.55zM35.9 119.7h1.55v1.55h-1.55zM170.8 158.4h1.55v1.55h-1.55zM159.1 154.8h1.55v1.55h-1.55zM109.2 150.0h1.55v1.55h-1.55zM36.6 122.5h1.55v1.55h-1.55zM63.8 136.3h1.55v1.55h-1.55zM46.2 128.2h1.55v1.55h-1.55zM116.7 153.0h1.55v1.55h-1.55zM128.7 157.6h1.55v1.55h-1.55zM20.6 114.4h1.55v1.55h-1.55zM88.0 145.4h1.55v1.55h-1.55zM102.9 149.0h1.55v1.55h-1.55zM77.1 143.9h1.55v1.55h-1.55zM68.1 140.0h1.55v1.55h-1.55zM104.6 151.7h1.55v1.55h-1.55zM54.4 132.7h1.55v1.55h-1.55zM136.7 154.6h1.55v1.55h-1.55zM120.9 153.4h1.55v1.55h-1.55zM163.2 155.9h1.55v1.55h-1.55zM116.3 150.6h1.55v1.55h-1.55zM67.3 140.0h1.55v1.55h-1.55zM66.4 138.7h1.55v1.55h-1.55zM149.2 158.1h1.55v1.55h-1.55zM43.7 126.3h1.55v1.55h-1.55zM55.1 133.0h1.55v1.55h-1.55zM22.1 115.7h1.55v1.55h-1.55zM168.7 154.5h1.55v1.55h-1.55zM66.7 139.0h1.55v1.55h-1.55zM56.1 134.4h1.55v1.55h-1.55zM70.2 142.0h1.55v1.55h-1.55zM89.0 146.4h1.55v1.55h-1.55zM36.7 122.1h1.55v1.55h-1.55zM111.9 148.3h1.55v1.55h-1.55zM57.1 131.3h1.55v1.55h-1.55zM101.7 146.8h1.55v1.55h-1.55zM107.4 149.9h1.55v1.55h-1.55zM119.4 150.1h1.55v1.55h-1.55zM117.0 152.3h1.55v1.55h-1.55zM114.3 148.5h1.55v1.55h-1.55zM20.8 114.8h1.55v1.55h-1.55zM121.7 150.7h1.55v1.55h-1.55zM146.6 159.0h1.55v1.55h-1.55zM141.6 151.6h1.55v1.55h-1.55zM121.5 155.3h1.55v1.55h-1.55zM172.8 153.7h1.55v1.55h-1.55zM116.9 149.6h1.55v1.55h-1.55zM106.9 148.5h1.55v1.55h-1.55zM168.1 154.9h1.55v1.55h-1.55zM50.2 130.5h1.55v1.55h-1.55zM156.2 154.9h1.55v1.55h-1.55zM186.9 155.8h1.55v1.55h-1.55zM144.4 151.2h1.55v1.55h-1.55zM142.3 155.3h1.55v1.55h-1.55zM33.9 119.0h1.55v1.55h-1.55zM64.5 138.3h1.55v1.55h-1.55zM70.4 142.1h1.55v1.55h-1.55zM63.3 135.4h1.55v1.55h-1.55zM99.6 145.9h1.55v1.55h-1.55zM28.7 118.7h1.55v1.55h-1.55zM49.6 128.9h1.55v1.55h-1.55zM23.5 116.8h1.55v1.55h-1.55zM62.9 136.0h1.55v1.55h-1.55zM146.7 160.0h1.55v1.55h-1.55zM169.1 160.2h1.55v1.55h-1.55zM128.2 160.1h1.55v1.55h-1.55zM104.4 148.6h1.55v1.55h-1.55zM79.0 144.5h1.55v1.55h-1.55zM32.4 121.4h1.55v1.55h-1.55zM121.1 156.8h1.55v1.55h-1.55zM59.4 132.9h1.55v1.55h-1.55zM67.2 139.0h1.55v1.55h-1.55zM46.6 128.2h1.55v1.55h-1.55zM83.6 144.1h1.55v1.55h-1.55zM77.0 144.7h1.55v1.55h-1.55zM29.2 119.3h1.55v1.55h-1.55zM171.7 159.0h1.55v1.55h-1.55zM146.4 151.0h1.55v1.55h-1.55zM28.4 119.8h1.55v1.55h-1.55zM153.4 153.0h1.55v1.55h-1.55zM59.5 133.0h1.55v1.55h-1.55zM131.3 152.6h1.55v1.55h-1.55zM167.7 163.1h1.55v1.55h-1.55zM72.1 142.8h1.55v1.55h-1.55zM160.0 156.1h1.55v1.55h-1.55zM54.2 131.7h1.55v1.55h-1.55zM188.5 151.4h1.55v1.55h-1.55zM100.1 146.0h1.55v1.55h-1.55zM51.5 131.5h1.55v1.55h-1.55zM178.6 153.8h1.55v1.55h-1.55zM69.0 140.9h1.55v1.55h-1.55zM127.4 153.0h1.55v1.55h-1.55zM153.2 153.9h1.55v1.55h-1.55zM102.3 150.2h1.55v1.55h-1.55zM34.9 119.6h1.55v1.55h-1.55zM160.7 166.2h1.55v1.55h-1.55zM178.7 161.2h1.55v1.55h-1.55zM52.8 129.8h1.55v1.55h-1.55zM72.3 142.5h1.55v1.55h-1.55zM116.7 150.2h1.55v1.55h-1.55zM35.6 122.6h1.55v1.55h-1.55zM64.0 135.6h1.55v1.55h-1.55zM94.6 147.8h1.55v1.55h-1.55zM166.5 167.1h1.55v1.55h-1.55zM85.5 147.6h1.55v1.55h-1.55zM151.8 156.4h1.55v1.55h-1.55zM90.0 144.4h1.55v1.55h-1.55zM87.0 148.8h1.55v1.55h-1.55zM67.3 140.2h1.55v1.55h-1.55zM159.2 163.0h1.55v1.55h-1.55zM174.9 157.1h1.55v1.55h-1.55zM165.5 160.9h1.55v1.55h-1.55zM149.0 150.9h1.55v1.55h-1.55zM32.8 121.4h1.55v1.55h-1.55zM40.9 123.6h1.55v1.55h-1.55zM27.1 120.2h1.55v1.55h-1.55zM162.7 168.4h1.55v1.55h-1.55zM181.1 155.5h1.55v1.55h-1.55zM81.7 144.5h1.55v1.55h-1.55zM98.2 146.6h1.55v1.55h-1.55zM142.1 152.4h1.55v1.55h-1.55zM176.6 156.8h1.55v1.55h-1.55zM40.2 123.0h1.55v1.55h-1.55zM49.7 129.7h1.55v1.55h-1.55zM141.4 153.2h1.55v1.55h-1.55zM155.4 153.5h1.55v1.55h-1.55zM119.8 149.5h1.55v1.55h-1.55zM70.9 142.4h1.55v1.55h-1.55zM133.6 155.1h1.55v1.55h-1.55zM151.0 153.9h1.55v1.55h-1.55zM118.4 149.4h1.55v1.55h-1.55zM138.9 153.9h1.55v1.55h-1.55zM118.1 151.3h1.55v1.55h-1.55zM57.3 134.1h1.55v1.55h-1.55zM121.1 151.8h1.55v1.55h-1.55zM24.3 115.7h1.55v1.55h-1.55zM153.0 155.1h1.55v1.55h-1.55zM61.0 135.8h1.55v1.55h-1.55zM29.4 118.2h1.55v1.55h-1.55zM54.9 133.9h1.55v1.55h-1.55zM86.0 146.7h1.55v1.55h-1.55zM34.6 120.4h1.55v1.55h-1.55zM33.4 120.6h1.55v1.55h-1.55zM156.7 159.3h1.55v1.55h-1.55zM108.9 151.4h1.55v1.55h-1.55zM119.0 149.4h1.55v1.55h-1.55zM130.8 157.9h1.55v1.55h-1.55zM124.9 153.6h1.55v1.55h-1.55zM185.5 153.0h1.55v1.55h-1.55zM156.6 157.7h1.55v1.55h-1.55zM97.8 146.8h1.55v1.55h-1.55zM33.7 121.4h1.55v1.55h-1.55zM115.4 153.0h1.55v1.55h-1.55zM179.4 162.8h1.55v1.55h-1.55zM96.2 146.1h1.55v1.55h-1.55zM34.9 122.2h1.55v1.55h-1.55zM122.2 154.7h1.55v1.55h-1.55zM182.7 152.9h1.55v1.55h-1.55zM47.1 126.6h1.55v1.55h-1.55zM44.8 128.6h1.55v1.55h-1.55zM52.4 129.8h1.55v1.55h-1.55zM113.4 148.3h1.55v1.55h-1.55zM126.6 154.8h1.55v1.55h-1.55zM21.3 114.7h1.55v1.55h-1.55zM107.1 152.3h1.55v1.55h-1.55zM99.3 146.2h1.55v1.55h-1.55zM39.0 121.8h1.55v1.55h-1.55zM54.3 130.1h1.55v1.55h-1.55zM142.9 157.6h1.55v1.55h-1.55zM119.4 149.5h1.55v1.55h-1.55zM129.6 153.4h1.55v1.55h-1.55zM80.3 146.0h1.55v1.55h-1.55zM86.3 144.2h1.55v1.55h-1.55zM28.9 121.3h1.55v1.55h-1.55zM173.3 160.2h1.55v1.55h-1.55zM162.6 162.5h1.55v1.55h-1.55zM74.5 143.8h1.55v1.55h-1.55zM91.4 144.7h1.55v1.55h-1.55zM43.8 128.0h1.55v1.55h-1.55zM104.8 149.8h1.55v1.55h-1.55zM62.4 134.5h1.55v1.55h-1.55zM32.1 119.6h1.55v1.55h-1.55zM176.4 162.3h1.55v1.55h-1.55zM123.1 156.0h1.55v1.55h-1.55zM101.3 149.5h1.55v1.55h-1.55zM121.9 152.3h1.55v1.55h-1.55zM45.9 127.3h1.55v1.55h-1.55zM70.2 142.1h1.55v1.55h-1.55zM156.2 160.4h1.55v1.55h-1.55zM84.3 144.4h1.55v1.55h-1.55zM22.5 115.2h1.55v1.55h-1.55zM54.2 131.0h1.55v1.55h-1.55zM20.0 114.2h1.55v1.55h-1.55zM28.5 118.4h1.55v1.55h-1.55zM131.6 158.5h1.55v1.55h-1.55zM166.8 154.9h1.55v1.55h-1.55zM103.7 148.5h1.55v1.55h-1.55zM103.6 146.7h1.55v1.55h-1.55zM49.3 130.5h1.55v1.55h-1.55zM119.9 150.3h1.55v1.55h-1.55zM105.4 151.1h1.55v1.55h-1.55zM108.7 147.9h1.55v1.55h-1.55zM85.1 148.0h1.55v1.55h-1.55zM166.3 161.1h1.55v1.55h-1.55zM111.4 148.2h1.55v1.55h-1.55zM154.2 153.8h1.55v1.55h-1.55zM149.5 154.3h1.55v1.55h-1.55zM156.8 155.9h1.55v1.55h-1.55zM91.2 145.0h1.55v1.55h-1.55zM125.2 153.9h1.55v1.55h-1.55zM109.0 148.0h1.55v1.55h-1.55zM176.8 153.9h1.55v1.55h-1.55zM69.6 141.6h1.55v1.55h-1.55zM107.0 147.3h1.55v1.55h-1.55zM150.1 151.5h1.55v1.55h-1.55zM167.2 160.5h1.55v1.55h-1.55zM97.5 149.7h1.55v1.55h-1.55zM166.5 156.0h1.55v1.55h-1.55zM89.6 144.5h1.55v1.55h-1.55zM37.1 124.5h1.55v1.55h-1.55zM155.3 154.8h1.55v1.55h-1.55zM172.1 158.5h1.55v1.55h-1.55zM124.7 157.3h1.55v1.55h-1.55zM167.4 154.7h1.55v1.55h-1.55zM140.2 151.5h1.55v1.55h-1.55zM68.7 140.6h1.55v1.55h-1.55zM162.4 155.9h1.55v1.55h-1.55zM177.9 152.8h1.55v1.55h-1.55zM34.5 122.3h1.55v1.55h-1.55zM82.1 144.9h1.55v1.55h-1.55zM99.3 150.3h1.55v1.55h-1.55zM75.0 144.6h1.55v1.55h-1.55zM127.4 153.5h1.55v1.55h-1.55zM163.0 166.5h1.55v1.55h-1.55zM122.3 150.3h1.55v1.55h-1.55zM176.5 153.9h1.55v1.55h-1.55zM181.7 156.0h1.55v1.55h-1.55zM168.3 161.0h1.55v1.55h-1.55zM138.7 159.4h1.55v1.55h-1.55zM109.2 149.1h1.55v1.55h-1.55zM163.6 155.8h1.55v1.55h-1.55zM185.7 152.9h1.55v1.55h-1.55zM118.8 149.3h1.55v1.55h-1.55zM24.8 116.1h1.55v1.55h-1.55zM24.3 117.6h1.55v1.55h-1.55zM23.3 117.4h1.55v1.55h-1.55zM113.0 150.5h1.55v1.55h-1.55zM43.2 124.2h1.55v1.55h-1.55zM99.8 146.0h1.55v1.55h-1.55zM105.3 151.0h1.55v1.55h-1.55zM134.3 152.2h1.55v1.55h-1.55zM175.9 156.5h1.55v1.55h-1.55zM39.2 126.3h1.55v1.55h-1.55zM158.1 163.3h1.55v1.55h-1.55zM88.5 148.4h1.55v1.55h-1.55zM29.2 120.0h1.55v1.55h-1.55zM98.8 149.8h1.55v1.55h-1.55zM132.7 159.7h1.55v1.55h-1.55zM121.7 150.3h1.55v1.55h-1.55zM185.1 152.1h1.55v1.55h-1.55zM158.9 157.8h1.55v1.55h-1.55zM172.4 157.2h1.55v1.55h-1.55zM113.5 153.2h1.55v1.55h-1.55zM149.2 157.3h1.55v1.55h-1.55zM110.1 151.1h1.55v1.55h-1.55zM94.4 149.7h1.55v1.55h-1.55zM60.7 134.1h1.55v1.55h-1.55zM45.0 125.5h1.55v1.55h-1.55zM27.8 117.8h1.55v1.55h-1.55zM37.5 122.1h1.55v1.55h-1.55zM28.3 120.6h1.55v1.55h-1.55zM24.9 116.2h1.55v1.55h-1.55zM30.8 119.9h1.55v1.55h-1.55zM96.3 149.3h1.55v1.55h-1.55zM28.6 118.0h1.55v1.55h-1.55zM96.7 147.3h1.55v1.55h-1.55zM90.7 149.0h1.55v1.55h-1.55zM153.1 160.4h1.55v1.55h-1.55zM32.0 118.5h1.55v1.55h-1.55zM133.5 152.2h1.55v1.55h-1.55zM141.6 152.8h1.55v1.55h-1.55zM145.8 152.5h1.55v1.55h-1.55zM101.8 147.9h1.55v1.55h-1.55zM26.7 117.4h1.55v1.55h-1.55zM133.1 152.2h1.55v1.55h-1.55zM187.3 151.5h1.55v1.55h-1.55zM139.2 157.4h1.55v1.55h-1.55zM90.5 145.3h1.55v1.55h-1.55zM40.3 122.6h1.55v1.55h-1.55zM120.3 151.3h1.55v1.55h-1.55zM61.4 135.6h1.55v1.55h-1.55zM24.1 116.4h1.55v1.55h-1.55zM29.1 117.4h1.55v1.55h-1.55zM24.8 117.2h1.55v1.55h-1.55zM128.2 152.8h1.55v1.55h-1.55zM143.8 158.9h1.55v1.55h-1.55zM105.9 147.9h1.55v1.55h-1.55zM153.9 152.7h1.55v1.55h-1.55zM181.9 158.9h1.55v1.55h-1.55zM118.5 150.1h1.55v1.55h-1.55zM27.0 119.7h1.55v1.55h-1.55zM131.8 156.6h1.55v1.55h-1.55zM91.6 147.8h1.55v1.55h-1.55zM123.2 153.5h1.55v1.55h-1.55zM115.6 152.6h1.55v1.55h-1.55zM75.4 143.1h1.55v1.55h-1.55zM157.3 153.8h1.55v1.55h-1.55zM63.6 137.5h1.55v1.55h-1.55zM172.2 156.4h1.55v1.55h-1.55zM98.1 146.0h1.55v1.55h-1.55zM39.8 125.3h1.55v1.55h-1.55zM151.3 159.6h1.55v1.55h-1.55zM145.1 152.4h1.55v1.55h-1.55zM48.9 128.7h1.55v1.55h-1.55zM152.0 154.8h1.55v1.55h-1.55zM36.1 124.3h1.55v1.55h-1.55zM167.2 161.2h1.55v1.55h-1.55zM165.2 156.2h1.55v1.55h-1.55zM58.0 132.9h1.55v1.55h-1.55zM142.0 152.3h1.55v1.55h-1.55zM99.8 148.1h1.55v1.55h-1.55zM168.0 155.2h1.55v1.55h-1.55zM67.3 139.2h1.55v1.55h-1.55zM38.9 124.6h1.55v1.55h-1.55zM49.5 129.7h1.55v1.55h-1.55zM98.1 146.3h1.55v1.55h-1.55zM54.5 130.2h1.55v1.55h-1.55zM181.0 158.8h1.55v1.55h-1.55zM64.5 138.0h1.55v1.55h-1.55zM71.7 142.5h1.55v1.55h-1.55zM120.9 149.7h1.55v1.55h-1.55zM128.6 153.0h1.55v1.55h-1.55zM171.4 153.8h1.55v1.55h-1.55zM158.8 156.2h1.55v1.55h-1.55zM109.9 147.8h1.55v1.55h-1.55zM27.0 120.4h1.55v1.55h-1.55zM163.7 160.8h1.55v1.55h-1.55zM20.2 114.8h1.55v1.55h-1.55zM51.6 132.5h1.55v1.55h-1.55zM175.1 154.4h1.55v1.55h-1.55zM172.0 160.4h1.55v1.55h-1.55zM54.5 131.3h1.55v1.55h-1.55zM167.3 155.0h1.55v1.55h-1.55zM93.2 148.3h1.55v1.55h-1.55zM94.6 146.0h1.55v1.55h-1.55zM75.7 145.8h1.55v1.55h-1.55zM46.0 127.9h1.55v1.55h-1.55zM150.0 154.2h1.55v1.55h-1.55zM44.1 125.6h1.55v1.55h-1.55zM33.6 118.7h1.55v1.55h-1.55zM92.5 149.0h1.55v1.55h-1.55zM38.8 124.7h1.55v1.55h-1.55zM185.4 154.6h1.55v1.55h-1.55zM158.0 159.4h1.55v1.55h-1.55zM38.7 122.8h1.55v1.55h-1.55zM167.3 159.0h1.55v1.55h-1.55zM76.5 143.6h1.55v1.55h-1.55zM128.0 159.0h1.55v1.55h-1.55zM173.2 157.2h1.55v1.55h-1.55zM30.9 118.7h1.55v1.55h-1.55zM142.4 156.2h1.55v1.55h-1.55zM31.0 119.2h1.55v1.55h-1.55zM164.0 156.7h1.55v1.55h-1.55zM172.6 161.9h1.55v1.55h-1.55zM144.9 159.6h1.55v1.55h-1.55zM96.0 145.6h1.55v1.55h-1.55zM158.1 156.8h1.55v1.55h-1.55zM31.7 121.4h1.55v1.55h-1.55zM37.7 125.2h1.55v1.55h-1.55zM185.9 152.5h1.55v1.55h-1.55zM71.3 142.8h1.55v1.55h-1.55zM110.3 151.6h1.55v1.55h-1.55zM52.4 131.0h1.55v1.55h-1.55zM65.0 137.4h1.55v1.55h-1.55zM71.2 142.3h1.55v1.55h-1.55zM87.7 145.5h1.55v1.55h-1.55zM95.9 146.8h1.55v1.55h-1.55zM160.0 154.7h1.55v1.55h-1.55zM135.4 153.9h1.55v1.55h-1.55zM50.8 128.7h1.55v1.55h-1.55zM57.0 133.9h1.55v1.55h-1.55zM164.8 162.9h1.55v1.55h-1.55zM175.0 159.4h1.55v1.55h-1.55zM107.3 151.7h1.55v1.55h-1.55zM153.0 152.2h1.55v1.55h-1.55zM169.1 157.2h1.55v1.55h-1.55zM120.2 153.3h1.55v1.55h-1.55zM134.7 155.8h1.55v1.55h-1.55zM63.0 134.4h1.55v1.55h-1.55zM106.9 148.8h1.55v1.55h-1.55zM115.3 150.2h1.55v1.55h-1.55zM124.8 156.2h1.55v1.55h-1.55zM68.2 140.1h1.55v1.55h-1.55zM73.8 143.3h1.55v1.55h-1.55zM126.3 157.7h1.55v1.55h-1.55zM27.1 119.1h1.55v1.55h-1.55zM130.3 159.6h1.55v1.55h-1.55zM187.5 151.4h1.55v1.55h-1.55zM188.5 153.5h1.55v1.55h-1.55zM65.5 137.2h1.55v1.55h-1.55zM62.9 136.3h1.55v1.55h-1.55zM57.4 131.5h1.55v1.55h-1.55zM26.4 119.5h1.55v1.55h-1.55zM173.6 158.0h1.55v1.55h-1.55zM24.3 116.3h1.55v1.55h-1.55zM36.7 123.5h1.55v1.55h-1.55zM42.9 124.6h1.55v1.55h-1.55zM150.7 153.9h1.55v1.55h-1.55zM54.7 133.1h1.55v1.55h-1.55zM179.7 154.8h1.55v1.55h-1.55zM122.5 150.1h1.55v1.55h-1.55zM80.9 144.0h1.55v1.55h-1.55zM131.9 160.6h1.55v1.55h-1.55zM132.5 157.4h1.55v1.55h-1.55zM23.1 117.1h1.55v1.55h-1.55zM83.3 144.9h1.55v1.55h-1.55zM139.9 152.4h1.55v1.55h-1.55zM167.8 155.4h1.55v1.55h-1.55zM134.5 157.2h1.55v1.55h-1.55zM99.3 147.2h1.55v1.55h-1.55zM33.0 120.0h1.55v1.55h-1.55zM85.6 144.4h1.55v1.55h-1.55zM23.1 116.1h1.55v1.55h-1.55zM119.2 150.6h1.55v1.55h-1.55zM166.1 160.3h1.55v1.55h-1.55zM142.7 156.4h1.55v1.55h-1.55zM89.2 147.4h1.55v1.55h-1.55zM71.3 142.3h1.55v1.55h-1.55zM75.1 144.3h1.55v1.55h-1.55zM40.3 122.5h1.55v1.55h-1.55zM146.4 153.9h1.55v1.55h-1.55zM64.2 137.6h1.55v1.55h-1.55zM170.6 154.4h1.55v1.55h-1.55zM96.2 148.9h1.55v1.55h-1.55zM156.2 153.6h1.55v1.55h-1.55zM76.5 144.3h1.55v1.55h-1.55zM25.9 119.5h1.55v1.55h-1.55zM64.8 136.3h1.55v1.55h-1.55zM66.9 138.7h1.55v1.55h-1.55zM134.8 159.8h1.55v1.55h-1.55zM108.5 148.1h1.55v1.55h-1.55zM184.9 152.4h1.55v1.55h-1.55zM118.0 154.6h1.55v1.55h-1.55zM112.0 149.7h1.55v1.55h-1.55zM149.5 158.0h1.55v1.55h-1.55zM32.7 118.8h1.55v1.55h-1.55zM83.2 148.1h1.55v1.55h-1.55zM59.1 133.1h1.55v1.55h-1.55zM155.1 158.6h1.55v1.55h-1.55zM28.3 117.0h1.55v1.55h-1.55zM162.0 156.1h1.55v1.55h-1.55zM36.2 120.1h1.55v1.55h-1.55zM32.4 121.3h1.55v1.55h-1.55zM36.4 124.2h1.55v1.55h-1.55zM128.1 157.9h1.55v1.55h-1.55zM70.7 142.4h1.55v1.55h-1.55zM25.9 117.7h1.55v1.55h-1.55zM26.6 120.4h1.55v1.55h-1.55zM147.2 154.9h1.55v1.55h-1.55zM156.8 159.2h1.55v1.55h-1.55zM123.7 151.4h1.55v1.55h-1.55zM48.2 128.9h1.55v1.55h-1.55zM70.9 142.2h1.55v1.55h-1.55zM57.3 131.7h1.55v1.55h-1.55zM145.7 158.8h1.55v1.55h-1.55zM83.7 144.2h1.55v1.55h-1.55zM90.0 144.4h1.55v1.55h-1.55zM133.9 153.4h1.55v1.55h-1.55zM179.6 154.0h1.55v1.55h-1.55zM183.0 153.7h1.55v1.55h-1.55zM56.4 131.7h1.55v1.55h-1.55zM124.3 151.9h1.55v1.55h-1.55zM26.3 116.4h1.55v1.55h-1.55zM63.2 135.0h1.55v1.55h-1.55zM175.5 158.9h1.55v1.55h-1.55zM131.4 154.4h1.55v1.55h-1.55zM40.5 124.1h1.55v1.55h-1.55zM110.4 152.5h1.55v1.55h-1.55zM38.6 124.4h1.55v1.55h-1.55zM126.2 152.2h1.55v1.55h-1.55zM113.2 152.2h1.55v1.55h-1.55zM156.4 163.9h1.55v1.55h-1.55zM168.2 159.4h1.55v1.55h-1.55zM64.3 135.5h1.55v1.55h-1.55zM95.4 148.4h1.55v1.55h-1.55zM65.5 136.7h1.55v1.55h-1.55zM125.2 155.9h1.55v1.55h-1.55zM51.9 131.5h1.55v1.55h-1.55zM67.6 139.3h1.55v1.55h-1.55zM109.9 151.5h1.55v1.55h-1.55zM53.7 130.4h1.55v1.55h-1.55zM161.4 160.6h1.55v1.55h-1.55zM81.1 147.2h1.55v1.55h-1.55zM110.4 147.9h1.55v1.55h-1.55zM178.9 159.0h1.55v1.55h-1.55zM63.9 135.3h1.55v1.55h-1.55zM85.9 148.3h1.55v1.55h-1.55zM152.0 152.5h1.55v1.55h-1.55zM164.3 166.1h1.55v1.55h-1.55zM59.8 133.3h1.55v1.55h-1.55zM51.0 130.7h1.55v1.55h-1.55zM46.3 129.3h1.55v1.55h-1.55zM73.5 143.2h1.55v1.55h-1.55zM76.0 145.0h1.55v1.55h-1.55zM183.4 153.6h1.55v1.55h-1.55zM157.5 165.1h1.55v1.55h-1.55zM180.7 152.7h1.55v1.55h-1.55zM178.3 157.8h1.55v1.55h-1.55zM34.8 119.6h1.55v1.55h-1.55zM85.8 144.2h1.55v1.55h-1.55zM134.5 152.9h1.55v1.55h-1.55zM77.4 143.7h1.55v1.55h-1.55zM131.3 154.4h1.55v1.55h-1.55zM133.2 153.4h1.55v1.55h-1.55zM94.7 148.5h1.55v1.55h-1.55zM91.4 146.4h1.55v1.55h-1.55zM114.3 148.8h1.55v1.55h-1.55zM97.4 147.2h1.55v1.55h-1.55zM120.9 151.6h1.55v1.55h-1.55zM80.2 146.3h1.55v1.55h-1.55zM181.7 153.5h1.55v1.55h-1.55zM29.9 119.1h1.55v1.55h-1.55zM85.9 148.0h1.55v1.55h-1.55zM146.3 158.5h1.55v1.55h-1.55zM48.2 130.0h1.55v1.55h-1.55zM21.5 115.6h1.55v1.55h-1.55zM24.7 116.1h1.55v1.55h-1.55zM25.0 118.1h1.55v1.55h-1.55zM177.4 154.3h1.55v1.55h-1.55zM110.5 147.8h1.55v1.55h-1.55zM81.6 146.6h1.55v1.55h-1.55zM63.2 134.5h1.55v1.55h-1.55zM37.7 125.1h1.55v1.55h-1.55zM72.4 142.6h1.55v1.55h-1.55zM62.2 134.6h1.55v1.55h-1.55zM130.7 151.4h1.55v1.55h-1.55zM42.0 125.8h1.55v1.55h-1.55zM86.7 147.1h1.55v1.55h-1.55zM121.1 151.7h1.55v1.55h-1.55zM132.3 158.7h1.55v1.55h-1.55zM32.6 121.7h1.55v1.55h-1.55zM161.3 162.4h1.55v1.55h-1.55zM78.8 145.9h1.55v1.55h-1.55zM93.6 145.2h1.55v1.55h-1.55zM78.0 143.9h1.55v1.55h-1.55zM25.1 115.9h1.55v1.55h-1.55zM83.4 145.2h1.55v1.55h-1.55zM101.8 146.5h1.55v1.55h-1.55zM115.6 154.4h1.55v1.55h-1.55zM64.3 136.3h1.55v1.55h-1.55zM178.8 153.4h1.55v1.55h-1.55zM96.8 145.4h1.55v1.55h-1.55zM99.5 150.5h1.55v1.55h-1.55zM169.3 156.6h1.55v1.55h-1.55zM158.8 166.6h1.55v1.55h-1.55zM145.4 152.0h1.55v1.55h-1.55zM115.0 150.0h1.55v1.55h-1.55zM31.4 122.0h1.55v1.55h-1.55zM171.3 157.8h1.55v1.55h-1.55zM187.8 151.2h1.55v1.55h-1.55zM107.9 147.7h1.55v1.55h-1.55zM168.3 155.3h1.55v1.55h-1.55zM108.9 151.0h1.55v1.55h-1.55zM137.6 162.2h1.55v1.55h-1.55zM157.4 156.5h1.55v1.55h-1.55zM178.6 159.3h1.55v1.55h-1.55zM41.6 123.6h1.55v1.55h-1.55zM74.1 144.4h1.55v1.55h-1.55zM45.8 128.4h1.55v1.55h-1.55zM48.0 130.7h1.55v1.55h-1.55zM188.1 158.8h1.55v1.55h-1.55zM90.6 146.4h1.55v1.55h-1.55zM111.9 148.7h1.55v1.55h-1.55zM81.2 144.1h1.55v1.55h-1.55zM103.9 148.3h1.55v1.55h-1.55zM44.1 124.8h1.55v1.55h-1.55zM165.5 166.6h1.55v1.55h-1.55zM157.2 158.2h1.55v1.55h-1.55zM70.4 142.1h1.55v1.55h-1.55zM31.0 119.9h1.55v1.55h-1.55zM119.4 150.7h1.55v1.55h-1.55zM151.9 158.6h1.55v1.55h-1.55zM136.6 152.1h1.55v1.55h-1.55zM76.8 145.8h1.55v1.55h-1.55zM116.7 151.4h1.55v1.55h-1.55zM124.1 154.6h1.55v1.55h-1.55zM166.3 166.7h1.55v1.55h-1.55zM46.9 127.3h1.55v1.55h-1.55zM136.2 152.8h1.55v1.55h-1.55zM56.5 134.7h1.55v1.55h-1.55zM76.6 143.6h1.55v1.55h-1.55zM23.6 116.3h1.55v1.55h-1.55zM21.0 115.6h1.55v1.55h-1.55zM118.0 152.4h1.55v1.55h-1.55zM125.5 152.5h1.55v1.55h-1.55zM27.1 117.8h1.55v1.55h-1.55zM99.4 149.7h1.55v1.55h-1.55zM140.9 152.8h1.55v1.55h-1.55zM37.5 125.2h1.55v1.55h-1.55zM183.3 151.7h1.55v1.55h-1.55zM35.2 120.3h1.55v1.55h-1.55zM44.6 125.6h1.55v1.55h-1.55zM33.8 118.8h1.55v1.55h-1.55zM27.3 118.2h1.55v1.55h-1.55zM147.0 160.5h1.55v1.55h-1.55zM130.0 155.6h1.55v1.55h-1.55zM102.6 151.3h1.55v1.55h-1.55zM157.6 161.1h1.55v1.55h-1.55zM116.2 150.7h1.55v1.55h-1.55zM65.4 136.9h1.55v1.55h-1.55zM104.4 152.4h1.55v1.55h-1.55zM105.5 151.2h1.55v1.55h-1.55zM151.0 157.2h1.55v1.55h-1.55zM110.5 149.0h1.55v1.55h-1.55zM38.9 121.7h1.55v1.55h-1.55zM52.5 129.9h1.55v1.55h-1.55zM53.8 129.9h1.55v1.55h-1.55zM162.5 160.8h1.55v1.55h-1.55zM64.4 135.5h1.55v1.55h-1.55zM143.1 157.3h1.55v1.55h-1.55zM119.7 149.7h1.55v1.55h-1.55zM173.4 162.5h1.55v1.55h-1.55zM60.2 135.4h1.55v1.55h-1.55zM147.5 151.9h1.55v1.55h-1.55zM126.5 155.5h1.55v1.55h-1.55zM119.3 150.1h1.55v1.55h-1.55zM102.3 149.2h1.55v1.55h-1.55zM105.1 147.4h1.55v1.55h-1.55zM126.8 152.3h1.55v1.55h-1.55zM108.9 151.1h1.55v1.55h-1.55zM119.8 153.4h1.55v1.55h-1.55zM146.7 153.1h1.55v1.55h-1.55zM175.6 164.2h1.55v1.55h-1.55zM28.5 117.8h1.55v1.55h-1.55zM114.4 151.4h1.55v1.55h-1.55zM174.3 155.9h1.55v1.55h-1.55zM101.0 151.6h1.55v1.55h-1.55zM80.0 144.1h1.55v1.55h-1.55zM142.2 151.5h1.55v1.55h-1.55zM81.0 144.6h1.55v1.55h-1.55zM65.4 136.9h1.55v1.55h-1.55zM181.9 153.9h1.55v1.55h-1.55zM67.6 140.2h1.55v1.55h-1.55zM165.8 156.2h1.55v1.55h-1.55zM48.7 129.1h1.55v1.55h-1.55zM132.7 155.3h1.55v1.55h-1.55zM147.9 152.7h1.55v1.55h-1.55zM73.9 143.3h1.55v1.55h-1.55zM56.0 132.0h1.55v1.55h-1.55zM100.2 147.7h1.55v1.55h-1.55zM160.8 161.7h1.55v1.55h-1.55zM56.0 133.1h1.55v1.55h-1.55zM139.0 157.1h1.55v1.55h-1.55zM112.6 151.2h1.55v1.55h-1.55zM33.9 120.9h1.55v1.55h-1.55zM38.6 122.6h1.55v1.55h-1.55zM147.4 151.1h1.55v1.55h-1.55zM152.6 154.0h1.55v1.55h-1.55zM96.0 150.5h1.55v1.55h-1.55zM151.8 153.3h1.55v1.55h-1.55zM44.0 127.8h1.55v1.55h-1.55zM169.6 166.6h1.55v1.55h-1.55zM92.0 144.6h1.55v1.55h-1.55zM21.8 116.1h1.55v1.55h-1.55zM151.8 157.3h1.55v1.55h-1.55zM128.8 154.1h1.55v1.55h-1.55zM151.0 160.8h1.55v1.55h-1.55zM168.9 159.5h1.55v1.55h-1.55zM82.4 148.1h1.55v1.55h-1.55zM182.1 158.5h1.55v1.55h-1.55zM75.4 145.2h1.55v1.55h-1.55zM128.5 155.0h1.55v1.55h-1.55zM68.7 140.8h1.55v1.55h-1.55zM140.3 153.1h1.55v1.55h-1.55zM114.5 154.5h1.55v1.55h-1.55zM173.9 153.7h1.55v1.55h-1.55zM57.0 133.1h1.55v1.55h-1.55zM104.6 151.3h1.55v1.55h-1.55zM57.9 132.7h1.55v1.55h-1.55zM86.7 145.4h1.55v1.55h-1.55zM107.1 148.3h1.55v1.55h-1.55zM164.9 163.0h1.55v1.55h-1.55zM117.9 150.7h1.55v1.55h-1.55zM64.3 136.9h1.55v1.55h-1.55zM100.9 147.5h1.55v1.55h-1.55zM26.2 116.6h1.55v1.55h-1.55zM118.0 151.5h1.55v1.55h-1.55zM119.9 155.9h1.55v1.55h-1.55zM74.5 144.6h1.55v1.55h-1.55zM188.5 159.0h1.55v1.55h-1.55zM21.4 117.4h1.55v1.55h-1.55zM162.6 167.5h1.55v1.55h-1.55zM54.1 133.0h1.55v1.55h-1.55zM95.1 147.4h1.55v1.55h-1.55zM110.0 149.9h1.55v1.55h-1.55zM116.9 151.9h1.55v1.55h-1.55zM126.2 157.4h1.55v1.55h-1.55zM147.4 152.5h1.55v1.55h-1.55zM62.2 135.1h1.55v1.55h-1.55zM29.0 118.3h1.55v1.55h-1.55zM49.4 127.9h1.55v1.55h-1.55zM101.3 146.5h1.55v1.55h-1.55zM167.6 158.9h1.55v1.55h-1.55zM73.5 143.6h1.55v1.55h-1.55zM45.2 128.5h1.55v1.55h-1.55zM174.0 161.6h1.55v1.55h-1.55zM179.4 154.6h1.55v1.55h-1.55zM36.9 120.8h1.55v1.55h-1.55zM36.0 123.7h1.55v1.55h-1.55zM183.5 153.8h1.55v1.55h-1.55zM99.1 146.5h1.55v1.55h-1.55zM111.1 151.4h1.55v1.55h-1.55zM27.8 118.1h1.55v1.55h-1.55zM98.1 149.4h1.55v1.55h-1.55zM148.1 153.3h1.55v1.55h-1.55zM99.6 147.8h1.55v1.55h-1.55zM132.1 157.8h1.55v1.55h-1.55zM22.8 115.2h1.55v1.55h-1.55zM23.2 115.8h1.55v1.55h-1.55zM172.3 153.7h1.55v1.55h-1.55zM180.9 152.2h1.55v1.55h-1.55zM87.8 145.0h1.55v1.55h-1.55zM187.4 157.9h1.55v1.55h-1.55zM48.0 127.6h1.55v1.55h-1.55zM99.6 146.2h1.55v1.55h-1.55zM177.1 155.1h1.55v1.55h-1.55zM36.0 121.3h1.55v1.55h-1.55zM129.2 152.1h1.55v1.55h-1.55zM79.5 144.8h1.55v1.55h-1.55zM54.7 130.7h1.55v1.55h-1.55zM91.4 146.4h1.55v1.55h-1.55zM176.6 159.2h1.55v1.55h-1.55zM79.8 144.1h1.55v1.55h-1.55zM175.8 155.1h1.55v1.55h-1.55zM73.1 143.8h1.55v1.55h-1.55zM74.7 143.7h1.55v1.55h-1.55zM149.0 152.9h1.55v1.55h-1.55zM32.0 118.2h1.55v1.55h-1.55zM77.4 145.6h1.55v1.55h-1.55zM82.7 147.7h1.55v1.55h-1.55zM126.8 158.3h1.55v1.55h-1.55zM30.1 119.6h1.55v1.55h-1.55zM170.5 154.6h1.55v1.55h-1.55zM36.1 124.5h1.55v1.55h-1.55zM174.9 154.7h1.55v1.55h-1.55zM187.5 151.6h1.55v1.55h-1.55zM20.8 115.0h1.55v1.55h-1.55zM174.6 162.9h1.55v1.55h-1.55zM125.9 157.4h1.55v1.55h-1.55zM42.1 126.4h1.55v1.55h-1.55zM177.6 152.7h1.55v1.55h-1.55zM86.8 145.9h1.55v1.55h-1.55zM28.9 119.3h1.55v1.55h-1.55zM122.9 155.7h1.55v1.55h-1.55zM129.6 154.3h1.55v1.55h-1.55zM129.4 151.7h1.55v1.55h-1.55zM138.3 152.1h1.55v1.55h-1.55zM170.0 154.2h1.55v1.55h-1.55zM23.6 117.3h1.55v1.55h-1.55zM56.9 134.5h1.55v1.55h-1.55zM145.4 152.8h1.55v1.55h-1.55zM108.5 148.3h1.55v1.55h-1.55zM23.9 42.0h1.55v1.55h-1.55zM24.0 43.2h1.55v1.55h-1.55zM22.0 34.5h1.55v1.55h-1.55zM31.6 51.8h1.55v1.55h-1.55zM23.5 40.3h1.55v1.55h-1.55zM37.1 54.4h1.55v1.55h-1.55zM31.1 52.5h1.55v1.55h-1.55zM26.9 38.2h1.55v1.55h-1.55zM37.1 57.4h1.55v1.55h-1.55zM22.7 34.9h1.55v1.55h-1.55zM24.0 41.9h1.55v1.55h-1.55zM27.0 38.4h1.55v1.55h-1.55zM23.3 35.8h1.55v1.55h-1.55zM34.0 51.4h1.55v1.55h-1.55zM23.2 38.0h1.55v1.55h-1.55zM35.9 55.8h1.55v1.55h-1.55zM25.1 45.6h1.55v1.55h-1.55zM26.6 37.2h1.55v1.55h-1.55zM30.1 48.6h1.55v1.55h-1.55zM35.7 57.0h1.55v1.55h-1.55zM35.3 47.4h1.55v1.55h-1.55zM22.2 39.2h1.55v1.55h-1.55zM21.1 35.0h1.55v1.55h-1.55zM34.3 42.6h1.55v1.55h-1.55zM35.0 50.4h1.55v1.55h-1.55zM33.9 46.6h1.55v1.55h-1.55zM35.7 55.1h1.55v1.55h-1.55zM27.9 45.9h1.55v1.55h-1.55zM21.3 35.8h1.55v1.55h-1.55zM27.7 46.1h1.55v1.55h-1.55zM23.3 38.2h1.55v1.55h-1.55zM28.6 45.2h1.55v1.55h-1.55zM33.5 53.8h1.55v1.55h-1.55zM37.0 44.8h1.55v1.55h-1.55zM29.2 47.0h1.55v1.55h-1.55zM25.6 38.5h1.55v1.55h-1.55zM26.2 45.2h1.55v1.55h-1.55zM22.5 37.7h1.55v1.55h-1.55zM34.4 55.8h1.55v1.55h-1.55zM27.0 46.7h1.55v1.55h-1.55zM33.7 51.9h1.55v1.55h-1.55zM38.2 50.2h1.55v1.55h-1.55zM22.8 41.0h1.55v1.55h-1.55zM34.1 52.8h1.55v1.55h-1.55zM22.5 37.1h1.55v1.55h-1.55zM37.1 54.2h1.55v1.55h-1.55zM37.8 50.5h1.55v1.55h-1.55zM37.5 52.6h1.55v1.55h-1.55zM24.7 43.0h1.55v1.55h-1.55zM28.5 47.1h1.55v1.55h-1.55zM37.9 58.4h1.55v1.55h-1.55zM35.3 52.3h1.55v1.55h-1.55zM38.5 49.7h1.55v1.55h-1.55zM23.4 35.6h1.55v1.55h-1.55zM29.7 49.9h1.55v1.55h-1.55zM27.6 41.8h1.55v1.55h-1.55zM24.0 41.6h1.55v1.55h-1.55zM21.2 35.7h1.55v1.55h-1.55zM33.1 45.3h1.55v1.55h-1.55zM37.9 55.1h1.55v1.55h-1.55zM35.7 46.8h1.55v1.55h-1.55zM21.4 33.5h1.55v1.55h-1.55zM28.8 50.0h1.55v1.55h-1.55zM38.8 58.8h1.55v1.55h-1.55zM35.6 56.2h1.55v1.55h-1.55zM32.5 42.8h1.55v1.55h-1.55zM26.6 46.3h1.55v1.55h-1.55zM30.4 49.0h1.55v1.55h-1.55zM28.1 48.7h1.55v1.55h-1.55zM29.2 49.2h1.55v1.55h-1.55zM32.3 50.9h1.55v1.55h-1.55zM36.5 44.5h1.55v1.55h-1.55zM23.7 42.3h1.55v1.55h-1.55zM28.8 40.5h1.55v1.55h-1.55zM25.6 44.1h1.55v1.55h-1.55zM28.9 40.5h1.55v1.55h-1.55zM21.1 34.0h1.55v1.55h-1.55zM24.7 39.0h1.55v1.55h-1.55zM36.0 56.9h1.55v1.55h-1.55zM25.7 41.2h1.55v1.55h-1.55zM33.9 38.4h1.55v1.55h-1.55zM75.9 59.6h1.55v1.55h-1.55zM110.2 81.0h1.55v1.55h-1.55zM177.5 114.9h1.55v1.55h-1.55zM168.6 111.2h1.55v1.55h-1.55zM111.0 83.1h1.55v1.55h-1.55zM28.0 43.4h1.55v1.55h-1.55zM146.6 98.8h1.55v1.55h-1.55zM171.6 105.9h1.55v1.55h-1.55zM65.1 54.3h1.55v1.55h-1.55zM155.6 98.3h1.55v1.55h-1.55zM30.6 44.4h1.55v1.55h-1.55zM88.0 43.4h1.55v1.55h-1.55zM185.2 102.5h1.55v1.55h-1.55zM120.4 88.9h1.55v1.55h-1.55zM136.3 94.2h1.55v1.55h-1.55zM174.4 107.4h1.55v1.55h-1.55zM174.2 101.7h1.55v1.55h-1.55zM137.4 96.5h1.55v1.55h-1.55zM24.4 21.8h1.55v1.55h-1.55zM101.8 71.5h1.55v1.55h-1.55zM114.7 85.9h1.55v1.55h-1.55zM135.4 92.3h1.55v1.55h-1.55zM140.2 93.0h1.55v1.55h-1.55zM100.6 49.5h1.55v1.55h-1.55zM47.5 52.1h1.55v1.55h-1.55zM115.0 86.7h1.55v1.55h-1.55zM183.2 102.3h1.55v1.55h-1.55zM78.7 45.0h1.55v1.55h-1.55zM97.0 64.2h1.55v1.55h-1.55zM115.5 80.4h1.55v1.55h-1.55zM114.6 76.2h1.55v1.55h-1.55zM123.7 86.7h1.55v1.55h-1.55zM38.4 45.1h1.55v1.55h-1.55zM86.9 60.2h1.55v1.55h-1.55zM75.2 49.3h1.55v1.55h-1.55zM127.3 87.3h1.55v1.55h-1.55zM129.7 92.7h1.55v1.55h-1.55zM43.6 35.5h1.55v1.55h-1.55zM175.9 98.3h1.55v1.55h-1.55zM103.3 69.0h1.55v1.55h-1.55zM72.0 52.3h1.55v1.55h-1.55zM24.3 24.2h1.55v1.55h-1.55zM61.5 54.3h1.55v1.55h-1.55zM54.1 49.1h1.55v1.55h-1.55zM105.8 162.0h1.55v1.55h-1.55zM118.8 158.4h1.55v1.55h-1.55zM169.7 169.5h1.55v1.55h-1.55zM125.1 160.6h1.55v1.55h-1.55zM107.3 162.9h1.55v1.55h-1.55zM167.0 178.4h1.55v1.55h-1.55zM75.6 150.6h1.55v1.55h-1.55zM116.0 156.7h1.55v1.55h-1.55zM167.7 174.0h1.55v1.55h-1.55zM89.8 158.9h1.55v1.55h-1.55zM189.0 162.1h1.55v1.55h-1.55zM46.8 132.7h1.55v1.55h-1.55zM177.2 163.9h1.55v1.55h-1.55zM77.5 147.7h1.55v1.55h-1.55zM128.0 161.2h1.55v1.55h-1.55z" fill="#b0c4de"/>
<path d="M186.1 149.2h1.2v1.2h-1.2zM181.3 143.6h1.2v1.2h-1.2zM188.2 146.1h1.2v1.2h-1.2zM178.7 137.8h1.2v1.2h-1.2zM171.8 149.4h1.2v1.2h-1.2zM168.7 135.8h1.2v1.2h-1.2zM173.9 151.8h1.2v1.2h-1.2zM180.7 145.7h1.2v1.2h-1.2zM165.7 148.7h1.2v1.2h-1.2zM182.1 135.9h1.2v1.2h-1.2zM177.4 151.9h1.2v1.2h-1.2zM174.4 140.8h1.2v1.2h-1.2zM174.3 136.8h1.2v1.2h-1.2zM166.3 150.0h1.2v1.2h-1.2zM177.1 136.1h1.2v1.2h-1.2zM177.6 136.6h1.2v1.2h-1.2zM170.1 136.3h1.2v1.2h-1.2zM183.0 136.2h1.2v1.2h-1.2zM174.2 138.5h1.2v1.2h-1.2zM158.1 151.8h1.2v1.2h-1.2zM172.1 153.5h1.2v1.2h-1.2zM180.7 145.2h1.2v1.2h-1.2zM168.8 153.8h1.2v1.2h-1.2zM181.8 135.4h1.2v1.2h-1.2zM169.7 149.2h1.2v1.2h-1.2zM159.8 132.3h1.2v1.2h-1.2zM182.9 146.1h1.2v1.2h-1.2zM164.5 135.9h1.2v1.2h-1.2zM188.7 149.7h1.2v1.2h-1.2zM166.8 148.9h1.2v1.2h-1.2zM172.5 147.6h1.2v1.2h-1.2zM188.9 150.2h1.2v1.2h-1.2zM185.4 141.3h1.2v1.2h-1.2zM178.9 149.3h1.2v1.2h-1.2zM165.4 135.2h1.2v1.2h-1.2zM187.1 138.6h1.2v1.2h-1.2zM177.1 149.0h1.2v1.2h-1.2zM172.1 143.2h1.2v1.2h-1.2zM185.8 142.6h1.2v1.2h-1.2zM169.8 132.6h1.2v1.2h-1.2zM183.0 140.2h1.2v1.2h-1.2zM168.0 152.6h1.2v1.2h-1.2zM169.4 153.3h1.2v1.2h-1.2zM162.2 138.0h1.2v1.2h-1.2zM167.2 145.6h1.2v1.2h-1.2zM184.4 136.7h1.2v1.2h-1.2zM180.9 140.3h1.2v1.2h-1.2zM167.5 132.1h1.2v1.2h-1.2zM181.0 144.5h1.2v1.2h-1.2zM170.7 132.3h1.2v1.2h-1.2zM168.5 133.8h1.2v1.2h-1.2zM161.3 152.8h1.2v1.2h-1.2zM158.3 144.2h1.2v1.2h-1.2zM177.5 140.2h1.2v1.2h-1.2zM158.8 153.2h1.2v1.2h-1.2zM171.1 146.2h1.2v1.2h-1.2zM159.2 138.8h1.2v1.2h-1.2zM178.0 137.7h1.2v1.2h-1.2zM168.8 151.7h1.2v1.2h-1.2zM181.7 148.9h1.2v1.2h-1.2zM172.5 151.9h1.2v1.2h-1.2zM165.2 142.5h1.2v1.2h-1.2zM159.6 139.8h1.2v1.2h-1.2zM167.6 130.6h1.2v1.2h-1.2zM178.9 139.3h1.2v1.2h-1.2zM182.8 152.0h1.2v1.2h-1.2zM183.6 137.5h1.2v1.2h-1.2zM158.4 130.6h1.2v1.2h-1.2zM168.3 133.3h1.2v1.2h-1.2zM187.4 137.5h1.2v1.2h-1.2zM169.7 153.4h1.2v1.2h-1.2zM167.5 147.2h1.2v1.2h-1.2zM159.6 128.1h1.2v1.2h-1.2zM184.3 151.2h1.2v1.2h-1.2zM172.8 143.6h1.2v1.2h-1.2zM160.3 135.3h1.2v1.2h-1.2zM177.8 143.5h1.2v1.2h-1.2zM171.6 149.4h1.2v1.2h-1.2zM189.1 146.4h1.2v1.2h-1.2zM166.7 132.7h1.2v1.2h-1.2zM180.8 147.8h1.2v1.2h-1.2zM181.3 137.9h1.2v1.2h-1.2zM167.9 148.2h1.2v1.2h-1.2zM173.7 142.3h1.2v1.2h-1.2zM166.2 132.0h1.2v1.2h-1.2zM165.0 137.1h1.2v1.2h-1.2zM172.1 151.1h1.2v1.2h-1.2zM180.8 147.2h1.2v1.2h-1.2zM178.0 146.7h1.2v1.2h-1.2zM176.1 136.0h1.2v1.2h-1.2zM172.3 137.1h1.2v1.2h-1.2zM170.0 147.7h1.2v1.2h-1.2zM169.9 143.5h1.2v1.2h-1.2zM172.8 143.0h1.2v1.2h-1.2zM182.7 141.1h1.2v1.2h-1.2zM178.8 148.9h1.2v1.2h-1.2zM171.5 149.6h1.2v1.2h-1.2zM179.1 149.3h1.2v1.2h-1.2zM165.7 135.8h1.2v1.2h-1.2zM177.6 149.7h1.2v1.2h-1.2zM165.6 132.2h1.2v1.2h-1.2zM187.4 136.5h1.2v1.2h-1.2zM179.7 138.0h1.2v1.2h-1.2zM184.8 142.0h1.2v1.2h-1.2zM164.0 140.9h1.2v1.2h-1.2zM174.9 135.3h1.2v1.2h-1.2zM175.3 152.1h1.2v1.2h-1.2zM158.2 138.6h1.2v1.2h-1.2zM178.7 138.4h1.2v1.2h-1.2zM179.6 146.3h1.2v1.2h-1.2zM169.0 141.0h1.2v1.2h-1.2zM159.4 149.1h1.2v1.2h-1.2zM167.5 130.5h1.2v1.2h-1.2zM165.2 136.7h1.2v1.2h-1.2zM174.7 140.9h1.2v1.2h-1.2zM167.5 139.5h1.2v1.2h-1.2zM187.9 150.3h1.2v1.2h-1.2zM162.0 146.9h1.2v1.2h-1.2zM178.3 151.0h1.2v1.2h-1.2zM179.6 142.9h1.2v1.2h-1.2zM182.2 141.4h1.2v1.2h-1.2zM187.4 149.8h1.2v1.2h-1.2zM178.1 139.2h1.2v1.2h-1.2zM179.6 143.3h1.2v1.2h-1.2zM177.5 151.0h1.2v1.2h-1.2zM178.5 143.9h1.2v1.2h-1.2zM184.8 143.6h1.2v1.2h-1.2zM184.8 135.3h1.2v1.2h-1.2zM169.4 139.6h1.2v1.2h-1.2zM168.5 132.7h1.2v1.2h-1.2zM169.1 141.0h1.2v1.2h-1.2zM164.4 133.1h1.2v1.2h-1.2zM164.9 151.0h1.2v1.2h-1.2zM184.8 147.1h1.2v1.2h-1.2zM166.8 142.0h1.2v1.2h-1.2zM161.8 154.5h1.2v1.2h-1.2zM170.9 142.9h1.2v1.2h-1.2zM171.5 131.6h1.2v1.2h-1.2zM172.3 145.2h1.2v1.2h-1.2zM187.3 145.0h1.2v1.2h-1.2zM178.7 140.8h1.2v1.2h-1.2zM180.5 151.9h1.2v1.2h-1.2zM172.4 133.1h1.2v1.2h-1.2zM168.3 130.1h1.2v1.2h-1.2zM175.2 135.8h1.2v1.2h-1.2zM158.5 148.4h1.2v1.2h-1.2zM171.3 136.1h1.2v1.2h-1.2zM160.9 137.4h1.2v1.2h-1.2zM188.4 138.6h1.2v1.2h-1.2zM175.1 151.2h1.2v1.2h-1.2zM186.2 140.1h1.2v1.2h-1.2zM188.8 139.4h1.2v1.2h-1.2zM176.7 136.8h1.2v1.2h-1.2zM180.5 141.5h1.2v1.2h-1.2zM173.8 140.8h1.2v1.2h-1.2zM178.0 150.7h1.2v1.2h-1.2zM176.5 134.6h1.2v1.2h-1.2zM180.6 136.8h1.2v1.2h-1.2zM168.3 132.7h1.2v1.2h-1.2zM184.5 141.5h1.2v1.2h-1.2zM168.9 141.0h1.2v1.2h-1.2zM165.2 150.3h1.2v1.2h-1.2zM175.9 144.2h1.2v1.2h-1.2zM164.4 149.4h1.2v1.2h-1.2zM161.8 146.1h1.2v1.2h-1.2zM185.0 139.3h1.2v1.2h-1.2zM164.8 149.3h1.2v1.2h-1.2zM180.8 149.5h1.2v1.2h-1.2zM166.0 139.0h1.2v1.2h-1.2zM188.1 140.6h1.2v1.2h-1.2zM166.5 153.1h1.2v1.2h-1.2zM164.0 143.0h1.2v1.2h-1.2zM180.7 151.1h1.2v1.2h-1.2zM184.2 150.1h1.2v1.2h-1.2zM168.1 150.2h1.2v1.2h-1.2zM187.5 140.5h1.2v1.2h-1.2zM180.3 138.8h1.2v1.2h-1.2zM166.4 144.7h1.2v1.2h-1.2zM174.9 146.8h1.2v1.2h-1.2zM161.9 135.7h1.2v1.2h-1.2zM187.1 139.8h1.2v1.2h-1.2zM167.0 133.8h1.2v1.2h-1.2zM183.9 146.1h1.2v1.2h-1.2zM185.9 146.7h1.2v1.2h-1.2zM186.2 140.2h1.2v1.2h-1.2zM179.8 136.4h1.2v1.2h-1.2zM163.0 148.8h1.2v1.2h-1.2zM174.9 144.5h1.2v1.2h-1.2zM183.4 149.2h1.2v1.2h-1.2zM174.5 142.6h1.2v1.2h-1.2zM173.4 149.6h1.2v1.2h-1.2zM160.4 133.0h1.2v1.2h-1.2zM161.0 144.8h1.2v1.2h-1.2zM184.2 140.9h1.2v1.2h-1.2zM171.4 140.7h1.2v1.2h-1.2zM182.6 139.1h1.2v1.2h-1.2zM182.8 140.1h1.2v1.2h-1.2zM173.8 149.3h1.2v1.2h-1.2zM159.6 137.5h1.2v1.2h-1.2zM186.5 145.1h1.2v1.2h-1.2zM188.9 140.3h1.2v1.2h-1.2zM175.1 151.1h1.2v1.2h-1.2zM187.4 139.6h1.2v1.2h-1.2zM163.0 131.7h1.2v1.2h-1.2zM158.4 127.6h1.2v1.2h-1.2zM170.2 142.8h1.2v1.2h-1.2zM179.2 138.7h1.2v1.2h-1.2zM184.3 149.3h1.2v1.2h-1.2zM176.8 147.6h1.2v1.2h-1.2zM166.0 145.5h1.2v1.2h-1.2zM177.8 140.8h1.2v1.2h-1.2zM184.0 136.1h1.2v1.2h-1.2zM187.5 143.8h1.2v1.2h-1.2zM162.5 137.5h1.2v1.2h-1.2zM174.2 136.5h1.2v1.2h-1.2zM160.6 150.0h1.2v1.2h-1.2zM162.6 149.8h1.2v1.2h-1.2zM172.9 151.6h1.2v1.2h-1.2zM188.2 150.9h1.2v1.2h-1.2zM181.2 141.3h1.2v1.2h-1.2zM185.7 140.0h1.2v1.2h-1.2zM160.4 154.3h1.2v1.2h-1.2zM164.0 151.2h1.2v1.2h-1.2zM186.5 148.4h1.2v1.2h-1.2zM185.7 140.2h1.2v1.2h-1.2zM173.4 142.3h1.2v1.2h-1.2zM177.9 137.2h1.2v1.2h-1.2zM177.1 149.0h1.2v1.2h-1.2zM158.9 139.9h1.2v1.2h-1.2zM167.2 146.8h1.2v1.2h-1.2zM161.6 148.1h1.2v1.2h-1.2zM173.4 153.4h1.2v1.2h-1.2zM171.6 135.0h1.2v1.2h-1.2zM178.4 151.8h1.2v1.2h-1.2zM184.1 139.7h1.2v1.2h-1.2zM173.0 140.9h1.2v1.2h-1.2zM159.3 135.5h1.2v1.2h-1.2zM184.7 145.7h1.2v1.2h-1.2zM184.8 135.3h1.2v1.2h-1.2zM173.1 148.9h1.2v1.2h-1.2zM161.6 150.4h1.2v1.2h-1.2zM187.3 143.0h1.2v1.2h-1.2zM168.4 136.8h1.2v1.2h-1.2zM178.6 142.1h1.2v1.2h-1.2zM174.7 151.1h1.2v1.2h-1.2zM161.5 140.3h1.2v1.2h-1.2zM174.7 143.9h1.2v1.2h-1.2zM171.4 137.7h1.2v1.2h-1.2zM165.8 152.0h1.2v1.2h-1.2zM178.9 150.7h1.2v1.2h-1.2zM182.3 143.3h1.2v1.2h-1.2zM183.6 151.7h1.2v1.2h-1.2zM188.0 135.5h1.2v1.2h-1.2zM181.2 142.4h1.2v1.2h-1.2zM167.6 145.4h1.2v1.2h-1.2zM168.2 148.0h1.2v1.2h-1.2zM177.5 147.5h1.2v1.2h-1.2zM173.7 146.9h1.2v1.2h-1.2zM172.1 135.0h1.2v1.2h-1.2zM186.7 150.7h1.2v1.2h-1.2zM101.0 99.5h1.2v1.2h-1.2zM107.4 105.8h1.2v1.2h-1.2zM110.8 108.4h1.2v1.2h-1.2zM103.3 102.4h1.2v1.2h-1.2zM111.4 101.8h1.2v1.2h-1.2zM94.5 93.1h1.2v1.2h-1.2zM91.3 98.0h1.2v1.2h-1.2zM100.8 99.5h1.2v1.2h-1.2zM98.0 96.5h1.2v1.2h-1.2zM104.3 102.2h1.2v1.2h-1.2zM106.7 103.2h1.2v1.2h-1.2zM98.7 95.8h1.2v1.2h-1.2zM93.9 99.8h1.2v1.2h-1.2zM94.5 97.2h1.2v1.2h-1.2zM90.9 98.2h1.2v1.2h-1.2zM97.8 96.7h1.2v1.2h-1.2zM110.0 106.6h1.2v1.2h-1.2zM110.1 106.5h1.2v1.2h-1.2zM106.9 105.5h1.2v1.2h-1.2zM103.6 98.8h1.2v1.2h-1.2zM106.3 100.8h1.2v1.2h-1.2zM111.0 104.8h1.2v1.2h-1.2zM93.1 93.4h1.2v1.2h-1.2zM101.9 96.7h1.2v1.2h-1.2zM101.5 99.5h1.2v1.2h-1.2zM99.9 96.0h1.2v1.2h-1.2zM107.9 104.6h1.2v1.2h-1.2zM101.6 103.6h1.2v1.2h-1.2zM110.9 106.8h1.2v1.2h-1.2zM92.1 94.1h1.2v1.2h-1.2zM104.4 100.8h1.2v1.2h-1.2zM104.1 99.4h1.2v1.2h-1.2zM109.9 107.2h1.2v1.2h-1.2zM93.7 95.6h1.2v1.2h-1.2zM94.3 98.2h1.2v1.2h-1.2zM112.8 106.4h1.2v1.2h-1.2zM101.6 102.3h1.2v1.2h-1.2zM99.5 102.8h1.2v1.2h-1.2zM109.6 103.0h1.2v1.2h-1.2zM101.1 102.3h1.2v1.2h-1.2zM101.5 96.4h1.2v1.2h-1.2zM103.4 97.6h1.2v1.2h-1.2zM92.8 99.1h1.2v1.2h-1.2zM96.7 96.5h1.2v1.2h-1.2zM111.1 107.7h1.2v1.2h-1.2zM101.2 102.9h1.2v1.2h-1.2zM95.2 93.4h1.2v1.2h-1.2zM106.2 102.2h1.2v1.2h-1.2zM106.6 101.8h1.2v1.2h-1.2zM96.8 97.2h1.2v1.2h-1.2zM112.8 102.3h1.2v1.2h-1.2zM108.3 102.6h1.2v1.2h-1.2zM102.4 100.2h1.2v1.2h-1.2zM112.1 107.1h1.2v1.2h-1.2zM99.2 95.4h1.2v1.2h-1.2zM95.7 99.9h1.2v1.2h-1.2zM105.7 103.5h1.2v1.2h-1.2zM111.3 107.8h1.2v1.2h-1.2zM92.8 97.1h1.2v1.2h-1.2zM94.2 92.8h1.2v1.2h-1.2z" fill="#ffffff" fill-opacity="0.85"/>
<polygon points="17.4,0.0 20.7,0.0 21.1,12.6 21.4,25.3 21.7,35.4 23.3,41.7 25.9,46.7 30.0,51.8 34.3,56.2 38.7,59.3 43.1,62.5 47.3,65.7 51.8,69.4 58.0,70.7 58.3,82.1 58.3,122.5 57.3,126.3 55.9,123.7 54.5,128.8 52.8,122.5 50.0,120.0 46.6,119.3 41.4,117.4 34.5,114.9 27.6,117.4 25.2,122.5 24.2,128.8 22.4,129.4 21.1,123.7 19.8,121.2 18.1,113.6 17.3,94.7 17.1,63.1 17.3,31.6 17.4,0.0" fill="#4682b4"/>
<path d="M36.8 58.7h1.5v1.5h-1.5zM51.0 68.8h1.5v1.5h-1.5zM46.5 72.7h1.5v1.5h-1.5zM41.8 69.4h1.5v1.5h-1.5zM48.8 72.0h1.5v1.5h-1.5zM40.5 60.6h1.5v1.5h-1.5zM52.7 77.9h1.5v1.5h-1.5zM43.0 68.6h1.5v1.5h-1.5zM44.8 64.4h1.5v1.5h-1.5zM56.4 75.8h1.5v1.5h-1.5zM49.7 70.8h1.5v1.5h-1.5zM48.4 69.4h1.5v1.5h-1.5zM50.3 71.6h1.5v1.5h-1.5zM45.2 72.1h1.5v1.5h-1.5zM38.5 60.7h1.5v1.5h-1.5zM51.8 78.3h1.5v1.5h-1.5zM43.7 68.5h1.5v1.5h-1.5zM38.0 65.4h1.5v1.5h-1.5zM35.6 64.7h1.5v1.5h-1.5zM45.3 65.6h1.5v1.5h-1.5zM41.3 66.9h1.5v1.5h-1.5zM51.4 73.8h1.5v1.5h-1.5zM25.1 61.1h1.5v1.5h-1.5zM26.8 62.2h1.5v1.5h-1.5zM22.8 43.3h1.5v1.5h-1.5zM33.3 55.2h1.5v1.5h-1.5zM30.8 55.7h1.5v1.5h-1.5zM30.1 57.3h1.5v1.5h-1.5zM32.2 66.7h1.5v1.5h-1.5zM30.0 59.9h1.5v1.5h-1.5zM32.4 62.0h1.5v1.5h-1.5zM24.9 53.6h1.5v1.5h-1.5z" fill="#b0c4de"/>
<rect x="33.1" y="44.2" width="1.4" height="8.2" fill="#4682b4"/>
<rect x="45.2" y="58.1" width="1.4" height="10.1" fill="#4682b4"/>
<rect x="61.3" y="73.2" width="1.6" height="8.8" fill="#4682b4"/>
<rect x="57.9" y="96.0" width="1.6" height="24.0" fill="#4682b4"/>
<rect x="59.1" y="98.5" width="1.6" height="22.7" fill="#4682b4"/>
<rect x="60.4" y="96.0" width="1.8" height="22.7" fill="#4682b4"/>
<rect x="62.2" y="101.0" width="1.6" height="18.9" fill="#4682b4"/>
<rect x="63.5" y="104.2" width="1.4" height="13.3" fill="#4682b4"/>
<rect x="64.7" y="78.3" width="1.8" height="14.5" fill="#4682b4"/>
<rect x="67.4" y="66.3" width="1.6" height="7.6" fill="#4682b4"/>
<rect x="68.1" y="99.8" width="1.8" height="15.2" fill="#4682b4"/>
<rect x="72.2" y="88.4" width="1.6" height="5.1" fill="#4682b4"/>
<rect x="74.3" y="110.5" width="3.6" height="5.7" fill="#4682b4"/>
<rect x="79.1" y="110.5" width="2.6" height="27.1" fill="#4682b4"/>
<rect x="79.1" y="72.0" width="1.6" height="1.9" fill="#4682b4"/>
<rect x="67.9" y="131.9" width="1.6" height="1.9" fill="#4682b4"/>
<rect x="87.0" y="136.4" width="1.4" height="1.9" fill="#4682b4"/>
<rect x="58.6" y="72.6" width="1.6" height="15.8" fill="#4682b4"/>
<rect x="59.6" y="68.2" width="1.5" height="7.6" fill="#4682b4"/>
<rect x="64.3" y="65.0" width="1.4" height="8.8" fill="#4682b4"/>
<rect x="114.9" y="132.6" width="1.5" height="3.8" fill="#4682b4"/>
<rect x="140.9" y="126.9" width="1.5" height="5.7" fill="#4682b4"/>
<rect x="159.0" y="137.0" width="1.5" height="5.1" fill="#4682b4"/>
<rect x="120.1" y="133.8" width="1.4" height="1.3" fill="#4682b4"/>
<rect x="66.1" y="101.0" width="1.4" height="9.5" fill="#4682b4"/>
<rect x="70.4" y="82.1" width="1.4" height="6.3" fill="#4682b4"/>
<circle cx="67.29" cy="119.95" r="1.5" fill="#000"/>
</g>
<rect x="155.8" y="2.3" width="31.5" height="17" fill="#fff" stroke="#ddd" stroke-width="0.5" rx="1"/>
<rect x="157.2" y="4.5" width="12.4" height="4.6" fill="#b0c4de"/>
<rect x="157.2" y="12.1" width="12.4" height="4.6" fill="#4682b4"/>
<text x="171.3" y="8.9" font-size="5.2" font-family='"Liberation Sans", sans-serif'>X-ray</text>
<text x="171.8" y="16.5" font-size="5.2" font-family='"Liberation Sans", sans-serif'>NMR</text>
<rect x="0" y="0" width="189.80" height="189.40" fill="none" stroke="#858585" stroke-width="0.85"/>
<line x1="-2" y1="0.00" x2="0" y2="0.00" stroke="#444" stroke-width="0.5"/>
<text x="-3.8" y="1.90" font-size="5.3" text-anchor="end" font-family='"Liberation Sans", sans-serif' fill="#222">10</text>
<line x1="-2" y1="31.57" x2="0" y2="31.57" stroke="#444" stroke-width="0.5"/>
<text x="-3.8" y="33.47" font-size="5.3" text-anchor="end" font-family='"Liberation Sans", sans-serif' fill="#222">5</text>
<line x1="-2" y1="63.13" x2="0" y2="63.13" stroke="#444" stroke-width="0.5"/>
<text x="-3.8" y="65.03" font-size="5.3" text-anchor="end" font-family='"Liberation Sans", sans-serif' fill="#222">0</text>
<line x1="-2" y1="94.70" x2="0" y2="94.70" stroke="#444" stroke-width="0.5"/>
<text x="-3.8" y="96.60" font-size="5.3" text-anchor="end" font-family='"Liberation Sans", sans-serif' fill="#222">−5</text>
<line x1="-2" y1="126.27" x2="0" y2="126.27" stroke="#444" stroke-width="0.5"/>
<text x="-3.8" y="128.17" font-size="5.3" text-anchor="end" font-family='"Liberation Sans", sans-serif' fill="#222">−10</text>
<line x1="-2" y1="157.83" x2="0" y2="157.83" stroke="#444" stroke-width="0.5"/>
<text x="-3.8" y="159.73" font-size="5.3" text-anchor="end" font-family='"Liberation Sans", sans-serif' fill="#222">−15</text>
<line x1="-2" y1="189.40" x2="0" y2="189.40" stroke="#444" stroke-width="0.5"/>
<text x="-3.8" y="191.30" font-size="5.3" text-anchor="end" font-family='"Liberation Sans", sans-serif' fill="#222">−20</text>
<line x1="17.25" y1="189.40" x2="17.25" y2="191.40" stroke="#444" stroke-width="0.5"/>
<text x="17.25" y="197.60" font-size="5.3" text-anchor="middle" font-family='"Liberation Sans", sans-serif' fill="#222">0</text>
<line x1="51.76" y1="189.40" x2="51.76" y2="191.40" stroke="#444" stroke-width="0.5"/>
<text x="51.76" y="197.60" font-size="5.3" text-anchor="middle" font-family='"Liberation Sans", sans-serif' fill="#222">200</text>
<line x1="86.27" y1="189.40" x2="86.27" y2="191.40" stroke="#444" stroke-width="0.5"/>
<text x="86.27" y="197.60" font-size="5.3" text-anchor="middle" font-family='"Liberation Sans", sans-serif' fill="#222">400</text>
<line x1="120.78" y1="189.40" x2="120.78" y2="191.40" stroke="#444" stroke-width="0.5"/>
<text x="120.78" y="197.60" font-size="5.3" text-anchor="middle" font-family='"Liberation Sans", sans-serif' fill="#222">600</text>
<line x1="155.29" y1="189.40" x2="155.29" y2="191.40" stroke="#444" stroke-width="0.5"/>
<text x="155.29" y="197.60" font-size="5.3" text-anchor="middle" font-family='"Liberation Sans", sans-serif' fill="#222">800</text>
<line x1="189.80" y1="189.40" x2="189.80" y2="191.40" stroke="#444" stroke-width="0.5"/>
<text x="189.80" y="197.60" font-size="5.3" text-anchor="middle" font-family='"Liberation Sans", sans-serif' fill="#222">1000</text>
<text x="94.50" y="204.80" font-size="5.45" text-anchor="middle" font-family='"Liberation Sans", sans-serif' fill="#222">Number of residues</text>
<text transform="translate(-17.9,95.70) rotate(-90)" font-size="5.6" text-anchor="middle" font-family='"Liberation Sans", sans-serif' fill="#222">Z-score</text>
</g>
<defs><clipPath id="ca"><rect x="492.8" y="34.7" width="191.4" height="190.8"/></clipPath></defs>
<g clip-path="url(#ca)">
<polyline points="501.0,186.7 501.1,188.4 501.1,189.8 501.2,190.7 501.2,191.8 501.3,193.2 501.3,195.0 501.4,196.0 501.4,196.9 501.4,198.1 501.5,199.7 501.5,201.5 501.6,202.8 501.6,204.0 501.7,204.8 501.7,206.4 501.9,207.7 502.1,209.0 502.2,209.5 502.4,211.0 503.1,212.5 503.1,211.4 503.2,210.2 503.3,209.0 503.3,208.0 503.4,207.1 503.5,205.8 503.5,204.1 503.6,202.8 503.7,201.3 503.7,200.4 503.8,198.7 503.8,197.8 503.8,196.5 503.9,195.6 503.9,195.0 503.9,194.0 503.9,192.9 504.0,190.7 504.0,189.4 504.0,188.2 504.1,187.2 504.1,186.1 504.1,184.8 504.2,183.4 504.2,182.2 504.2,180.8 504.3,180.2 504.3,178.7 504.3,177.8 504.3,176.2 504.4,175.3 504.4,173.8 504.4,172.8 504.5,171.3 504.5,170.5 504.5,169.2 504.6,168.0 504.6,166.4 504.6,165.2 504.6,164.0 504.7,163.3 504.7,161.8 504.7,160.6 504.8,159.2 504.8,158.1 504.8,156.8 504.8,155.5 504.9,154.1 504.9,152.6 504.9,151.2 505.0,150.3 505.0,149.6 505.0,148.6 505.0,147.5 505.1,146.1 505.2,147.4 505.4,148.5 505.6,149.9 505.7,151.5 506.4,152.7 507.1,151.0 507.1,152.3 507.2,153.7 507.2,155.3 507.3,156.3 507.3,157.3 507.4,158.8 507.4,160.3 507.5,161.8 507.5,162.7 507.6,163.6 507.6,164.6 507.7,165.7 507.7,167.0 507.8,168.6 507.8,170.0 507.9,171.2 507.9,172.5 508.0,173.4 508.0,174.8 508.1,176.0 508.2,177.3 508.2,178.0 508.3,178.8 508.3,180.2 508.4,181.9 508.4,183.6 508.5,184.6 508.5,185.7 508.5,186.8 508.5,188.2 508.6,188.9 508.6,190.2 508.6,191.9 508.7,193.9 508.7,194.7 508.7,195.4 508.7,196.5 508.8,198.4 508.8,199.9 508.8,201.1 508.8,202.1 508.9,203.2 508.9,204.8 508.9,205.6 508.9,206.8 509.0,207.8 509.0,209.4 509.0,210.9 509.1,212.0 509.1,212.6 509.1,213.6 509.2,214.7 509.3,216.3 509.4,217.9 509.4,219.3 509.5,221.0 509.6,222.2 509.7,223.5 509.8,224.7 509.8,223.6 509.9,222.6 510.0,221.3 510.0,220.0 510.1,218.3 510.2,217.5 510.2,216.7 510.3,215.7 510.4,214.1 510.5,212.3 510.6,211.0 510.7,209.8 510.9,209.2 511.0,207.8 511.1,206.3 511.2,206.7 511.3,208.3 511.5,209.8 511.6,211.3 511.7,212.4 511.8,213.4 512.1,215.8 512.5,217.3 512.5,216.5 512.6,214.5 512.6,212.6 512.7,211.2 512.7,209.7 512.8,209.0 512.8,207.4 512.9,206.3 512.9,205.2 513.0,204.7 513.0,203.4 513.1,201.6 513.1,200.2 513.2,201.8 513.3,203.2 513.3,204.0 513.4,204.9 513.5,206.1 513.5,207.3 513.6,208.9 513.7,210.5 513.7,212.3 513.8,213.2 513.9,211.8 513.9,210.0 514.0,208.8 514.1,207.3 514.1,206.0 514.2,204.9 514.3,204.3 514.3,203.6 514.4,202.5 514.5,201.1 514.8,202.1 515.2,203.2 515.3,204.4 515.5,205.7 515.7,206.7 515.8,207.8 515.9,206.7 516.0,205.7 516.1,204.6 516.2,203.5 516.3,202.2 516.4,201.0 516.5,199.7 516.6,200.8 516.8,201.6 516.9,202.9 517.0,204.2 517.2,206.2 517.5,204.8 517.8,203.8 518.0,205.1 518.2,205.9 518.3,207.2 518.5,208.2 518.6,209.8 518.8,211.0 518.9,212.6 519.0,214.3 519.2,215.9 519.2,214.2 519.3,212.6 519.4,210.7 519.4,209.8 519.5,208.8 519.5,207.9 519.6,206.8 519.6,205.5 519.7,204.6 519.7,203.1 519.8,201.7 519.9,200.1 520.1,199.3 520.3,198.3 520.5,197.1 521.2,195.5 521.3,194.1 521.3,192.9 521.4,191.6 521.5,190.3 521.5,188.8 521.6,187.5 521.7,186.7 521.7,185.9 521.8,184.8 521.9,183.2 521.9,181.9 522.0,180.8 522.1,179.5 522.1,178.3 522.2,177.0 522.3,175.8 522.3,174.4 522.4,172.9 522.5,171.7 522.5,170.8 522.6,169.2 522.7,168.0 522.8,166.3 522.9,165.4 523.0,164.1 523.1,163.1 523.2,161.9 523.4,163.2 523.6,164.2 523.7,165.5 523.9,167.0 524.0,168.4 524.1,169.6 524.2,170.5 524.3,171.7 524.4,173.0 524.5,174.8 524.6,176.4 524.9,178.0 525.2,179.4 525.5,180.6 525.7,182.1 525.9,183.3 526.2,184.5 526.6,185.3 526.7,183.6 526.8,182.8 526.9,182.0 527.0,180.6 527.1,179.3 527.2,177.6 527.6,176.5 527.9,174.8 528.0,173.6 528.0,172.1 528.0,170.8 528.1,169.4 528.1,168.7 528.1,168.1 528.2,167.7 528.2,166.3 528.2,164.3 528.3,162.5 528.3,161.1 528.3,160.7 528.4,159.7 528.4,158.5 528.4,157.1 528.5,155.9 528.5,154.5 528.5,153.0 528.6,151.6 528.6,150.7 529.3,149.5 529.6,148.2 529.9,146.9 530.0,145.5 530.0,144.1 530.1,143.2 530.1,142.1 530.2,141.1 530.2,139.3 530.3,137.9 530.3,136.8 530.4,135.6 530.4,134.6 530.5,133.1 530.6,132.2 530.6,130.7 530.7,132.2 530.9,133.7 531.0,135.0 531.1,136.6 531.3,137.5 531.9,136.1 532.3,134.6 532.6,133.2 532.8,134.6 533.0,136.0 533.1,137.8 533.3,138.9 533.5,137.4 533.7,136.2 534.0,135.5 534.1,134.0 534.2,132.2 534.3,130.5 534.4,129.0 534.5,127.7 534.6,126.4 535.3,127.9 535.6,129.6 536.0,130.9 536.1,132.0 536.3,133.3 536.5,134.5 536.6,136.0 536.7,137.1 536.8,138.6 536.9,139.8 537.0,141.2 537.1,143.0 537.2,144.5 537.2,145.8 537.3,146.9 537.4,148.6 537.5,150.1 537.7,151.4 537.8,152.2 537.9,153.2 538.0,154.4 538.2,156.2 538.4,158.0 538.7,159.4 538.9,160.6 539.1,161.7 539.3,162.9 540.7,164.3 541.4,165.8 541.7,167.1 542.0,168.3 542.4,169.3 542.7,170.9 542.9,172.6 543.1,174.2 543.2,175.3 543.4,176.5 543.6,177.5 543.8,178.7 544.0,179.5 544.2,180.7 544.3,181.6 544.5,183.2 544.7,184.4 544.8,185.8 544.9,187.1 545.0,188.8 545.0,190.0 545.1,191.1 545.2,192.3 545.3,193.6 545.4,195.3 545.5,196.3 545.6,197.9 545.7,198.7 545.8,200.3 545.9,201.6 546.1,203.1 546.1,204.8 546.2,206.4 546.3,208.6 546.4,209.6 546.5,210.7 546.6,211.4 546.6,213.0 546.7,214.4 546.8,215.8 546.9,216.9 547.0,218.1 547.1,219.3 547.2,220.5 547.3,221.7 547.4,223.2 547.5,222.1 547.6,221.1 547.7,219.4 547.8,217.5 547.9,216.2 548.0,215.0 548.1,213.8 548.1,212.4 548.2,210.8 548.2,209.9 548.2,208.7 548.3,207.8 548.3,206.6 548.4,205.4 548.4,203.8 548.4,202.4 548.5,201.0 548.5,199.9 548.6,198.8 548.6,197.8 548.7,196.9 548.7,195.1 548.7,193.8 548.8,192.1 548.8,191.9 548.9,190.7 548.9,189.2 549.0,187.5 549.0,186.0 549.0,185.2 549.1,183.7 549.1,182.5 549.2,181.0 549.2,180.0 549.2,178.6 549.3,177.0 549.3,175.8 549.4,174.9 549.4,174.0 549.5,172.4 549.6,170.9 549.7,169.6 549.9,168.5 550.0,167.1 550.1,165.9 550.3,167.1 550.5,168.3 550.8,169.0 551.1,167.7 551.4,166.3 551.7,167.9 551.9,169.2 552.1,171.1 552.3,172.6 552.4,174.0 552.6,175.5 552.8,176.8 552.9,177.8 552.9,178.8 553.0,180.0 553.1,182.0 553.2,183.0 553.3,184.4 553.4,185.1 553.4,186.7 553.5,187.9 553.6,189.4 553.6,190.5 553.7,191.8 553.7,193.3 553.8,194.7 553.9,196.1 553.9,196.9 554.0,197.8 554.1,199.0 554.1,200.9 554.2,202.4 554.3,203.5 554.4,204.2 554.5,205.4 554.5,206.7 554.6,208.2 554.7,210.0 554.8,211.6 555.0,210.2 555.1,208.2 555.3,206.9 555.5,205.7 555.6,207.1 555.8,208.2 556.0,209.5 556.1,211.3 556.5,210.3 556.8,209.0 557.0,210.1 557.1,211.4 557.3,212.7 557.5,214.5 558.1,212.9 558.6,214.2 559.0,215.3 559.5,216.8 559.6,218.6 559.8,219.6 559.9,221.1 560.0,222.0 560.2,223.1 560.3,221.5 560.4,220.7 560.6,219.8 560.7,218.8 560.8,217.2 561.2,215.8 561.5,214.5 561.8,213.0 562.0,211.4 562.2,210.1 562.5,208.7 562.7,207.2 562.9,205.6 563.1,204.2 563.4,203.2 563.5,201.8 563.6,200.4 563.7,198.8 563.8,197.9 563.9,196.8 564.0,195.6 564.1,193.9 564.2,192.6 564.3,191.4 564.4,190.4 564.5,188.6 564.5,187.4 564.6,185.8 564.7,184.7 564.8,183.6 565.0,182.2 565.1,181.3 565.2,179.7 565.4,178.1 565.6,176.5 565.8,175.1 566.0,174.0 566.7,174.7 566.8,173.2 566.9,171.8 567.1,170.7 567.2,169.8 567.3,168.5 567.4,167.3 567.5,165.5 567.7,164.0 567.8,162.6 567.9,161.3 568.1,160.2 568.2,158.9 568.3,157.6 568.5,155.9 568.6,154.7 568.7,153.2 569.0,154.9 569.2,156.0 569.4,157.4 569.5,158.7 569.7,160.0 569.8,161.9 569.9,163.2 570.1,164.8 570.4,165.5 570.7,167.2 571.1,166.1 571.4,165.0 571.5,165.6 571.6,166.4 571.6,167.7 571.7,169.1 571.8,170.1 571.8,171.0 571.9,172.1 572.0,173.6 572.0,174.9 572.1,176.3 572.3,178.2 572.4,180.0 572.6,181.2 572.8,182.0 573.1,180.3 573.4,179.2 574.1,180.6 574.4,181.9 574.8,183.2 574.9,181.6 575.1,180.3 575.3,179.3 575.5,178.2 575.6,176.6 575.8,174.9 576.0,173.2 576.1,172.3 576.8,172.4 576.9,174.1 577.0,175.3 577.1,176.2 577.2,177.4 577.3,178.8 577.4,180.7 577.5,181.7 577.6,183.0 577.6,184.1 577.7,185.5 577.8,186.9 577.9,188.5 578.0,189.8 578.1,190.7 578.1,191.5 578.5,192.9 578.8,194.8 579.0,196.7 579.1,197.7 579.3,198.6 579.5,200.0 579.6,202.2 579.8,203.9 580.0,205.3 580.2,206.3 580.3,207.2 580.5,208.4 580.7,209.6 580.8,211.0 580.9,209.8 581.0,208.4 581.1,207.3 581.2,206.2 581.2,205.1 581.3,203.8 581.4,202.1 581.5,200.3 581.6,198.9 581.7,197.7 581.8,196.4 581.9,195.4 582.1,193.9 582.2,192.8 582.3,191.1 582.4,189.6 582.5,188.6 582.6,187.1 582.7,186.2 582.8,184.3 583.0,183.3 583.1,181.6 583.2,180.2 583.3,179.0 583.4,178.3 583.5,176.8 583.6,175.3 583.7,173.8 583.8,172.5 583.9,171.3 584.0,169.6 584.1,168.5 584.2,167.1 584.2,166.3 584.3,165.0 584.4,163.4 584.4,162.1 584.5,160.6 584.6,159.7 584.6,158.7 584.7,157.8 584.7,156.3 584.8,155.1 584.9,153.7 584.9,152.4 585.0,150.8 585.0,149.9 585.1,148.9 585.2,147.7 585.2,146.1 585.3,144.6 585.3,143.3 585.4,142.2 585.5,141.4 585.5,140.2 585.7,141.1 585.9,142.6 586.0,144.1 586.2,146.1 586.9,147.5 586.9,148.5 587.0,149.4 587.1,150.4 587.1,152.0 587.2,153.0 587.2,154.1 587.3,154.9 587.4,156.6 587.4,158.1 587.5,159.4 587.5,160.3 587.6,161.2 587.7,162.4 587.7,163.6 587.8,165.0 587.8,166.2 587.9,167.8 588.0,168.6 588.0,170.2 588.1,170.9 588.2,172.7 588.2,173.3 588.3,175.1 588.3,176.0 588.4,177.3 588.5,178.2 588.5,179.5 588.6,180.9 588.6,182.0 588.7,183.2 588.8,184.6 588.8,185.3 588.9,186.4 589.0,187.9 589.1,189.9 589.1,191.5 589.2,192.7 589.3,194.5 589.4,195.8 589.5,197.3 589.6,198.4 589.7,199.7 589.8,201.0 589.9,202.0 590.0,203.4 590.1,204.8 590.2,205.9 590.3,206.8 590.5,208.1 590.6,209.9 590.7,211.5 590.8,212.9 590.9,214.2 591.0,215.7 591.2,216.7 591.3,217.8 591.4,218.7 591.6,220.2 591.7,219.2 591.8,218.2 591.9,216.7 592.0,215.6 592.1,214.1 592.2,212.8 592.4,211.2 592.5,210.2 592.6,209.2 592.8,207.8 592.9,205.5 593.0,203.9 593.1,202.5 593.2,201.7 593.3,200.9 593.3,199.9 593.4,198.6 593.5,196.6 593.6,194.8 593.7,193.4 593.8,192.1 593.9,191.7 594.0,190.3 594.1,188.9 594.3,187.2 594.4,185.9 594.5,184.5 594.5,183.2 594.6,181.7 594.7,180.4 594.8,178.8 594.9,177.6 595.0,176.5 595.2,175.2 595.3,174.0 595.4,172.5 595.5,170.6 595.6,168.6 596.3,170.1 596.4,172.1 596.6,174.2 596.8,175.8 596.9,177.3 597.3,178.4 597.6,179.7 597.8,180.3 598.0,181.8 598.1,183.0 598.3,184.7 599.0,183.1 599.2,181.4 599.4,180.2 599.6,179.2 600.3,178.0 600.5,176.7 600.8,175.0 601.0,173.8 601.1,172.1 601.2,171.0 601.4,169.5 601.5,168.5 601.6,166.9 601.8,165.4 601.9,163.9 602.1,162.9 602.2,162.1 602.3,160.8 602.4,159.4 602.5,157.9 602.6,156.7 602.7,154.8 602.7,153.4 602.8,151.8 602.9,151.0 603.0,149.8 603.7,151.4 603.8,152.0 603.9,153.3 604.0,154.7 604.0,156.3 604.1,157.7 604.2,158.9 604.3,160.5 604.5,161.5 604.7,162.6 604.8,163.9 605.0,166.0 605.7,167.6 606.4,169.1 606.7,167.0 607.0,165.5 607.2,166.6 607.4,167.9 607.5,169.6 607.7,171.0 608.0,172.7 608.4,173.6 608.5,172.5 608.6,171.0 608.7,170.0 608.8,168.5 608.9,166.9 609.0,165.7 609.4,164.3 609.7,163.1 610.0,164.0 610.4,165.5 610.6,166.8 610.7,168.4 610.9,169.7 611.1,171.0 611.4,172.0 611.7,173.4 612.1,175.1 612.4,176.8 612.6,177.9 612.7,179.1 612.9,180.4 613.1,182.0 613.4,183.4 613.7,184.6 613.9,185.9 614.0,187.3 614.1,188.6 614.2,189.6 614.3,190.8 614.4,192.3 614.5,190.8 614.6,189.4 614.7,188.1 614.9,187.1 615.0,185.9 615.1,184.2 615.1,183.2 615.2,182.3 615.2,181.4 615.2,179.8 615.3,178.0 615.3,177.0 615.3,176.0 615.4,174.8 615.4,173.7 615.4,172.6 615.5,171.7 615.5,169.9 615.5,168.5 615.6,167.3 615.6,166.2 615.6,165.2 615.7,164.2 615.7,163.4 615.7,161.9 615.8,160.2 615.8,158.9 615.9,158.1 615.9,157.2 615.9,156.0 616.0,154.5 616.0,153.0 616.1,151.1 616.1,150.0 616.2,149.3 616.2,148.4 616.3,146.9 616.3,145.3 616.4,144.2 616.4,142.8 617.0,143.8 617.1,144.7 617.1,146.7 617.2,147.9 617.3,149.5 617.3,150.7 617.4,152.5 617.4,153.8 617.5,155.0 617.6,155.5 617.6,156.4 617.7,157.1 618.0,158.7 618.4,160.6 618.4,159.1 618.5,157.9 618.6,155.8 618.7,155.1 618.8,153.9 618.9,152.7 618.9,151.5 619.0,149.9 619.7,148.9 619.8,149.9 619.9,151.1 620.0,152.1 620.1,153.4 620.2,154.9 620.3,156.4 620.4,158.2 620.4,159.3 620.5,160.4 620.5,161.0 620.6,162.2 620.6,163.2 620.7,164.4 620.7,166.0 620.8,167.5 620.8,168.9 620.9,170.1 620.9,171.5 621.0,172.9 621.0,174.2 621.7,173.9 621.9,172.4 622.1,170.7 622.2,169.5 622.4,168.0 623.1,167.4 623.7,169.4 623.8,170.9 623.9,172.2 624.0,173.5 624.1,175.2 624.2,176.5 624.2,177.7 624.3,178.9 624.4,180.1 624.5,181.4 624.6,182.7 624.7,183.9 624.8,184.8 624.9,186.2 625.0,188.1 625.1,189.8 625.2,190.9 625.2,192.1 625.3,193.4 625.4,194.7 625.5,195.7 625.6,197.4 625.7,198.6 625.7,200.3 625.8,201.6 625.9,203.3 625.9,204.2 626.0,205.0 626.1,206.2 626.1,207.2 626.2,208.8 626.2,209.9 626.3,211.3 626.4,212.5 626.4,214.1 626.5,215.5 626.6,216.6 626.7,217.6 626.8,219.0 626.8,220.5 626.9,221.6 627.0,222.5 627.1,223.5 627.2,225.1 627.3,226.4 627.4,227.7 628.7,228.0 630.1,227.7 631.5,227.4 632.9,226.6 633.0,225.3 633.0,224.5 633.1,223.7 633.2,223.1 633.3,221.3 633.4,219.9 633.5,218.6 633.6,218.0 633.6,217.2 633.7,215.8 633.8,214.4 633.9,212.9 634.0,211.5 634.1,210.4 634.1,209.1 634.2,207.9 634.3,206.8 634.4,205.3 634.5,203.9 634.6,202.4 634.6,201.3 634.7,200.2 634.8,199.3 634.9,198.1 635.0,196.8 635.1,195.4 635.2,194.5 635.3,193.2 635.4,191.6 635.5,189.9 635.6,188.7 635.8,188.1 635.9,187.0 636.0,185.8 636.1,184.2 636.3,182.7 636.4,181.5 636.5,180.2 636.5,179.6 636.6,178.0 636.7,176.8 636.7,175.4 636.8,174.8 636.8,173.8 636.9,172.4 636.9,171.0 637.0,169.4 637.0,167.9 637.1,166.9 637.1,165.5 637.2,164.4 637.3,162.6 637.5,161.3 637.7,159.6 637.8,158.3 638.2,157.1 638.5,156.2 638.7,155.2 639.0,153.7 639.2,152.2 639.3,153.5 639.5,155.0 639.6,156.3 639.7,157.2 639.9,158.2 640.0,160.0 640.2,161.9 640.4,163.2 640.5,164.4 640.6,165.7 640.7,167.5 640.8,168.7 640.9,169.8 641.0,171.1 641.1,173.1 641.2,174.8 641.3,175.5 641.3,176.3 641.4,177.2 641.4,178.6 641.5,179.6 641.6,180.8 641.6,182.0 641.7,183.8 641.7,185.2 641.8,186.5 641.9,187.4 641.9,188.3 642.0,189.4 642.1,190.9 642.1,192.4 642.2,194.1 642.2,195.1 642.3,196.2 642.4,196.6 642.4,197.9 642.5,198.8 642.5,200.6 642.6,201.8 642.7,203.5 642.8,204.2 642.9,205.6 643.0,206.7 643.0,208.6 643.1,210.1 643.2,211.4 643.4,212.1 643.6,213.4 643.7,214.9 643.9,216.4 644.2,217.8 644.6,219.3 644.8,220.8 645.0,221.9 645.2,223.2 645.3,221.7 645.4,220.2 645.5,219.1 645.6,217.9 645.7,216.6 645.8,215.1 645.9,213.9 646.0,213.0 646.1,211.9 646.2,210.3 646.3,208.9 646.5,207.0 646.6,205.5 646.7,206.5 646.7,207.9 646.8,209.5 646.9,211.3 647.0,213.1 647.1,214.4 647.2,215.4 647.2,216.6 647.3,215.3 647.3,214.7 647.4,213.7 647.5,212.7 647.5,210.9 647.6,209.1 647.6,207.7 647.7,206.6 647.7,205.6 647.8,204.4 647.8,203.5 647.9,202.2 647.9,200.6 648.1,198.9 648.3,197.5 648.4,196.6 648.6,195.8 648.8,194.7 648.9,193.1 649.1,191.6 649.3,190.2 649.4,189.1 649.5,187.8 649.6,185.9 649.7,184.5 649.8,183.1 649.9,182.0 650.0,180.5 650.1,179.2 650.2,177.9 650.3,176.1 650.4,174.7 650.4,173.5 650.5,172.5 650.6,170.8 650.7,169.5 650.8,168.3 650.9,167.3 650.9,165.9 651.0,164.4 651.1,162.9 651.2,161.5 651.3,160.2 651.9,159.0 652.3,158.2 652.6,157.1 653.0,158.5 653.3,158.8 654.0,160.0 654.2,161.5 654.4,163.0 654.6,164.3 654.7,165.0 654.8,166.6 654.9,167.9 655.0,169.8 655.1,171.3 655.2,172.8 655.3,174.2 655.6,175.3 656.0,176.6 656.0,177.6 656.1,178.6 656.2,180.1 656.2,181.6 656.3,182.8 656.3,183.9 656.4,184.8 656.5,185.9 656.5,187.2 656.6,188.3 656.6,190.1 656.8,191.2 657.0,193.0 657.2,194.2 657.3,195.7 657.7,197.0 658.0,198.3 658.7,199.5 658.9,198.3 659.1,196.8 659.3,195.6 659.5,194.3 659.7,193.0 659.8,191.6 660.0,189.8 660.2,188.4 660.3,187.0 660.5,185.7 660.7,184.3 660.8,182.9 661.0,181.6 661.2,180.5 661.4,179.4 662.0,177.6 662.2,179.2 662.3,180.3 662.4,181.9 662.6,182.9 662.7,184.3 663.0,186.0 663.4,187.4 663.5,188.6 663.5,189.5 663.6,190.9 663.7,192.2 663.8,193.8 663.9,195.3 664.0,197.0 664.0,198.7 664.2,199.7 664.4,201.0 664.5,202.0 664.7,203.5 664.8,204.4 664.9,205.9 665.0,207.4 665.0,208.9 665.1,210.1 665.2,211.3 665.3,212.5 665.4,214.1 665.5,215.3 665.6,216.5 665.6,217.5 665.7,218.7 665.8,219.9 665.9,220.8 666.0,222.3 666.1,223.7 666.2,225.1 666.2,226.6 666.3,227.5 668.1,227.7 669.8,227.5 669.9,226.3 670.0,225.0 670.1,223.8 670.2,222.7 670.2,221.6 670.3,220.5 670.4,219.3 670.5,217.7 670.6,216.0 670.7,214.9 670.8,214.0 670.8,212.7 670.9,210.9 670.9,209.8 671.0,209.1 671.1,208.0 671.1,206.3 671.2,204.9 671.2,203.8 671.3,203.0 671.4,201.6 671.4,200.3 671.5,199.2 671.6,198.2 671.6,197.3 671.7,195.9 671.7,194.7 671.8,193.3 671.9,192.4 671.9,190.7 672.0,189.7 672.0,188.5 672.1,187.7 672.1,186.3 672.2,185.0 672.2,183.4 672.3,182.3 672.3,181.1 672.4,180.2 672.4,178.6 672.4,177.0 672.5,175.5 672.5,174.3 672.6,173.1 672.6,172.0 672.6,171.0 672.7,169.9 672.7,168.8 672.8,167.4 672.8,165.9 672.9,164.4 673.0,163.0 673.0,162.1 673.1,161.2 673.2,160.1 673.2,159.0 673.3,157.4 673.4,156.1 673.4,155.0 673.6,154.0 673.7,152.8 673.8,150.8 673.9,149.0 674.0,147.3 674.1,146.6 674.3,145.9 674.4,144.6 674.5,142.8 674.7,141.0 674.8,139.6 674.9,138.6 675.0,137.6 675.1,136.9 675.2,135.7 675.3,134.4 675.5,132.6" fill="none" stroke="#2b8d2b" stroke-width="1.12" stroke-linejoin="round" stroke-linecap="round" stroke-opacity="0.95"/>
<polyline points="507.8,189.0 508.0,190.3 508.2,191.5 508.4,192.6 508.7,193.6 508.9,194.6 509.1,195.7 509.8,196.9 510.5,195.2 511.1,193.5 511.8,192.5 512.5,192.1 513.8,192.2 514.5,193.7 515.2,195.1 515.5,196.4 515.8,197.3 516.2,198.1 516.5,198.8 517.2,199.1 517.8,199.6 518.3,198.5 518.7,197.7 519.2,197.2 519.5,196.4 519.9,195.3 520.2,193.7 520.5,193.2 520.7,192.3 520.8,191.7 521.0,190.3 521.1,189.6 521.3,188.7 521.4,187.4 521.6,186.2 521.7,185.1 521.9,184.2 522.2,183.6 522.5,183.2 522.9,182.0 523.2,180.9 523.6,179.1 523.9,178.1 524.2,176.8 524.6,176.2 524.8,175.4 525.0,173.7 525.2,173.2 525.5,172.4 525.7,172.1 525.9,171.0 526.1,170.0 526.2,168.9 526.3,167.9 526.5,167.3 526.6,166.6 526.8,165.9 526.9,165.0 527.1,164.0 527.2,163.4 527.4,162.4 527.6,161.4 527.8,160.0 528.0,159.0 528.2,158.7 528.4,157.2 528.6,156.5 529.0,155.6 529.5,155.4 529.9,154.4 530.6,155.2 531.3,155.8 531.9,155.0 532.6,153.6 533.3,154.4 534.0,155.4 534.6,156.4 535.3,156.8 536.0,156.0 536.6,154.4 537.3,155.2 538.0,154.8 538.3,156.7 538.7,157.9 539.0,160.4 539.3,161.2 539.6,161.8 539.8,162.1 540.0,162.4 540.2,163.4 540.5,164.3 540.7,166.0 541.0,166.4 541.4,167.4 541.7,168.4 542.0,170.2 542.7,171.0 543.4,172.7 543.6,173.1 543.8,173.8 544.0,173.5 544.3,174.3 544.5,175.8 544.7,176.9 544.9,177.6 545.2,178.1 545.4,179.1 545.6,180.0 545.8,180.9 546.1,181.3 546.4,183.6 546.7,184.7 547.1,185.6 547.4,185.7 547.8,187.1 548.3,187.9 548.7,189.8 549.1,189.6 549.4,190.7 549.7,190.9 550.1,192.2 550.5,193.1 551.0,194.3 551.4,195.2 551.8,195.8 552.1,197.0 552.4,198.7 552.8,200.0 553.2,200.5 553.7,200.1 554.1,201.6 554.8,201.7 555.5,203.0 555.9,202.5 556.4,201.6 556.8,200.9 557.3,199.0 557.7,197.9 558.1,196.6 558.8,196.4 559.5,195.9 560.2,196.7 560.8,197.6 561.3,196.9 561.8,195.7 562.2,194.9 562.7,194.0 563.1,194.0 563.6,192.3 564.0,191.9 564.5,190.1 564.9,189.0 565.4,187.4 565.8,186.8 566.3,186.6 566.7,185.6 567.4,185.3 568.1,185.0 568.7,185.6 569.4,185.6 570.1,184.4 570.7,184.2 571.4,184.3 572.1,183.6 572.8,182.3 573.4,181.4 574.1,181.1 574.8,180.6 575.2,180.1 575.7,179.0 576.1,178.4 576.8,177.1 577.5,176.8 578.1,177.4 578.8,177.8 579.3,178.5 579.7,179.2 580.2,181.0 580.6,181.7 581.0,182.5 581.5,183.1 582.2,183.5 582.8,184.1 583.5,184.8 584.2,185.9 584.9,186.8 585.5,187.5 586.9,187.7 588.2,187.2 588.7,186.4 589.1,186.0 589.6,185.0 590.2,185.0 590.9,183.5 591.6,182.7 592.2,181.5 592.9,181.6 593.6,180.5 594.3,179.2 594.9,178.2 595.6,179.7 596.3,181.2 596.9,181.4 597.6,181.7 598.3,181.1 599.0,180.9 599.3,179.5 599.6,177.9 600.0,176.5 600.3,176.2 600.8,175.4 601.2,174.8 601.6,173.3 602.1,172.4 602.5,171.3 603.0,170.4 603.7,169.8 604.3,169.3 605.0,170.5 605.7,171.2 606.4,172.3 607.0,172.8 607.7,172.2 608.4,171.2 608.8,170.1 609.3,169.5 609.7,168.3 610.2,167.2 610.6,166.3 611.1,165.8 611.7,166.8 612.4,167.4 613.7,167.5 614.4,168.6 615.1,168.6 615.5,169.2 616.0,169.5 616.4,170.6 617.1,171.0 617.7,171.8 617.9,173.0 618.1,173.8 618.4,175.2 618.6,176.0 618.8,177.0 619.0,177.7 619.3,178.8 619.5,180.2 619.7,181.0 619.9,182.2 620.2,182.9 620.4,184.3 620.7,184.3 621.0,184.8 621.4,185.8 621.7,187.2 622.2,188.6 622.6,189.5 623.1,190.0 623.4,191.0 623.7,192.2 624.1,193.9 624.4,194.8 624.7,195.4 625.1,196.1 625.4,197.4 625.7,198.6 626.2,199.4 626.6,200.3 627.1,200.8 628.4,201.2 628.9,200.4 629.3,199.0 629.8,198.2 630.5,197.6 631.1,196.9 631.6,197.3 632.0,197.5 632.5,198.6 632.7,199.7 632.9,200.7 633.1,201.5 633.4,202.0 633.6,203.0 633.8,203.9 634.5,204.5 635.2,205.6 635.6,204.9 636.0,204.1 636.5,203.3 637.2,202.5 637.8,202.4 638.5,201.0 639.2,201.0 639.6,199.6 640.1,198.8 640.5,197.6 640.8,196.4 641.0,195.5 641.2,194.5 641.4,193.9 641.6,193.5 641.9,192.6 642.1,191.9 642.3,191.0 642.5,190.2 642.8,189.3 643.0,188.7 643.2,187.9 643.7,186.3 644.1,184.5 644.6,183.8 645.2,183.6 645.9,183.6 646.3,183.9 646.8,185.1 647.2,186.6 647.7,187.3 648.1,188.2 648.6,188.3 648.9,189.2 649.3,189.9 649.6,190.8 649.9,192.2 650.6,193.3 651.3,193.4 651.7,192.0 652.2,191.5 652.6,191.2 653.1,191.1 653.5,189.5 654.0,188.4 654.4,188.0 654.9,186.8 655.3,185.8 656.6,185.4 657.3,186.5 658.0,186.9 658.4,187.6 658.9,188.7 659.3,189.7 659.6,190.3 659.8,191.3 660.0,193.3 660.2,193.6 660.5,194.0 660.7,194.3 661.1,195.6 661.6,196.5 662.0,197.2 662.5,198.5 662.9,199.4 663.4,200.7 663.8,201.7 664.3,203.2 664.7,204.4 665.0,202.9 665.4,201.6 665.7,200.4 666.1,200.0 666.4,199.3 666.7,197.8 667.1,196.3 667.4,194.5 667.7,193.5 668.1,192.4 668.4,191.6 668.7,190.6" fill="none" stroke="#128012" stroke-width="1.85" stroke-linejoin="round" stroke-linecap="round" stroke-opacity="1.00"/>
</g>
<line x1="492.8" y1="130.2" x2="684.2" y2="130.2" stroke="#3a3a3a" stroke-width="1.0"/>
<rect x="492.8" y="34.7" width="191.4" height="190.8" fill="none" stroke="#a8a8a8" stroke-width="0.95"/>
<rect x="677.7" y="38.5" width="3.5" height="3" fill="#fff" stroke="#ddd" stroke-width="0.5" rx="0.6"/>
<line x1="491.0" y1="34.70" x2="492.8" y2="34.70" stroke="#777" stroke-width="0.5"/>
<text x="487.9" y="36.60" font-size="5.4" text-anchor="end" font-family='"Liberation Sans", sans-serif' fill="#222">3</text>
<line x1="491.0" y1="66.50" x2="492.8" y2="66.50" stroke="#777" stroke-width="0.5"/>
<text x="487.9" y="68.40" font-size="5.4" text-anchor="end" font-family='"Liberation Sans", sans-serif' fill="#222">2</text>
<line x1="491.0" y1="98.30" x2="492.8" y2="98.30" stroke="#777" stroke-width="0.5"/>
<text x="487.9" y="100.20" font-size="5.4" text-anchor="end" font-family='"Liberation Sans", sans-serif' fill="#222">1</text>
<line x1="491.0" y1="130.10" x2="492.8" y2="130.10" stroke="#777" stroke-width="0.5"/>
<text x="487.9" y="132.00" font-size="5.4" text-anchor="end" font-family='"Liberation Sans", sans-serif' fill="#222">0</text>
<line x1="491.0" y1="161.90" x2="492.8" y2="161.90" stroke="#777" stroke-width="0.5"/>
<text x="487.9" y="163.80" font-size="5.4" text-anchor="end" font-family='"Liberation Sans", sans-serif' fill="#222">−1</text>
<line x1="491.0" y1="193.70" x2="492.8" y2="193.70" stroke="#777" stroke-width="0.5"/>
<text x="487.9" y="195.60" font-size="5.4" text-anchor="end" font-family='"Liberation Sans", sans-serif' fill="#222">−2</text>
<line x1="491.0" y1="225.50" x2="492.8" y2="225.50" stroke="#777" stroke-width="0.5"/>
<text x="487.9" y="227.40" font-size="5.4" text-anchor="end" font-family='"Liberation Sans", sans-serif' fill="#222">−3</text>
<line x1="499.3" y1="225.50" x2="499.3" y2="227.30" stroke="#777" stroke-width="0.5"/>
<text x="499.3" y="233.00" font-size="5.4" text-anchor="middle" font-family='"Liberation Sans", sans-serif' fill="#222">2</text>
<line x1="677.2" y1="225.50" x2="677.2" y2="227.30" stroke="#777" stroke-width="0.5"/>
<text x="677.2" y="233.00" font-size="5.4" text-anchor="middle" font-family='"Liberation Sans", sans-serif' fill="#222">383</text>
<text x="588.1" y="240.00" font-size="5.65" text-anchor="middle" font-family='"Liberation Sans", sans-serif' fill="#222">Sequence position</text>
<text transform="translate(477.8,131.4) rotate(-90)" font-size="5.75" text-anchor="middle" font-family='"Liberation Sans", sans-serif' fill="#222">Knowledge-based energy</text>
<defs><clipPath id="cb"><rect x="489.8" y="444.0" width="196.7" height="195.2"/></clipPath></defs>
<g clip-path="url(#cb)">
<polyline points="497.4,622.3 497.5,624.1 497.5,625.5 497.6,626.5 497.7,627.7 497.8,629.2 497.9,631.0 498.0,632.2 498.0,633.1 498.2,631.7 498.3,630.7 498.4,630.0 498.6,628.7 498.7,627.2 499.1,625.5 499.4,624.5 499.5,625.8 499.7,627.0 499.8,627.6 499.9,629.0 500.1,630.6 500.2,632.1 500.3,633.4 500.5,634.7 500.6,636.3 500.7,637.9 500.8,636.6 500.9,634.9 500.9,633.6 501.0,632.1 501.0,631.2 501.1,629.5 501.2,628.6 501.2,627.2 501.3,626.3 501.3,625.8 501.4,624.7 501.4,623.6 501.5,621.4 501.5,620.1 501.6,618.8 501.6,617.8 501.7,616.7 501.7,615.3 501.8,613.9 501.8,612.7 501.9,611.2 501.9,610.6 501.9,609.1 502.0,608.1 502.0,606.5 502.1,605.6 502.1,604.1 502.2,603.0 502.2,601.6 502.3,600.7 502.4,599.4 502.4,598.2 502.5,596.6 502.5,595.4 502.6,594.2 502.6,593.5 502.7,592.0 502.7,590.8 502.9,589.2 503.0,588.0 503.2,586.6 503.3,585.2 503.4,583.7 503.6,582.1 503.8,580.6 503.9,579.5 504.1,578.7 504.4,577.6 504.8,576.4 505.0,574.9 505.2,573.5 505.4,572.0 505.5,570.6 505.6,569.5 505.7,568.1 505.8,566.4 505.9,565.1 506.0,563.9 506.1,562.9 506.8,564.0 507.1,565.1 507.5,566.7 507.8,568.2 508.1,569.9 508.8,570.9 508.9,569.2 509.1,567.6 509.2,566.1 509.3,564.8 509.5,563.9 509.6,562.7 509.7,561.3 509.9,560.0 510.0,558.3 510.1,557.1 510.3,555.8 510.4,554.5 510.5,552.6 510.7,550.9 510.8,549.6 511.0,548.8 511.3,547.9 511.5,546.3 512.2,547.6 512.3,546.0 512.5,544.9 512.7,543.0 512.8,541.7 513.2,540.9 513.5,540.3 513.7,541.2 513.8,542.0 514.0,543.2 514.2,545.2 514.3,546.8 514.4,548.1 514.6,549.3 514.7,550.5 514.8,552.2 515.5,553.1 515.7,554.3 515.8,555.4 516.0,557.2 516.2,558.8 516.3,559.9 516.3,560.4 516.4,561.4 516.5,562.4 516.5,563.9 516.6,565.3 516.7,566.6 516.7,568.1 516.8,569.2 516.9,570.4 517.2,571.6 517.5,573.0 517.7,574.6 517.9,575.8 518.0,577.0 518.2,577.9 518.4,577.0 518.6,576.0 518.9,574.9 519.2,573.1 519.5,571.2 520.2,570.0 520.9,568.8 521.1,570.8 521.3,572.2 521.6,573.3 521.8,571.0 522.0,569.9 522.2,568.8 522.9,570.3 523.6,571.4 523.9,572.4 524.2,574.7 524.5,573.6 524.7,572.7 524.9,570.6 525.3,568.6 525.6,567.1 525.9,565.5 526.3,564.7 526.4,565.6 526.6,567.1 526.8,568.6 526.9,570.7 527.1,572.0 527.3,572.8 527.4,573.9 527.6,575.7 527.9,577.2 528.3,578.2 528.4,576.5 528.4,575.1 528.5,573.8 528.6,572.9 528.7,571.9 528.8,571.1 528.9,569.5 528.9,568.0 529.1,566.0 529.2,564.7 529.3,563.1 529.4,561.6 529.5,560.4 529.6,559.6 529.7,558.8 529.8,557.6 530.0,556.0 530.1,554.4 530.2,552.8 530.3,551.3 530.4,549.9 530.6,548.2 530.7,546.6 530.8,545.5 531.0,544.5 531.6,543.4 531.8,545.0 532.0,546.4 532.1,547.9 532.3,549.2 532.4,550.3 532.6,551.2 532.7,552.4 532.8,553.8 533.0,555.8 533.6,557.1 534.0,556.1 534.3,554.6 535.0,555.5 535.2,556.7 535.3,557.8 535.5,559.4 535.7,560.5 535.8,562.1 536.0,563.8 536.2,565.5 536.3,566.3 536.7,567.4 537.0,568.0 537.2,567.0 537.5,565.9 537.7,564.9 537.9,563.6 538.1,562.2 538.4,561.2 539.0,559.6 539.4,560.8 539.7,561.7 540.4,563.6 541.0,562.7 541.7,564.1 541.9,565.2 542.2,566.3 542.4,567.7 543.1,569.0 543.4,570.2 543.7,571.3 544.0,572.5 544.2,574.3 544.4,576.0 544.6,577.5 544.7,578.4 544.9,579.7 545.1,581.1 545.7,579.7 546.4,578.3 546.6,579.7 546.9,581.0 547.1,582.1 547.2,583.2 547.3,584.5 547.4,586.2 547.5,587.2 547.6,588.7 547.8,589.8 547.9,591.5 548.0,592.9 548.2,594.6 548.3,596.1 548.4,597.4 548.6,595.7 548.7,594.3 548.8,593.2 549.0,591.9 549.1,590.3 549.2,588.5 549.4,587.0 549.5,585.6 549.6,584.8 549.8,583.7 550.1,582.6 550.4,581.4 550.5,579.8 550.6,578.7 550.7,577.2 550.8,575.7 550.9,573.9 550.9,572.2 551.0,571.3 551.1,570.6 551.5,571.8 551.8,573.2 552.1,571.5 552.5,570.4 552.6,568.7 552.7,567.3 552.9,565.7 553.0,564.3 553.1,562.7 553.2,561.9 553.3,561.2 553.4,560.6 553.5,559.1 553.6,557.0 553.7,555.0 553.8,553.5 553.9,553.0 554.0,551.8 554.1,550.5 554.1,549.0 554.2,547.6 554.3,546.1 554.4,544.4 554.5,542.9 554.8,541.9 555.1,540.7 555.2,542.0 555.3,543.4 555.4,544.6 555.5,545.9 555.6,547.5 555.7,549.0 555.8,550.6 555.9,551.2 555.9,552.3 556.0,553.6 556.1,554.9 556.1,556.4 556.2,557.4 556.2,558.9 556.3,559.9 556.4,561.2 556.4,562.6 556.5,563.8 556.6,565.4 556.7,566.3 556.8,567.6 556.9,568.7 557.0,570.0 557.2,571.5 557.5,572.9 557.8,574.7 558.1,575.7 558.3,577.0 558.5,578.5 559.2,577.7 559.3,578.9 559.4,579.8 559.5,580.8 559.6,582.0 559.7,583.4 559.8,584.7 559.8,586.3 560.0,587.9 560.1,589.3 560.2,590.3 560.3,591.7 560.4,592.8 560.5,594.4 560.9,595.5 561.2,597.0 562.0,598.2 562.1,596.8 562.1,596.0 562.2,594.7 562.3,593.4 562.4,591.9 563.0,593.5 563.4,592.3 563.7,590.9 563.9,589.0 564.1,587.4 564.2,585.9 564.4,585.0 565.1,586.8 565.2,588.2 565.4,589.4 565.6,590.5 565.7,591.7 565.8,590.5 565.9,589.2 566.0,587.9 566.1,586.3 566.2,584.7 566.2,583.6 566.3,582.7 566.4,581.7 566.5,580.3 566.6,578.9 566.7,577.4 566.9,576.0 567.0,574.2 567.1,572.9 567.4,571.2 567.7,570.3 568.4,568.8 568.8,567.6 569.1,566.2 569.4,565.3 569.8,563.8 569.9,562.2 570.1,560.7 570.3,559.3 570.4,558.2 570.6,556.6 570.8,555.5 570.9,553.7 571.1,552.6 571.8,551.2 571.9,552.7 572.1,554.3 572.3,555.9 572.5,558.2 572.6,559.2 572.7,560.3 572.9,560.9 573.0,562.5 573.1,563.9 573.3,565.3 573.6,566.5 573.8,567.6 574.0,568.9 574.1,570.0 574.3,571.3 574.5,572.8 574.8,571.7 575.1,570.6 575.2,568.9 575.4,567.0 575.5,565.8 575.6,564.6 575.7,563.3 575.8,561.9 575.9,560.2 576.1,559.2 576.2,557.9 576.3,557.0 576.5,555.7 576.7,557.0 576.9,558.1 577.2,559.3 577.3,560.5 577.5,562.0 577.7,563.5 577.8,565.1 578.2,566.8 578.5,567.5 578.8,566.2 579.2,564.4 579.3,564.1 579.5,562.9 579.7,561.2 579.8,559.5 580.0,557.8 580.2,557.0 580.3,555.4 580.5,554.1 581.2,552.6 581.4,554.1 581.6,555.4 581.9,556.3 582.1,557.8 582.3,559.5 582.5,561.2 582.8,562.2 583.0,563.4 583.2,564.9 583.4,563.7 583.5,562.3 583.7,561.1 583.9,559.6 584.1,558.2 584.3,556.1 584.5,554.9 584.8,556.2 585.0,557.7 585.2,559.1 585.3,560.9 585.4,562.4 585.6,563.9 585.7,565.3 585.8,566.7 585.9,567.7 586.0,568.7 586.1,569.8 586.2,571.9 586.3,572.9 586.4,574.3 586.5,575.0 586.6,576.6 587.2,577.8 587.4,576.8 587.6,575.4 587.7,574.1 587.9,573.0 588.1,571.9 588.2,570.7 588.4,569.0 588.6,567.2 588.9,568.6 589.2,570.6 589.4,572.1 589.6,573.2 589.7,573.9 589.9,575.1 590.3,573.8 590.6,572.5 590.7,571.7 590.9,570.5 591.0,569.1 591.1,567.2 591.3,565.9 591.4,564.6 591.5,563.4 591.7,561.8 591.8,560.4 591.9,559.5 592.0,558.5 592.2,557.2 592.3,555.6 592.4,554.2 592.5,552.8 592.6,552.0 592.8,550.4 593.1,548.9 593.3,547.4 593.4,548.9 593.6,550.6 593.8,551.7 593.9,553.1 594.2,554.1 594.4,555.2 594.6,556.3 594.8,555.5 595.0,554.6 595.1,553.5 595.3,551.9 595.5,550.6 595.7,549.3 596.0,547.7 596.1,548.9 596.2,550.2 596.3,551.6 596.3,552.7 596.4,553.8 596.5,555.1 596.6,556.8 596.8,558.1 597.0,559.3 597.1,560.5 597.3,562.3 597.5,561.1 597.8,559.9 598.0,558.2 598.1,557.0 598.3,555.8 598.5,554.7 598.6,553.0 598.9,551.7 599.1,550.1 599.3,549.0 600.0,547.9 600.2,549.2 600.4,551.0 600.7,552.1 600.8,553.2 601.0,554.3 601.2,555.6 601.3,557.1 601.6,557.9 601.8,559.0 602.0,560.3 602.1,559.2 602.2,558.3 602.3,557.0 602.5,555.8 602.6,554.0 602.7,552.5 602.9,551.1 603.1,549.8 603.4,548.7 603.5,550.1 603.6,551.4 603.7,552.4 603.8,554.0 603.9,555.2 604.0,556.9 604.1,557.9 604.2,559.3 604.4,560.6 604.5,561.9 604.6,563.9 604.7,565.2 604.8,566.6 604.8,567.2 604.9,568.8 604.9,570.3 605.0,571.8 605.0,572.4 605.1,573.2 605.1,574.5 605.2,575.9 605.3,577.0 605.3,577.9 605.4,579.1 605.4,580.5 605.5,581.9 605.5,583.3 605.6,585.1 605.6,586.8 605.7,587.8 605.8,588.5 605.8,589.4 605.9,590.8 605.9,592.2 606.0,593.4 606.0,594.6 606.2,592.9 606.4,591.6 606.5,590.6 606.7,589.5 606.8,587.9 606.9,586.2 607.0,584.5 607.2,583.6 607.3,582.4 607.4,581.4 607.6,579.9 607.7,578.1 607.9,576.7 608.1,575.4 608.4,577.3 608.7,578.2 609.4,579.6 609.6,578.0 609.8,576.7 610.1,575.5 610.3,574.3 610.5,572.9 610.7,571.2 610.9,569.2 611.0,568.0 611.1,567.2 611.2,566.4 611.3,564.7 611.4,562.9 611.5,561.7 611.6,561.1 611.7,560.2 611.8,558.9 611.9,557.2 612.0,555.4 612.1,553.9 612.8,555.1 613.0,556.5 613.2,558.0 613.4,559.3 613.6,560.9 613.7,562.5 613.8,564.1 614.0,565.5 614.1,566.5 614.3,567.3 614.5,568.6 614.8,570.1 615.4,571.5 615.8,573.1 616.1,574.3 616.3,573.2 616.5,571.6 616.6,570.0 616.8,569.1 617.0,570.2 617.1,572.0 617.3,572.8 617.5,574.5 617.6,575.4 617.7,576.8 617.9,578.3 618.0,580.2 618.1,581.5 618.3,582.6 618.4,583.8 618.5,585.1 618.7,586.6 618.8,587.6 618.9,589.2 619.0,590.5 619.1,592.3 619.2,593.5 619.3,594.6 619.4,595.8 619.5,596.8 619.6,598.6 619.7,600.1 619.8,601.8 619.9,602.9 620.0,604.1 620.1,605.4 620.5,606.6 620.8,607.6 621.0,606.5 621.3,605.4 621.5,604.1 621.7,605.1 621.9,606.2 622.2,607.4 622.5,608.9 622.8,610.6 623.0,609.3 623.2,607.5 623.3,606.3 623.5,605.2 623.6,607.2 623.7,608.5 623.8,609.6 624.0,610.6 624.1,611.8 624.2,613.6 624.4,614.7 624.6,615.9 624.8,616.8 625.0,615.9 625.1,614.9 625.3,613.6 625.4,611.9 625.5,610.3 625.6,609.1 625.6,607.8 625.7,606.7 625.8,605.5 625.8,604.7 625.9,603.0 625.9,602.1 626.0,600.5 626.1,599.7 626.1,597.9 626.2,597.3 626.3,595.7 626.4,594.4 626.5,592.7 626.7,591.5 626.8,590.3 626.9,588.9 627.0,587.5 627.1,586.4 627.1,584.7 627.2,583.3 627.2,582.1 627.3,581.6 627.3,580.6 627.4,579.2 627.4,578.4 627.5,577.1 627.5,576.0 627.6,574.5 627.7,573.3 627.7,572.0 627.8,570.4 627.8,569.2 627.8,568.0 627.8,566.6 627.9,564.9 627.9,563.7 627.9,562.9 627.9,562.0 628.0,560.8 628.0,559.6 628.0,558.7 628.0,557.2 628.1,555.9 628.1,554.4 628.1,553.5 628.1,552.5 628.2,551.5 628.2,550.1 628.2,548.9 628.2,547.5 628.2,546.2 628.3,544.7 628.3,543.8 628.3,543.0 628.3,541.7 628.4,539.5 628.4,538.0 628.4,536.8 628.4,536.1 628.5,535.5 628.5,534.6 628.5,533.4 628.5,531.5 628.6,529.9 628.6,528.6 628.6,527.5 628.6,527.1 628.7,525.9 628.7,524.6 628.7,523.0 628.7,521.9 628.8,520.6 628.8,519.4 628.8,518.1 628.8,516.9 628.9,515.5 628.9,514.4 628.9,513.4 628.9,512.2 629.0,511.1 629.0,509.8 629.0,508.0 629.1,506.1 629.1,505.0 629.2,504.5 629.2,503.9 629.2,503.0 629.3,501.9 629.3,500.5 629.3,499.2 629.4,497.3 629.4,496.2 629.5,494.8 629.5,493.9 629.5,492.4 629.6,490.9 629.6,489.7 629.7,488.8 629.7,487.8 629.8,486.6 629.8,485.0 629.9,483.9 630.0,482.4 630.0,481.4 630.1,480.1 630.2,479.1 630.2,477.7 630.3,476.3 630.3,475.0 630.4,474.1 630.5,473.4 630.5,472.2 630.6,470.9 630.7,469.6 630.7,468.5 630.8,466.8 630.8,465.5 630.9,464.0 631.0,463.3 631.0,462.2 631.1,461.3 631.2,459.3 631.2,458.1 631.3,456.9 631.3,455.9 631.4,454.8 631.5,455.9 631.5,457.3 631.6,458.2 631.7,459.1 631.7,460.3 631.8,462.3 631.9,463.8 631.9,465.1 632.0,465.5 632.1,466.6 632.1,467.6 632.2,468.8 632.3,470.3 632.3,471.6 632.4,473.2 632.4,474.0 632.5,475.4 632.6,476.4 632.6,478.0 632.7,479.0 632.8,480.1 632.8,481.4 632.9,482.5 633.0,483.9 633.0,484.7 633.1,486.0 633.2,487.2 633.2,488.6 633.3,489.8 633.5,491.3 633.8,492.4 634.0,493.9 634.0,495.4 634.1,497.1 634.1,498.0 634.1,499.2 634.1,500.3 634.2,501.9 634.2,503.1 634.2,504.2 634.2,505.4 634.3,506.7 634.3,507.9 634.3,508.8 634.4,509.8 634.4,511.2 634.4,512.4 634.4,513.5 634.5,514.8 634.5,516.4 634.5,517.8 634.6,518.6 634.6,520.1 634.6,521.6 634.6,523.1 634.7,524.0 634.7,524.6 634.7,526.1 634.7,527.5 634.8,528.8 634.8,530.1 634.8,531.5 634.9,533.0 634.9,533.6 634.9,534.6 634.9,535.9 635.0,537.2 635.0,538.6 635.0,540.0 635.1,541.7 635.1,542.6 635.1,543.4 635.1,544.6 635.2,546.1 635.2,547.7 635.2,549.0 635.3,550.0 635.3,550.9 635.3,551.5 635.3,552.9 635.4,554.7 635.4,556.2 635.4,557.1 635.5,558.0 635.5,559.4 635.5,560.5 635.6,561.4 635.6,562.3 635.6,564.2 635.7,565.5 635.7,567.1 635.8,568.3 635.8,570.0 635.8,571.4 635.9,572.6 635.9,573.2 636.0,574.1 636.0,574.9 636.0,576.3 636.1,578.2 636.1,579.2 636.2,580.7 636.2,581.1 636.2,583.0 636.3,584.4 636.3,585.8 636.4,587.3 636.4,588.3 636.5,589.9 636.5,590.8 636.6,591.9 636.6,592.8 636.7,593.9 636.7,595.4 636.8,596.7 636.8,598.5 636.9,599.5 636.9,600.6 637.0,601.2 637.1,602.4 637.1,603.4 637.2,604.6 637.4,606.2 637.6,607.9 637.7,606.7 637.8,605.3 637.8,604.1 637.9,603.0 638.0,601.7 638.1,600.0 638.2,598.5 638.3,596.8 638.4,595.6 638.5,594.1 638.6,592.9 638.7,591.5 638.8,590.3 638.8,589.0 638.9,587.6 639.0,586.5 639.1,585.2 639.2,583.7 639.2,582.3 639.3,580.9 639.4,579.7 639.4,578.4 639.5,577.1 639.6,575.4 639.6,574.2 639.7,573.6 639.7,572.7 639.8,571.2 639.9,569.9 640.0,568.5 640.1,567.1 640.2,565.4 640.3,564.5 640.4,562.9 640.5,562.0 640.7,563.3 640.9,565.1 641.0,566.2 641.2,567.2 641.4,568.4 641.5,569.6 641.7,571.3 641.9,572.5 642.0,574.1 642.1,575.4 642.2,577.1 642.3,578.6 642.4,579.8 642.4,581.0 642.5,582.5 642.9,581.4 643.2,579.9 643.4,578.3 643.7,576.8 643.9,575.8 644.1,577.1 644.2,578.6 644.4,580.2 644.6,581.3 644.7,582.3 644.7,582.9 644.8,584.2 644.9,585.9 645.0,587.7 645.1,589.7 645.2,590.4 645.3,591.4 645.4,592.6 645.4,594.4 645.5,596.0 645.5,597.1 645.6,598.1 645.7,599.2 645.7,600.2 645.8,601.6 645.8,602.8 645.9,604.1 646.0,605.4 646.0,606.5 646.1,607.5 646.1,608.5 646.2,609.9 646.3,611.2 646.3,612.8 646.4,614.1 646.5,615.3 646.5,616.3 646.6,618.0 646.8,619.2 647.0,620.1 647.2,621.0 647.9,621.8 648.1,621.1 648.2,620.0 648.3,618.9 648.5,617.3 648.6,615.8 648.8,614.4 648.9,613.0 649.1,612.3 649.3,610.6 649.4,609.4 649.6,607.8 649.8,607.1 649.9,606.0 650.2,604.5 650.4,603.1 650.6,601.3 650.7,599.7 650.8,598.6 650.9,597.1 651.0,595.9 651.1,594.1 651.2,592.8 651.3,591.1 651.4,592.4 651.5,594.0 651.6,595.8 651.7,597.4 651.8,598.7 651.9,599.9 652.1,601.1 652.2,602.6 652.4,603.9 652.5,604.9 652.6,605.9 652.8,604.9 653.1,604.1 653.3,602.8 653.6,603.9 654.0,605.2 654.3,607.0 654.6,608.2 654.8,609.3 654.9,610.7 655.0,612.7 655.2,614.4 655.3,615.2 655.4,616.1 655.5,617.1 655.6,618.7 655.7,619.8 655.8,621.1 655.9,622.4 656.0,624.3 656.1,625.9 656.2,627.3 656.3,628.3 656.4,629.3 656.5,630.5 656.6,632.1 657.0,633.8 657.3,635.6 658.0,634.1 658.1,632.5 658.2,630.5 658.3,629.1 658.4,627.4 658.5,626.8 658.6,625.2 658.7,624.2 658.8,622.3 658.9,621.0 659.0,619.4 659.1,618.6 659.2,617.4 659.3,616.0 659.5,614.0 659.7,612.6 659.8,611.4 660.0,610.2 660.1,609.2 660.1,608.0 660.2,607.0 660.3,605.6 660.3,604.3 660.4,602.9 660.4,601.5 660.5,600.5 660.6,599.5 660.6,598.2 660.7,596.9 660.7,595.8 660.8,595.0 660.9,594.0 660.9,592.5 661.0,591.3 661.0,589.5 661.1,588.2 661.2,586.6 661.2,585.4 661.3,584.4 661.4,583.7 661.5,582.8 661.6,581.4 661.8,579.8 661.9,578.3 662.0,576.9 662.1,576.1 662.2,575.1 662.3,574.0 662.4,572.0 662.5,570.2 662.6,568.6 662.7,567.4 662.8,566.3 662.9,565.0 662.9,564.0 663.0,562.6 663.1,560.9 663.2,559.2 663.3,557.8 663.4,556.9 663.5,556.1 663.5,555.0 663.6,553.4 663.7,551.9 663.8,550.5 663.9,549.4 664.0,548.1 664.0,546.2 664.2,544.8 664.3,543.4 664.4,542.3 664.6,540.8 664.7,539.5 664.9,540.9 665.2,541.8 665.4,543.1 665.4,544.4 665.5,546.0 665.6,546.9 665.6,548.1 665.7,549.5 665.7,551.0 665.8,552.3 665.9,553.3 665.9,554.3 666.0,555.5 666.1,556.8 666.2,558.3 666.3,560.2 666.4,561.7 666.5,563.1 666.6,563.4 666.7,564.6 666.9,566.1 667.1,567.6 667.2,568.9 667.4,569.6 668.1,571.2 668.7,572.5 668.9,574.5 669.1,576.0 669.2,577.4 669.4,578.8 669.5,579.9 669.6,581.3 669.7,582.3 669.9,583.5 670.0,585.1 670.1,586.7 670.2,588.0 670.3,589.2 670.4,590.3 670.5,591.5 670.6,592.9 670.8,594.1 670.8,596.0 670.9,597.2 671.0,599.0 671.1,600.2 671.2,601.7 671.3,602.9 671.3,604.3 671.4,605.5 672.1,607.0 672.8,608.1 673.1,609.6 673.4,611.0 673.6,612.4 673.7,613.7 673.8,614.6 674.0,615.9 674.1,617.2 674.8,615.9 675.0,614.4 675.1,613.0 675.3,611.8 675.5,610.7 675.9,609.4" fill="none" stroke="#2b8d2b" stroke-width="1.12" stroke-linejoin="round" stroke-linecap="round" stroke-opacity="0.95"/>
<polyline points="506.8,581.5 507.5,581.2 508.1,580.9 508.8,580.4 509.5,579.9 509.9,579.0 510.4,578.4 510.8,577.3 511.3,576.1 511.7,574.2 512.2,573.3 512.6,573.0 513.0,572.9 513.5,572.5 513.9,572.0 514.4,571.4 514.8,570.3 515.3,569.3 515.7,568.0 516.2,566.8 516.9,565.9 517.5,565.1 518.2,564.5 518.9,564.2 519.3,563.6 519.8,562.6 520.2,561.0 520.9,560.9 521.6,560.3 522.9,560.5 523.3,560.9 523.8,562.0 524.2,562.9 524.7,563.4 525.1,564.0 525.6,564.6 526.9,565.3 528.3,566.4 529.6,566.3 531.0,565.5 532.3,564.7 533.6,563.9 535.0,564.6 535.7,565.0 536.3,566.1 537.0,566.8 537.7,566.7 538.4,566.4 539.0,565.8 539.7,565.8 540.4,564.9 541.7,564.8 542.4,565.2 543.1,565.8 543.7,567.2 544.4,568.4 545.1,569.5 545.7,570.5 546.4,571.0 547.1,572.0 547.8,572.7 548.4,573.3 549.1,573.6 549.8,574.2 550.4,575.6 551.1,575.6 551.8,576.6 552.5,577.3 553.8,578.6 555.1,577.8 556.5,578.6 557.8,577.9 559.2,577.1 560.5,575.7 562.0,575.9 562.1,575.1 562.1,574.4 562.2,573.0 562.3,571.8 562.4,569.8 563.7,569.9 564.4,569.5 565.1,571.1 565.7,572.0 566.4,574.1 567.7,573.8 568.4,573.0 569.1,571.7 569.8,570.4 570.4,569.8 571.1,569.2 571.8,569.3 572.5,568.0 573.1,567.4 573.8,568.0 574.5,569.4 575.8,569.5 576.5,570.0 577.2,568.8 577.8,567.9 578.5,566.1 579.2,565.3 579.8,565.2 581.2,565.4 581.9,564.6 582.5,563.5 583.9,563.6 584.5,562.9 585.2,562.2 586.6,561.8 587.2,562.3 587.9,561.8 588.6,561.0 589.2,559.4 589.9,559.2 590.6,558.5 591.3,560.1 591.9,559.7 592.4,560.7 592.8,560.7 593.3,561.9 593.7,562.8 594.2,564.0 594.6,564.9 595.3,565.2 596.0,566.1 597.3,566.8 598.6,567.0 600.0,566.0 601.3,564.7 602.0,564.2 602.7,562.7 604.0,563.3 604.7,564.7 605.4,565.8 606.7,566.6 607.2,566.4 607.6,567.2 608.1,567.7 608.7,568.8 609.4,569.6 609.7,570.8 610.1,572.0 610.4,573.4 610.7,574.1 611.2,575.3 611.6,576.3 612.1,578.0 612.5,578.1 613.0,579.5 613.4,579.5 613.9,580.2 614.3,580.4 614.8,581.6 615.1,583.3 615.4,584.2 615.8,585.6 616.1,586.9 617.5,586.9 618.1,584.9 618.2,583.3 618.3,582.8 618.3,582.6 618.4,581.6 618.4,580.1 618.5,578.8 618.6,578.3 618.6,577.4 618.7,576.8 618.7,575.6 618.8,575.0 618.9,573.4 618.9,572.8 619.0,571.8 619.1,570.6 619.1,569.5 619.2,568.4 619.3,568.3 619.3,567.1 619.4,566.1 619.5,564.9 619.6,563.6 619.6,562.6 619.7,561.5 619.8,560.9 619.9,560.2 620.0,559.2 620.1,557.7 620.1,556.9 620.5,556.0 620.8,555.5 621.2,554.4 621.5,554.0 621.7,553.2 621.9,553.9 622.2,554.3 622.4,556.0 622.6,556.4 622.8,556.7 623.1,557.3 623.3,559.1 623.5,560.7 623.7,561.1 624.4,562.2 625.7,562.9 626.4,564.1 627.1,564.3 628.4,564.4 628.9,563.1 629.3,562.9 629.8,562.1 630.5,561.1 631.1,561.8 631.6,562.7 632.0,563.4 632.5,564.3 633.1,565.0 633.8,565.9 634.3,567.3 634.7,568.2 635.2,569.6 635.6,568.5 636.0,567.7 636.5,566.5 637.2,565.5 637.8,565.2 639.2,565.6 639.4,564.2 639.6,563.1 639.9,562.4 640.5,561.4 640.7,562.3 640.9,563.4 641.0,564.8 641.2,565.1 641.4,565.8 641.6,566.1 641.9,567.2 642.5,567.6 643.2,568.3 643.7,569.6 644.1,570.4 644.6,571.8 644.7,572.6 644.8,573.5 644.9,574.3 645.0,575.3 645.1,576.8 645.2,577.6 645.3,578.8 645.4,579.6 645.4,581.0 645.5,581.0 645.6,581.4 645.6,582.3 645.7,583.6 645.8,585.0 645.8,586.0 645.9,586.5 646.0,587.5 646.1,588.8 646.2,590.5 646.2,591.4 646.3,592.0 646.4,592.7 646.5,593.9 646.6,595.2 646.6,596.1 646.7,596.9 646.8,597.5 646.8,598.8 646.9,599.8 647.0,600.3 647.0,601.4 647.1,602.3 647.2,603.3 647.2,603.7 647.4,603.9 647.5,605.0 647.6,606.1 647.7,607.1 647.8,607.9 647.9,608.4 648.6,609.9 649.3,609.2 649.9,608.5 650.0,608.0 650.2,607.3 650.3,606.4 650.4,605.7 650.5,604.7 650.6,604.3 650.8,602.6 650.9,602.2 651.1,600.8 651.3,599.9 651.9,598.2 652.6,596.6 652.8,597.4 653.1,598.3 653.3,599.5 654.0,598.6 655.3,598.6 656.0,599.5 656.6,600.1 657.1,599.3 657.5,598.4 658.0,597.8 658.7,597.2 659.3,595.9 660.7,595.0 661.4,594.5 662.0,594.3 662.7,595.6 663.4,595.7 664.7,596.6 666.1,597.3" fill="none" stroke="#128012" stroke-width="1.85" stroke-linejoin="round" stroke-linecap="round" stroke-opacity="1.00"/>
</g>
<line x1="489.8" y1="541.8" x2="686.5" y2="541.8" stroke="#3a3a3a" stroke-width="1.0"/>
<rect x="489.8" y="444.0" width="196.7" height="195.2" fill="none" stroke="#a8a8a8" stroke-width="0.95"/>
<rect x="680.0" y="447.8" width="3.5" height="3" fill="#fff" stroke="#ddd" stroke-width="0.5" rx="0.6"/>
<line x1="488.0" y1="444.00" x2="489.8" y2="444.00" stroke="#777" stroke-width="0.5"/>
<text x="484.9" y="445.90" font-size="5.4" text-anchor="end" font-family='"Liberation Sans", sans-serif' fill="#222">3</text>
<line x1="488.0" y1="476.53" x2="489.8" y2="476.53" stroke="#777" stroke-width="0.5"/>
<text x="484.9" y="478.43" font-size="5.4" text-anchor="end" font-family='"Liberation Sans", sans-serif' fill="#222">2</text>
<line x1="488.0" y1="509.07" x2="489.8" y2="509.07" stroke="#777" stroke-width="0.5"/>
<text x="484.9" y="510.97" font-size="5.4" text-anchor="end" font-family='"Liberation Sans", sans-serif' fill="#222">1</text>
<line x1="488.0" y1="541.60" x2="489.8" y2="541.60" stroke="#777" stroke-width="0.5"/>
<text x="484.9" y="543.50" font-size="5.4" text-anchor="end" font-family='"Liberation Sans", sans-serif' fill="#222">0</text>
<line x1="488.0" y1="574.13" x2="489.8" y2="574.13" stroke="#777" stroke-width="0.5"/>
<text x="484.9" y="576.03" font-size="5.4" text-anchor="end" font-family='"Liberation Sans", sans-serif' fill="#222">−1</text>
<line x1="488.0" y1="606.67" x2="489.8" y2="606.67" stroke="#777" stroke-width="0.5"/>
<text x="484.9" y="608.57" font-size="5.4" text-anchor="end" font-family='"Liberation Sans", sans-serif' fill="#222">−2</text>
<line x1="488.0" y1="639.20" x2="489.8" y2="639.20" stroke="#777" stroke-width="0.5"/>
<text x="484.9" y="641.10" font-size="5.4" text-anchor="end" font-family='"Liberation Sans", sans-serif' fill="#222">−3</text>
<line x1="497.0" y1="639.20" x2="497.0" y2="641.00" stroke="#777" stroke-width="0.5"/>
<text x="497.0" y="646.70" font-size="5.4" text-anchor="middle" font-family='"Liberation Sans", sans-serif' fill="#222">893</text>
<line x1="678.7" y1="639.20" x2="678.7" y2="641.00" stroke="#777" stroke-width="0.5"/>
<text x="678.7" y="646.70" font-size="5.4" text-anchor="middle" font-family='"Liberation Sans", sans-serif' fill="#222">1185</text>
<text x="587.8" y="653.80" font-size="5.65" text-anchor="middle" font-family='"Liberation Sans", sans-serif' fill="#222">Sequence position</text>
<text transform="translate(474.3,542.9) rotate(-90)" font-size="5.75" text-anchor="middle" font-family='"Liberation Sans", sans-serif' fill="#222">Knowledge-based energy</text>
<path d="M90.45 385.00V356.13H92.22V385.00ZM92.22 385.00V357.45H93.98V385.00ZM93.98 385.00V358.37H95.75V385.00ZM95.75 385.00V358.76H97.51V385.00ZM97.51 385.00V359.42H99.28V385.00ZM99.28 385.00V362.04H101.04V385.00ZM101.04 385.00V360.73H102.81V385.00ZM102.81 385.00V364.67H104.57V385.00ZM104.57 385.00V358.10H106.34V385.00ZM106.34 385.00V369.93H108.10V385.00ZM108.10 385.00V369.27H109.87V385.00ZM109.87 385.00V361.39H111.63V385.00ZM111.63 385.00V353.50H113.40V385.00ZM113.40 385.00V354.42H115.16V385.00ZM115.16 385.00V360.07H116.93V385.00ZM116.93 385.00V360.73H118.69V385.00ZM118.69 385.00V361.78H120.46V385.00ZM120.46 385.00V361.39H122.22V385.00ZM122.22 385.00V367.30H123.99V385.00ZM123.99 385.00V367.96H125.75V385.00ZM125.75 385.00V368.35H127.52V385.00ZM127.52 385.00V365.33H129.28V385.00ZM129.28 385.00V364.67H131.05V385.00ZM131.05 385.00V359.15H132.81V385.00ZM132.81 385.00V358.37H134.58V385.00ZM134.58 385.00V358.10H136.34V385.00ZM136.34 385.00V356.53H138.11V385.00ZM138.11 385.00V358.37H139.87V385.00ZM139.87 385.00V356.79H141.64V385.00ZM141.64 385.00V373.21H143.41V385.00ZM143.41 385.00V372.56H145.17V385.00ZM145.17 385.00V372.29H146.94V385.00ZM146.94 385.00V367.56H148.70V385.00ZM148.70 385.00V369.27H150.47V385.00ZM150.47 385.00V367.96H152.23V385.00ZM152.23 385.00V375.18H154.00V385.00ZM154.00 385.00V379.12H155.76V385.00ZM155.76 385.00V381.75H157.53V385.00ZM157.53 385.00V375.18H159.29V385.00ZM159.29 385.00V374.53H161.06V385.00ZM161.06 385.00V372.56H162.82V385.00ZM162.82 385.00V373.87H164.59V385.00ZM164.59 385.00V375.18H166.35V385.00ZM166.35 385.00V373.21H168.12V385.00ZM168.12 385.00V367.30H169.88V385.00ZM169.88 385.00V351.27H171.65V385.00ZM171.65 385.00V364.67H173.41V385.00ZM173.41 385.00V365.33H175.18V385.00ZM175.18 385.00V373.61H176.94V385.00ZM176.94 385.00V377.81H178.71V385.00ZM178.71 385.00V378.07H180.47V385.00ZM180.47 385.00V377.81H182.24V385.00ZM182.24 385.00V369.27H184.00V385.00ZM184.00 385.00V352.19H185.77V385.00ZM185.77 385.00V354.16H187.53V385.00ZM187.53 385.00V361.39H189.30V385.00ZM189.30 385.00V354.42H191.06V385.00ZM191.06 385.00V354.42H192.83V385.00ZM192.83 385.00V363.36H194.59V385.00ZM194.59 385.00V373.21H196.36V385.00ZM196.36 385.00V359.42H198.13V385.00ZM198.13 385.00V343.39H199.89V385.00ZM199.89 385.00V344.96H201.66V385.00ZM201.66 385.00V351.27H203.42V385.00ZM203.42 385.00V354.42H205.19V385.00ZM205.19 385.00V340.37H206.95V385.00ZM206.95 385.00V338.39H208.72V385.00ZM208.72 385.00V357.45H210.48V385.00ZM210.48 385.00V352.19H212.25V385.00ZM212.25 385.00V365.33H214.01V385.00ZM214.01 385.00V366.64H215.78V385.00ZM215.78 385.00V369.27H217.54V385.00ZM217.54 385.00V369.93H219.31V385.00ZM219.31 385.00V370.58H221.07V385.00ZM221.07 385.00V363.36H222.84V385.00ZM222.84 385.00V369.93H224.60V385.00ZM224.60 385.00V371.24H226.37V385.00ZM226.37 385.00V368.61H228.13V385.00ZM228.13 385.00V368.35H229.90V385.00ZM229.90 385.00V368.88H231.66V385.00ZM231.66 385.00V371.24H233.43V385.00ZM233.43 385.00V373.87H235.19V385.00ZM235.19 385.00V372.56H236.96V385.00ZM236.96 385.00V373.21H238.72V385.00ZM238.72 385.00V379.12H240.49V385.00ZM240.49 385.00V378.86H242.25V385.00ZM242.25 385.00V370.19H244.02V385.00ZM244.02 385.00V377.15H245.78V385.00ZM245.78 385.00V377.81H247.55V385.00ZM247.55 385.00V382.41H249.31V385.00ZM249.31 385.00V377.15H251.08V385.00ZM251.08 385.00V377.15H252.85V385.00ZM252.85 385.00V376.50H254.61V385.00ZM254.61 385.00V371.24H256.38V385.00ZM256.38 385.00V355.47H258.14V385.00ZM258.14 385.00V356.13H259.91V385.00ZM259.91 385.00V352.19H261.67V385.00ZM261.67 385.00V332.48H263.44V385.00ZM263.44 385.00V341.02H265.20V385.00ZM265.20 385.00V338.39H266.97V385.00ZM266.97 385.00V341.68H268.73V385.00ZM268.73 385.00V336.42H270.50V385.00ZM270.50 385.00V344.31H272.26V385.00ZM272.26 385.00V341.68H274.03V385.00ZM274.03 385.00V342.99H275.79V385.00ZM275.79 385.00V354.16H277.56V385.00ZM277.56 385.00V362.04H279.32V385.00ZM279.32 385.00V371.24H281.09V385.00ZM281.09 385.00V369.27H282.85V385.00ZM282.85 385.00V359.42H284.62V385.00ZM284.62 385.00V369.27H286.38V385.00ZM286.38 385.00V375.18H288.15V385.00ZM288.15 385.00V380.44H289.91V385.00ZM289.91 385.00V381.10H291.68V385.00ZM291.68 385.00V372.56H293.44V385.00ZM293.44 385.00V355.47H295.21V385.00ZM295.21 385.00V353.50H296.97V385.00ZM296.97 385.00V349.56H298.74V385.00ZM298.74 385.00V337.74H300.50V385.00ZM300.50 385.00V356.13H302.27V385.00ZM302.27 385.00V364.02H304.04V385.00ZM304.04 385.00V362.04H305.80V385.00ZM305.80 385.00V361.39H307.57V385.00ZM307.57 385.00V371.90H309.33V385.00ZM309.33 385.00V376.50H311.10V385.00ZM311.10 385.00V381.10H312.86V385.00ZM312.86 385.00V381.10H314.63V385.00ZM314.63 385.00V377.81H316.39V385.00ZM316.39 385.00V377.15H318.16V385.00ZM318.16 385.00V372.56H319.92V385.00ZM319.92 385.00V374.53H321.69V385.00ZM321.69 385.00V369.27H323.45V385.00ZM323.45 385.00V363.36H325.22V385.00ZM325.22 385.00V352.19H326.98V385.00ZM326.98 385.00V354.16H328.75V385.00ZM328.75 385.00V356.13H330.51V385.00ZM330.51 385.00V359.42H332.28V385.00ZM332.28 385.00V377.15H334.04V385.00ZM334.04 385.00V373.87H335.81V385.00ZM335.81 385.00V375.18H337.57V385.00ZM337.57 385.00V381.75H339.34V385.00ZM339.34 385.00V378.47H341.10V385.00ZM341.10 385.00V373.21H342.87V385.00ZM342.87 385.00V371.90H344.63V385.00ZM344.63 385.00V373.87H346.40V385.00ZM346.40 385.00V374.53H348.16V385.00ZM348.16 385.00V373.21H349.93V385.00ZM349.93 385.00V367.96H351.69V385.00ZM351.69 385.00V364.02H353.46V385.00ZM353.46 385.00V360.73H355.22V385.00ZM355.22 385.00V365.33H356.99V385.00ZM356.99 385.00V357.45H358.76V385.00ZM358.76 385.00V367.30H360.52V385.00ZM360.52 385.00V364.02H362.29V385.00ZM362.29 385.00V367.96H364.05V385.00ZM364.05 385.00V360.73H365.82V385.00ZM365.82 385.00V367.96H367.58V385.00ZM367.58 385.00V373.87H369.35V385.00ZM369.35 385.00V375.18H371.11V385.00ZM371.11 385.00V370.58H372.88V385.00ZM372.88 385.00V376.50H374.64V385.00ZM374.64 385.00V362.70H376.41V385.00ZM376.41 385.00V367.30H378.17V385.00ZM378.17 385.00V362.70H379.94V385.00ZM379.94 385.00V349.56H381.70V385.00ZM381.70 385.00V358.10H383.47V385.00ZM383.47 385.00V356.13H385.23V385.00ZM385.23 385.00V355.21H387.00V385.00ZM387.00 385.00V353.50H388.76V385.00ZM388.76 385.00V353.50H390.53V385.00ZM392.29 385.00V353.50H394.06V385.00ZM394.06 385.00V360.73H395.82V385.00ZM395.82 385.00V369.93H397.59V385.00ZM397.59 385.00V355.21H399.35V385.00ZM399.35 385.00V360.07H401.12V385.00ZM401.12 385.00V358.10H402.88V385.00ZM402.88 385.00V364.67H404.65V385.00ZM404.65 385.00V364.67H406.41V385.00ZM406.41 385.00V373.87H408.18V385.00ZM408.18 385.00V380.44H409.95V385.00ZM409.95 385.00V369.27H411.71V385.00ZM411.71 385.00V369.93H413.48V385.00ZM413.48 385.00V372.56H415.24V385.00ZM415.24 385.00V371.90H417.01V385.00ZM417.01 385.00V365.33H418.77V385.00ZM418.77 385.00V361.39H420.54V385.00ZM420.54 385.00V367.96H422.30V385.00ZM422.30 385.00V369.93H424.07V385.00ZM424.07 385.00V370.58H425.83V385.00ZM425.83 385.00V371.24H427.60V385.00ZM427.60 385.00V375.18H429.36V385.00ZM429.36 385.00V373.21H431.13V385.00ZM431.13 385.00V369.66H432.89V385.00ZM432.89 385.00V371.90H434.66V385.00ZM434.66 385.00V376.50H436.42V385.00ZM436.42 385.00V369.27H438.19V385.00ZM438.19 385.00V368.35H439.95V385.00ZM439.95 385.00V366.64H441.72V385.00ZM441.72 385.00V362.04H443.48V385.00ZM443.48 385.00V360.07H445.25V385.00ZM445.25 385.00V358.76H447.01V385.00ZM447.01 385.00V367.96H448.78V385.00ZM448.78 385.00V365.99H450.54V385.00ZM450.54 385.00V367.96H452.31V385.00ZM452.31 385.00V367.30H454.07V385.00ZM454.07 385.00V369.93H455.84V385.00ZM455.84 385.00V370.58H457.60V385.00ZM457.60 385.00V369.93H459.37V385.00ZM459.37 385.00V367.96H461.13V385.00ZM461.13 385.00V365.99H462.90V385.00ZM462.90 385.00V363.36H464.67V385.00ZM464.67 385.00V367.96H466.43V385.00ZM466.43 385.00V369.27H468.20V385.00ZM468.20 385.00V368.61H469.96V385.00ZM469.96 385.00V368.61H471.73V385.00ZM471.73 385.00V370.58H473.49V385.00ZM473.49 385.00V369.93H475.26V385.00ZM475.26 385.00V368.61H477.02V385.00ZM477.02 385.00V364.67H478.79V385.00ZM478.79 385.00V364.02H480.55V385.00ZM480.55 385.00V363.36H482.32V385.00ZM482.32 385.00V371.24H484.08V385.00ZM484.08 385.00V361.39H485.85V385.00ZM485.85 385.00V363.36H487.61V385.00ZM487.61 385.00V371.24H489.38V385.00ZM489.38 385.00V375.18H491.14V385.00ZM491.14 385.00V377.81H492.91V385.00ZM492.91 385.00V376.50H494.67V385.00ZM494.67 385.00V374.53H496.44V385.00ZM496.44 385.00V375.84H498.20V385.00ZM498.20 385.00V375.18H499.97V385.00ZM499.97 385.00V379.78H501.73V385.00ZM501.73 385.00V381.75H503.50V385.00ZM503.50 385.00V383.07H505.26V385.00ZM505.26 385.00V378.47H507.03V385.00ZM507.03 385.00V374.53H508.79V385.00ZM508.79 385.00V365.33H510.56V385.00ZM510.56 385.00V353.50H512.32V385.00ZM512.32 385.00V348.25H514.09V385.00ZM514.09 385.00V348.91H515.86V385.00ZM515.86 385.00V353.50H517.62V385.00ZM517.62 385.00V367.30H519.39V385.00ZM519.39 385.00V356.13H521.15V385.00ZM521.15 385.00V340.37H522.92V385.00ZM522.92 385.00V352.19H524.68V385.00ZM524.68 385.00V350.36H526.45V385.00ZM526.45 385.00V359.85H528.21V385.00ZM528.21 385.00V347.45H529.98V385.00ZM529.98 385.00V347.45H531.74V385.00ZM531.74 385.00V353.28H533.51V385.00ZM533.51 385.00V348.18H535.27V385.00ZM535.27 385.00V348.91H537.04V385.00ZM537.04 385.00V354.74H538.80V385.00ZM538.80 385.00V353.28H540.57V385.00ZM540.57 385.00V352.55H542.33V385.00ZM542.33 385.00V367.15H544.10V385.00ZM544.10 385.00V354.01H545.86V385.00ZM545.86 385.00V354.74H547.63V385.00ZM547.63 385.00V353.28H549.39V385.00ZM549.39 385.00V363.50H551.16V385.00ZM551.16 385.00V377.37H552.92V385.00ZM552.92 385.00V346.42H554.69V385.00ZM554.69 385.00V354.01H556.45V385.00ZM556.45 385.00V356.20H558.22V385.00ZM558.22 385.00V362.77H559.98V385.00ZM559.98 385.00V362.77H561.75V385.00ZM561.75 385.00V370.07H563.51V385.00ZM563.51 385.00V376.64H565.28V385.00ZM565.28 385.00V377.37H567.04V385.00ZM567.04 385.00V367.15H568.81V385.00ZM568.81 385.00V353.28H570.58V385.00ZM570.58 385.00V353.28H572.34V385.00ZM572.34 385.00V331.39H574.11V385.00ZM574.11 385.00V337.96H575.87V385.00ZM577.64 385.00V346.72H579.40V385.00ZM579.40 385.00V335.04H581.17V385.00ZM581.17 385.00V335.04H582.93V385.00ZM582.93 385.00V335.04H584.70V385.00ZM584.70 385.00V353.28H586.46V385.00ZM586.46 385.00V354.01H588.23V385.00ZM588.23 385.00V360.58H589.99V385.00ZM589.99 385.00V361.31H591.76V385.00ZM591.76 385.00V361.31H593.52V385.00ZM593.52 385.00V362.04H595.29V385.00ZM595.29 385.00V364.23H597.05V385.00ZM597.05 385.00V367.15H598.82V385.00ZM598.82 385.00V375.18H600.58V385.00ZM600.58 385.00V374.45H602.35V385.00ZM602.35 385.00V375.18H604.11V385.00ZM604.11 385.00V366.42H605.88V385.00ZM605.88 385.00V363.50H607.64V385.00ZM607.64 385.00V362.48H609.41V385.00ZM609.41 385.00V368.32H611.17V385.00ZM611.17 385.00V370.07H612.94V385.00ZM612.94 385.00V375.18H614.70V385.00ZM614.70 385.00V366.42H616.47V385.00ZM616.47 385.00V366.42H618.23V385.00ZM618.23 385.00V367.15H620.00V385.00Z" fill="#fbfbfb" stroke="#6c6c6c" stroke-width="0.36"/>
<rect x="390.53" y="324.99" width="1.77" height="60.01" fill="#d8d000" stroke="#707000" stroke-width="0.4"/>
<rect x="575.87" y="326.28" width="1.77" height="58.72" fill="#d8d000" stroke="#707000" stroke-width="0.4"/>
<line x1="90.5" y1="304.50" x2="620.0" y2="304.50" stroke="#7a7a7a" stroke-width="0.9"/>
<line x1="90.5" y1="330.80" x2="620.0" y2="330.80" stroke="#8a8a8a" stroke-width="0.9"/>
<rect x="90.5" y="258.1" width="529.5" height="126.9" fill="none" stroke="#6e6e6e" stroke-width="0.8"/>
<line x1="88.7" y1="304.50" x2="90.5" y2="304.50" stroke="#555" stroke-width="0.6"/>
<line x1="88.7" y1="330.80" x2="90.5" y2="330.80" stroke="#555" stroke-width="0.6"/>
<text x="86.9" y="306.90" font-size="8.45" text-anchor="end" font-family='"Liberation Sans", sans-serif' fill="#222">99%</text>
<text x="86.9" y="333.20" font-size="8.45" text-anchor="end" font-family='"Liberation Sans", sans-serif' fill="#222">95%</text>
<text x="114.4" y="393.40" font-size="9.8" text-anchor="middle" font-family='"Liberation Sans", sans-serif' fill="#111">20</text>
<line x1="114.4" y1="385.00" x2="114.4" y2="386.50" stroke="#666" stroke-width="0.5"/>
<text x="149.3" y="393.40" font-size="9.8" text-anchor="middle" font-family='"Liberation Sans", sans-serif' fill="#111">40</text>
<line x1="149.3" y1="385.00" x2="149.3" y2="386.50" stroke="#666" stroke-width="0.5"/>
<text x="185.0" y="393.40" font-size="9.8" text-anchor="middle" font-family='"Liberation Sans", sans-serif' fill="#111">60</text>
<line x1="185.0" y1="385.00" x2="185.0" y2="386.50" stroke="#666" stroke-width="0.5"/>
<text x="220.7" y="393.40" font-size="9.8" text-anchor="middle" font-family='"Liberation Sans", sans-serif' fill="#111">80</text>
<line x1="220.7" y1="385.00" x2="220.7" y2="386.50" stroke="#666" stroke-width="0.5"/>
<text x="257.0" y="393.40" font-size="9.8" text-anchor="middle" font-family='"Liberation Sans", sans-serif' fill="#111">100</text>
<line x1="257.0" y1="385.00" x2="257.0" y2="386.50" stroke="#666" stroke-width="0.5"/>
<text x="293.5" y="393.40" font-size="9.8" text-anchor="middle" font-family='"Liberation Sans", sans-serif' fill="#111">120</text>
<line x1="293.5" y1="385.00" x2="293.5" y2="386.50" stroke="#666" stroke-width="0.5"/>
<text x="328.8" y="393.40" font-size="9.8" text-anchor="middle" font-family='"Liberation Sans", sans-serif' fill="#111">140</text>
<line x1="328.8" y1="385.00" x2="328.8" y2="386.50" stroke="#666" stroke-width="0.5"/>
<text x="364.1" y="393.40" font-size="9.8" text-anchor="middle" font-family='"Liberation Sans", sans-serif' fill="#111">160</text>
<line x1="364.1" y1="385.00" x2="364.1" y2="386.50" stroke="#666" stroke-width="0.5"/>
<text x="399.4" y="393.40" font-size="9.8" text-anchor="middle" font-family='"Liberation Sans", sans-serif' fill="#111">180</text>
<line x1="399.4" y1="385.00" x2="399.4" y2="386.50" stroke="#666" stroke-width="0.5"/>
<text x="434.8" y="393.40" font-size="9.8" text-anchor="middle" font-family='"Liberation Sans", sans-serif' fill="#111">200</text>
<line x1="434.8" y1="385.00" x2="434.8" y2="386.50" stroke="#666" stroke-width="0.5"/>
<text x="470.0" y="393.40" font-size="9.8" text-anchor="middle" font-family='"Liberation Sans", sans-serif' fill="#111">220</text>
<line x1="470.0" y1="385.00" x2="470.0" y2="386.50" stroke="#666" stroke-width="0.5"/>
<text x="505.3" y="393.40" font-size="9.8" text-anchor="middle" font-family='"Liberation Sans", sans-serif' fill="#111">240</text>
<line x1="505.3" y1="385.00" x2="505.3" y2="386.50" stroke="#666" stroke-width="0.5"/>
<text x="540.3" y="393.40" font-size="9.8" text-anchor="middle" font-family='"Liberation Sans", sans-serif' fill="#111">260</text>
<line x1="540.3" y1="385.00" x2="540.3" y2="386.50" stroke="#666" stroke-width="0.5"/>
<text x="575.6" y="393.40" font-size="9.8" text-anchor="middle" font-family='"Liberation Sans", sans-serif' fill="#111">280</text>
<line x1="575.6" y1="385.00" x2="575.6" y2="386.50" stroke="#666" stroke-width="0.5"/>
<text x="610.5" y="393.40" font-size="9.8" text-anchor="middle" font-family='"Liberation Sans", sans-serif' fill="#111">300</text>
<line x1="610.5" y1="385.00" x2="610.5" y2="386.50" stroke="#666" stroke-width="0.5"/>
<text x="358.7" y="405.00" font-size="10.65" text-anchor="middle" font-family='"Liberation Sans", sans-serif' fill="#111">Residue # (window center)</text>
<text transform="translate(66.8,313.4) rotate(-90)" font-size="10.2" text-anchor="middle" font-family='"Liberation Sans", sans-serif' fill="#111">Error value*</text>
<path d="M101.30 795.60V776.50H103.07V795.60ZM103.07 795.60V774.53H104.84V795.60ZM104.84 795.60V775.84H106.61V795.60ZM106.61 795.60V776.76H108.38V795.60ZM108.38 795.60V777.81H110.15V795.60ZM110.15 795.60V775.84H111.92V795.60ZM111.92 795.60V773.87H113.69V795.60ZM113.69 795.60V774.53H115.47V795.60ZM115.47 795.60V769.27H117.24V795.60ZM117.24 795.60V768.35H119.01V795.60ZM119.01 795.60V760.07H120.78V795.60ZM120.78 795.60V756.79H122.55V795.60ZM122.55 795.60V757.45H124.32V795.60ZM124.32 795.60V756.13H126.09V795.60ZM126.09 795.60V754.16H127.86V795.60ZM127.86 795.60V769.93H129.63V795.60ZM129.63 795.60V773.87H131.40V795.60ZM131.40 795.60V776.23H133.17V795.60ZM133.17 795.60V786.35H134.94V795.60ZM134.94 795.60V785.69H136.71V795.60ZM136.71 795.60V783.07H138.48V795.60ZM138.48 795.60V785.04H140.25V795.60ZM140.25 795.60V781.10H142.03V795.60ZM142.03 795.60V781.75H143.80V795.60ZM143.80 795.60V782.41H145.57V795.60ZM145.57 795.60V787.01H147.34V795.60ZM147.34 795.60V791.61H149.11V795.60ZM149.11 795.60V790.95H150.88V795.60ZM150.88 795.60V776.50H152.65V795.60ZM152.65 795.60V777.15H154.42V795.60ZM154.42 795.60V777.81H156.19V795.60ZM156.19 795.60V776.50H157.96V795.60ZM157.96 795.60V776.50H159.73V795.60ZM159.73 795.60V785.04H161.50V795.60ZM161.50 795.60V763.36H163.27V795.60ZM163.27 795.60V773.87H165.04V795.60ZM165.04 795.60V773.21H166.81V795.60ZM166.81 795.60V764.67H168.59V795.60ZM168.59 795.60V765.99H170.36V795.60ZM170.36 795.60V767.96H172.13V795.60ZM172.13 795.60V764.02H173.90V795.60ZM173.90 795.60V767.96H175.67V795.60ZM175.67 795.60V777.15H177.44V795.60ZM177.44 795.60V781.75H179.21V795.60ZM179.21 795.60V785.69H180.98V795.60ZM180.98 795.60V776.50H182.75V795.60ZM182.75 795.60V777.81H184.52V795.60ZM184.52 795.60V781.10H186.29V795.60ZM186.29 795.60V788.32H188.06V795.60ZM188.06 795.60V784.38H189.83V795.60ZM189.83 795.60V787.01H191.60V795.60ZM191.60 795.60V784.38H193.37V795.60ZM193.37 795.60V779.78H195.15V795.60ZM195.15 795.60V771.24H196.92V795.60ZM196.92 795.60V771.90H198.69V795.60ZM198.69 795.60V777.81H200.46V795.60ZM200.46 795.60V775.18H202.23V795.60ZM202.23 795.60V779.78H204.00V795.60ZM204.00 795.60V781.75H205.77V795.60ZM205.77 795.60V777.81H207.54V795.60ZM207.54 795.60V780.44H209.31V795.60ZM209.31 795.60V778.47H211.08V795.60ZM211.08 795.60V769.93H212.85V795.60ZM212.85 795.60V776.50H214.62V795.60ZM214.62 795.60V777.81H216.39V795.60ZM216.39 795.60V779.78H218.16V795.60ZM218.16 795.60V774.53H219.93V795.60ZM219.93 795.60V781.10H221.71V795.60ZM221.71 795.60V785.69H223.48V795.60ZM223.48 795.60V792.26H225.25V795.60ZM225.25 795.60V788.32H227.02V795.60ZM227.02 795.60V783.07H228.79V795.60ZM228.79 795.60V775.18H230.56V795.60ZM230.56 795.60V765.33H232.33V795.60ZM232.33 795.60V769.27H234.10V795.60ZM234.10 795.60V772.56H235.87V795.60ZM237.64 795.60V757.45H239.41V795.60ZM239.41 795.60V757.45H241.18V795.60ZM241.18 795.60V762.04H242.95V795.60ZM242.95 795.60V771.90H244.72V795.60ZM244.72 795.60V769.27H246.50V795.60ZM246.50 795.60V775.18H248.27V795.60ZM248.27 795.60V775.18H250.04V795.60ZM250.04 795.60V777.15H251.81V795.60ZM251.81 795.60V777.81H253.58V795.60ZM253.58 795.60V772.56H255.35V795.60ZM255.35 795.60V776.50H257.12V795.60ZM257.12 795.60V781.75H258.89V795.60ZM258.89 795.60V782.41H260.66V795.60ZM260.66 795.60V776.50H262.43V795.60ZM262.43 795.60V777.81H264.20V795.60ZM264.20 795.60V778.47H265.97V795.60ZM265.97 795.60V783.72H267.74V795.60ZM267.74 795.60V781.10H269.51V795.60ZM269.51 795.60V784.38H271.28V795.60ZM271.28 795.60V783.72H273.06V795.60ZM273.06 795.60V779.78H274.83V795.60ZM274.83 795.60V779.12H276.60V795.60ZM276.60 795.60V783.07H278.37V795.60ZM278.37 795.60V780.44H280.14V795.60ZM280.14 795.60V780.44H281.91V795.60ZM281.91 795.60V779.12H283.68V795.60ZM283.68 795.60V779.12H285.45V795.60ZM285.45 795.60V780.44H287.22V795.60ZM287.22 795.60V777.55H288.99V795.60ZM288.99 795.60V779.12H290.76V795.60ZM290.76 795.60V794.23H292.53V795.60ZM292.53 795.60V793.58H294.30V795.60ZM294.30 795.60V792.92H296.07V795.60ZM296.07 795.60V787.67H297.84V795.60ZM297.84 795.60V783.07H299.62V795.60ZM299.62 795.60V784.38H301.39V795.60ZM301.39 795.60V785.69H303.16V795.60ZM303.16 795.60V791.61H304.93V795.60ZM304.93 795.60V792.26H306.70V795.60ZM306.70 795.60V791.61H308.47V795.60ZM308.47 795.60V789.64H310.24V795.60ZM310.24 795.60V788.32H312.01V795.60ZM312.01 795.60V787.67H313.78V795.60ZM313.78 795.60V780.44H315.55V795.60ZM315.55 795.60V776.50H317.32V795.60ZM317.32 795.60V776.50H319.09V795.60ZM319.09 795.60V766.64H320.86V795.60ZM320.86 795.60V775.18H322.63V795.60ZM322.63 795.60V779.12H324.40V795.60ZM324.40 795.60V779.12H326.18V795.60ZM326.18 795.60V787.01H327.95V795.60ZM327.95 795.60V787.67H329.72V795.60ZM329.72 795.60V780.44H331.49V795.60ZM331.49 795.60V777.15H333.26V795.60ZM333.26 795.60V785.69H335.03V795.60ZM335.03 795.60V786.35H336.80V795.60ZM336.80 795.60V777.15H338.57V795.60ZM338.57 795.60V777.81H340.34V795.60ZM340.34 795.60V781.75H342.11V795.60ZM342.11 795.60V782.41H343.88V795.60ZM343.88 795.60V786.35H345.65V795.60ZM345.65 795.60V786.35H347.42V795.60ZM347.42 795.60V783.07H349.19V795.60ZM349.19 795.60V778.47H350.96V795.60ZM350.96 795.60V779.12H352.74V795.60ZM352.74 795.60V785.04H354.51V795.60ZM354.51 795.60V788.32H356.28V795.60ZM356.28 795.60V788.98H358.05V795.60ZM358.05 795.60V788.98H359.82V795.60ZM359.82 795.60V776.50H361.59V795.60ZM361.59 795.60V775.69H363.36V795.60ZM363.36 795.60V780.29H365.13V795.60ZM365.13 795.60V775.69H366.90V795.60ZM366.90 795.60V782.92H368.67V795.60ZM368.67 795.60V783.58H370.44V795.60ZM370.44 795.60V783.58H372.21V795.60ZM372.21 795.60V789.49H373.98V795.60ZM373.98 795.60V788.18H375.75V795.60ZM375.75 795.60V784.23H377.52V795.60ZM377.52 795.60V777.67H379.30V795.60ZM379.30 795.60V773.72H381.07V795.60ZM381.07 795.60V762.56H382.84V795.60ZM382.84 795.60V767.15H384.61V795.60ZM384.61 795.60V762.56H386.38V795.60ZM386.38 795.60V762.56H388.15V795.60ZM389.92 795.60V763.87H391.69V795.60ZM391.69 795.60V750.07H393.46V795.60ZM393.46 795.60V757.96H395.23V795.60ZM395.23 795.60V753.36H397.00V795.60ZM397.00 795.60V770.44H398.77V795.60ZM398.77 795.60V778.32H400.54V795.60ZM400.54 795.60V788.83H402.31V795.60ZM402.31 795.60V778.98H404.08V795.60ZM404.08 795.60V785.55H405.86V795.60ZM405.86 795.60V775.04H407.63V795.60ZM407.63 795.60V786.21H409.40V795.60ZM409.40 795.60V776.35H411.17V795.60ZM411.17 795.60V776.35H412.94V795.60ZM412.94 795.60V775.69H414.71V795.60ZM414.71 795.60V777.67H416.48V795.60ZM416.48 795.60V775.04H418.25V795.60ZM418.25 795.60V773.07H420.02V795.60ZM420.02 795.60V748.10H421.79V795.60ZM425.33 795.60V747.45H427.10V795.60ZM427.10 795.60V758.61H428.87V795.60ZM428.87 795.60V773.07H430.64V795.60ZM430.64 795.60V778.32H432.42V795.60ZM432.42 795.60V778.98H434.19V795.60ZM434.19 795.60V776.35H435.96V795.60ZM435.96 795.60V780.95H437.73V795.60ZM437.73 795.60V773.72H439.50V795.60ZM439.50 795.60V771.10H441.27V795.60ZM441.27 795.60V764.53H443.04V795.60ZM443.04 795.60V767.15H444.81V795.60ZM444.81 795.60V769.12H446.58V795.60ZM446.58 795.60V765.18H448.35V795.60ZM448.35 795.60V759.27H450.12V795.60ZM450.12 795.60V755.33H451.89V795.60ZM451.89 795.60V754.67H453.66V795.60ZM453.66 795.60V755.33H455.43V795.60ZM455.43 795.60V749.42H457.20V795.60ZM458.98 795.60V760.58H460.75V795.60ZM460.75 795.60V762.56H462.52V795.60ZM462.52 795.60V763.21H464.29V795.60ZM464.29 795.60V771.75H466.06V795.60ZM466.06 795.60V765.18H467.83V795.60ZM467.83 795.60V764.53H469.60V795.60ZM469.60 795.60V767.81H471.37V795.60ZM471.37 795.60V782.92H473.14V795.60ZM473.14 795.60V774.38H474.91V795.60ZM474.91 795.60V775.04H476.68V795.60ZM476.68 795.60V768.47H478.45V795.60ZM478.45 795.60V771.10H480.22V795.60ZM480.22 795.60V771.10H481.99V795.60ZM487.31 795.60V769.78H489.08V795.60ZM489.08 795.60V774.38H490.85V795.60ZM490.85 795.60V775.04H492.62V795.60ZM492.62 795.60V778.98H494.39V795.60ZM494.39 795.60V780.29H496.16V795.60ZM496.16 795.60V780.95H497.93V795.60ZM497.93 795.60V783.58H499.70V795.60ZM499.70 795.60V784.23H501.47V795.60ZM501.47 795.60V777.67H503.24V795.60ZM503.24 795.60V777.67H505.01V795.60ZM505.01 795.60V785.55H506.78V795.60ZM506.78 795.60V785.55H508.55V795.60ZM508.55 795.60V786.86H510.33V795.60ZM510.33 795.60V787.52H512.10V795.60ZM512.10 795.60V784.23H513.87V795.60ZM513.87 795.60V784.89H515.64V795.60ZM515.64 795.60V786.86H517.41V795.60ZM517.41 795.60V787.52H519.18V795.60ZM519.18 795.60V783.58H520.95V795.60ZM520.95 795.60V788.83H522.72V795.60ZM522.72 795.60V788.83H524.49V795.60ZM524.49 795.60V790.15H526.26V795.60ZM526.26 795.60V791.46H528.03V795.60ZM528.03 795.60V784.89H529.80V795.60ZM529.80 795.60V782.26H531.57V795.60ZM531.57 795.60V775.69H533.34V795.60ZM533.34 795.60V772.41H535.11V795.60ZM535.11 795.60V779.12H536.89V795.60ZM536.89 795.60V770.58H538.66V795.60ZM538.66 795.60V770.58H540.43V795.60ZM540.43 795.60V777.15H542.20V795.60ZM542.20 795.60V769.27H543.97V795.60ZM543.97 795.60V786.35H545.74V795.60ZM545.74 795.60V783.72H547.51V795.60ZM547.51 795.60V784.38H549.28V795.60ZM549.28 795.60V781.10H551.05V795.60ZM551.05 795.60V777.15H552.82V795.60ZM552.82 795.60V784.38H554.59V795.60ZM554.59 795.60V781.10H556.36V795.60ZM556.36 795.60V778.47H558.13V795.60ZM558.13 795.60V781.75H559.90V795.60ZM559.90 795.60V783.07H561.67V795.60ZM561.67 795.60V783.72H563.45V795.60ZM563.45 795.60V783.07H565.22V795.60ZM565.22 795.60V781.75H566.99V795.60ZM566.99 795.60V774.53H568.76V795.60ZM568.76 795.60V778.47H570.53V795.60ZM570.53 795.60V785.69H572.30V795.60ZM572.30 795.60V791.61H574.07V795.60ZM574.07 795.60V791.61H575.84V795.60ZM575.84 795.60V790.95H577.61V795.60ZM577.61 795.60V791.61H579.38V795.60ZM579.38 795.60V792.26H581.15V795.60ZM581.15 795.60V788.32H582.92V795.60ZM582.92 795.60V786.35H584.69V795.60ZM584.69 795.60V785.69H586.46V795.60ZM586.46 795.60V787.67H588.23V795.60ZM588.23 795.60V787.01H590.01V795.60ZM590.01 795.60V784.38H591.78V795.60ZM591.78 795.60V781.10H593.55V795.60ZM593.55 795.60V778.47H595.32V795.60ZM595.32 795.60V781.75H597.09V795.60ZM597.09 795.60V777.81H598.86V795.60ZM598.86 795.60V777.15H600.63V795.60ZM600.63 795.60V777.15H602.40V795.60Z" fill="#fbfbfb" stroke="#6c6c6c" stroke-width="0.36"/>
<rect x="235.87" y="735.11" width="1.77" height="60.49" fill="#d8d000" stroke="#707000" stroke-width="0.4"/>
<rect x="388.15" y="740.22" width="1.77" height="55.38" fill="#d8d000" stroke="#707000" stroke-width="0.4"/>
<rect x="421.79" y="740.22" width="1.77" height="55.38" fill="#d8d000" stroke="#707000" stroke-width="0.4"/>
<rect x="423.56" y="730.37" width="1.77" height="65.23" fill="#d8d000" stroke="#707000" stroke-width="0.4"/>
<rect x="457.20" y="739.17" width="1.77" height="56.43" fill="#d8d000" stroke="#707000" stroke-width="0.4"/>
<line x1="101.3" y1="717.40" x2="602.4" y2="717.40" stroke="#7a7a7a" stroke-width="0.9"/>
<line x1="101.3" y1="743.20" x2="602.4" y2="743.20" stroke="#8a8a8a" stroke-width="0.9"/>
<rect x="101.3" y="673.3" width="501.1" height="122.3" fill="none" stroke="#6e6e6e" stroke-width="0.8"/>
<line x1="99.5" y1="717.40" x2="101.3" y2="717.40" stroke="#555" stroke-width="0.6"/>
<line x1="99.5" y1="743.20" x2="101.3" y2="743.20" stroke="#555" stroke-width="0.6"/>
<text x="97.7" y="719.80" font-size="8.45" text-anchor="end" font-family='"Liberation Sans", sans-serif' fill="#222">99%</text>
<text x="97.7" y="745.60" font-size="8.45" text-anchor="end" font-family='"Liberation Sans", sans-serif' fill="#222">95%</text>
<text x="109.2" y="804.00" font-size="9.8" text-anchor="middle" font-family='"Liberation Sans", sans-serif' fill="#111">900</text>
<line x1="109.2" y1="795.60" x2="109.2" y2="797.10" stroke="#666" stroke-width="0.5"/>
<text x="144.6" y="804.00" font-size="9.8" text-anchor="middle" font-family='"Liberation Sans", sans-serif' fill="#111">920</text>
<line x1="144.6" y1="795.60" x2="144.6" y2="797.10" stroke="#666" stroke-width="0.5"/>
<text x="180.0" y="804.00" font-size="9.8" text-anchor="middle" font-family='"Liberation Sans", sans-serif' fill="#111">940</text>
<line x1="180.0" y1="795.60" x2="180.0" y2="797.10" stroke="#666" stroke-width="0.5"/>
<text x="215.4" y="804.00" font-size="9.8" text-anchor="middle" font-family='"Liberation Sans", sans-serif' fill="#111">960</text>
<line x1="215.4" y1="795.60" x2="215.4" y2="797.10" stroke="#666" stroke-width="0.5"/>
<text x="250.8" y="804.00" font-size="9.8" text-anchor="middle" font-family='"Liberation Sans", sans-serif' fill="#111">980</text>
<line x1="250.8" y1="795.60" x2="250.8" y2="797.10" stroke="#666" stroke-width="0.5"/>
<text x="286.2" y="804.00" font-size="9.8" text-anchor="middle" font-family='"Liberation Sans", sans-serif' fill="#111">1000</text>
<line x1="286.2" y1="795.60" x2="286.2" y2="797.10" stroke="#666" stroke-width="0.5"/>
<text x="321.6" y="804.00" font-size="9.8" text-anchor="middle" font-family='"Liberation Sans", sans-serif' fill="#111">1020</text>
<line x1="321.6" y1="795.60" x2="321.6" y2="797.10" stroke="#666" stroke-width="0.5"/>
<text x="357.0" y="804.00" font-size="9.8" text-anchor="middle" font-family='"Liberation Sans", sans-serif' fill="#111">1040</text>
<line x1="357.0" y1="795.60" x2="357.0" y2="797.10" stroke="#666" stroke-width="0.5"/>
<text x="392.4" y="804.00" font-size="9.8" text-anchor="middle" font-family='"Liberation Sans", sans-serif' fill="#111">1060</text>
<line x1="392.4" y1="795.60" x2="392.4" y2="797.10" stroke="#666" stroke-width="0.5"/>
<text x="427.8" y="804.00" font-size="9.8" text-anchor="middle" font-family='"Liberation Sans", sans-serif' fill="#111">1080</text>
<line x1="427.8" y1="795.60" x2="427.8" y2="797.10" stroke="#666" stroke-width="0.5"/>
<text x="463.2" y="804.00" font-size="9.8" text-anchor="middle" font-family='"Liberation Sans", sans-serif' fill="#111">1100</text>
<line x1="463.2" y1="795.60" x2="463.2" y2="797.10" stroke="#666" stroke-width="0.5"/>
<text x="498.6" y="804.00" font-size="9.8" text-anchor="middle" font-family='"Liberation Sans", sans-serif' fill="#111">1120</text>
<line x1="498.6" y1="795.60" x2="498.6" y2="797.10" stroke="#666" stroke-width="0.5"/>
<text x="534.0" y="804.00" font-size="9.8" text-anchor="middle" font-family='"Liberation Sans", sans-serif' fill="#111">1140</text>
<line x1="534.0" y1="795.60" x2="534.0" y2="797.10" stroke="#666" stroke-width="0.5"/>
<text x="569.4" y="804.00" font-size="9.8" text-anchor="middle" font-family='"Liberation Sans", sans-serif' fill="#111">1160</text>
<line x1="569.4" y1="795.60" x2="569.4" y2="797.10" stroke="#666" stroke-width="0.5"/>
<text x="604.8" y="804.00" font-size="9.8" text-anchor="middle" font-family='"Liberation Sans", sans-serif' fill="#111">1180</text>
<line x1="604.8" y1="795.60" x2="604.8" y2="797.10" stroke="#666" stroke-width="0.5"/>
<text x="355.3" y="815.20" font-size="10.65" text-anchor="middle" font-family='"Liberation Sans", sans-serif' fill="#111">Residue # (window center)</text>
<text transform="translate(78.2,726.2) rotate(-90)" font-size="10.2" text-anchor="middle" font-family='"Liberation Sans", sans-serif' fill="#111">Error value*</text>
</svg>
</body></html>
